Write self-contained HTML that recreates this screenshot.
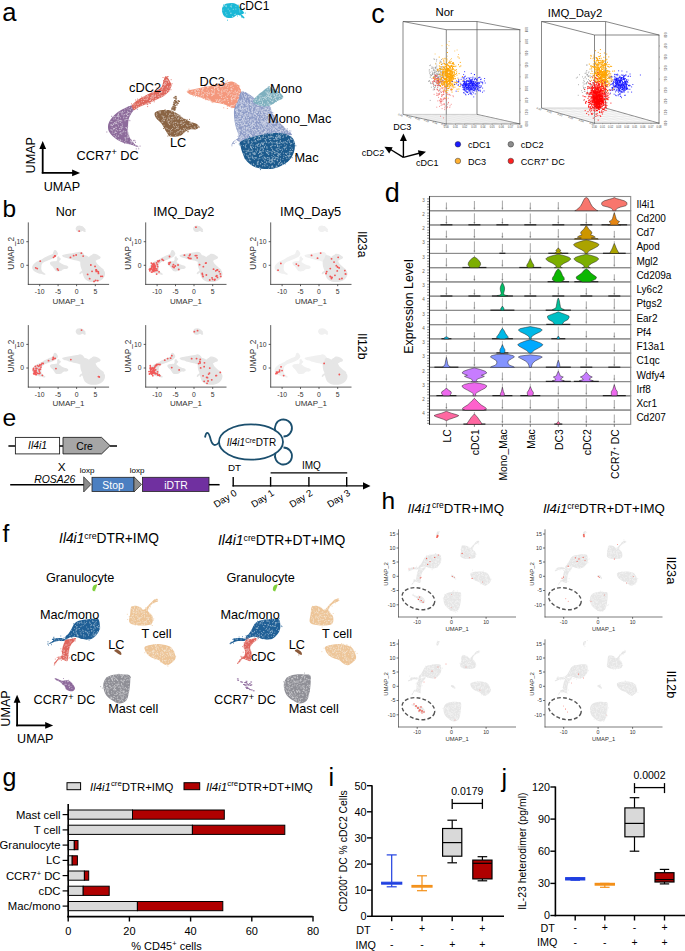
<!DOCTYPE html><html><head><meta charset="utf-8"><style>html,body{margin:0;padding:0;background:#fff;}svg{display:block;}</style></head><body>
<svg width="685" height="951" viewBox="0 0 685 951" font-family='"Liberation Sans", sans-serif'>
<rect width="685" height="951" fill="#fff"/>
<text x="2.3" y="21.2" font-size="25.6" fill="#000" >a</text>
<path d="M222.0,9.0 C222.2,7.8 222.7,6.4 223.5,5.5 C224.3,4.6 225.6,3.9 227.0,3.5 C228.4,3.1 230.5,2.9 232.0,3.0 C233.5,3.1 234.8,3.3 236.0,4.0 C237.2,4.7 238.4,5.9 239.5,7.0 C240.6,8.1 241.8,9.5 242.5,10.5 C243.2,11.5 244.2,12.3 244.0,13.0 C243.8,13.7 242.2,14.2 241.0,14.5 C239.8,14.8 238.3,14.5 237.0,15.0 C235.7,15.5 234.5,17.0 233.0,17.5 C231.5,18.0 229.4,18.2 228.0,18.0 C226.6,17.8 225.4,17.3 224.5,16.5 C223.6,15.7 222.9,14.2 222.5,13.0 C222.1,11.8 221.8,10.2 222.0,9.0Z" fill="#1ab8d6" />
<path d="M230.9,6.0h0.9M225.9,6.7h0.9M238.7,6.8h0.9M230.4,13.3h0.9M232.8,9.3h0.9M235.5,6.3h0.9M230.5,13.2h0.9M225.4,12.9h0.9M239.0,10.0h0.9M230.9,7.0h0.9M232.2,16.5h0.9M229.9,6.2h0.9M239.4,11.9h0.9M222.5,10.1h0.9M231.4,4.3h0.9M229.3,10.9h0.9M226.4,14.8h0.9M223.2,6.2h0.9M227.7,9.1h0.9M238.8,8.3h0.9M224.9,16.0h0.9M235.2,14.2h0.9M235.4,9.1h0.9M224.1,5.2h0.9M225.8,5.7h0.9M225.2,6.1h0.9M234.3,14.6h0.9" stroke="#bae9f2" stroke-width="0.9" opacity="0.9" />
<path d="M227.1,20.2h0.9M237.6,5.0h0.9M237.0,16.0h0.9M237.8,7.3h0.9M238.0,5.9h0.9M237.4,7.0h0.9M235.7,5.9h0.9M223.1,5.0h0.9M225.2,15.7h0.9M244.8,13.1h0.9M231.8,5.0h0.9" stroke="#1ab8d6" stroke-width="0.9" />
<path d="M239.0,13.0 C239.6,13.0 240.6,13.8 241.5,14.5 C242.4,15.2 244.2,16.9 244.5,17.5 C244.8,18.1 244.2,18.6 243.5,18.3 C242.8,18.1 241.4,16.6 240.5,16.0 C239.6,15.4 238.2,15.0 238.0,14.5 C237.8,14.0 238.4,13.0 239.0,13.0Z" fill="#1ab8d6" />
<path d="M240.1,15.5h0.9" stroke="#bae9f2" stroke-width="0.9" opacity="0.9" />
<path d="M241.2,17.1h0.9" stroke="#1ab8d6" stroke-width="0.9" />
<path d="M132.1,105.3 C134.2,104.9 136.6,105.4 137.0,106.1 C137.4,106.8 135.4,108.1 134.5,109.3 C133.6,110.5 132.2,111.9 131.3,113.4 C130.4,114.9 129.4,116.3 128.9,118.2 C128.4,120.1 128.2,122.2 128.1,124.6 C128.0,127.0 127.7,130.2 128.1,132.6 C128.5,135.0 129.4,137.2 130.5,139.1 C131.6,141.0 133.2,142.6 134.5,143.9 C135.8,145.2 138.0,146.3 138.5,146.8 C139.0,147.3 138.8,147.3 137.7,147.0 C136.6,146.7 134.4,145.7 132.1,145.0 C129.8,144.3 126.8,144.1 124.1,143.1 C121.4,142.1 118.5,140.8 116.1,139.1 C113.7,137.3 110.9,134.8 109.6,132.6 C108.2,130.4 107.9,128.3 108.0,126.2 C108.1,124.1 109.1,121.9 110.4,119.8 C111.8,117.7 113.8,115.3 116.1,113.4 C118.4,111.5 121.4,109.8 124.1,108.5 C126.8,107.2 129.9,105.7 132.1,105.3Z" fill="#8d6b9b" />
<path d="M120.5,132.7h0.9M126.6,117.1h0.9M121.4,121.1h0.9M128.3,134.3h0.9M128.3,112.5h0.9M127.5,132.7h0.9M130.7,141.4h0.9M118.5,122.0h0.9M111.4,127.5h0.9M128.5,136.5h0.9M121.5,113.9h0.9M122.3,127.4h0.9M126.9,131.6h0.9M120.7,120.7h0.9M125.9,117.6h0.9M113.3,124.5h0.9M121.6,140.8h0.9M115.6,116.7h0.9M125.5,142.4h0.9M119.7,139.8h0.9M122.5,112.4h0.9M118.1,125.9h0.9M118.2,135.9h0.9M125.4,127.5h0.9M127.3,129.6h0.9M120.6,112.2h0.9M115.0,136.8h0.9M112.8,123.6h0.9M132.6,110.2h0.9M113.2,116.8h0.9M119.1,128.6h0.9M114.0,128.6h0.9M132.9,108.7h0.9M128.7,135.5h0.9M127.7,112.2h0.9M126.8,137.0h0.9M126.6,119.5h0.9M127.1,113.1h0.9M119.5,133.7h0.9M115.2,123.8h0.9M132.2,141.8h0.9M120.1,117.8h0.9M118.8,130.6h0.9M117.7,119.3h0.9M118.0,139.9h0.9M126.6,128.2h0.9M120.2,126.7h0.9M114.5,132.3h0.9M113.0,129.0h0.9M121.3,128.9h0.9M115.8,129.5h0.9M127.6,126.3h0.9M136.6,146.0h0.9M110.3,129.8h0.9M123.3,115.0h0.9M125.5,114.0h0.9M115.8,132.5h0.9M115.2,127.2h0.9M115.6,137.3h0.9M118.2,113.2h0.9M132.2,106.5h0.9M116.9,116.5h0.9M125.6,117.6h0.9M130.1,110.1h0.9M117.3,116.2h0.9M126.6,140.1h0.9M119.6,120.3h0.9M117.7,120.9h0.9M124.4,137.8h0.9M114.8,131.2h0.9M131.2,108.2h0.9M121.3,134.2h0.9M131.4,143.0h0.9M116.0,135.0h0.9M114.7,118.9h0.9M127.0,115.4h0.9M121.5,123.8h0.9M110.4,121.3h0.9M131.3,142.9h0.9M124.3,141.6h0.9M131.6,108.1h0.9M125.2,131.7h0.9M129.5,109.7h0.9M116.2,127.3h0.9M126.2,114.4h0.9M117.4,124.0h0.9M123.3,131.8h0.9M122.0,111.5h0.9M123.3,130.9h0.9M126.4,108.2h0.9M125.0,137.9h0.9M125.5,119.4h0.9M132.2,105.7h0.9M110.7,124.4h0.9M113.3,128.4h0.9M127.6,109.0h0.9M127.8,115.7h0.9M124.5,119.9h0.9M127.2,130.5h0.9M126.4,128.5h0.9M130.2,140.5h0.9M126.5,119.6h0.9M125.0,140.1h0.9M113.3,119.0h0.9M128.4,119.6h0.9M124.6,120.8h0.9M127.6,143.8h0.9M117.6,115.2h0.9M111.8,133.0h0.9M128.2,137.3h0.9M124.3,111.2h0.9M120.5,128.3h0.9M116.1,123.4h0.9M119.7,140.2h0.9M115.0,132.5h0.9M123.2,117.9h0.9M130.1,144.2h0.9M121.8,132.1h0.9M129.9,114.3h0.9M135.1,145.8h0.9M116.8,130.7h0.9M120.0,120.8h0.9M116.7,119.8h0.9M114.1,122.6h0.9M128.6,112.7h0.9M119.9,122.5h0.9M129.4,115.0h0.9M124.1,114.6h0.9M115.8,121.7h0.9M119.4,112.2h0.9M112.8,124.6h0.9M127.2,135.8h0.9M113.4,128.9h0.9M129.1,107.3h0.9M120.2,133.2h0.9M118.0,114.3h0.9M127.2,115.6h0.9M115.5,122.3h0.9M113.6,135.5h0.9M110.6,124.9h0.9M121.4,126.4h0.9M127.0,111.3h0.9M125.3,134.1h0.9M112.1,125.5h0.9M121.5,112.9h0.9M126.2,127.6h0.9M126.7,137.8h0.9M111.7,125.7h0.9M121.1,127.9h0.9M131.0,141.5h0.9M111.4,129.9h0.9M126.4,113.9h0.9M122.1,125.2h0.9M133.1,144.3h0.9M113.7,133.5h0.9M118.2,117.9h0.9M127.7,132.3h0.9M124.3,109.1h0.9M119.4,120.5h0.9M118.3,116.5h0.9M117.8,136.3h0.9M119.9,130.4h0.9M115.0,118.2h0.9M110.7,125.4h0.9M111.4,121.5h0.9M117.8,114.5h0.9M124.9,138.8h0.9M120.1,140.4h0.9M113.8,116.5h0.9M130.4,112.8h0.9M134.7,106.3h0.9M118.8,116.1h0.9M117.6,115.3h0.9M115.6,123.3h0.9M111.4,130.2h0.9M127.4,133.9h0.9M117.7,121.3h0.9M112.3,131.0h0.9M114.5,123.2h0.9M123.5,117.0h0.9M121.6,114.8h0.9M129.8,141.8h0.9M114.3,128.4h0.9" stroke="#dcd2e1" stroke-width="0.9" opacity="0.9" />
<path d="M134.0,105.4h0.9M124.2,143.2h0.9M136.9,106.6h0.9M134.6,140.9h0.9M127.4,120.2h0.9M106.4,132.0h0.9M135.8,148.9h0.9M135.0,105.5h0.9M111.2,116.3h0.9M131.6,109.7h0.9M133.7,109.5h0.9M129.4,120.7h0.9M136.5,107.7h0.9M125.6,133.6h0.9M127.9,107.0h0.9M135.0,142.4h0.9M129.9,114.6h0.9M132.5,143.0h0.9M110.0,122.8h0.9M136.8,109.3h0.9M128.4,116.8h0.9M126.8,108.7h0.9M133.0,106.8h0.9M133.7,140.3h0.9M111.0,127.8h0.9M138.3,148.8h0.9M130.8,140.1h0.9M109.2,128.9h0.9M132.9,140.7h0.9M136.5,145.9h0.9M139.6,146.1h0.9" stroke="#8d6b9b" stroke-width="0.9" />
<path d="M132.1,105.3 C132.6,103.7 134.8,102.1 136.9,100.5 C139.1,98.9 142.3,97.2 145.0,95.7 C147.7,94.2 150.3,93.0 153.0,91.7 C155.7,90.4 159.3,89.5 161.0,87.7 C162.7,86.0 162.7,83.0 163.4,81.2 C164.1,79.4 164.3,77.4 165.0,76.7 C165.7,76.0 166.5,76.2 167.4,77.2 C168.3,78.2 170.0,81.3 170.7,82.8 C171.4,84.3 171.8,84.7 171.5,86.0 C171.2,87.3 170.2,89.3 169.0,90.9 C167.8,92.5 166.1,94.4 164.2,95.7 C162.3,97.0 159.9,97.8 157.8,98.9 C155.7,100.0 153.8,101.0 151.4,102.1 C149.0,103.2 145.7,104.4 143.4,105.3 C141.1,106.2 139.3,106.9 137.7,107.7 C136.1,108.5 134.6,110.5 133.7,110.1 C132.8,109.7 131.6,106.9 132.1,105.3Z" fill="#df675c" />
<path d="M152.3,95.8h0.9M152.3,92.8h0.9M156.0,91.2h0.9M147.8,96.2h0.9M152.6,92.9h0.9M154.9,96.3h0.9M163.5,95.6h0.9M163.2,87.0h0.9M147.2,99.0h0.9M136.3,106.4h0.9M137.8,104.3h0.9M160.9,96.3h0.9M161.0,91.7h0.9M155.1,95.8h0.9M151.0,101.9h0.9M150.2,97.5h0.9M147.5,103.0h0.9M133.2,104.2h0.9M144.6,104.1h0.9M161.2,92.5h0.9M151.0,96.1h0.9M160.3,92.6h0.9M149.9,100.5h0.9M164.2,85.2h0.9M168.2,81.3h0.9M145.8,103.7h0.9M147.2,95.6h0.9M165.8,79.9h0.9M151.8,98.0h0.9M146.7,98.3h0.9M164.0,94.9h0.9M153.1,97.2h0.9M157.4,94.8h0.9M151.2,97.7h0.9M133.7,106.0h0.9M161.5,89.5h0.9M168.6,88.0h0.9M165.4,82.8h0.9M141.9,104.8h0.9M142.9,99.0h0.9M167.1,80.3h0.9M147.2,102.5h0.9M152.6,101.1h0.9M159.6,95.1h0.9M146.8,96.0h0.9M168.5,90.7h0.9M134.1,108.6h0.9M154.3,96.2h0.9M159.1,97.0h0.9M144.2,99.6h0.9M164.6,80.7h0.9M152.1,100.5h0.9M151.8,95.3h0.9M144.7,97.1h0.9M168.2,82.4h0.9M155.6,98.7h0.9M166.5,80.7h0.9M145.3,99.1h0.9M146.2,96.9h0.9M155.2,95.0h0.9M147.6,103.6h0.9M134.4,103.2h0.9M144.5,96.6h0.9M143.1,101.5h0.9M165.1,84.7h0.9M147.6,97.1h0.9M163.3,84.6h0.9M138.0,107.0h0.9M159.3,93.1h0.9M166.4,79.9h0.9M164.3,92.0h0.9M161.5,91.6h0.9M141.2,99.6h0.9M165.9,91.4h0.9M137.7,100.1h0.9M167.2,90.4h0.9M166.1,83.1h0.9M164.0,83.8h0.9M160.8,95.9h0.9M165.7,89.2h0.9M164.9,94.7h0.9M134.7,104.7h0.9M142.7,97.6h0.9M152.5,96.4h0.9M166.8,87.2h0.9M146.3,99.7h0.9M164.2,84.1h0.9M167.1,86.6h0.9M150.7,98.8h0.9M136.8,104.1h0.9M161.9,88.2h0.9M149.1,100.5h0.9M164.6,82.7h0.9M152.7,98.8h0.9M154.9,98.9h0.9M157.8,96.5h0.9M166.1,92.6h0.9M140.5,105.9h0.9M159.0,93.7h0.9M153.2,95.0h0.9M148.1,103.2h0.9M153.9,91.3h0.9M161.9,87.6h0.9M148.3,103.2h0.9M170.0,86.1h0.9M161.8,95.7h0.9M141.3,101.8h0.9M152.9,92.3h0.9M136.2,107.2h0.9M150.2,99.7h0.9M169.4,86.8h0.9M139.2,103.1h0.9M141.9,104.4h0.9" stroke="#f5d1ce" stroke-width="0.9" opacity="0.9" />
<path d="M131.5,106.4h0.9M146.7,104.4h0.9M141.3,97.0h0.9M170.7,79.7h0.9M170.5,89.7h0.9M149.3,103.2h0.9M168.5,83.7h0.9M147.3,102.6h0.9M162.6,77.5h0.9M145.1,97.1h0.9M148.9,94.5h0.9M141.5,103.7h0.9M159.8,87.9h0.9M159.5,95.7h0.9M169.3,83.6h0.9M147.3,104.6h0.9M163.1,80.6h0.9M163.5,82.2h0.9M137.0,99.1h0.9M167.0,76.6h0.9M140.8,98.7h0.9M168.4,91.2h0.9M167.3,92.3h0.9M171.6,83.7h0.9M156.5,88.1h0.9M135.2,100.0h0.9M153.8,101.8h0.9M167.7,76.6h0.9M149.9,103.4h0.9M150.4,91.6h0.9M147.2,106.6h0.9M131.1,103.9h0.9" stroke="#df675c" stroke-width="0.9" />
<path d="M154.6,113.4 C154.9,112.2 156.2,111.5 157.8,111.0 C159.4,110.5 162.0,110.2 164.2,110.1 C166.3,110.0 168.5,110.0 170.7,110.5 C172.8,111.0 175.0,112.1 177.1,113.4 C179.2,114.7 181.4,116.9 183.5,118.2 C185.6,119.5 187.8,120.5 189.9,121.4 C192.1,122.3 194.9,122.9 196.4,123.8 C197.9,124.7 198.9,126.1 198.8,127.0 C198.7,127.9 197.1,129.0 195.6,129.4 C194.1,129.8 191.7,129.0 189.9,129.4 C188.2,129.8 186.7,130.7 185.1,131.8 C183.5,132.9 182.7,135.0 180.3,135.8 C177.9,136.6 172.8,137.0 170.7,136.6 C168.5,136.2 168.3,134.6 167.4,133.4 C166.5,132.2 166.1,131.1 165.0,129.4 C163.9,127.7 162.5,124.9 161.0,123.0 C159.5,121.1 157.3,119.8 156.2,118.2 C155.1,116.6 154.3,114.6 154.6,113.4Z" fill="#8a6444" />
<path d="M172.4,117.0h0.9M194.4,126.9h0.9M174.9,122.5h0.9M194.9,128.2h0.9M184.9,128.2h0.9M182.0,119.3h0.9M164.4,111.9h0.9M177.8,126.3h0.9M162.4,119.7h0.9M175.1,124.9h0.9M189.5,125.4h0.9M180.7,121.8h0.9M180.2,130.3h0.9M163.5,116.4h0.9M156.5,117.1h0.9M190.6,127.6h0.9M169.0,114.3h0.9M171.5,111.9h0.9M158.3,118.8h0.9M190.5,122.7h0.9M182.6,124.3h0.9M162.5,116.7h0.9M175.5,115.3h0.9M197.0,126.4h0.9M171.4,121.0h0.9M169.3,124.2h0.9M173.1,125.8h0.9M184.3,123.4h0.9M183.1,118.4h0.9M181.8,130.4h0.9M171.1,111.2h0.9M192.6,129.3h0.9M178.7,135.4h0.9M171.0,129.5h0.9M168.3,115.8h0.9M168.9,118.6h0.9M183.2,128.5h0.9M178.7,115.4h0.9M162.9,117.1h0.9M173.4,122.7h0.9M177.5,114.9h0.9M163.5,125.3h0.9M181.4,122.8h0.9M163.3,120.6h0.9M177.4,131.6h0.9M161.6,115.8h0.9M169.6,120.1h0.9M167.6,132.6h0.9M170.6,122.8h0.9M172.2,128.5h0.9M183.3,133.0h0.9M166.9,119.4h0.9M187.5,125.9h0.9M168.6,121.5h0.9M167.5,118.1h0.9M174.6,116.2h0.9M170.9,110.6h0.9M171.3,117.5h0.9M175.7,114.2h0.9M181.7,130.7h0.9M183.1,124.3h0.9M178.1,118.1h0.9M168.2,121.3h0.9M186.9,126.0h0.9M191.4,128.5h0.9M181.1,118.9h0.9M169.8,133.2h0.9M178.0,131.9h0.9M159.4,112.8h0.9M185.1,120.7h0.9M190.7,123.3h0.9M161.4,120.9h0.9M177.4,123.8h0.9M181.3,123.2h0.9M189.8,122.3h0.9M174.2,126.8h0.9M179.0,130.8h0.9M176.5,134.0h0.9M177.1,115.5h0.9M159.9,112.9h0.9M165.0,110.2h0.9M181.3,125.4h0.9M168.5,129.6h0.9M178.5,117.9h0.9M169.4,113.9h0.9M177.6,128.0h0.9M180.1,123.1h0.9M171.5,131.7h0.9M175.3,135.5h0.9M167.7,121.9h0.9M171.6,114.6h0.9M156.1,115.3h0.9M186.2,129.4h0.9M163.0,118.2h0.9M168.7,117.3h0.9M176.0,117.0h0.9M179.4,115.7h0.9M170.2,135.6h0.9M171.6,117.8h0.9M169.2,124.6h0.9M184.6,131.1h0.9M180.2,119.5h0.9M158.5,111.6h0.9M156.5,114.7h0.9M166.7,128.6h0.9M172.7,123.8h0.9M177.2,118.9h0.9M187.1,129.4h0.9M193.8,127.2h0.9M174.2,112.6h0.9M174.0,113.9h0.9M186.0,125.2h0.9M179.8,123.4h0.9M170.7,119.6h0.9M180.0,129.9h0.9M169.9,132.2h0.9M176.5,132.5h0.9M161.7,122.5h0.9M167.8,122.8h0.9M192.1,124.3h0.9M156.2,113.3h0.9M182.7,121.6h0.9M177.5,128.7h0.9M174.7,119.0h0.9M187.7,130.5h0.9M166.0,110.7h0.9M174.3,133.4h0.9M176.1,128.4h0.9M177.8,118.9h0.9M179.7,116.6h0.9M164.1,120.6h0.9M166.0,114.0h0.9M174.7,129.4h0.9M183.4,121.3h0.9M197.0,126.7h0.9M159.8,111.8h0.9M165.5,127.9h0.9M168.4,123.6h0.9M165.2,118.2h0.9M175.6,122.2h0.9M164.1,118.9h0.9M197.0,126.0h0.9M172.7,119.7h0.9M191.1,122.6h0.9M172.5,117.7h0.9M180.8,117.0h0.9M166.6,120.8h0.9M170.1,130.8h0.9M174.4,114.5h0.9M187.8,129.1h0.9M177.3,127.9h0.9M166.3,129.0h0.9M183.5,130.1h0.9M176.0,126.6h0.9M177.3,123.1h0.9M189.4,123.3h0.9M184.1,129.2h0.9M177.6,115.8h0.9M181.8,132.0h0.9M180.3,133.1h0.9M169.8,114.0h0.9M162.4,122.2h0.9" stroke="#dbd0c6" stroke-width="0.9" opacity="0.9" />
<path d="M163.1,128.5h0.9M186.6,119.5h0.9M155.9,116.9h0.9M159.2,120.2h0.9M199.1,127.1h0.9M184.6,119.4h0.9M183.4,131.9h0.9M196.8,127.2h0.9M187.7,131.7h0.9M178.1,135.1h0.9M196.2,125.9h0.9M187.4,131.7h0.9M179.4,115.3h0.9M166.4,129.6h0.9M156.9,111.9h0.9M164.6,109.7h0.9M170.1,133.1h0.9M165.5,130.0h0.9M187.1,129.1h0.9M167.4,136.1h0.9M189.1,119.4h0.9" stroke="#8a6444" stroke-width="0.9" />
<path d="M175.1,101.5h1.0M174.1,108.4h1.0M175.4,102.0h1.0M173.1,108.2h1.0M175.9,101.6h1.0M175.2,96.9h1.0M176.3,102.4h1.0M173.2,104.8h1.0M174.4,100.5h1.0M174.1,107.4h1.0M177.9,100.7h1.0M176.4,104.9h1.0M175.4,102.8h1.0M174.5,106.0h1.0M173.8,106.0h1.0M173.8,109.1h1.0M173.5,109.3h1.0M175.5,99.9h1.0M173.6,104.5h1.0M174.9,105.3h1.0M173.8,102.0h1.0M175.7,98.2h1.0M173.6,97.8h1.0M174.5,103.3h1.0M175.0,98.2h1.0M175.1,96.4h1.0M175.0,107.7h1.0M172.7,106.4h1.0M178.6,101.5h1.0M177.6,103.2h1.0M176.9,103.2h1.0M172.0,107.8h1.0M173.3,108.0h1.0M173.9,110.2h1.0M171.7,108.4h1.0M173.5,104.2h1.0M174.2,109.1h1.0M171.6,109.7h1.0M173.5,102.9h1.0M174.1,109.8h1.0" stroke="#8a6444" stroke-width="1.0" stroke-linecap="round" opacity="1.0"/>
<path d="M187.0,91.0 C188.2,90.0 193.4,89.3 197.5,88.4 C201.6,87.5 207.0,86.7 211.5,85.8 C216.0,84.9 221.5,83.8 224.7,83.1 C227.9,82.4 228.9,81.4 230.8,81.4 C232.7,81.4 234.5,82.1 236.0,83.1 C237.5,84.1 238.7,85.9 239.6,87.5 C240.5,89.1 241.1,90.7 241.3,92.8 C241.5,94.9 241.3,97.7 241.0,100.0 C240.7,102.3 241.0,105.5 239.6,106.8 C238.2,108.1 235.2,108.1 232.6,107.7 C230.0,107.3 226.7,105.1 223.8,104.2 C220.9,103.3 217.9,103.1 215.0,102.4 C212.1,101.7 209.2,100.8 206.3,99.8 C203.4,98.8 200.1,97.2 197.5,96.3 C194.9,95.4 192.2,95.4 190.5,94.5 C188.8,93.6 185.8,92.0 187.0,91.0Z" fill="#f4977c" />
<path d="M224.4,91.6h0.9M201.2,95.3h0.9M210.9,92.1h0.9M187.3,91.0h0.9M236.2,92.6h0.9M235.4,96.2h0.9M238.5,94.0h0.9M233.9,104.8h0.9M221.7,89.1h0.9M230.4,86.1h0.9M231.7,85.3h0.9M220.0,95.7h0.9M226.6,89.4h0.9M201.5,95.1h0.9M226.8,98.8h0.9M239.9,95.5h0.9M223.1,103.7h0.9M194.7,94.1h0.9M206.5,89.8h0.9M196.2,92.5h0.9M207.7,87.4h0.9M238.7,105.0h0.9M227.0,90.1h0.9M214.3,90.1h0.9M231.1,99.7h0.9M236.3,94.2h0.9M212.3,89.6h0.9M232.8,105.7h0.9M217.8,101.3h0.9M240.8,93.3h0.9M195.1,93.1h0.9M195.0,90.0h0.9M220.8,91.4h0.9M202.5,97.2h0.9M212.3,94.1h0.9M230.8,98.9h0.9M208.8,100.5h0.9M218.6,90.2h0.9M234.6,99.2h0.9M234.7,97.5h0.9M195.2,95.0h0.9M230.8,89.5h0.9M236.5,84.8h0.9M217.1,99.8h0.9M237.6,104.4h0.9M209.3,100.0h0.9M219.2,99.7h0.9M212.7,94.3h0.9M206.4,94.5h0.9M220.2,102.4h0.9M237.1,92.0h0.9M241.2,93.9h0.9M228.3,83.4h0.9M209.9,100.3h0.9M237.1,99.5h0.9M234.8,90.9h0.9M203.0,95.9h0.9M217.9,90.4h0.9M208.9,93.9h0.9M225.7,98.0h0.9M193.9,91.0h0.9M207.3,95.7h0.9M212.6,86.5h0.9M238.6,99.2h0.9M211.1,89.5h0.9M218.0,101.2h0.9M230.5,94.5h0.9M212.3,94.0h0.9M233.0,98.5h0.9M223.4,97.5h0.9M221.4,101.4h0.9M234.7,91.7h0.9M215.9,101.5h0.9M227.3,87.6h0.9M194.8,91.5h0.9M232.4,105.6h0.9M211.9,95.5h0.9M236.6,95.9h0.9M207.0,87.8h0.9M199.1,92.9h0.9M226.1,85.6h0.9M194.6,90.7h0.9M198.1,94.6h0.9M212.3,90.7h0.9M215.8,87.6h0.9M219.1,95.1h0.9M235.4,95.7h0.9M205.8,99.0h0.9M238.5,95.9h0.9M203.2,94.5h0.9M208.4,99.5h0.9M220.6,93.9h0.9M223.9,99.8h0.9M227.2,98.5h0.9M238.1,88.7h0.9M202.5,94.3h0.9M221.1,97.5h0.9M213.2,93.9h0.9M193.0,94.9h0.9M214.3,87.3h0.9M221.6,94.4h0.9M221.2,90.9h0.9M200.6,97.3h0.9M209.3,100.5h0.9M239.1,93.4h0.9M237.5,92.2h0.9M197.7,94.0h0.9M206.6,92.5h0.9M238.0,99.2h0.9M227.5,100.6h0.9M196.4,89.4h0.9M205.3,93.0h0.9M217.0,89.3h0.9M235.4,83.9h0.9M231.3,101.7h0.9M234.0,98.7h0.9M224.5,90.0h0.9M211.3,93.2h0.9M190.3,93.2h0.9M214.0,88.5h0.9M234.5,93.1h0.9M213.6,94.1h0.9M222.6,100.6h0.9M232.7,87.6h0.9M238.8,93.6h0.9M203.7,87.8h0.9M238.2,96.6h0.9M202.3,88.7h0.9M187.3,91.2h0.9M214.7,87.4h0.9M206.4,97.3h0.9M215.9,101.3h0.9M237.0,86.4h0.9M208.0,91.1h0.9M196.3,89.1h0.9M201.0,92.9h0.9M239.6,96.5h0.9M213.8,92.9h0.9M239.3,98.9h0.9M198.9,90.7h0.9M218.9,102.1h0.9M229.0,91.7h0.9M201.6,90.5h0.9M197.6,89.7h0.9M228.5,92.7h0.9M197.8,92.3h0.9M220.3,86.6h0.9M202.4,88.8h0.9M233.4,95.8h0.9M206.8,98.7h0.9M238.2,100.1h0.9M198.0,89.8h0.9M209.3,92.8h0.9M227.0,83.3h0.9M238.7,104.4h0.9M231.3,99.6h0.9M222.0,85.8h0.9M232.2,96.4h0.9M223.5,90.3h0.9M191.8,91.1h0.9M239.3,91.1h0.9M235.8,103.8h0.9M231.1,88.8h0.9M221.0,86.7h0.9M220.2,86.9h0.9M230.7,98.3h0.9M217.5,88.6h0.9M211.5,93.3h0.9M219.2,100.4h0.9M224.5,100.3h0.9M234.1,83.9h0.9M214.0,91.2h0.9M215.5,85.5h0.9M197.1,90.4h0.9M221.4,92.5h0.9M201.4,91.0h0.9M213.9,87.6h0.9M238.4,90.3h0.9M199.7,96.1h0.9M232.2,95.1h0.9M204.1,98.5h0.9M240.5,95.8h0.9M231.0,97.8h0.9M217.7,89.0h0.9M218.4,93.3h0.9M206.9,95.3h0.9M226.0,92.0h0.9M234.2,96.0h0.9M208.4,93.5h0.9M231.5,105.5h0.9M195.6,94.3h0.9M226.2,84.4h0.9M207.0,93.1h0.9M226.9,95.2h0.9M229.8,95.6h0.9M200.3,88.8h0.9M217.9,86.1h0.9M221.3,95.9h0.9M227.3,93.1h0.9M238.1,106.1h0.9M225.2,85.9h0.9M240.0,96.9h0.9M230.5,86.4h0.9M217.4,93.2h0.9M231.6,89.4h0.9M228.0,102.7h0.9M223.0,84.4h0.9M224.5,99.6h0.9M225.4,89.8h0.9M231.6,100.0h0.9M228.6,93.1h0.9M217.0,86.9h0.9M207.9,98.8h0.9M231.0,105.4h0.9M239.5,106.0h0.9M220.4,99.9h0.9M191.3,91.5h0.9M238.0,101.1h0.9M227.9,85.9h0.9M222.7,91.2h0.9M240.7,96.4h0.9M225.2,96.3h0.9M218.4,90.8h0.9M216.4,86.5h0.9M235.7,103.5h0.9M230.3,92.2h0.9M231.3,91.1h0.9M236.9,100.8h0.9M222.6,86.6h0.9M228.0,102.6h0.9M232.8,92.8h0.9M230.5,89.0h0.9M216.3,100.6h0.9M202.6,91.4h0.9M198.1,92.9h0.9M211.2,95.7h0.9M226.8,83.2h0.9M202.8,88.8h0.9M237.7,103.0h0.9M232.4,99.1h0.9M230.3,106.3h0.9M230.3,106.0h0.9M230.3,106.6h0.9M227.9,94.3h0.9M215.5,99.7h0.9M204.1,92.9h0.9M202.2,89.8h0.9M194.8,93.1h0.9M238.2,104.6h0.9M216.8,86.8h0.9" stroke="#fbdfd7" stroke-width="0.9" opacity="0.9" />
<path d="M199.0,96.7h0.9M193.2,90.9h0.9M188.5,89.2h0.9M192.1,93.4h0.9M226.9,80.7h0.9M239.3,107.9h0.9M237.5,85.3h0.9M195.0,96.3h0.9M238.1,85.5h0.9M213.1,84.4h0.9M205.4,99.7h0.9M223.3,107.8h0.9M191.0,90.7h0.9M225.5,81.8h0.9M216.5,83.9h0.9M239.9,89.6h0.9M211.6,102.1h0.9M217.6,84.8h0.9M240.2,106.5h0.9M239.2,86.1h0.9M189.9,93.8h0.9M242.5,100.3h0.9M190.0,91.9h0.9M242.5,99.8h0.9M237.2,85.9h0.9M189.5,90.8h0.9M226.9,108.5h0.9M235.1,106.1h0.9M205.4,86.5h0.9M238.0,88.5h0.9M236.6,85.9h0.9M241.0,97.9h0.9M192.8,95.8h0.9M205.6,97.0h0.9M240.3,99.4h0.9M240.2,102.5h0.9M241.0,104.9h0.9M197.3,96.8h0.9M237.0,106.4h0.9M212.5,102.6h0.9M189.4,91.0h0.9M189.9,91.5h0.9M231.5,107.7h0.9M204.1,86.8h0.9M226.9,106.2h0.9M213.5,86.6h0.9" stroke="#f4977c" stroke-width="0.9" />
<path d="M241.0,92.0 C242.3,90.8 244.5,91.9 246.6,92.8 C248.7,93.7 251.7,96.0 253.6,97.5 C255.5,99.0 256.3,100.8 258.0,102.0 C259.7,103.2 262.0,104.2 264.0,105.0 C266.0,105.8 268.8,105.7 270.0,106.5 C271.2,107.3 270.3,108.4 271.0,110.0 C271.7,111.6 272.5,113.8 274.0,116.0 C275.5,118.2 278.0,120.8 280.0,123.0 C282.0,125.2 284.0,127.0 286.0,129.0 C288.0,131.0 292.3,133.9 292.1,134.8 C291.9,135.7 287.9,134.8 285.0,134.5 C282.1,134.2 278.4,133.0 274.6,133.1 C270.8,133.2 266.4,134.1 262.3,134.8 C258.2,135.5 253.8,136.3 250.1,137.5 C246.4,138.7 242.8,141.4 240.4,141.8 C238.1,142.2 237.4,139.4 236.0,140.0 C234.6,140.6 232.2,145.0 231.7,145.3 C231.2,145.6 231.8,143.4 233.0,142.0 C234.2,140.6 238.2,139.0 238.7,136.6 C239.2,134.2 236.7,130.7 236.0,127.8 C235.3,124.9 234.6,122.3 234.3,119.1 C234.0,115.9 233.6,111.7 234.3,108.5 C235.0,105.3 237.4,102.8 238.5,100.0 C239.6,97.2 239.7,93.2 241.0,92.0Z" fill="#8e9cc7" />
<path d="M269.8,124.2h0.9M267.0,110.1h0.9M257.0,110.9h0.9M246.7,135.0h0.9M270.5,115.7h0.9M239.5,140.0h0.9M252.2,109.5h0.9M275.3,121.4h0.9M243.5,93.6h0.9M256.3,133.9h0.9M257.0,109.2h0.9M252.9,99.3h0.9M264.7,124.9h0.9M286.8,134.4h0.9M250.5,119.9h0.9M259.0,129.3h0.9M254.3,101.6h0.9M251.9,123.9h0.9M242.4,111.1h0.9M273.9,132.1h0.9M260.9,118.6h0.9M240.4,140.6h0.9M243.3,116.2h0.9M240.4,105.6h0.9M253.3,119.1h0.9M252.5,122.8h0.9M270.0,127.2h0.9M263.0,126.3h0.9M253.5,116.5h0.9M251.0,105.8h0.9M264.7,127.2h0.9M287.9,132.4h0.9M236.0,105.1h0.9M283.5,128.0h0.9M261.4,110.4h0.9M249.3,135.6h0.9M246.9,133.7h0.9M252.0,127.3h0.9M246.9,104.7h0.9M245.8,137.5h0.9M250.5,128.5h0.9M272.0,123.2h0.9M254.5,132.8h0.9M254.7,117.0h0.9M240.9,138.7h0.9M240.6,136.9h0.9M267.8,118.8h0.9M252.1,108.0h0.9M262.6,132.6h0.9M251.3,115.2h0.9M270.5,127.8h0.9M249.7,115.8h0.9M257.1,112.5h0.9M251.8,111.5h0.9M243.5,122.3h0.9M247.1,113.6h0.9M245.6,97.6h0.9M262.5,110.7h0.9M237.2,110.2h0.9M239.1,132.6h0.9M243.0,125.3h0.9M256.7,130.9h0.9M241.4,139.9h0.9M263.8,125.8h0.9M253.7,123.6h0.9M259.9,130.4h0.9M263.3,107.2h0.9M246.3,118.1h0.9M253.7,106.4h0.9M250.1,105.2h0.9M241.5,100.0h0.9M273.5,119.9h0.9M244.5,122.6h0.9M253.0,101.6h0.9M268.7,126.0h0.9M251.2,110.6h0.9M278.1,129.1h0.9M262.7,109.5h0.9M240.5,114.8h0.9M245.6,103.6h0.9M242.2,132.5h0.9M260.4,119.8h0.9M237.1,114.7h0.9M250.0,134.4h0.9M270.9,110.0h0.9M243.1,98.9h0.9M252.1,126.2h0.9M274.1,122.8h0.9M236.3,109.6h0.9M241.3,114.0h0.9M249.2,123.7h0.9M261.2,132.4h0.9M272.8,132.3h0.9M240.2,112.7h0.9M272.1,120.9h0.9M247.8,126.9h0.9M245.9,110.4h0.9M258.3,104.7h0.9M266.8,106.0h0.9M240.3,117.9h0.9M244.1,108.4h0.9M238.4,116.5h0.9M249.1,129.1h0.9M255.4,120.6h0.9M237.1,127.2h0.9M276.7,122.6h0.9M277.0,128.9h0.9M244.2,127.2h0.9M284.0,127.4h0.9M251.4,124.5h0.9M242.2,128.2h0.9M235.3,110.6h0.9M235.4,109.8h0.9M272.3,130.7h0.9M264.1,122.2h0.9M276.3,127.6h0.9M244.3,96.3h0.9M254.1,122.0h0.9M240.0,123.2h0.9M258.5,128.2h0.9M241.2,138.6h0.9M256.8,107.3h0.9M254.9,101.4h0.9M249.0,95.2h0.9M246.4,127.3h0.9M284.8,134.0h0.9M246.3,127.8h0.9M252.8,102.4h0.9M248.3,111.1h0.9M246.1,117.0h0.9M274.9,130.7h0.9M244.6,133.1h0.9M247.4,115.7h0.9M272.4,113.6h0.9M267.9,133.1h0.9M252.4,129.6h0.9M263.5,125.1h0.9M251.7,100.6h0.9M262.8,123.8h0.9M264.6,131.5h0.9M245.3,113.7h0.9M255.3,128.0h0.9M244.4,124.4h0.9M249.0,116.2h0.9M262.4,116.7h0.9M241.5,137.9h0.9M285.4,129.3h0.9M280.0,130.7h0.9M257.6,116.5h0.9M245.7,105.7h0.9M252.4,131.9h0.9M258.2,107.5h0.9M240.3,112.6h0.9M284.0,130.3h0.9M277.2,120.4h0.9M239.4,121.4h0.9M255.8,111.0h0.9M238.3,131.5h0.9M256.3,102.5h0.9M261.7,128.4h0.9M236.9,122.1h0.9M238.2,112.2h0.9M242.3,135.8h0.9M267.9,107.9h0.9M241.0,100.2h0.9M261.0,127.8h0.9M265.0,114.4h0.9M263.1,117.4h0.9M259.4,105.4h0.9M258.9,113.3h0.9M261.9,124.9h0.9M245.7,108.8h0.9M257.1,123.9h0.9M246.1,132.5h0.9M242.9,102.2h0.9M234.6,119.7h0.9M266.0,124.6h0.9M254.8,101.4h0.9M257.7,121.2h0.9M264.8,122.3h0.9M270.8,123.7h0.9M267.4,106.8h0.9M255.2,110.7h0.9M247.2,106.9h0.9M237.5,130.3h0.9M246.9,124.7h0.9M272.5,123.7h0.9M245.7,128.4h0.9M258.1,108.9h0.9M247.4,131.2h0.9M242.6,124.4h0.9M242.6,121.0h0.9M246.3,117.2h0.9M280.3,131.8h0.9M243.4,130.4h0.9M273.8,132.7h0.9M259.0,127.1h0.9M238.5,115.8h0.9M245.2,96.5h0.9M261.4,112.4h0.9M278.5,131.9h0.9M256.2,107.4h0.9M266.2,123.3h0.9M238.6,129.5h0.9M267.6,131.5h0.9M249.6,123.5h0.9M262.0,109.9h0.9M250.8,99.7h0.9M242.6,136.5h0.9M238.1,125.6h0.9M268.4,108.8h0.9M260.7,121.3h0.9M234.9,110.1h0.9M267.4,121.5h0.9M244.5,124.2h0.9M252.2,108.3h0.9M250.2,107.5h0.9M235.0,122.9h0.9M256.4,112.7h0.9M267.0,113.0h0.9M261.2,114.9h0.9M251.5,119.0h0.9M255.3,102.9h0.9M250.0,126.0h0.9M280.6,129.7h0.9M265.9,113.1h0.9M276.1,128.1h0.9M264.3,112.2h0.9M249.1,128.4h0.9M238.5,121.5h0.9M270.2,133.6h0.9M279.5,133.7h0.9M264.5,109.6h0.9M246.4,128.5h0.9M257.7,103.8h0.9M257.8,135.7h0.9M260.9,130.9h0.9M264.1,132.4h0.9M265.8,112.5h0.9M248.0,111.4h0.9M273.9,123.5h0.9M249.4,98.8h0.9M263.7,109.1h0.9M263.1,122.3h0.9M254.8,113.9h0.9M241.6,135.7h0.9M241.4,104.1h0.9M259.1,105.4h0.9M244.1,92.5h0.9M248.8,111.4h0.9M244.7,116.3h0.9M256.2,115.2h0.9M240.4,130.0h0.9M248.3,108.6h0.9M241.3,123.7h0.9M282.3,128.4h0.9M269.9,110.7h0.9M243.1,117.7h0.9M260.7,126.7h0.9M237.1,111.7h0.9M257.5,110.9h0.9M241.0,138.2h0.9M238.4,103.1h0.9M270.7,122.4h0.9M275.2,127.4h0.9M265.6,117.2h0.9M252.4,105.3h0.9M279.3,129.3h0.9M239.6,107.8h0.9M251.7,111.9h0.9M248.0,119.6h0.9M251.3,136.5h0.9M273.7,128.5h0.9M242.9,140.6h0.9M260.5,105.7h0.9M260.8,111.6h0.9M265.5,116.8h0.9M248.6,121.3h0.9M275.0,120.2h0.9M255.5,117.1h0.9M267.1,109.5h0.9M280.2,131.1h0.9M243.0,120.2h0.9M258.8,104.9h0.9M241.9,113.5h0.9M241.1,120.7h0.9M243.2,101.1h0.9M253.9,129.7h0.9M250.1,100.1h0.9M249.3,130.3h0.9M258.6,129.5h0.9M261.0,118.7h0.9M269.6,132.8h0.9M275.5,126.5h0.9M261.0,112.3h0.9M273.4,128.6h0.9M243.9,101.2h0.9M249.5,124.4h0.9M260.4,114.5h0.9M264.1,122.8h0.9M270.9,116.6h0.9M248.0,128.1h0.9M237.9,108.2h0.9M268.9,111.7h0.9M259.3,118.8h0.9M263.9,128.6h0.9M260.6,123.6h0.9M255.4,129.8h0.9M245.0,107.8h0.9M285.6,132.1h0.9M247.9,137.1h0.9M252.9,115.1h0.9M245.1,103.9h0.9M264.3,131.5h0.9M244.2,108.1h0.9M265.2,132.9h0.9M241.8,137.4h0.9M244.3,110.2h0.9M252.2,119.8h0.9M263.0,123.7h0.9M256.8,127.3h0.9M260.2,116.9h0.9M251.7,109.6h0.9M264.5,131.7h0.9M240.5,102.6h0.9M253.8,111.4h0.9M251.1,102.6h0.9M272.4,127.8h0.9M265.7,106.7h0.9M262.6,133.9h0.9M258.4,110.2h0.9M266.7,128.8h0.9M272.5,117.4h0.9M255.6,134.4h0.9M254.7,114.0h0.9M269.5,123.4h0.9M264.5,123.1h0.9M244.5,131.4h0.9M256.1,112.6h0.9M252.3,112.3h0.9M268.5,117.2h0.9M248.1,96.9h0.9M264.2,124.1h0.9M250.2,136.4h0.9M269.5,112.2h0.9M247.3,102.2h0.9M270.8,120.4h0.9M263.5,114.6h0.9M250.0,101.1h0.9M242.7,139.5h0.9M257.6,132.9h0.9M240.0,101.5h0.9M279.8,126.8h0.9M259.8,131.2h0.9M245.7,130.1h0.9M239.3,100.9h0.9M266.7,119.3h0.9M277.5,124.2h0.9M236.8,104.2h0.9M240.4,103.7h0.9M272.5,129.9h0.9M244.6,114.5h0.9M247.6,117.8h0.9M261.9,121.0h0.9M239.7,136.3h0.9M268.8,122.1h0.9M261.5,133.7h0.9M250.0,103.1h0.9M271.5,116.7h0.9M284.3,130.8h0.9M264.4,132.3h0.9M265.9,112.7h0.9M252.2,96.7h0.9M265.6,106.8h0.9M262.6,134.1h0.9M255.5,134.2h0.9M246.6,105.3h0.9M244.4,114.3h0.9M286.3,129.5h0.9M251.0,135.4h0.9M271.7,118.1h0.9M261.2,122.7h0.9M258.2,132.4h0.9M271.2,125.5h0.9M257.3,107.7h0.9M246.5,104.3h0.9M257.8,135.7h0.9M235.3,121.4h0.9M252.5,104.2h0.9M261.7,121.9h0.9M254.9,121.5h0.9M236.9,111.6h0.9M256.8,102.3h0.9M257.8,116.8h0.9M274.8,130.1h0.9M244.6,108.6h0.9M249.8,99.4h0.9M236.5,111.6h0.9M241.9,129.2h0.9M242.1,140.7h0.9M256.0,130.7h0.9M244.3,100.1h0.9M264.6,125.1h0.9M277.8,132.9h0.9M261.2,105.5h0.9M270.7,119.1h0.9M242.9,98.2h0.9M281.6,133.5h0.9M236.1,124.6h0.9M269.9,130.1h0.9M260.8,114.9h0.9M240.4,108.3h0.9M254.0,121.9h0.9M245.3,120.7h0.9M266.6,120.2h0.9M266.0,114.9h0.9M254.2,100.4h0.9M242.2,120.9h0.9M263.2,134.0h0.9M238.7,137.5h0.9M258.3,125.2h0.9M271.7,119.0h0.9M256.3,108.7h0.9M240.9,135.2h0.9M285.2,132.7h0.9M241.9,105.1h0.9M252.9,97.3h0.9M242.2,129.9h0.9M267.3,115.3h0.9M241.9,96.9h0.9M267.2,127.3h0.9M244.3,127.1h0.9M246.6,138.9h0.9M264.3,122.9h0.9M259.2,129.7h0.9M250.2,122.1h0.9M241.2,111.3h0.9M269.8,131.4h0.9M240.5,121.8h0.9M252.3,99.1h0.9M242.3,102.7h0.9M240.1,123.7h0.9M257.1,107.9h0.9M236.0,110.9h0.9M235.3,118.9h0.9M262.8,121.7h0.9M254.8,99.0h0.9M240.7,109.4h0.9M281.2,124.5h0.9M253.7,100.2h0.9M258.4,114.5h0.9M262.9,133.5h0.9M268.6,128.4h0.9M257.6,102.2h0.9M240.4,136.3h0.9M243.7,116.2h0.9M254.0,113.9h0.9M237.2,113.0h0.9M236.9,109.7h0.9M267.2,122.0h0.9M265.1,129.4h0.9M238.9,131.0h0.9M249.7,134.7h0.9M238.8,134.6h0.9M242.0,108.7h0.9M276.4,126.9h0.9M265.3,122.1h0.9M256.9,103.7h0.9M243.5,127.7h0.9M255.0,129.6h0.9M259.4,108.0h0.9M262.8,111.9h0.9M239.6,109.6h0.9M245.1,99.1h0.9M267.6,109.7h0.9M247.3,104.6h0.9M271.5,111.2h0.9M241.1,113.1h0.9M249.4,96.5h0.9M236.1,111.9h0.9M262.4,128.3h0.9M255.2,124.9h0.9M270.2,129.4h0.9M265.2,123.8h0.9M254.2,105.3h0.9M243.4,133.7h0.9M252.2,123.8h0.9M262.2,106.2h0.9M236.1,127.0h0.9M239.6,108.5h0.9M258.2,134.3h0.9M242.6,119.1h0.9M276.3,121.6h0.9M283.2,132.1h0.9M258.7,102.7h0.9M236.6,108.2h0.9M242.1,115.1h0.9M240.2,137.9h0.9M243.8,119.1h0.9M236.1,121.2h0.9M245.3,102.8h0.9M261.8,121.7h0.9M250.0,107.8h0.9M265.4,121.2h0.9M241.1,124.7h0.9M254.5,112.8h0.9M285.7,128.8h0.9M250.8,130.1h0.9M278.9,131.5h0.9M254.0,120.9h0.9M252.6,113.9h0.9M239.0,108.1h0.9M241.9,123.0h0.9M265.6,129.9h0.9M266.2,108.5h0.9M259.9,109.1h0.9M262.1,129.7h0.9M265.8,130.2h0.9M250.6,135.6h0.9M260.4,103.9h0.9M237.7,128.9h0.9M265.8,115.6h0.9M278.5,123.4h0.9M239.1,118.4h0.9M239.9,107.3h0.9M266.9,121.7h0.9M246.6,128.1h0.9M269.8,122.1h0.9M237.1,127.8h0.9M237.8,123.5h0.9M272.1,117.6h0.9M278.4,129.4h0.9M250.5,116.7h0.9M253.5,118.9h0.9M243.4,121.9h0.9M237.6,123.2h0.9M244.1,95.1h0.9M242.1,119.6h0.9M246.3,134.9h0.9M259.3,103.0h0.9M256.9,120.3h0.9M240.4,118.5h0.9M247.7,133.3h0.9M246.2,129.4h0.9M242.2,119.4h0.9M256.1,108.8h0.9M265.1,120.8h0.9M250.0,120.1h0.9M246.7,119.7h0.9M271.7,118.4h0.9M268.0,125.7h0.9M283.8,133.3h0.9M268.3,121.2h0.9M257.9,117.1h0.9M285.4,129.2h0.9M246.0,96.7h0.9M258.2,124.8h0.9M257.8,105.6h0.9M251.6,104.0h0.9M243.6,137.9h0.9M240.4,126.0h0.9M250.5,104.2h0.9M248.5,133.1h0.9M245.2,135.8h0.9M268.2,111.4h0.9M264.9,112.4h0.9M235.4,114.6h0.9M262.2,123.2h0.9M245.7,124.6h0.9M238.2,118.9h0.9M270.4,126.9h0.9M258.5,109.8h0.9M255.5,99.9h0.9M279.1,132.2h0.9M256.0,112.0h0.9M265.1,108.2h0.9M249.8,120.8h0.9M241.7,95.7h0.9M238.4,126.6h0.9M247.3,93.7h0.9M257.0,102.3h0.9M278.1,122.9h0.9M245.3,97.4h0.9M257.2,118.7h0.9M277.7,126.4h0.9M237.2,104.6h0.9M252.8,115.9h0.9M264.6,125.0h0.9M238.4,139.8h0.9M248.8,113.1h0.9M247.8,96.8h0.9M243.9,133.6h0.9M247.2,104.7h0.9M244.2,123.5h0.9M264.8,108.9h0.9M239.5,114.2h0.9M247.4,103.1h0.9M239.6,138.0h0.9M270.4,125.0h0.9M242.9,109.4h0.9M251.1,99.2h0.9M245.9,125.2h0.9M241.4,134.9h0.9M273.5,128.7h0.9M278.7,125.7h0.9M250.2,104.6h0.9M252.9,107.3h0.9M252.2,106.5h0.9M268.6,130.1h0.9M257.4,103.3h0.9M246.2,95.6h0.9M254.6,102.3h0.9M245.2,139.6h0.9M280.1,130.8h0.9M262.2,118.4h0.9M250.8,120.2h0.9M241.0,104.3h0.9M245.7,109.2h0.9M265.4,111.9h0.9M265.8,111.8h0.9M250.5,104.3h0.9M263.6,128.1h0.9M265.1,108.3h0.9M246.4,131.6h0.9M242.8,126.0h0.9M266.2,127.6h0.9M263.8,111.2h0.9M261.9,113.9h0.9M288.6,132.3h0.9M243.8,128.6h0.9M270.9,115.4h0.9M276.9,122.1h0.9M246.1,134.1h0.9M239.8,130.7h0.9M269.4,125.0h0.9M267.4,120.8h0.9M249.6,114.1h0.9M247.5,114.7h0.9M271.4,128.5h0.9M237.5,119.6h0.9M245.4,115.3h0.9M243.3,137.2h0.9M264.6,131.5h0.9M256.3,115.5h0.9M269.2,118.2h0.9M235.6,116.3h0.9M242.2,108.6h0.9M245.7,136.2h0.9M242.6,106.0h0.9M266.5,113.1h0.9M274.7,123.4h0.9M255.0,114.4h0.9M247.9,94.6h0.9M267.2,120.8h0.9M288.0,131.9h0.9M254.0,126.4h0.9M249.2,104.4h0.9M273.5,127.7h0.9M238.6,124.0h0.9M250.9,128.0h0.9M257.5,103.7h0.9M256.7,134.8h0.9M235.9,109.2h0.9M270.5,113.7h0.9M264.9,126.6h0.9M260.9,118.4h0.9M265.3,114.2h0.9M240.0,116.6h0.9M240.2,113.4h0.9M237.6,127.7h0.9M277.3,125.8h0.9M257.1,118.3h0.9M248.6,126.6h0.9M267.7,124.4h0.9M268.4,117.6h0.9M238.7,112.1h0.9M264.7,118.3h0.9M270.9,120.0h0.9M246.9,100.8h0.9M266.6,132.1h0.9M269.1,121.4h0.9M261.8,129.8h0.9M264.7,133.3h0.9M256.6,104.4h0.9M248.4,129.8h0.9M255.7,130.7h0.9M262.3,124.3h0.9M259.2,112.3h0.9M266.6,109.8h0.9M250.0,125.9h0.9M238.7,103.2h0.9M277.4,125.2h0.9M247.9,106.0h0.9M247.5,110.2h0.9M249.9,98.8h0.9M236.0,105.3h0.9M249.9,99.4h0.9M256.3,102.7h0.9M248.2,109.7h0.9M277.8,126.0h0.9M252.2,124.6h0.9M249.7,96.8h0.9M243.9,118.0h0.9M243.6,129.1h0.9M244.6,102.8h0.9M247.6,131.9h0.9M243.6,117.4h0.9M265.5,130.1h0.9M236.2,113.1h0.9M241.7,131.5h0.9M268.0,114.6h0.9M255.9,115.2h0.9M258.2,107.8h0.9M262.7,115.3h0.9M281.4,128.3h0.9M280.7,133.3h0.9M264.2,107.8h0.9M236.1,106.1h0.9M240.9,105.5h0.9M246.4,120.9h0.9M272.4,113.1h0.9M285.5,132.4h0.9M257.3,132.8h0.9M243.3,120.9h0.9M241.5,104.7h0.9M279.9,132.2h0.9M264.9,120.8h0.9M253.0,125.5h0.9M285.3,130.7h0.9M251.9,132.1h0.9M242.9,100.3h0.9M248.1,117.5h0.9M240.9,125.7h0.9M236.3,119.1h0.9M270.1,119.7h0.9M273.4,129.5h0.9M238.6,130.5h0.9M236.7,125.7h0.9M254.3,131.6h0.9M259.8,121.1h0.9M274.8,129.5h0.9M258.0,105.1h0.9M251.2,97.2h0.9M238.5,123.2h0.9M242.9,137.7h0.9M242.1,125.6h0.9M269.3,107.7h0.9M277.5,131.8h0.9M238.3,132.7h0.9M250.3,121.4h0.9M240.7,100.8h0.9M278.4,121.2h0.9M249.6,132.3h0.9M254.4,136.1h0.9M264.4,116.3h0.9M281.8,130.3h0.9M281.9,130.7h0.9M247.8,103.6h0.9M266.4,121.5h0.9M247.1,138.7h0.9M245.9,127.9h0.9M282.7,131.8h0.9M251.3,109.1h0.9M262.2,114.1h0.9M264.0,112.0h0.9M259.8,110.3h0.9M251.1,136.1h0.9M246.2,109.5h0.9M285.4,129.0h0.9M245.6,124.5h0.9M251.8,133.3h0.9M252.8,101.1h0.9M244.1,101.6h0.9M255.5,107.0h0.9M257.6,133.8h0.9M240.9,101.5h0.9M246.0,107.7h0.9M247.1,127.9h0.9M247.6,120.1h0.9M246.9,112.8h0.9M268.1,131.0h0.9M236.6,103.9h0.9M272.0,133.1h0.9M271.5,122.6h0.9M249.7,115.7h0.9M253.9,125.8h0.9M255.2,134.4h0.9M268.2,113.4h0.9M266.7,115.4h0.9M273.0,122.3h0.9M276.2,131.0h0.9M250.5,102.5h0.9M261.5,110.2h0.9M251.4,127.6h0.9M278.5,123.9h0.9M253.3,123.5h0.9M265.5,130.8h0.9M244.6,94.5h0.9M272.3,116.2h0.9M258.0,121.4h0.9M237.8,133.4h0.9M261.0,106.2h0.9M250.7,112.5h0.9M276.2,130.7h0.9M248.9,114.8h0.9M259.5,103.9h0.9M236.7,121.9h0.9M249.5,135.4h0.9M276.9,132.6h0.9M264.3,121.1h0.9M240.0,107.9h0.9M265.5,109.1h0.9M280.3,125.8h0.9M267.3,111.6h0.9M263.3,123.0h0.9M253.5,120.2h0.9M258.8,105.7h0.9M256.6,132.3h0.9M244.4,111.7h0.9M266.3,115.4h0.9M242.4,107.1h0.9M268.4,109.4h0.9M261.9,112.2h0.9M263.3,132.9h0.9M262.0,105.2h0.9M254.0,113.3h0.9M262.9,116.5h0.9M239.1,134.0h0.9M252.7,130.3h0.9M257.4,117.6h0.9M242.5,108.5h0.9M239.4,106.3h0.9M258.4,125.8h0.9M268.7,126.8h0.9M254.8,124.1h0.9M243.9,124.2h0.9M240.0,109.2h0.9M261.1,121.1h0.9M243.4,117.5h0.9M256.9,119.2h0.9M240.8,141.5h0.9M239.0,100.4h0.9M247.4,123.0h0.9M242.5,105.6h0.9M272.3,126.4h0.9M259.6,123.7h0.9M249.4,134.6h0.9M270.4,107.9h0.9M239.6,106.4h0.9M273.8,123.7h0.9M270.7,110.1h0.9M251.6,121.9h0.9M271.2,120.4h0.9M265.6,132.2h0.9M281.4,130.6h0.9M252.3,124.8h0.9M239.7,121.3h0.9M240.4,116.2h0.9M269.3,120.8h0.9M255.0,109.0h0.9M244.8,120.9h0.9M241.1,94.1h0.9M236.0,121.9h0.9M252.5,123.0h0.9M245.8,113.7h0.9M260.6,129.4h0.9M237.5,120.7h0.9M263.9,119.8h0.9M242.6,110.9h0.9M247.7,110.9h0.9M261.7,113.5h0.9M247.9,122.4h0.9M247.2,132.7h0.9M270.5,116.8h0.9M239.9,139.2h0.9M237.1,111.5h0.9M251.8,110.7h0.9M248.4,133.4h0.9M258.9,131.2h0.9M271.2,121.1h0.9M252.5,129.6h0.9M259.8,125.8h0.9M277.0,127.3h0.9M236.6,104.6h0.9M251.4,125.4h0.9M274.6,126.4h0.9M269.8,110.6h0.9M255.6,104.6h0.9M258.1,129.5h0.9M257.1,105.4h0.9M252.1,112.6h0.9M238.0,102.0h0.9M241.5,109.4h0.9M253.3,130.4h0.9M242.1,118.6h0.9M268.3,127.3h0.9M239.5,116.9h0.9M236.8,119.3h0.9M241.7,92.3h0.9M244.1,130.6h0.9M245.3,115.6h0.9M250.4,114.7h0.9M251.5,126.1h0.9M237.3,117.9h0.9M240.8,102.7h0.9M238.8,116.7h0.9M240.5,114.7h0.9M250.2,135.1h0.9M243.4,103.5h0.9M243.3,130.9h0.9M244.4,119.8h0.9M242.3,108.2h0.9M247.6,107.5h0.9M256.8,136.0h0.9M239.4,130.0h0.9M259.7,134.6h0.9M257.4,124.7h0.9M243.7,115.1h0.9M244.1,94.8h0.9M272.7,129.7h0.9M265.9,119.2h0.9M255.3,127.6h0.9M239.4,140.1h0.9M252.5,133.9h0.9M254.7,111.3h0.9M276.5,119.9h0.9M241.7,110.1h0.9M234.6,119.1h0.9M249.0,133.8h0.9" stroke="#dde1ee" stroke-width="0.9" opacity="0.9" />
<path d="M275.1,118.7h0.9M238.6,140.4h0.9M276.7,135.6h0.9M239.8,143.4h0.9M268.6,133.3h0.9M243.7,93.4h0.9M289.5,133.8h0.9M289.9,132.9h0.9M290.4,131.0h0.9M255.0,100.2h0.9M239.3,99.4h0.9M234.0,143.6h0.9M236.7,104.6h0.9M275.5,132.9h0.9M259.8,101.3h0.9M279.1,132.5h0.9M249.6,95.8h0.9M238.9,95.6h0.9M261.1,103.4h0.9M237.6,136.4h0.9M239.0,100.1h0.9M235.2,107.9h0.9M272.3,112.5h0.9M235.5,142.2h0.9M273.6,115.6h0.9M279.5,120.9h0.9M289.1,130.9h0.9M239.6,97.6h0.9M267.5,135.1h0.9M244.9,92.8h0.9M237.5,140.1h0.9M288.6,133.3h0.9M287.0,128.9h0.9M282.5,126.4h0.9M237.8,100.0h0.9M233.0,143.4h0.9M269.6,108.1h0.9M231.5,145.8h0.9" stroke="#8e9cc7" stroke-width="0.9" />
<path d="M258.0,95.0 C259.7,93.3 261.5,92.2 263.0,91.0 C264.5,89.8 265.5,88.4 267.0,88.0 C268.5,87.6 270.2,87.9 272.0,88.5 C273.8,89.1 276.2,90.2 278.0,91.5 C279.8,92.8 282.3,94.8 283.0,96.0 C283.7,97.2 283.0,98.2 282.0,99.0 C281.0,99.8 278.5,100.2 277.0,101.0 C275.5,101.8 274.5,103.2 273.0,104.0 C271.5,104.8 269.8,105.7 268.0,106.0 C266.2,106.3 264.0,106.3 262.0,106.0 C260.0,105.7 257.5,104.8 256.0,104.0 C254.5,103.2 252.7,102.5 253.0,101.0 C253.3,99.5 256.3,96.7 258.0,95.0Z" fill="#7eb0bf" />
<path d="M268.8,104.4h0.9M269.6,97.8h0.9M278.6,99.7h0.9M271.7,101.6h0.9M264.6,98.4h0.9M260.7,100.4h0.9M259.1,99.2h0.9M256.2,97.7h0.9M254.8,101.3h0.9M266.7,92.7h0.9M267.5,89.8h0.9M268.5,96.8h0.9M268.1,95.0h0.9M268.6,104.1h0.9M277.7,92.9h0.9M271.0,98.1h0.9M268.1,93.9h0.9M278.9,95.5h0.9M268.8,93.2h0.9M264.3,104.0h0.9M270.6,94.9h0.9M274.1,89.6h0.9M259.0,100.3h0.9M272.7,94.0h0.9M254.5,100.0h0.9M258.6,95.6h0.9M275.4,99.5h0.9M278.7,96.3h0.9M266.8,89.2h0.9M274.7,96.6h0.9M278.0,93.6h0.9M269.1,94.2h0.9M259.4,96.9h0.9M272.4,101.8h0.9M281.7,97.6h0.9M277.5,96.7h0.9M259.9,98.0h0.9M274.0,95.0h0.9M274.6,98.3h0.9M262.1,102.7h0.9M279.2,98.5h0.9M265.4,91.8h0.9M266.4,105.2h0.9M262.0,102.9h0.9M259.7,102.5h0.9M264.7,96.7h0.9M275.9,96.2h0.9M277.7,92.9h0.9M276.1,90.7h0.9M271.7,101.6h0.9M254.8,101.4h0.9M270.7,95.1h0.9M270.0,96.1h0.9M262.4,105.3h0.9M267.3,101.7h0.9M269.9,97.2h0.9M266.7,93.9h0.9M257.3,101.3h0.9M269.9,92.5h0.9M255.5,99.4h0.9M279.0,94.9h0.9M260.5,95.4h0.9M275.3,97.4h0.9M274.6,97.5h0.9M279.4,93.1h0.9M258.1,104.0h0.9M266.8,103.0h0.9M271.2,97.8h0.9M271.1,90.1h0.9M260.9,105.0h0.9M276.0,100.6h0.9M269.6,92.4h0.9M272.9,98.6h0.9M275.4,99.6h0.9M256.3,99.2h0.9M257.9,100.1h0.9M265.4,98.3h0.9M277.2,94.1h0.9M270.9,98.2h0.9M263.0,99.6h0.9M274.2,95.4h0.9M274.5,97.5h0.9M266.3,95.7h0.9M272.5,100.1h0.9M269.2,97.0h0.9M261.7,97.3h0.9M260.8,104.5h0.9M263.7,97.5h0.9M262.6,97.5h0.9M266.0,97.4h0.9M273.4,95.2h0.9M264.1,104.7h0.9M269.0,88.8h0.9M264.4,97.7h0.9M259.2,99.2h0.9M282.2,98.2h0.9M266.5,92.2h0.9M275.5,92.9h0.9M268.1,102.7h0.9M268.2,96.6h0.9M279.8,96.2h0.9M270.2,91.5h0.9M274.7,90.5h0.9M276.4,95.0h0.9M271.3,89.9h0.9M261.9,101.2h0.9M260.8,99.0h0.9M276.1,94.6h0.9M269.4,99.9h0.9M267.0,93.6h0.9M267.1,96.3h0.9M265.7,99.6h0.9M259.5,104.5h0.9M262.3,103.4h0.9M269.8,104.3h0.9M267.8,91.9h0.9M267.8,98.9h0.9M269.6,96.4h0.9M267.8,95.1h0.9M270.2,100.4h0.9" stroke="#d8e7eb" stroke-width="0.9" opacity="0.9" />
<path d="M253.7,104.9h0.9M263.4,105.8h0.9M272.7,103.1h0.9M280.2,93.9h0.9M275.4,89.3h0.9M269.2,86.9h0.9M272.2,85.5h0.9M268.6,86.7h0.9M267.7,87.4h0.9M267.9,87.1h0.9M258.9,105.2h0.9M263.8,106.8h0.9M270.1,87.6h0.9M276.1,101.6h0.9" stroke="#7eb0bf" stroke-width="0.9" />
<path d="M240.4,141.8 C242.0,140.5 246.4,138.7 250.1,137.5 C253.8,136.3 258.2,135.5 262.3,134.8 C266.4,134.1 270.8,133.2 274.6,133.1 C278.4,133.0 282.2,133.3 285.1,134.0 C288.0,134.7 290.5,135.9 292.1,137.5 C293.7,139.1 294.5,141.1 294.8,143.6 C295.1,146.1 294.9,149.4 293.9,152.3 C292.9,155.2 291.2,158.6 288.6,161.1 C286.0,163.6 281.6,165.9 278.1,167.2 C274.6,168.5 271.4,169.0 267.6,169.0 C263.8,169.0 258.8,168.5 255.3,167.2 C251.8,165.9 248.8,163.6 246.6,161.1 C244.4,158.6 243.2,154.9 242.2,152.3 C241.2,149.7 240.7,147.1 240.4,145.3 C240.1,143.6 238.8,143.1 240.4,141.8Z" fill="#1b5a8d" />
<path d="M276.6,137.0h0.9M273.1,151.0h0.9M262.4,143.5h0.9M247.3,138.9h0.9M268.5,157.5h0.9M252.6,152.8h0.9M264.9,145.2h0.9M272.2,161.2h0.9M287.2,155.7h0.9M251.4,137.4h0.9M286.2,156.8h0.9M276.3,139.6h0.9M264.1,147.3h0.9M258.0,161.3h0.9M256.0,151.9h0.9M288.8,141.1h0.9M268.8,167.0h0.9M246.3,152.6h0.9M249.8,145.0h0.9M255.4,150.8h0.9M245.5,152.7h0.9M259.8,149.6h0.9M274.5,159.3h0.9M245.7,144.3h0.9M263.9,163.7h0.9M261.1,142.9h0.9M277.6,146.1h0.9M274.5,151.8h0.9M277.1,160.2h0.9M264.5,157.9h0.9M251.1,147.7h0.9M278.3,155.3h0.9M248.5,149.2h0.9M267.0,153.6h0.9M266.6,152.5h0.9M276.6,144.0h0.9M267.8,161.8h0.9M276.0,138.7h0.9M252.7,153.5h0.9M288.5,140.1h0.9M252.6,144.8h0.9M279.5,149.6h0.9M279.6,136.9h0.9M262.6,149.0h0.9M260.9,147.9h0.9M270.3,134.9h0.9M271.2,152.0h0.9M256.9,149.0h0.9M271.4,156.6h0.9M278.1,133.9h0.9M275.9,142.3h0.9M254.1,154.0h0.9M252.9,154.0h0.9M254.7,154.0h0.9M251.2,164.2h0.9M267.4,150.6h0.9M288.0,156.8h0.9M274.7,145.6h0.9M285.8,136.2h0.9M277.7,158.2h0.9M265.9,161.7h0.9M283.2,135.9h0.9M257.8,159.0h0.9M275.4,139.0h0.9M266.2,142.2h0.9M265.3,163.9h0.9M258.1,153.4h0.9M290.1,138.8h0.9M264.0,157.7h0.9M290.6,137.3h0.9M274.6,145.7h0.9M262.2,147.9h0.9M253.8,159.4h0.9M254.6,137.3h0.9M257.2,150.2h0.9M259.9,144.6h0.9M294.6,144.3h0.9M274.0,159.6h0.9M260.6,143.7h0.9M285.1,153.4h0.9M244.4,142.3h0.9M245.6,150.7h0.9M271.6,161.2h0.9M278.3,154.3h0.9M269.3,142.7h0.9M269.6,137.3h0.9M246.3,155.2h0.9M291.4,148.0h0.9M271.5,134.3h0.9M245.4,147.6h0.9M289.6,146.7h0.9M279.9,158.4h0.9M256.4,144.7h0.9M261.9,144.1h0.9M270.0,163.0h0.9M268.3,152.0h0.9M251.8,149.0h0.9M278.7,148.0h0.9M265.0,139.9h0.9M267.1,157.6h0.9M270.7,162.9h0.9M274.0,151.4h0.9M288.1,155.8h0.9M244.9,145.3h0.9M274.0,153.3h0.9M260.6,151.5h0.9M263.0,144.8h0.9M272.6,159.3h0.9M271.5,142.1h0.9M267.5,159.5h0.9M275.9,142.4h0.9M293.2,142.7h0.9M249.5,154.3h0.9M250.2,160.7h0.9M260.2,163.7h0.9M255.6,157.5h0.9M268.2,168.8h0.9M277.7,143.3h0.9M251.0,141.3h0.9M276.1,166.2h0.9M251.3,143.2h0.9M270.7,136.7h0.9M257.2,139.7h0.9M266.6,148.2h0.9M280.9,142.5h0.9M260.0,137.9h0.9M277.6,135.2h0.9M253.6,138.9h0.9M288.8,156.6h0.9M275.7,152.8h0.9M267.8,142.9h0.9M262.3,147.3h0.9M284.8,141.7h0.9M255.1,140.8h0.9M255.7,158.0h0.9M259.9,148.1h0.9M248.4,142.0h0.9M280.6,145.3h0.9M249.3,157.9h0.9M289.3,153.6h0.9M266.2,147.0h0.9M274.3,159.7h0.9M257.6,162.8h0.9M252.3,150.3h0.9M262.1,162.5h0.9M279.9,160.1h0.9M270.7,134.0h0.9M268.8,158.4h0.9M274.8,153.2h0.9M265.1,134.8h0.9M290.3,143.2h0.9M248.1,140.1h0.9M286.0,145.9h0.9M257.7,144.3h0.9M273.6,142.7h0.9M271.8,133.5h0.9M259.6,155.9h0.9M254.2,138.4h0.9M284.2,147.4h0.9M259.8,151.6h0.9M276.0,135.4h0.9M290.7,151.3h0.9M277.9,136.0h0.9M289.9,149.5h0.9M259.1,151.0h0.9M270.9,159.8h0.9M257.0,145.4h0.9M279.9,149.6h0.9M248.2,150.8h0.9M255.5,145.4h0.9M257.3,162.0h0.9M272.0,160.1h0.9M252.0,142.1h0.9M279.4,142.9h0.9M279.8,141.6h0.9M257.5,146.5h0.9M275.2,137.5h0.9M270.3,139.5h0.9M250.6,151.0h0.9M281.3,134.8h0.9M286.7,143.1h0.9M282.1,150.2h0.9M249.6,151.7h0.9M282.5,159.4h0.9M285.8,153.6h0.9M262.1,165.8h0.9M258.4,143.5h0.9M255.4,137.3h0.9M282.9,136.8h0.9M263.1,151.1h0.9M264.5,160.2h0.9M250.1,146.4h0.9M247.6,142.9h0.9M261.2,155.4h0.9M264.3,142.3h0.9M261.1,161.9h0.9M259.4,146.2h0.9M271.1,148.3h0.9M275.5,167.6h0.9M269.1,161.0h0.9M266.3,138.6h0.9M257.8,137.0h0.9M289.8,151.9h0.9M254.9,140.9h0.9M252.6,158.5h0.9M243.5,142.0h0.9M251.1,148.5h0.9M261.8,157.9h0.9M284.8,147.0h0.9M243.5,153.6h0.9M285.8,135.8h0.9M271.3,136.3h0.9M247.4,156.0h0.9M250.4,157.2h0.9M274.8,159.0h0.9M282.1,164.3h0.9M263.3,137.4h0.9M253.1,163.9h0.9M259.0,136.4h0.9M256.9,162.1h0.9M260.4,139.0h0.9M253.7,141.3h0.9M255.0,166.8h0.9M269.2,159.9h0.9M277.3,157.6h0.9M264.2,160.9h0.9M261.1,153.8h0.9M277.0,145.5h0.9M269.5,151.5h0.9M256.9,163.2h0.9M281.9,143.0h0.9M271.5,166.8h0.9M291.5,151.6h0.9M271.0,167.2h0.9M285.0,156.6h0.9M259.3,167.5h0.9M275.6,137.2h0.9M266.0,142.0h0.9M252.2,157.0h0.9M276.6,166.3h0.9M283.4,147.6h0.9M276.8,150.1h0.9M279.6,138.2h0.9M265.3,158.6h0.9M268.4,154.0h0.9M259.3,139.4h0.9M290.4,138.7h0.9M271.7,143.8h0.9M255.0,157.9h0.9M279.7,153.5h0.9M286.4,158.6h0.9M266.6,147.1h0.9M250.3,146.9h0.9M277.1,137.8h0.9M279.9,140.6h0.9M281.6,149.1h0.9M265.3,140.9h0.9M276.8,143.8h0.9M264.5,139.6h0.9M278.4,163.1h0.9M275.7,166.2h0.9M291.3,151.6h0.9M254.3,152.6h0.9M269.1,139.6h0.9M278.6,136.7h0.9M251.7,156.1h0.9M276.7,152.4h0.9M280.2,155.2h0.9M290.6,143.4h0.9M266.4,152.6h0.9M251.6,146.3h0.9M243.4,150.7h0.9M262.4,154.3h0.9M252.2,157.7h0.9M268.8,137.0h0.9M280.0,164.1h0.9M291.3,143.5h0.9M265.4,158.0h0.9M291.5,139.5h0.9M271.9,159.0h0.9M264.5,166.1h0.9M270.3,136.7h0.9M269.6,160.0h0.9M283.2,157.4h0.9M286.0,154.2h0.9M287.2,140.7h0.9M277.5,139.3h0.9M289.0,155.0h0.9M270.6,160.4h0.9M272.0,149.2h0.9M258.3,140.0h0.9M271.5,166.1h0.9M262.9,159.1h0.9M270.0,141.4h0.9M256.8,164.4h0.9M266.3,162.5h0.9M277.2,160.8h0.9M283.4,143.0h0.9M278.4,164.1h0.9M273.0,137.2h0.9M266.9,150.8h0.9M253.3,164.5h0.9M272.1,150.7h0.9M274.0,163.1h0.9M272.9,157.7h0.9M243.0,145.6h0.9M273.4,162.0h0.9M281.6,163.1h0.9M248.8,160.7h0.9M247.4,150.7h0.9M290.8,139.3h0.9M253.1,147.4h0.9M249.0,160.0h0.9M282.9,153.1h0.9M285.4,147.2h0.9M271.4,167.9h0.9M277.1,155.6h0.9M254.4,154.4h0.9M266.6,134.3h0.9M254.9,165.9h0.9M270.9,145.9h0.9M262.1,144.4h0.9M257.9,138.9h0.9M289.8,155.5h0.9M289.5,151.3h0.9M250.2,147.6h0.9M255.4,147.9h0.9M244.5,140.0h0.9M284.6,142.0h0.9M267.0,134.8h0.9M271.3,162.3h0.9M266.7,165.3h0.9M288.7,158.1h0.9M280.1,161.6h0.9M247.9,157.8h0.9M284.0,162.1h0.9M281.1,163.3h0.9M284.3,144.8h0.9M274.0,139.7h0.9M279.9,136.3h0.9M256.9,139.7h0.9M246.5,160.1h0.9M246.5,140.0h0.9M254.4,136.9h0.9M277.0,146.5h0.9M293.2,141.1h0.9M271.8,161.9h0.9M273.4,139.6h0.9M270.1,146.7h0.9M272.5,167.4h0.9M271.4,142.4h0.9M278.3,136.8h0.9M246.7,151.2h0.9M267.9,137.9h0.9M281.0,151.8h0.9M277.8,150.9h0.9M263.6,156.9h0.9M275.6,149.2h0.9M279.1,154.3h0.9M247.7,141.7h0.9M247.9,156.0h0.9M265.2,137.4h0.9M263.7,165.4h0.9M282.0,134.4h0.9M255.2,147.2h0.9M262.0,151.0h0.9M259.2,156.6h0.9M257.6,164.3h0.9M250.7,144.3h0.9M289.0,142.3h0.9M240.5,145.6h0.9M268.9,162.3h0.9M249.7,154.9h0.9M260.2,155.1h0.9M282.5,137.5h0.9M260.5,152.5h0.9M277.0,142.0h0.9M260.0,163.8h0.9M257.5,144.6h0.9M286.3,142.6h0.9M271.9,158.0h0.9M275.7,143.0h0.9M271.3,160.1h0.9M253.7,157.7h0.9M271.7,136.9h0.9M282.9,142.1h0.9M244.8,146.5h0.9M258.9,136.4h0.9M290.3,144.6h0.9M265.4,151.0h0.9M276.2,157.6h0.9M284.2,148.8h0.9M289.2,155.6h0.9M272.2,166.1h0.9M268.0,136.7h0.9M277.8,153.5h0.9M243.8,154.8h0.9M279.3,143.5h0.9M255.6,141.8h0.9M288.0,139.3h0.9M279.2,135.6h0.9M259.9,139.2h0.9M249.6,153.7h0.9M280.5,134.6h0.9M258.7,136.6h0.9M259.3,155.7h0.9M264.0,146.5h0.9M262.6,142.4h0.9M279.8,138.0h0.9M271.7,152.5h0.9M248.9,139.4h0.9M276.6,160.2h0.9M253.3,164.6h0.9M286.0,149.3h0.9M261.7,137.8h0.9M275.4,138.1h0.9M260.0,145.6h0.9M263.1,149.3h0.9M248.4,151.2h0.9M263.0,143.7h0.9M259.0,152.3h0.9M286.6,135.2h0.9M266.0,152.7h0.9M278.6,137.4h0.9M268.0,154.6h0.9M277.9,164.2h0.9M275.0,157.8h0.9M254.5,153.6h0.9M283.4,134.0h0.9M270.6,146.7h0.9M259.4,158.6h0.9M248.3,157.7h0.9M283.5,155.7h0.9M273.2,155.4h0.9M287.4,153.0h0.9M278.9,146.1h0.9M288.9,151.8h0.9M274.4,156.8h0.9M272.3,145.4h0.9M262.4,136.9h0.9M279.1,162.5h0.9M276.3,149.0h0.9M277.5,154.1h0.9M278.2,156.2h0.9M271.4,167.2h0.9M259.4,152.7h0.9M271.5,154.1h0.9M248.3,142.9h0.9M277.6,148.4h0.9M272.1,166.3h0.9M251.5,151.5h0.9M263.1,135.7h0.9M292.0,149.4h0.9" stroke="#bacddc" stroke-width="0.9" opacity="0.9" />
<path d="M271.7,168.0h0.9M271.3,167.8h0.9M267.2,134.3h0.9M264.6,134.0h0.9M260.0,169.6h0.9M266.6,135.2h0.9M291.6,157.7h0.9M282.9,134.6h0.9M284.8,163.9h0.9M281.2,134.6h0.9M244.0,156.8h0.9M253.7,165.0h0.9M238.8,144.1h0.9M286.9,161.6h0.9M289.4,157.3h0.9M244.7,158.4h0.9M295.2,155.9h0.9M294.1,143.5h0.9M290.4,136.9h0.9M270.9,134.5h0.9M265.5,134.2h0.9M267.2,133.6h0.9M239.7,145.3h0.9M283.3,135.8h0.9M295.4,145.8h0.9M244.8,153.4h0.9M284.5,133.1h0.9M242.2,151.4h0.9M249.1,137.0h0.9" stroke="#1b5a8d" stroke-width="0.9" />
<text x="239.3" y="9.5" font-size="12" fill="#000" >cDC1</text>
<text x="129.0" y="92.4" font-size="12.8" fill="#000" >cDC2</text>
<text x="199.4" y="85.5" font-size="12.8" fill="#000" >DC3</text>
<text x="270.0" y="92.7" font-size="12.8" fill="#000" >Mono</text>
<text x="268.0" y="122.8" font-size="12.8" fill="#000" >Mono_Mac</text>
<text x="294.4" y="162.0" font-size="12.8" fill="#000" >Mac</text>
<text x="170.0" y="146.6" font-size="12.8" fill="#000" >LC</text>
<text x="76.6" y="160.0" font-size="12.8" fill="#000" >CCR7<tspan dy="-4.6" font-size="9.2">+</tspan><tspan dy="4.6"> DC</tspan></text>
<line x1="42.7" y1="173.4" x2="42.7" y2="147.0" stroke="#000" stroke-width="1.8" />
<polygon points="42.7,141.0 46.1,149.0 39.3,149.0" fill="#000"/>
<line x1="41.8" y1="172.9" x2="74.0" y2="172.9" stroke="#000" stroke-width="1.8" />
<polygon points="80.1,172.9 72.1,176.3 72.1,169.5" fill="#000"/>
<text x="43.7" y="190.8" font-size="12.6" fill="#000" >UMAP</text>
<text transform="translate(34.8,173.4) rotate(-90)" font-size="12.6" fill="#000">UMAP</text>
<text x="2.5" y="217.1" font-size="24.5" fill="#000" >b</text>
<text x="55.7" y="216.0" font-size="12.6" fill="#000" >Nor</text>
<text x="153.3" y="216.1" font-size="12.8" fill="#000" >IMQ_Day2</text>
<text x="280.0" y="216.1" font-size="12.8" fill="#000" >IMQ_Day5</text>
<text transform="translate(357.5,231.0) rotate(90)" font-size="12.2" fill="#000">Il23a</text>
<text transform="translate(357.5,333.0) rotate(90)" font-size="12.2" fill="#000">Il12b</text>
<line x1="28.3" y1="222.4" x2="28.3" y2="284.8" stroke="#333" stroke-width="0.8" />
<line x1="27.9" y1="284.4" x2="109.1" y2="284.4" stroke="#333" stroke-width="0.8" />
<line x1="26.3" y1="241.7" x2="28.3" y2="241.7" stroke="#333" stroke-width="0.8" />
<text x="24.1" y="244.1" font-size="6.8" text-anchor="end" fill="#333" >10</text>
<line x1="26.3" y1="265.3" x2="28.3" y2="265.3" stroke="#333" stroke-width="0.8" />
<text x="24.1" y="267.7" font-size="6.8" text-anchor="end" fill="#333" >0</text>
<line x1="39.7" y1="284.4" x2="39.7" y2="286.2" stroke="#333" stroke-width="0.8" />
<text x="39.7" y="293.8" font-size="6.8" text-anchor="middle" fill="#333" >-10</text>
<line x1="58.1" y1="284.4" x2="58.1" y2="286.2" stroke="#333" stroke-width="0.8" />
<text x="58.1" y="293.8" font-size="6.8" text-anchor="middle" fill="#333" >-5</text>
<line x1="76.6" y1="284.4" x2="76.6" y2="286.2" stroke="#333" stroke-width="0.8" />
<text x="76.6" y="293.8" font-size="6.8" text-anchor="middle" fill="#333" >0</text>
<line x1="95.3" y1="284.4" x2="95.3" y2="286.2" stroke="#333" stroke-width="0.8" />
<text x="95.3" y="293.8" font-size="6.8" text-anchor="middle" fill="#333" >5</text>
<text x="68.5" y="303.6" font-size="8" text-anchor="middle" fill="#333" >UMAP_1</text>
<text transform="translate(13.5,253.4) rotate(-90)" font-size="8.2" text-anchor="middle" fill="#333">UMAP_2</text>
<g transform="translate(-8.35,225.30) scale(0.382,0.332)">
<path d="M222.0,9.0 C222.2,7.8 222.7,6.4 223.5,5.5 C224.3,4.6 225.6,3.9 227.0,3.5 C228.4,3.1 230.5,2.9 232.0,3.0 C233.5,3.1 234.8,3.3 236.0,4.0 C237.2,4.7 238.4,5.9 239.5,7.0 C240.6,8.1 241.8,9.5 242.5,10.5 C243.2,11.5 244.2,12.3 244.0,13.0 C243.8,13.7 242.2,14.2 241.0,14.5 C239.8,14.8 238.3,14.5 237.0,15.0 C235.7,15.5 234.5,17.0 233.0,17.5 C231.5,18.0 229.4,18.2 228.0,18.0 C226.6,17.8 225.4,17.3 224.5,16.5 C223.6,15.7 222.9,14.2 222.5,13.0 C222.1,11.8 221.8,10.2 222.0,9.0Z" fill="#e4e4e4" stroke="#e4e4e4" stroke-width="4" stroke-linejoin="round"/>
<path d="M239.0,13.0 C239.6,13.0 240.6,13.8 241.5,14.5 C242.4,15.2 244.2,16.9 244.5,17.5 C244.8,18.1 244.2,18.6 243.5,18.3 C242.8,18.1 241.4,16.6 240.5,16.0 C239.6,15.4 238.2,15.0 238.0,14.5 C237.8,14.0 238.4,13.0 239.0,13.0Z" fill="#e4e4e4" stroke="#e4e4e4" stroke-width="4" stroke-linejoin="round"/>
<path d="M132.1,105.3 C134.2,104.9 136.6,105.4 137.0,106.1 C137.4,106.8 135.4,108.1 134.5,109.3 C133.6,110.5 132.2,111.9 131.3,113.4 C130.4,114.9 129.4,116.3 128.9,118.2 C128.4,120.1 128.2,122.2 128.1,124.6 C128.0,127.0 127.7,130.2 128.1,132.6 C128.5,135.0 129.4,137.2 130.5,139.1 C131.6,141.0 133.2,142.6 134.5,143.9 C135.8,145.2 138.0,146.3 138.5,146.8 C139.0,147.3 138.8,147.3 137.7,147.0 C136.6,146.7 134.4,145.7 132.1,145.0 C129.8,144.3 126.8,144.1 124.1,143.1 C121.4,142.1 118.5,140.8 116.1,139.1 C113.7,137.3 110.9,134.8 109.6,132.6 C108.2,130.4 107.9,128.3 108.0,126.2 C108.1,124.1 109.1,121.9 110.4,119.8 C111.8,117.7 113.8,115.3 116.1,113.4 C118.4,111.5 121.4,109.8 124.1,108.5 C126.8,107.2 129.9,105.7 132.1,105.3Z" fill="#e4e4e4" stroke="#e4e4e4" stroke-width="4" stroke-linejoin="round"/>
<path d="M132.1,105.3 C132.6,103.7 134.8,102.1 136.9,100.5 C139.1,98.9 142.3,97.2 145.0,95.7 C147.7,94.2 150.3,93.0 153.0,91.7 C155.7,90.4 159.3,89.5 161.0,87.7 C162.7,86.0 162.7,83.0 163.4,81.2 C164.1,79.4 164.3,77.4 165.0,76.7 C165.7,76.0 166.5,76.2 167.4,77.2 C168.3,78.2 170.0,81.3 170.7,82.8 C171.4,84.3 171.8,84.7 171.5,86.0 C171.2,87.3 170.2,89.3 169.0,90.9 C167.8,92.5 166.1,94.4 164.2,95.7 C162.3,97.0 159.9,97.8 157.8,98.9 C155.7,100.0 153.8,101.0 151.4,102.1 C149.0,103.2 145.7,104.4 143.4,105.3 C141.1,106.2 139.3,106.9 137.7,107.7 C136.1,108.5 134.6,110.5 133.7,110.1 C132.8,109.7 131.6,106.9 132.1,105.3Z" fill="#e4e4e4" stroke="#e4e4e4" stroke-width="4" stroke-linejoin="round"/>
<path d="M154.6,113.4 C154.9,112.2 156.2,111.5 157.8,111.0 C159.4,110.5 162.0,110.2 164.2,110.1 C166.3,110.0 168.5,110.0 170.7,110.5 C172.8,111.0 175.0,112.1 177.1,113.4 C179.2,114.7 181.4,116.9 183.5,118.2 C185.6,119.5 187.8,120.5 189.9,121.4 C192.1,122.3 194.9,122.9 196.4,123.8 C197.9,124.7 198.9,126.1 198.8,127.0 C198.7,127.9 197.1,129.0 195.6,129.4 C194.1,129.8 191.7,129.0 189.9,129.4 C188.2,129.8 186.7,130.7 185.1,131.8 C183.5,132.9 182.7,135.0 180.3,135.8 C177.9,136.6 172.8,137.0 170.7,136.6 C168.5,136.2 168.3,134.6 167.4,133.4 C166.5,132.2 166.1,131.1 165.0,129.4 C163.9,127.7 162.5,124.9 161.0,123.0 C159.5,121.1 157.3,119.8 156.2,118.2 C155.1,116.6 154.3,114.6 154.6,113.4Z" fill="#e4e4e4" stroke="#e4e4e4" stroke-width="4" stroke-linejoin="round"/>
<path d="M170.5,111.0 C170.3,109.8 173.0,106.3 173.5,104.0 C174.0,101.7 173.2,98.3 173.5,97.0 C173.8,95.7 175.1,95.3 175.5,96.0 C175.9,96.7 175.4,100.2 176.0,101.0 C176.6,101.8 178.6,100.2 179.0,100.5 C179.4,100.8 179.1,102.1 178.5,103.0 C177.9,103.9 176.2,104.7 175.5,106.0 C174.8,107.3 175.3,110.2 174.5,111.0 C173.7,111.8 170.7,112.2 170.5,111.0Z" fill="#e4e4e4" stroke="#e4e4e4" stroke-width="4" stroke-linejoin="round"/>
<path d="M187.0,91.0 C188.2,90.0 193.4,89.3 197.5,88.4 C201.6,87.5 207.0,86.7 211.5,85.8 C216.0,84.9 221.5,83.8 224.7,83.1 C227.9,82.4 228.9,81.4 230.8,81.4 C232.7,81.4 234.5,82.1 236.0,83.1 C237.5,84.1 238.7,85.9 239.6,87.5 C240.5,89.1 241.1,90.7 241.3,92.8 C241.5,94.9 241.3,97.7 241.0,100.0 C240.7,102.3 241.0,105.5 239.6,106.8 C238.2,108.1 235.2,108.1 232.6,107.7 C230.0,107.3 226.7,105.1 223.8,104.2 C220.9,103.3 217.9,103.1 215.0,102.4 C212.1,101.7 209.2,100.8 206.3,99.8 C203.4,98.8 200.1,97.2 197.5,96.3 C194.9,95.4 192.2,95.4 190.5,94.5 C188.8,93.6 185.8,92.0 187.0,91.0Z" fill="#e4e4e4" stroke="#e4e4e4" stroke-width="4" stroke-linejoin="round"/>
<path d="M241.0,92.0 C242.3,90.8 244.5,91.9 246.6,92.8 C248.7,93.7 251.7,96.0 253.6,97.5 C255.5,99.0 256.3,100.8 258.0,102.0 C259.7,103.2 262.0,104.2 264.0,105.0 C266.0,105.8 268.8,105.7 270.0,106.5 C271.2,107.3 270.3,108.4 271.0,110.0 C271.7,111.6 272.5,113.8 274.0,116.0 C275.5,118.2 278.0,120.8 280.0,123.0 C282.0,125.2 284.0,127.0 286.0,129.0 C288.0,131.0 292.3,133.9 292.1,134.8 C291.9,135.7 287.9,134.8 285.0,134.5 C282.1,134.2 278.4,133.0 274.6,133.1 C270.8,133.2 266.4,134.1 262.3,134.8 C258.2,135.5 253.8,136.3 250.1,137.5 C246.4,138.7 242.8,141.4 240.4,141.8 C238.1,142.2 237.4,139.4 236.0,140.0 C234.6,140.6 232.2,145.0 231.7,145.3 C231.2,145.6 231.8,143.4 233.0,142.0 C234.2,140.6 238.2,139.0 238.7,136.6 C239.2,134.2 236.7,130.7 236.0,127.8 C235.3,124.9 234.6,122.3 234.3,119.1 C234.0,115.9 233.6,111.7 234.3,108.5 C235.0,105.3 237.4,102.8 238.5,100.0 C239.6,97.2 239.7,93.2 241.0,92.0Z" fill="#e4e4e4" stroke="#e4e4e4" stroke-width="4" stroke-linejoin="round"/>
<path d="M258.0,95.0 C259.7,93.3 261.5,92.2 263.0,91.0 C264.5,89.8 265.5,88.4 267.0,88.0 C268.5,87.6 270.2,87.9 272.0,88.5 C273.8,89.1 276.2,90.2 278.0,91.5 C279.8,92.8 282.3,94.8 283.0,96.0 C283.7,97.2 283.0,98.2 282.0,99.0 C281.0,99.8 278.5,100.2 277.0,101.0 C275.5,101.8 274.5,103.2 273.0,104.0 C271.5,104.8 269.8,105.7 268.0,106.0 C266.2,106.3 264.0,106.3 262.0,106.0 C260.0,105.7 257.5,104.8 256.0,104.0 C254.5,103.2 252.7,102.5 253.0,101.0 C253.3,99.5 256.3,96.7 258.0,95.0Z" fill="#e4e4e4" stroke="#e4e4e4" stroke-width="4" stroke-linejoin="round"/>
<path d="M240.4,141.8 C242.0,140.5 246.4,138.7 250.1,137.5 C253.8,136.3 258.2,135.5 262.3,134.8 C266.4,134.1 270.8,133.2 274.6,133.1 C278.4,133.0 282.2,133.3 285.1,134.0 C288.0,134.7 290.5,135.9 292.1,137.5 C293.7,139.1 294.5,141.1 294.8,143.6 C295.1,146.1 294.9,149.4 293.9,152.3 C292.9,155.2 291.2,158.6 288.6,161.1 C286.0,163.6 281.6,165.9 278.1,167.2 C274.6,168.5 271.4,169.0 267.6,169.0 C263.8,169.0 258.8,168.5 255.3,167.2 C251.8,165.9 248.8,163.6 246.6,161.1 C244.4,158.6 243.2,154.9 242.2,152.3 C241.2,149.7 240.7,147.1 240.4,145.3 C240.1,143.6 238.8,143.1 240.4,141.8Z" fill="#e4e4e4" stroke="#e4e4e4" stroke-width="4" stroke-linejoin="round"/>
</g>
<path d="M35.7,267.8h0.1M37.2,268.6h0.1M40.2,261.2h0.1M54.7,256.0h0.1M53.5,257.3h0.1M55.1,256.0h0.1M57.4,268.9h0.1M58.2,270.1h0.1M81.3,253.2h0.1M83.1,256.1h0.1M76.1,255.0h0.1M73.6,255.7h0.1M70.4,257.4h0.1M95.6,280.3h0.1M97.7,280.6h0.1M97.4,271.4h0.1M102.3,276.3h0.1M98.3,272.0h0.1M100.8,276.3h0.1M92.0,271.3h0.1M89.6,278.7h0.1M96.3,270.0h0.1M98.4,273.4h0.1M94.0,281.4h0.1M95.9,269.9h0.1M87.6,274.4h0.1M96.2,271.4h0.1M79.1,231.1h0.1M90.8,265.0h0.1M95.0,266.4h0.1" stroke="#f42a2a" stroke-width="1.8" stroke-linecap="round" opacity="0.75"/>
<line x1="145.7" y1="222.4" x2="145.7" y2="284.8" stroke="#333" stroke-width="0.8" />
<line x1="145.3" y1="284.4" x2="226.5" y2="284.4" stroke="#333" stroke-width="0.8" />
<line x1="143.7" y1="241.7" x2="145.7" y2="241.7" stroke="#333" stroke-width="0.8" />
<text x="141.5" y="244.1" font-size="6.8" text-anchor="end" fill="#333" >10</text>
<line x1="143.7" y1="265.3" x2="145.7" y2="265.3" stroke="#333" stroke-width="0.8" />
<text x="141.5" y="267.7" font-size="6.8" text-anchor="end" fill="#333" >0</text>
<line x1="157.1" y1="284.4" x2="157.1" y2="286.2" stroke="#333" stroke-width="0.8" />
<text x="157.1" y="293.8" font-size="6.8" text-anchor="middle" fill="#333" >-10</text>
<line x1="175.5" y1="284.4" x2="175.5" y2="286.2" stroke="#333" stroke-width="0.8" />
<text x="175.5" y="293.8" font-size="6.8" text-anchor="middle" fill="#333" >-5</text>
<line x1="194.0" y1="284.4" x2="194.0" y2="286.2" stroke="#333" stroke-width="0.8" />
<text x="194.0" y="293.8" font-size="6.8" text-anchor="middle" fill="#333" >0</text>
<line x1="212.7" y1="284.4" x2="212.7" y2="286.2" stroke="#333" stroke-width="0.8" />
<text x="212.7" y="293.8" font-size="6.8" text-anchor="middle" fill="#333" >5</text>
<text x="185.9" y="303.6" font-size="8" text-anchor="middle" fill="#333" >UMAP_1</text>
<text transform="translate(130.9,253.4) rotate(-90)" font-size="8.2" text-anchor="middle" fill="#333">UMAP_2</text>
<g transform="translate(109.05,225.30) scale(0.382,0.332)">
<path d="M222.0,9.0 C222.2,7.8 222.7,6.4 223.5,5.5 C224.3,4.6 225.6,3.9 227.0,3.5 C228.4,3.1 230.5,2.9 232.0,3.0 C233.5,3.1 234.8,3.3 236.0,4.0 C237.2,4.7 238.4,5.9 239.5,7.0 C240.6,8.1 241.8,9.5 242.5,10.5 C243.2,11.5 244.2,12.3 244.0,13.0 C243.8,13.7 242.2,14.2 241.0,14.5 C239.8,14.8 238.3,14.5 237.0,15.0 C235.7,15.5 234.5,17.0 233.0,17.5 C231.5,18.0 229.4,18.2 228.0,18.0 C226.6,17.8 225.4,17.3 224.5,16.5 C223.6,15.7 222.9,14.2 222.5,13.0 C222.1,11.8 221.8,10.2 222.0,9.0Z" fill="#e4e4e4" stroke="#e4e4e4" stroke-width="4" stroke-linejoin="round"/>
<path d="M239.0,13.0 C239.6,13.0 240.6,13.8 241.5,14.5 C242.4,15.2 244.2,16.9 244.5,17.5 C244.8,18.1 244.2,18.6 243.5,18.3 C242.8,18.1 241.4,16.6 240.5,16.0 C239.6,15.4 238.2,15.0 238.0,14.5 C237.8,14.0 238.4,13.0 239.0,13.0Z" fill="#e4e4e4" stroke="#e4e4e4" stroke-width="4" stroke-linejoin="round"/>
<path d="M132.1,105.3 C134.2,104.9 136.6,105.4 137.0,106.1 C137.4,106.8 135.4,108.1 134.5,109.3 C133.6,110.5 132.2,111.9 131.3,113.4 C130.4,114.9 129.4,116.3 128.9,118.2 C128.4,120.1 128.2,122.2 128.1,124.6 C128.0,127.0 127.7,130.2 128.1,132.6 C128.5,135.0 129.4,137.2 130.5,139.1 C131.6,141.0 133.2,142.6 134.5,143.9 C135.8,145.2 138.0,146.3 138.5,146.8 C139.0,147.3 138.8,147.3 137.7,147.0 C136.6,146.7 134.4,145.7 132.1,145.0 C129.8,144.3 126.8,144.1 124.1,143.1 C121.4,142.1 118.5,140.8 116.1,139.1 C113.7,137.3 110.9,134.8 109.6,132.6 C108.2,130.4 107.9,128.3 108.0,126.2 C108.1,124.1 109.1,121.9 110.4,119.8 C111.8,117.7 113.8,115.3 116.1,113.4 C118.4,111.5 121.4,109.8 124.1,108.5 C126.8,107.2 129.9,105.7 132.1,105.3Z" fill="#e4e4e4" stroke="#e4e4e4" stroke-width="4" stroke-linejoin="round"/>
<path d="M132.1,105.3 C132.6,103.7 134.8,102.1 136.9,100.5 C139.1,98.9 142.3,97.2 145.0,95.7 C147.7,94.2 150.3,93.0 153.0,91.7 C155.7,90.4 159.3,89.5 161.0,87.7 C162.7,86.0 162.7,83.0 163.4,81.2 C164.1,79.4 164.3,77.4 165.0,76.7 C165.7,76.0 166.5,76.2 167.4,77.2 C168.3,78.2 170.0,81.3 170.7,82.8 C171.4,84.3 171.8,84.7 171.5,86.0 C171.2,87.3 170.2,89.3 169.0,90.9 C167.8,92.5 166.1,94.4 164.2,95.7 C162.3,97.0 159.9,97.8 157.8,98.9 C155.7,100.0 153.8,101.0 151.4,102.1 C149.0,103.2 145.7,104.4 143.4,105.3 C141.1,106.2 139.3,106.9 137.7,107.7 C136.1,108.5 134.6,110.5 133.7,110.1 C132.8,109.7 131.6,106.9 132.1,105.3Z" fill="#e4e4e4" stroke="#e4e4e4" stroke-width="4" stroke-linejoin="round"/>
<path d="M154.6,113.4 C154.9,112.2 156.2,111.5 157.8,111.0 C159.4,110.5 162.0,110.2 164.2,110.1 C166.3,110.0 168.5,110.0 170.7,110.5 C172.8,111.0 175.0,112.1 177.1,113.4 C179.2,114.7 181.4,116.9 183.5,118.2 C185.6,119.5 187.8,120.5 189.9,121.4 C192.1,122.3 194.9,122.9 196.4,123.8 C197.9,124.7 198.9,126.1 198.8,127.0 C198.7,127.9 197.1,129.0 195.6,129.4 C194.1,129.8 191.7,129.0 189.9,129.4 C188.2,129.8 186.7,130.7 185.1,131.8 C183.5,132.9 182.7,135.0 180.3,135.8 C177.9,136.6 172.8,137.0 170.7,136.6 C168.5,136.2 168.3,134.6 167.4,133.4 C166.5,132.2 166.1,131.1 165.0,129.4 C163.9,127.7 162.5,124.9 161.0,123.0 C159.5,121.1 157.3,119.8 156.2,118.2 C155.1,116.6 154.3,114.6 154.6,113.4Z" fill="#e4e4e4" stroke="#e4e4e4" stroke-width="4" stroke-linejoin="round"/>
<path d="M170.5,111.0 C170.3,109.8 173.0,106.3 173.5,104.0 C174.0,101.7 173.2,98.3 173.5,97.0 C173.8,95.7 175.1,95.3 175.5,96.0 C175.9,96.7 175.4,100.2 176.0,101.0 C176.6,101.8 178.6,100.2 179.0,100.5 C179.4,100.8 179.1,102.1 178.5,103.0 C177.9,103.9 176.2,104.7 175.5,106.0 C174.8,107.3 175.3,110.2 174.5,111.0 C173.7,111.8 170.7,112.2 170.5,111.0Z" fill="#e4e4e4" stroke="#e4e4e4" stroke-width="4" stroke-linejoin="round"/>
<path d="M187.0,91.0 C188.2,90.0 193.4,89.3 197.5,88.4 C201.6,87.5 207.0,86.7 211.5,85.8 C216.0,84.9 221.5,83.8 224.7,83.1 C227.9,82.4 228.9,81.4 230.8,81.4 C232.7,81.4 234.5,82.1 236.0,83.1 C237.5,84.1 238.7,85.9 239.6,87.5 C240.5,89.1 241.1,90.7 241.3,92.8 C241.5,94.9 241.3,97.7 241.0,100.0 C240.7,102.3 241.0,105.5 239.6,106.8 C238.2,108.1 235.2,108.1 232.6,107.7 C230.0,107.3 226.7,105.1 223.8,104.2 C220.9,103.3 217.9,103.1 215.0,102.4 C212.1,101.7 209.2,100.8 206.3,99.8 C203.4,98.8 200.1,97.2 197.5,96.3 C194.9,95.4 192.2,95.4 190.5,94.5 C188.8,93.6 185.8,92.0 187.0,91.0Z" fill="#e4e4e4" stroke="#e4e4e4" stroke-width="4" stroke-linejoin="round"/>
<path d="M241.0,92.0 C242.3,90.8 244.5,91.9 246.6,92.8 C248.7,93.7 251.7,96.0 253.6,97.5 C255.5,99.0 256.3,100.8 258.0,102.0 C259.7,103.2 262.0,104.2 264.0,105.0 C266.0,105.8 268.8,105.7 270.0,106.5 C271.2,107.3 270.3,108.4 271.0,110.0 C271.7,111.6 272.5,113.8 274.0,116.0 C275.5,118.2 278.0,120.8 280.0,123.0 C282.0,125.2 284.0,127.0 286.0,129.0 C288.0,131.0 292.3,133.9 292.1,134.8 C291.9,135.7 287.9,134.8 285.0,134.5 C282.1,134.2 278.4,133.0 274.6,133.1 C270.8,133.2 266.4,134.1 262.3,134.8 C258.2,135.5 253.8,136.3 250.1,137.5 C246.4,138.7 242.8,141.4 240.4,141.8 C238.1,142.2 237.4,139.4 236.0,140.0 C234.6,140.6 232.2,145.0 231.7,145.3 C231.2,145.6 231.8,143.4 233.0,142.0 C234.2,140.6 238.2,139.0 238.7,136.6 C239.2,134.2 236.7,130.7 236.0,127.8 C235.3,124.9 234.6,122.3 234.3,119.1 C234.0,115.9 233.6,111.7 234.3,108.5 C235.0,105.3 237.4,102.8 238.5,100.0 C239.6,97.2 239.7,93.2 241.0,92.0Z" fill="#e4e4e4" stroke="#e4e4e4" stroke-width="4" stroke-linejoin="round"/>
<path d="M258.0,95.0 C259.7,93.3 261.5,92.2 263.0,91.0 C264.5,89.8 265.5,88.4 267.0,88.0 C268.5,87.6 270.2,87.9 272.0,88.5 C273.8,89.1 276.2,90.2 278.0,91.5 C279.8,92.8 282.3,94.8 283.0,96.0 C283.7,97.2 283.0,98.2 282.0,99.0 C281.0,99.8 278.5,100.2 277.0,101.0 C275.5,101.8 274.5,103.2 273.0,104.0 C271.5,104.8 269.8,105.7 268.0,106.0 C266.2,106.3 264.0,106.3 262.0,106.0 C260.0,105.7 257.5,104.8 256.0,104.0 C254.5,103.2 252.7,102.5 253.0,101.0 C253.3,99.5 256.3,96.7 258.0,95.0Z" fill="#e4e4e4" stroke="#e4e4e4" stroke-width="4" stroke-linejoin="round"/>
<path d="M240.4,141.8 C242.0,140.5 246.4,138.7 250.1,137.5 C253.8,136.3 258.2,135.5 262.3,134.8 C266.4,134.1 270.8,133.2 274.6,133.1 C278.4,133.0 282.2,133.3 285.1,134.0 C288.0,134.7 290.5,135.9 292.1,137.5 C293.7,139.1 294.5,141.1 294.8,143.6 C295.1,146.1 294.9,149.4 293.9,152.3 C292.9,155.2 291.2,158.6 288.6,161.1 C286.0,163.6 281.6,165.9 278.1,167.2 C274.6,168.5 271.4,169.0 267.6,169.0 C263.8,169.0 258.8,168.5 255.3,167.2 C251.8,165.9 248.8,163.6 246.6,161.1 C244.4,158.6 243.2,154.9 242.2,152.3 C241.2,149.7 240.7,147.1 240.4,145.3 C240.1,143.6 238.8,143.1 240.4,141.8Z" fill="#e4e4e4" stroke="#e4e4e4" stroke-width="4" stroke-linejoin="round"/>
</g>
<path d="M156.8,268.8h0.1M155.3,270.2h0.1M153.1,264.4h0.1M155.1,268.3h0.1M157.7,261.1h0.1M157.6,266.7h0.1M153.2,266.6h0.1M157.2,264.7h0.1M154.5,264.6h0.1M154.6,268.5h0.1M153.8,265.5h0.1M159.3,260.6h0.1M156.9,270.4h0.1M153.9,263.3h0.1M152.5,266.3h0.1M158.4,261.7h0.1M154.1,264.9h0.1M154.2,269.3h0.1M156.5,262.9h0.1M152.4,264.1h0.1M154.3,266.0h0.1M155.2,265.9h0.1M159.0,271.8h0.1M169.5,256.5h0.1M169.5,256.6h0.1M163.3,260.3h0.1M162.1,259.5h0.1M178.7,269.4h0.1M169.0,264.2h0.1M172.6,266.5h0.1M175.2,266.0h0.1M169.0,263.0h0.1M170.2,262.5h0.1M173.4,264.6h0.1M174.0,267.5h0.1M178.0,265.0h0.1M184.4,255.2h0.1M195.3,255.6h0.1M188.2,257.6h0.1M196.7,255.6h0.1M197.1,257.8h0.1M189.4,255.6h0.1M190.8,258.5h0.1M189.2,258.4h0.1M190.0,254.5h0.1M212.0,277.8h0.1M202.4,274.6h0.1M209.7,280.0h0.1M220.3,273.9h0.1M206.3,275.0h0.1M214.6,280.1h0.1M217.4,277.4h0.1M216.1,276.2h0.1M203.0,276.5h0.1M217.0,270.0h0.1M219.2,271.6h0.1M214.9,279.5h0.1M220.7,276.4h0.1M217.5,269.9h0.1M216.8,275.6h0.1M215.7,270.8h0.1M202.2,273.4h0.1M212.6,279.4h0.1M195.9,227.2h0.1M203.3,266.7h0.1M206.0,262.9h0.1M205.6,263.2h0.1M199.5,264.7h0.1M213.5,269.2h0.1M151.9,266.0h0.1M150.3,268.8h0.1M153.8,267.7h0.1M155.6,270.6h0.1M155.0,267.1h0.1M150.1,269.8h0.1M153.6,270.1h0.1M153.8,271.4h0.1M152.4,270.0h0.1M151.3,263.1h0.1M152.1,271.9h0.1M149.8,270.8h0.1M151.7,267.5h0.1M153.1,269.0h0.1M151.1,268.8h0.1M153.8,270.4h0.1M151.5,272.1h0.1M156.6,274.1h0.1M150.4,268.9h0.1M149.4,269.3h0.1M154.0,265.8h0.1M150.0,268.9h0.1" stroke="#f42a2a" stroke-width="1.8" stroke-linecap="round" opacity="0.75"/>
<line x1="270.7" y1="222.4" x2="270.7" y2="284.8" stroke="#333" stroke-width="0.8" />
<line x1="270.3" y1="284.4" x2="351.5" y2="284.4" stroke="#333" stroke-width="0.8" />
<line x1="268.7" y1="241.7" x2="270.7" y2="241.7" stroke="#333" stroke-width="0.8" />
<text x="266.5" y="244.1" font-size="6.8" text-anchor="end" fill="#333" >10</text>
<line x1="268.7" y1="265.3" x2="270.7" y2="265.3" stroke="#333" stroke-width="0.8" />
<text x="266.5" y="267.7" font-size="6.8" text-anchor="end" fill="#333" >0</text>
<line x1="282.1" y1="284.4" x2="282.1" y2="286.2" stroke="#333" stroke-width="0.8" />
<text x="282.1" y="293.8" font-size="6.8" text-anchor="middle" fill="#333" >-10</text>
<line x1="300.5" y1="284.4" x2="300.5" y2="286.2" stroke="#333" stroke-width="0.8" />
<text x="300.5" y="293.8" font-size="6.8" text-anchor="middle" fill="#333" >-5</text>
<line x1="319.0" y1="284.4" x2="319.0" y2="286.2" stroke="#333" stroke-width="0.8" />
<text x="319.0" y="293.8" font-size="6.8" text-anchor="middle" fill="#333" >0</text>
<line x1="337.7" y1="284.4" x2="337.7" y2="286.2" stroke="#333" stroke-width="0.8" />
<text x="337.7" y="293.8" font-size="6.8" text-anchor="middle" fill="#333" >5</text>
<text x="310.9" y="303.6" font-size="8" text-anchor="middle" fill="#333" >UMAP_1</text>
<text transform="translate(255.9,253.4) rotate(-90)" font-size="8.2" text-anchor="middle" fill="#333">UMAP_2</text>
<g transform="translate(234.05,225.30) scale(0.382,0.332)">
<path d="M222.0,9.0 C222.2,7.8 222.7,6.4 223.5,5.5 C224.3,4.6 225.6,3.9 227.0,3.5 C228.4,3.1 230.5,2.9 232.0,3.0 C233.5,3.1 234.8,3.3 236.0,4.0 C237.2,4.7 238.4,5.9 239.5,7.0 C240.6,8.1 241.8,9.5 242.5,10.5 C243.2,11.5 244.2,12.3 244.0,13.0 C243.8,13.7 242.2,14.2 241.0,14.5 C239.8,14.8 238.3,14.5 237.0,15.0 C235.7,15.5 234.5,17.0 233.0,17.5 C231.5,18.0 229.4,18.2 228.0,18.0 C226.6,17.8 225.4,17.3 224.5,16.5 C223.6,15.7 222.9,14.2 222.5,13.0 C222.1,11.8 221.8,10.2 222.0,9.0Z" fill="#f0f0f0" stroke="#f0f0f0" stroke-width="4" stroke-linejoin="round"/>
<path d="M239.0,13.0 C239.6,13.0 240.6,13.8 241.5,14.5 C242.4,15.2 244.2,16.9 244.5,17.5 C244.8,18.1 244.2,18.6 243.5,18.3 C242.8,18.1 241.4,16.6 240.5,16.0 C239.6,15.4 238.2,15.0 238.0,14.5 C237.8,14.0 238.4,13.0 239.0,13.0Z" fill="#f0f0f0" stroke="#f0f0f0" stroke-width="4" stroke-linejoin="round"/>
<path d="M132.1,105.3 C134.2,104.9 136.6,105.4 137.0,106.1 C137.4,106.8 135.4,108.1 134.5,109.3 C133.6,110.5 132.2,111.9 131.3,113.4 C130.4,114.9 129.4,116.3 128.9,118.2 C128.4,120.1 128.2,122.2 128.1,124.6 C128.0,127.0 127.7,130.2 128.1,132.6 C128.5,135.0 129.4,137.2 130.5,139.1 C131.6,141.0 133.2,142.6 134.5,143.9 C135.8,145.2 138.0,146.3 138.5,146.8 C139.0,147.3 138.8,147.3 137.7,147.0 C136.6,146.7 134.4,145.7 132.1,145.0 C129.8,144.3 126.8,144.1 124.1,143.1 C121.4,142.1 118.5,140.8 116.1,139.1 C113.7,137.3 110.9,134.8 109.6,132.6 C108.2,130.4 107.9,128.3 108.0,126.2 C108.1,124.1 109.1,121.9 110.4,119.8 C111.8,117.7 113.8,115.3 116.1,113.4 C118.4,111.5 121.4,109.8 124.1,108.5 C126.8,107.2 129.9,105.7 132.1,105.3Z" fill="#f0f0f0" stroke="#f0f0f0" stroke-width="4" stroke-linejoin="round"/>
<path d="M132.1,105.3 C132.6,103.7 134.8,102.1 136.9,100.5 C139.1,98.9 142.3,97.2 145.0,95.7 C147.7,94.2 150.3,93.0 153.0,91.7 C155.7,90.4 159.3,89.5 161.0,87.7 C162.7,86.0 162.7,83.0 163.4,81.2 C164.1,79.4 164.3,77.4 165.0,76.7 C165.7,76.0 166.5,76.2 167.4,77.2 C168.3,78.2 170.0,81.3 170.7,82.8 C171.4,84.3 171.8,84.7 171.5,86.0 C171.2,87.3 170.2,89.3 169.0,90.9 C167.8,92.5 166.1,94.4 164.2,95.7 C162.3,97.0 159.9,97.8 157.8,98.9 C155.7,100.0 153.8,101.0 151.4,102.1 C149.0,103.2 145.7,104.4 143.4,105.3 C141.1,106.2 139.3,106.9 137.7,107.7 C136.1,108.5 134.6,110.5 133.7,110.1 C132.8,109.7 131.6,106.9 132.1,105.3Z" fill="#f0f0f0" stroke="#f0f0f0" stroke-width="4" stroke-linejoin="round"/>
<path d="M154.6,113.4 C154.9,112.2 156.2,111.5 157.8,111.0 C159.4,110.5 162.0,110.2 164.2,110.1 C166.3,110.0 168.5,110.0 170.7,110.5 C172.8,111.0 175.0,112.1 177.1,113.4 C179.2,114.7 181.4,116.9 183.5,118.2 C185.6,119.5 187.8,120.5 189.9,121.4 C192.1,122.3 194.9,122.9 196.4,123.8 C197.9,124.7 198.9,126.1 198.8,127.0 C198.7,127.9 197.1,129.0 195.6,129.4 C194.1,129.8 191.7,129.0 189.9,129.4 C188.2,129.8 186.7,130.7 185.1,131.8 C183.5,132.9 182.7,135.0 180.3,135.8 C177.9,136.6 172.8,137.0 170.7,136.6 C168.5,136.2 168.3,134.6 167.4,133.4 C166.5,132.2 166.1,131.1 165.0,129.4 C163.9,127.7 162.5,124.9 161.0,123.0 C159.5,121.1 157.3,119.8 156.2,118.2 C155.1,116.6 154.3,114.6 154.6,113.4Z" fill="#f0f0f0" stroke="#f0f0f0" stroke-width="4" stroke-linejoin="round"/>
<path d="M170.5,111.0 C170.3,109.8 173.0,106.3 173.5,104.0 C174.0,101.7 173.2,98.3 173.5,97.0 C173.8,95.7 175.1,95.3 175.5,96.0 C175.9,96.7 175.4,100.2 176.0,101.0 C176.6,101.8 178.6,100.2 179.0,100.5 C179.4,100.8 179.1,102.1 178.5,103.0 C177.9,103.9 176.2,104.7 175.5,106.0 C174.8,107.3 175.3,110.2 174.5,111.0 C173.7,111.8 170.7,112.2 170.5,111.0Z" fill="#f0f0f0" stroke="#f0f0f0" stroke-width="4" stroke-linejoin="round"/>
<path d="M187.0,91.0 C188.2,90.0 193.4,89.3 197.5,88.4 C201.6,87.5 207.0,86.7 211.5,85.8 C216.0,84.9 221.5,83.8 224.7,83.1 C227.9,82.4 228.9,81.4 230.8,81.4 C232.7,81.4 234.5,82.1 236.0,83.1 C237.5,84.1 238.7,85.9 239.6,87.5 C240.5,89.1 241.1,90.7 241.3,92.8 C241.5,94.9 241.3,97.7 241.0,100.0 C240.7,102.3 241.0,105.5 239.6,106.8 C238.2,108.1 235.2,108.1 232.6,107.7 C230.0,107.3 226.7,105.1 223.8,104.2 C220.9,103.3 217.9,103.1 215.0,102.4 C212.1,101.7 209.2,100.8 206.3,99.8 C203.4,98.8 200.1,97.2 197.5,96.3 C194.9,95.4 192.2,95.4 190.5,94.5 C188.8,93.6 185.8,92.0 187.0,91.0Z" fill="#f0f0f0" stroke="#f0f0f0" stroke-width="4" stroke-linejoin="round"/>
<path d="M241.0,92.0 C242.3,90.8 244.5,91.9 246.6,92.8 C248.7,93.7 251.7,96.0 253.6,97.5 C255.5,99.0 256.3,100.8 258.0,102.0 C259.7,103.2 262.0,104.2 264.0,105.0 C266.0,105.8 268.8,105.7 270.0,106.5 C271.2,107.3 270.3,108.4 271.0,110.0 C271.7,111.6 272.5,113.8 274.0,116.0 C275.5,118.2 278.0,120.8 280.0,123.0 C282.0,125.2 284.0,127.0 286.0,129.0 C288.0,131.0 292.3,133.9 292.1,134.8 C291.9,135.7 287.9,134.8 285.0,134.5 C282.1,134.2 278.4,133.0 274.6,133.1 C270.8,133.2 266.4,134.1 262.3,134.8 C258.2,135.5 253.8,136.3 250.1,137.5 C246.4,138.7 242.8,141.4 240.4,141.8 C238.1,142.2 237.4,139.4 236.0,140.0 C234.6,140.6 232.2,145.0 231.7,145.3 C231.2,145.6 231.8,143.4 233.0,142.0 C234.2,140.6 238.2,139.0 238.7,136.6 C239.2,134.2 236.7,130.7 236.0,127.8 C235.3,124.9 234.6,122.3 234.3,119.1 C234.0,115.9 233.6,111.7 234.3,108.5 C235.0,105.3 237.4,102.8 238.5,100.0 C239.6,97.2 239.7,93.2 241.0,92.0Z" fill="#e6e6e6" stroke="#e6e6e6" stroke-width="4" stroke-linejoin="round"/>
<path d="M258.0,95.0 C259.7,93.3 261.5,92.2 263.0,91.0 C264.5,89.8 265.5,88.4 267.0,88.0 C268.5,87.6 270.2,87.9 272.0,88.5 C273.8,89.1 276.2,90.2 278.0,91.5 C279.8,92.8 282.3,94.8 283.0,96.0 C283.7,97.2 283.0,98.2 282.0,99.0 C281.0,99.8 278.5,100.2 277.0,101.0 C275.5,101.8 274.5,103.2 273.0,104.0 C271.5,104.8 269.8,105.7 268.0,106.0 C266.2,106.3 264.0,106.3 262.0,106.0 C260.0,105.7 257.5,104.8 256.0,104.0 C254.5,103.2 252.7,102.5 253.0,101.0 C253.3,99.5 256.3,96.7 258.0,95.0Z" fill="#e6e6e6" stroke="#e6e6e6" stroke-width="4" stroke-linejoin="round"/>
<path d="M240.4,141.8 C242.0,140.5 246.4,138.7 250.1,137.5 C253.8,136.3 258.2,135.5 262.3,134.8 C266.4,134.1 270.8,133.2 274.6,133.1 C278.4,133.0 282.2,133.3 285.1,134.0 C288.0,134.7 290.5,135.9 292.1,137.5 C293.7,139.1 294.5,141.1 294.8,143.6 C295.1,146.1 294.9,149.4 293.9,152.3 C292.9,155.2 291.2,158.6 288.6,161.1 C286.0,163.6 281.6,165.9 278.1,167.2 C274.6,168.5 271.4,169.0 267.6,169.0 C263.8,169.0 258.8,168.5 255.3,167.2 C251.8,165.9 248.8,163.6 246.6,161.1 C244.4,158.6 243.2,154.9 242.2,152.3 C241.2,149.7 240.7,147.1 240.4,145.3 C240.1,143.6 238.8,143.1 240.4,141.8Z" fill="#e6e6e6" stroke="#e6e6e6" stroke-width="4" stroke-linejoin="round"/>
</g>
<path d="M280.8,263.4h0.1M278.0,270.2h0.1M296.3,264.1h0.1M298.4,265.6h0.1M320.6,253.1h0.1M311.5,255.4h0.1M317.5,258.2h0.1M326.0,273.5h0.1M334.9,275.3h0.1M330.2,276.5h0.1M345.7,274.1h0.1M337.2,270.9h0.1M331.6,277.4h0.1M344.8,270.6h0.1M345.4,273.9h0.1M341.9,278.5h0.1M332.0,277.5h0.1M339.5,279.1h0.1M331.4,278.5h0.1M334.0,262.1h0.1M339.1,267.9h0.1M337.5,267.0h0.1M326.7,271.6h0.1M330.2,268.6h0.1M336.3,265.7h0.1M338.1,257.3h0.1M331.5,258.8h0.1" stroke="#f42a2a" stroke-width="1.8" stroke-linecap="round" opacity="0.75"/>
<line x1="28.3" y1="325.1" x2="28.3" y2="387.5" stroke="#333" stroke-width="0.8" />
<line x1="27.9" y1="387.1" x2="109.1" y2="387.1" stroke="#333" stroke-width="0.8" />
<line x1="26.3" y1="344.4" x2="28.3" y2="344.4" stroke="#333" stroke-width="0.8" />
<text x="24.1" y="346.8" font-size="6.8" text-anchor="end" fill="#333" >10</text>
<line x1="26.3" y1="368.0" x2="28.3" y2="368.0" stroke="#333" stroke-width="0.8" />
<text x="24.1" y="370.4" font-size="6.8" text-anchor="end" fill="#333" >0</text>
<line x1="39.7" y1="387.1" x2="39.7" y2="388.9" stroke="#333" stroke-width="0.8" />
<text x="39.7" y="396.5" font-size="6.8" text-anchor="middle" fill="#333" >-10</text>
<line x1="58.1" y1="387.1" x2="58.1" y2="388.9" stroke="#333" stroke-width="0.8" />
<text x="58.1" y="396.5" font-size="6.8" text-anchor="middle" fill="#333" >-5</text>
<line x1="76.6" y1="387.1" x2="76.6" y2="388.9" stroke="#333" stroke-width="0.8" />
<text x="76.6" y="396.5" font-size="6.8" text-anchor="middle" fill="#333" >0</text>
<line x1="95.3" y1="387.1" x2="95.3" y2="388.9" stroke="#333" stroke-width="0.8" />
<text x="95.3" y="396.5" font-size="6.8" text-anchor="middle" fill="#333" >5</text>
<text x="68.5" y="406.3" font-size="8" text-anchor="middle" fill="#333" >UMAP_1</text>
<text transform="translate(13.5,356.1) rotate(-90)" font-size="8.2" text-anchor="middle" fill="#333">UMAP_2</text>
<g transform="translate(-8.35,328.00) scale(0.382,0.332)">
<path d="M222.0,9.0 C222.2,7.8 222.7,6.4 223.5,5.5 C224.3,4.6 225.6,3.9 227.0,3.5 C228.4,3.1 230.5,2.9 232.0,3.0 C233.5,3.1 234.8,3.3 236.0,4.0 C237.2,4.7 238.4,5.9 239.5,7.0 C240.6,8.1 241.8,9.5 242.5,10.5 C243.2,11.5 244.2,12.3 244.0,13.0 C243.8,13.7 242.2,14.2 241.0,14.5 C239.8,14.8 238.3,14.5 237.0,15.0 C235.7,15.5 234.5,17.0 233.0,17.5 C231.5,18.0 229.4,18.2 228.0,18.0 C226.6,17.8 225.4,17.3 224.5,16.5 C223.6,15.7 222.9,14.2 222.5,13.0 C222.1,11.8 221.8,10.2 222.0,9.0Z" fill="#e4e4e4" stroke="#e4e4e4" stroke-width="4" stroke-linejoin="round"/>
<path d="M239.0,13.0 C239.6,13.0 240.6,13.8 241.5,14.5 C242.4,15.2 244.2,16.9 244.5,17.5 C244.8,18.1 244.2,18.6 243.5,18.3 C242.8,18.1 241.4,16.6 240.5,16.0 C239.6,15.4 238.2,15.0 238.0,14.5 C237.8,14.0 238.4,13.0 239.0,13.0Z" fill="#e4e4e4" stroke="#e4e4e4" stroke-width="4" stroke-linejoin="round"/>
<path d="M132.1,105.3 C134.2,104.9 136.6,105.4 137.0,106.1 C137.4,106.8 135.4,108.1 134.5,109.3 C133.6,110.5 132.2,111.9 131.3,113.4 C130.4,114.9 129.4,116.3 128.9,118.2 C128.4,120.1 128.2,122.2 128.1,124.6 C128.0,127.0 127.7,130.2 128.1,132.6 C128.5,135.0 129.4,137.2 130.5,139.1 C131.6,141.0 133.2,142.6 134.5,143.9 C135.8,145.2 138.0,146.3 138.5,146.8 C139.0,147.3 138.8,147.3 137.7,147.0 C136.6,146.7 134.4,145.7 132.1,145.0 C129.8,144.3 126.8,144.1 124.1,143.1 C121.4,142.1 118.5,140.8 116.1,139.1 C113.7,137.3 110.9,134.8 109.6,132.6 C108.2,130.4 107.9,128.3 108.0,126.2 C108.1,124.1 109.1,121.9 110.4,119.8 C111.8,117.7 113.8,115.3 116.1,113.4 C118.4,111.5 121.4,109.8 124.1,108.5 C126.8,107.2 129.9,105.7 132.1,105.3Z" fill="#e4e4e4" stroke="#e4e4e4" stroke-width="4" stroke-linejoin="round"/>
<path d="M132.1,105.3 C132.6,103.7 134.8,102.1 136.9,100.5 C139.1,98.9 142.3,97.2 145.0,95.7 C147.7,94.2 150.3,93.0 153.0,91.7 C155.7,90.4 159.3,89.5 161.0,87.7 C162.7,86.0 162.7,83.0 163.4,81.2 C164.1,79.4 164.3,77.4 165.0,76.7 C165.7,76.0 166.5,76.2 167.4,77.2 C168.3,78.2 170.0,81.3 170.7,82.8 C171.4,84.3 171.8,84.7 171.5,86.0 C171.2,87.3 170.2,89.3 169.0,90.9 C167.8,92.5 166.1,94.4 164.2,95.7 C162.3,97.0 159.9,97.8 157.8,98.9 C155.7,100.0 153.8,101.0 151.4,102.1 C149.0,103.2 145.7,104.4 143.4,105.3 C141.1,106.2 139.3,106.9 137.7,107.7 C136.1,108.5 134.6,110.5 133.7,110.1 C132.8,109.7 131.6,106.9 132.1,105.3Z" fill="#e4e4e4" stroke="#e4e4e4" stroke-width="4" stroke-linejoin="round"/>
<path d="M154.6,113.4 C154.9,112.2 156.2,111.5 157.8,111.0 C159.4,110.5 162.0,110.2 164.2,110.1 C166.3,110.0 168.5,110.0 170.7,110.5 C172.8,111.0 175.0,112.1 177.1,113.4 C179.2,114.7 181.4,116.9 183.5,118.2 C185.6,119.5 187.8,120.5 189.9,121.4 C192.1,122.3 194.9,122.9 196.4,123.8 C197.9,124.7 198.9,126.1 198.8,127.0 C198.7,127.9 197.1,129.0 195.6,129.4 C194.1,129.8 191.7,129.0 189.9,129.4 C188.2,129.8 186.7,130.7 185.1,131.8 C183.5,132.9 182.7,135.0 180.3,135.8 C177.9,136.6 172.8,137.0 170.7,136.6 C168.5,136.2 168.3,134.6 167.4,133.4 C166.5,132.2 166.1,131.1 165.0,129.4 C163.9,127.7 162.5,124.9 161.0,123.0 C159.5,121.1 157.3,119.8 156.2,118.2 C155.1,116.6 154.3,114.6 154.6,113.4Z" fill="#e4e4e4" stroke="#e4e4e4" stroke-width="4" stroke-linejoin="round"/>
<path d="M170.5,111.0 C170.3,109.8 173.0,106.3 173.5,104.0 C174.0,101.7 173.2,98.3 173.5,97.0 C173.8,95.7 175.1,95.3 175.5,96.0 C175.9,96.7 175.4,100.2 176.0,101.0 C176.6,101.8 178.6,100.2 179.0,100.5 C179.4,100.8 179.1,102.1 178.5,103.0 C177.9,103.9 176.2,104.7 175.5,106.0 C174.8,107.3 175.3,110.2 174.5,111.0 C173.7,111.8 170.7,112.2 170.5,111.0Z" fill="#e4e4e4" stroke="#e4e4e4" stroke-width="4" stroke-linejoin="round"/>
<path d="M187.0,91.0 C188.2,90.0 193.4,89.3 197.5,88.4 C201.6,87.5 207.0,86.7 211.5,85.8 C216.0,84.9 221.5,83.8 224.7,83.1 C227.9,82.4 228.9,81.4 230.8,81.4 C232.7,81.4 234.5,82.1 236.0,83.1 C237.5,84.1 238.7,85.9 239.6,87.5 C240.5,89.1 241.1,90.7 241.3,92.8 C241.5,94.9 241.3,97.7 241.0,100.0 C240.7,102.3 241.0,105.5 239.6,106.8 C238.2,108.1 235.2,108.1 232.6,107.7 C230.0,107.3 226.7,105.1 223.8,104.2 C220.9,103.3 217.9,103.1 215.0,102.4 C212.1,101.7 209.2,100.8 206.3,99.8 C203.4,98.8 200.1,97.2 197.5,96.3 C194.9,95.4 192.2,95.4 190.5,94.5 C188.8,93.6 185.8,92.0 187.0,91.0Z" fill="#e4e4e4" stroke="#e4e4e4" stroke-width="4" stroke-linejoin="round"/>
<path d="M241.0,92.0 C242.3,90.8 244.5,91.9 246.6,92.8 C248.7,93.7 251.7,96.0 253.6,97.5 C255.5,99.0 256.3,100.8 258.0,102.0 C259.7,103.2 262.0,104.2 264.0,105.0 C266.0,105.8 268.8,105.7 270.0,106.5 C271.2,107.3 270.3,108.4 271.0,110.0 C271.7,111.6 272.5,113.8 274.0,116.0 C275.5,118.2 278.0,120.8 280.0,123.0 C282.0,125.2 284.0,127.0 286.0,129.0 C288.0,131.0 292.3,133.9 292.1,134.8 C291.9,135.7 287.9,134.8 285.0,134.5 C282.1,134.2 278.4,133.0 274.6,133.1 C270.8,133.2 266.4,134.1 262.3,134.8 C258.2,135.5 253.8,136.3 250.1,137.5 C246.4,138.7 242.8,141.4 240.4,141.8 C238.1,142.2 237.4,139.4 236.0,140.0 C234.6,140.6 232.2,145.0 231.7,145.3 C231.2,145.6 231.8,143.4 233.0,142.0 C234.2,140.6 238.2,139.0 238.7,136.6 C239.2,134.2 236.7,130.7 236.0,127.8 C235.3,124.9 234.6,122.3 234.3,119.1 C234.0,115.9 233.6,111.7 234.3,108.5 C235.0,105.3 237.4,102.8 238.5,100.0 C239.6,97.2 239.7,93.2 241.0,92.0Z" fill="#e4e4e4" stroke="#e4e4e4" stroke-width="4" stroke-linejoin="round"/>
<path d="M258.0,95.0 C259.7,93.3 261.5,92.2 263.0,91.0 C264.5,89.8 265.5,88.4 267.0,88.0 C268.5,87.6 270.2,87.9 272.0,88.5 C273.8,89.1 276.2,90.2 278.0,91.5 C279.8,92.8 282.3,94.8 283.0,96.0 C283.7,97.2 283.0,98.2 282.0,99.0 C281.0,99.8 278.5,100.2 277.0,101.0 C275.5,101.8 274.5,103.2 273.0,104.0 C271.5,104.8 269.8,105.7 268.0,106.0 C266.2,106.3 264.0,106.3 262.0,106.0 C260.0,105.7 257.5,104.8 256.0,104.0 C254.5,103.2 252.7,102.5 253.0,101.0 C253.3,99.5 256.3,96.7 258.0,95.0Z" fill="#e4e4e4" stroke="#e4e4e4" stroke-width="4" stroke-linejoin="round"/>
<path d="M240.4,141.8 C242.0,140.5 246.4,138.7 250.1,137.5 C253.8,136.3 258.2,135.5 262.3,134.8 C266.4,134.1 270.8,133.2 274.6,133.1 C278.4,133.0 282.2,133.3 285.1,134.0 C288.0,134.7 290.5,135.9 292.1,137.5 C293.7,139.1 294.5,141.1 294.8,143.6 C295.1,146.1 294.9,149.4 293.9,152.3 C292.9,155.2 291.2,158.6 288.6,161.1 C286.0,163.6 281.6,165.9 278.1,167.2 C274.6,168.5 271.4,169.0 267.6,169.0 C263.8,169.0 258.8,168.5 255.3,167.2 C251.8,165.9 248.8,163.6 246.6,161.1 C244.4,158.6 243.2,154.9 242.2,152.3 C241.2,149.7 240.7,147.1 240.4,145.3 C240.1,143.6 238.8,143.1 240.4,141.8Z" fill="#e4e4e4" stroke="#e4e4e4" stroke-width="4" stroke-linejoin="round"/>
</g>
<path d="M36.0,368.3h0.1M43.1,363.5h0.1M38.8,366.4h0.1M36.8,368.5h0.1M39.2,373.6h0.1M37.8,373.3h0.1M39.8,365.0h0.1M37.5,365.6h0.1M39.1,370.8h0.1M35.3,366.4h0.1M42.0,363.4h0.1M42.3,375.3h0.1M39.3,371.0h0.1M40.9,367.1h0.1M39.9,373.0h0.1M39.0,369.3h0.1M35.2,370.3h0.1M33.3,369.9h0.1M40.4,369.1h0.1M41.0,364.8h0.1M53.2,357.3h0.1M55.1,358.3h0.1M53.5,358.8h0.1M52.6,359.4h0.1M48.5,360.7h0.1M55.9,368.6h0.1M99.2,377.0h0.1M98.4,376.6h0.1M70.8,359.6h0.1M81.5,330.1h0.1M36.2,372.8h0.1M35.4,371.8h0.1M34.2,373.1h0.1M35.4,373.9h0.1M34.4,373.5h0.1M35.9,373.0h0.1M36.1,374.7h0.1M35.5,373.0h0.1M33.7,373.4h0.1M35.1,372.3h0.1M33.9,373.9h0.1M39.1,373.6h0.1M35.3,373.6h0.1M34.3,373.0h0.1M34.2,371.6h0.1M35.6,373.2h0.1M35.0,371.4h0.1M35.6,370.8h0.1M36.4,372.2h0.1M35.2,374.3h0.1M36.0,370.5h0.1M34.8,373.5h0.1M33.5,368.4h0.1M35.1,372.7h0.1M35.9,373.0h0.1M35.4,373.3h0.1" stroke="#f42a2a" stroke-width="1.8" stroke-linecap="round" opacity="0.75"/>
<line x1="145.7" y1="325.1" x2="145.7" y2="387.5" stroke="#333" stroke-width="0.8" />
<line x1="145.3" y1="387.1" x2="226.5" y2="387.1" stroke="#333" stroke-width="0.8" />
<line x1="143.7" y1="344.4" x2="145.7" y2="344.4" stroke="#333" stroke-width="0.8" />
<text x="141.5" y="346.8" font-size="6.8" text-anchor="end" fill="#333" >10</text>
<line x1="143.7" y1="368.0" x2="145.7" y2="368.0" stroke="#333" stroke-width="0.8" />
<text x="141.5" y="370.4" font-size="6.8" text-anchor="end" fill="#333" >0</text>
<line x1="157.1" y1="387.1" x2="157.1" y2="388.9" stroke="#333" stroke-width="0.8" />
<text x="157.1" y="396.5" font-size="6.8" text-anchor="middle" fill="#333" >-10</text>
<line x1="175.5" y1="387.1" x2="175.5" y2="388.9" stroke="#333" stroke-width="0.8" />
<text x="175.5" y="396.5" font-size="6.8" text-anchor="middle" fill="#333" >-5</text>
<line x1="194.0" y1="387.1" x2="194.0" y2="388.9" stroke="#333" stroke-width="0.8" />
<text x="194.0" y="396.5" font-size="6.8" text-anchor="middle" fill="#333" >0</text>
<line x1="212.7" y1="387.1" x2="212.7" y2="388.9" stroke="#333" stroke-width="0.8" />
<text x="212.7" y="396.5" font-size="6.8" text-anchor="middle" fill="#333" >5</text>
<text x="185.9" y="406.3" font-size="8" text-anchor="middle" fill="#333" >UMAP_1</text>
<text transform="translate(130.9,356.1) rotate(-90)" font-size="8.2" text-anchor="middle" fill="#333">UMAP_2</text>
<g transform="translate(109.05,328.00) scale(0.382,0.332)">
<path d="M222.0,9.0 C222.2,7.8 222.7,6.4 223.5,5.5 C224.3,4.6 225.6,3.9 227.0,3.5 C228.4,3.1 230.5,2.9 232.0,3.0 C233.5,3.1 234.8,3.3 236.0,4.0 C237.2,4.7 238.4,5.9 239.5,7.0 C240.6,8.1 241.8,9.5 242.5,10.5 C243.2,11.5 244.2,12.3 244.0,13.0 C243.8,13.7 242.2,14.2 241.0,14.5 C239.8,14.8 238.3,14.5 237.0,15.0 C235.7,15.5 234.5,17.0 233.0,17.5 C231.5,18.0 229.4,18.2 228.0,18.0 C226.6,17.8 225.4,17.3 224.5,16.5 C223.6,15.7 222.9,14.2 222.5,13.0 C222.1,11.8 221.8,10.2 222.0,9.0Z" fill="#e4e4e4" stroke="#e4e4e4" stroke-width="4" stroke-linejoin="round"/>
<path d="M239.0,13.0 C239.6,13.0 240.6,13.8 241.5,14.5 C242.4,15.2 244.2,16.9 244.5,17.5 C244.8,18.1 244.2,18.6 243.5,18.3 C242.8,18.1 241.4,16.6 240.5,16.0 C239.6,15.4 238.2,15.0 238.0,14.5 C237.8,14.0 238.4,13.0 239.0,13.0Z" fill="#e4e4e4" stroke="#e4e4e4" stroke-width="4" stroke-linejoin="round"/>
<path d="M132.1,105.3 C134.2,104.9 136.6,105.4 137.0,106.1 C137.4,106.8 135.4,108.1 134.5,109.3 C133.6,110.5 132.2,111.9 131.3,113.4 C130.4,114.9 129.4,116.3 128.9,118.2 C128.4,120.1 128.2,122.2 128.1,124.6 C128.0,127.0 127.7,130.2 128.1,132.6 C128.5,135.0 129.4,137.2 130.5,139.1 C131.6,141.0 133.2,142.6 134.5,143.9 C135.8,145.2 138.0,146.3 138.5,146.8 C139.0,147.3 138.8,147.3 137.7,147.0 C136.6,146.7 134.4,145.7 132.1,145.0 C129.8,144.3 126.8,144.1 124.1,143.1 C121.4,142.1 118.5,140.8 116.1,139.1 C113.7,137.3 110.9,134.8 109.6,132.6 C108.2,130.4 107.9,128.3 108.0,126.2 C108.1,124.1 109.1,121.9 110.4,119.8 C111.8,117.7 113.8,115.3 116.1,113.4 C118.4,111.5 121.4,109.8 124.1,108.5 C126.8,107.2 129.9,105.7 132.1,105.3Z" fill="#e4e4e4" stroke="#e4e4e4" stroke-width="4" stroke-linejoin="round"/>
<path d="M132.1,105.3 C132.6,103.7 134.8,102.1 136.9,100.5 C139.1,98.9 142.3,97.2 145.0,95.7 C147.7,94.2 150.3,93.0 153.0,91.7 C155.7,90.4 159.3,89.5 161.0,87.7 C162.7,86.0 162.7,83.0 163.4,81.2 C164.1,79.4 164.3,77.4 165.0,76.7 C165.7,76.0 166.5,76.2 167.4,77.2 C168.3,78.2 170.0,81.3 170.7,82.8 C171.4,84.3 171.8,84.7 171.5,86.0 C171.2,87.3 170.2,89.3 169.0,90.9 C167.8,92.5 166.1,94.4 164.2,95.7 C162.3,97.0 159.9,97.8 157.8,98.9 C155.7,100.0 153.8,101.0 151.4,102.1 C149.0,103.2 145.7,104.4 143.4,105.3 C141.1,106.2 139.3,106.9 137.7,107.7 C136.1,108.5 134.6,110.5 133.7,110.1 C132.8,109.7 131.6,106.9 132.1,105.3Z" fill="#e4e4e4" stroke="#e4e4e4" stroke-width="4" stroke-linejoin="round"/>
<path d="M154.6,113.4 C154.9,112.2 156.2,111.5 157.8,111.0 C159.4,110.5 162.0,110.2 164.2,110.1 C166.3,110.0 168.5,110.0 170.7,110.5 C172.8,111.0 175.0,112.1 177.1,113.4 C179.2,114.7 181.4,116.9 183.5,118.2 C185.6,119.5 187.8,120.5 189.9,121.4 C192.1,122.3 194.9,122.9 196.4,123.8 C197.9,124.7 198.9,126.1 198.8,127.0 C198.7,127.9 197.1,129.0 195.6,129.4 C194.1,129.8 191.7,129.0 189.9,129.4 C188.2,129.8 186.7,130.7 185.1,131.8 C183.5,132.9 182.7,135.0 180.3,135.8 C177.9,136.6 172.8,137.0 170.7,136.6 C168.5,136.2 168.3,134.6 167.4,133.4 C166.5,132.2 166.1,131.1 165.0,129.4 C163.9,127.7 162.5,124.9 161.0,123.0 C159.5,121.1 157.3,119.8 156.2,118.2 C155.1,116.6 154.3,114.6 154.6,113.4Z" fill="#e4e4e4" stroke="#e4e4e4" stroke-width="4" stroke-linejoin="round"/>
<path d="M170.5,111.0 C170.3,109.8 173.0,106.3 173.5,104.0 C174.0,101.7 173.2,98.3 173.5,97.0 C173.8,95.7 175.1,95.3 175.5,96.0 C175.9,96.7 175.4,100.2 176.0,101.0 C176.6,101.8 178.6,100.2 179.0,100.5 C179.4,100.8 179.1,102.1 178.5,103.0 C177.9,103.9 176.2,104.7 175.5,106.0 C174.8,107.3 175.3,110.2 174.5,111.0 C173.7,111.8 170.7,112.2 170.5,111.0Z" fill="#e4e4e4" stroke="#e4e4e4" stroke-width="4" stroke-linejoin="round"/>
<path d="M187.0,91.0 C188.2,90.0 193.4,89.3 197.5,88.4 C201.6,87.5 207.0,86.7 211.5,85.8 C216.0,84.9 221.5,83.8 224.7,83.1 C227.9,82.4 228.9,81.4 230.8,81.4 C232.7,81.4 234.5,82.1 236.0,83.1 C237.5,84.1 238.7,85.9 239.6,87.5 C240.5,89.1 241.1,90.7 241.3,92.8 C241.5,94.9 241.3,97.7 241.0,100.0 C240.7,102.3 241.0,105.5 239.6,106.8 C238.2,108.1 235.2,108.1 232.6,107.7 C230.0,107.3 226.7,105.1 223.8,104.2 C220.9,103.3 217.9,103.1 215.0,102.4 C212.1,101.7 209.2,100.8 206.3,99.8 C203.4,98.8 200.1,97.2 197.5,96.3 C194.9,95.4 192.2,95.4 190.5,94.5 C188.8,93.6 185.8,92.0 187.0,91.0Z" fill="#e4e4e4" stroke="#e4e4e4" stroke-width="4" stroke-linejoin="round"/>
<path d="M241.0,92.0 C242.3,90.8 244.5,91.9 246.6,92.8 C248.7,93.7 251.7,96.0 253.6,97.5 C255.5,99.0 256.3,100.8 258.0,102.0 C259.7,103.2 262.0,104.2 264.0,105.0 C266.0,105.8 268.8,105.7 270.0,106.5 C271.2,107.3 270.3,108.4 271.0,110.0 C271.7,111.6 272.5,113.8 274.0,116.0 C275.5,118.2 278.0,120.8 280.0,123.0 C282.0,125.2 284.0,127.0 286.0,129.0 C288.0,131.0 292.3,133.9 292.1,134.8 C291.9,135.7 287.9,134.8 285.0,134.5 C282.1,134.2 278.4,133.0 274.6,133.1 C270.8,133.2 266.4,134.1 262.3,134.8 C258.2,135.5 253.8,136.3 250.1,137.5 C246.4,138.7 242.8,141.4 240.4,141.8 C238.1,142.2 237.4,139.4 236.0,140.0 C234.6,140.6 232.2,145.0 231.7,145.3 C231.2,145.6 231.8,143.4 233.0,142.0 C234.2,140.6 238.2,139.0 238.7,136.6 C239.2,134.2 236.7,130.7 236.0,127.8 C235.3,124.9 234.6,122.3 234.3,119.1 C234.0,115.9 233.6,111.7 234.3,108.5 C235.0,105.3 237.4,102.8 238.5,100.0 C239.6,97.2 239.7,93.2 241.0,92.0Z" fill="#e4e4e4" stroke="#e4e4e4" stroke-width="4" stroke-linejoin="round"/>
<path d="M258.0,95.0 C259.7,93.3 261.5,92.2 263.0,91.0 C264.5,89.8 265.5,88.4 267.0,88.0 C268.5,87.6 270.2,87.9 272.0,88.5 C273.8,89.1 276.2,90.2 278.0,91.5 C279.8,92.8 282.3,94.8 283.0,96.0 C283.7,97.2 283.0,98.2 282.0,99.0 C281.0,99.8 278.5,100.2 277.0,101.0 C275.5,101.8 274.5,103.2 273.0,104.0 C271.5,104.8 269.8,105.7 268.0,106.0 C266.2,106.3 264.0,106.3 262.0,106.0 C260.0,105.7 257.5,104.8 256.0,104.0 C254.5,103.2 252.7,102.5 253.0,101.0 C253.3,99.5 256.3,96.7 258.0,95.0Z" fill="#e4e4e4" stroke="#e4e4e4" stroke-width="4" stroke-linejoin="round"/>
<path d="M240.4,141.8 C242.0,140.5 246.4,138.7 250.1,137.5 C253.8,136.3 258.2,135.5 262.3,134.8 C266.4,134.1 270.8,133.2 274.6,133.1 C278.4,133.0 282.2,133.3 285.1,134.0 C288.0,134.7 290.5,135.9 292.1,137.5 C293.7,139.1 294.5,141.1 294.8,143.6 C295.1,146.1 294.9,149.4 293.9,152.3 C292.9,155.2 291.2,158.6 288.6,161.1 C286.0,163.6 281.6,165.9 278.1,167.2 C274.6,168.5 271.4,169.0 267.6,169.0 C263.8,169.0 258.8,168.5 255.3,167.2 C251.8,165.9 248.8,163.6 246.6,161.1 C244.4,158.6 243.2,154.9 242.2,152.3 C241.2,149.7 240.7,147.1 240.4,145.3 C240.1,143.6 238.8,143.1 240.4,141.8Z" fill="#e4e4e4" stroke="#e4e4e4" stroke-width="4" stroke-linejoin="round"/>
</g>
<path d="M150.9,372.0h0.1M159.7,375.7h0.1M153.9,371.4h0.1M151.6,368.4h0.1M154.2,372.4h0.1M155.1,366.1h0.1M156.0,365.1h0.1M155.7,373.5h0.1M158.2,364.3h0.1M157.8,375.1h0.1M154.2,368.1h0.1M151.1,368.5h0.1M156.9,364.5h0.1M151.2,371.9h0.1M152.1,371.9h0.1M152.9,370.7h0.1M155.2,373.8h0.1M157.3,373.9h0.1M156.5,365.6h0.1M159.9,364.5h0.1M151.3,369.4h0.1M157.5,371.8h0.1M159.2,375.0h0.1M164.7,360.2h0.1M171.8,355.7h0.1M167.6,358.6h0.1M170.6,358.2h0.1M179.1,369.9h0.1M171.7,367.6h0.1M199.8,361.4h0.1M198.6,363.6h0.1M191.6,358.7h0.1M200.1,362.9h0.1M200.2,359.3h0.1M196.5,358.6h0.1M207.0,383.3h0.1M215.9,375.7h0.1M211.7,379.8h0.1M206.6,377.3h0.1M208.0,381.0h0.1M216.4,375.6h0.1M203.0,375.8h0.1M209.4,373.1h0.1M204.1,381.3h0.1M208.6,374.1h0.1M207.4,377.7h0.1M209.7,368.1h0.1M204.1,366.7h0.1M204.4,362.8h0.1M200.6,367.9h0.1M220.2,372.4h0.1M197.5,330.7h0.1M194.3,331.7h0.1M154.0,372.9h0.1M152.7,375.7h0.1M151.3,372.6h0.1M154.5,372.4h0.1M150.6,369.5h0.1M155.6,369.8h0.1M152.6,373.0h0.1M152.8,368.0h0.1M149.0,371.6h0.1M151.1,371.3h0.1M152.8,372.2h0.1M150.1,368.2h0.1M154.4,370.5h0.1M150.4,367.5h0.1M153.6,369.1h0.1M150.6,373.2h0.1M153.2,373.0h0.1M150.2,365.7h0.1M150.7,371.2h0.1M151.3,373.7h0.1M153.3,369.6h0.1M153.7,371.5h0.1M151.7,374.2h0.1M149.4,374.0h0.1M154.7,367.4h0.1M152.2,371.5h0.1" stroke="#f42a2a" stroke-width="1.8" stroke-linecap="round" opacity="0.75"/>
<line x1="270.7" y1="325.1" x2="270.7" y2="387.5" stroke="#333" stroke-width="0.8" />
<line x1="270.3" y1="387.1" x2="351.5" y2="387.1" stroke="#333" stroke-width="0.8" />
<line x1="268.7" y1="344.4" x2="270.7" y2="344.4" stroke="#333" stroke-width="0.8" />
<text x="266.5" y="346.8" font-size="6.8" text-anchor="end" fill="#333" >10</text>
<line x1="268.7" y1="368.0" x2="270.7" y2="368.0" stroke="#333" stroke-width="0.8" />
<text x="266.5" y="370.4" font-size="6.8" text-anchor="end" fill="#333" >0</text>
<line x1="282.1" y1="387.1" x2="282.1" y2="388.9" stroke="#333" stroke-width="0.8" />
<text x="282.1" y="396.5" font-size="6.8" text-anchor="middle" fill="#333" >-10</text>
<line x1="300.5" y1="387.1" x2="300.5" y2="388.9" stroke="#333" stroke-width="0.8" />
<text x="300.5" y="396.5" font-size="6.8" text-anchor="middle" fill="#333" >-5</text>
<line x1="319.0" y1="387.1" x2="319.0" y2="388.9" stroke="#333" stroke-width="0.8" />
<text x="319.0" y="396.5" font-size="6.8" text-anchor="middle" fill="#333" >0</text>
<line x1="337.7" y1="387.1" x2="337.7" y2="388.9" stroke="#333" stroke-width="0.8" />
<text x="337.7" y="396.5" font-size="6.8" text-anchor="middle" fill="#333" >5</text>
<text x="310.9" y="406.3" font-size="8" text-anchor="middle" fill="#333" >UMAP_1</text>
<text transform="translate(255.9,356.1) rotate(-90)" font-size="8.2" text-anchor="middle" fill="#333">UMAP_2</text>
<g transform="translate(234.05,328.00) scale(0.382,0.332)">
<path d="M222.0,9.0 C222.2,7.8 222.7,6.4 223.5,5.5 C224.3,4.6 225.6,3.9 227.0,3.5 C228.4,3.1 230.5,2.9 232.0,3.0 C233.5,3.1 234.8,3.3 236.0,4.0 C237.2,4.7 238.4,5.9 239.5,7.0 C240.6,8.1 241.8,9.5 242.5,10.5 C243.2,11.5 244.2,12.3 244.0,13.0 C243.8,13.7 242.2,14.2 241.0,14.5 C239.8,14.8 238.3,14.5 237.0,15.0 C235.7,15.5 234.5,17.0 233.0,17.5 C231.5,18.0 229.4,18.2 228.0,18.0 C226.6,17.8 225.4,17.3 224.5,16.5 C223.6,15.7 222.9,14.2 222.5,13.0 C222.1,11.8 221.8,10.2 222.0,9.0Z" fill="#f0f0f0" stroke="#f0f0f0" stroke-width="4" stroke-linejoin="round"/>
<path d="M239.0,13.0 C239.6,13.0 240.6,13.8 241.5,14.5 C242.4,15.2 244.2,16.9 244.5,17.5 C244.8,18.1 244.2,18.6 243.5,18.3 C242.8,18.1 241.4,16.6 240.5,16.0 C239.6,15.4 238.2,15.0 238.0,14.5 C237.8,14.0 238.4,13.0 239.0,13.0Z" fill="#f0f0f0" stroke="#f0f0f0" stroke-width="4" stroke-linejoin="round"/>
<path d="M132.1,105.3 C134.2,104.9 136.6,105.4 137.0,106.1 C137.4,106.8 135.4,108.1 134.5,109.3 C133.6,110.5 132.2,111.9 131.3,113.4 C130.4,114.9 129.4,116.3 128.9,118.2 C128.4,120.1 128.2,122.2 128.1,124.6 C128.0,127.0 127.7,130.2 128.1,132.6 C128.5,135.0 129.4,137.2 130.5,139.1 C131.6,141.0 133.2,142.6 134.5,143.9 C135.8,145.2 138.0,146.3 138.5,146.8 C139.0,147.3 138.8,147.3 137.7,147.0 C136.6,146.7 134.4,145.7 132.1,145.0 C129.8,144.3 126.8,144.1 124.1,143.1 C121.4,142.1 118.5,140.8 116.1,139.1 C113.7,137.3 110.9,134.8 109.6,132.6 C108.2,130.4 107.9,128.3 108.0,126.2 C108.1,124.1 109.1,121.9 110.4,119.8 C111.8,117.7 113.8,115.3 116.1,113.4 C118.4,111.5 121.4,109.8 124.1,108.5 C126.8,107.2 129.9,105.7 132.1,105.3Z" fill="#f0f0f0" stroke="#f0f0f0" stroke-width="4" stroke-linejoin="round"/>
<path d="M132.1,105.3 C132.6,103.7 134.8,102.1 136.9,100.5 C139.1,98.9 142.3,97.2 145.0,95.7 C147.7,94.2 150.3,93.0 153.0,91.7 C155.7,90.4 159.3,89.5 161.0,87.7 C162.7,86.0 162.7,83.0 163.4,81.2 C164.1,79.4 164.3,77.4 165.0,76.7 C165.7,76.0 166.5,76.2 167.4,77.2 C168.3,78.2 170.0,81.3 170.7,82.8 C171.4,84.3 171.8,84.7 171.5,86.0 C171.2,87.3 170.2,89.3 169.0,90.9 C167.8,92.5 166.1,94.4 164.2,95.7 C162.3,97.0 159.9,97.8 157.8,98.9 C155.7,100.0 153.8,101.0 151.4,102.1 C149.0,103.2 145.7,104.4 143.4,105.3 C141.1,106.2 139.3,106.9 137.7,107.7 C136.1,108.5 134.6,110.5 133.7,110.1 C132.8,109.7 131.6,106.9 132.1,105.3Z" fill="#f0f0f0" stroke="#f0f0f0" stroke-width="4" stroke-linejoin="round"/>
<path d="M154.6,113.4 C154.9,112.2 156.2,111.5 157.8,111.0 C159.4,110.5 162.0,110.2 164.2,110.1 C166.3,110.0 168.5,110.0 170.7,110.5 C172.8,111.0 175.0,112.1 177.1,113.4 C179.2,114.7 181.4,116.9 183.5,118.2 C185.6,119.5 187.8,120.5 189.9,121.4 C192.1,122.3 194.9,122.9 196.4,123.8 C197.9,124.7 198.9,126.1 198.8,127.0 C198.7,127.9 197.1,129.0 195.6,129.4 C194.1,129.8 191.7,129.0 189.9,129.4 C188.2,129.8 186.7,130.7 185.1,131.8 C183.5,132.9 182.7,135.0 180.3,135.8 C177.9,136.6 172.8,137.0 170.7,136.6 C168.5,136.2 168.3,134.6 167.4,133.4 C166.5,132.2 166.1,131.1 165.0,129.4 C163.9,127.7 162.5,124.9 161.0,123.0 C159.5,121.1 157.3,119.8 156.2,118.2 C155.1,116.6 154.3,114.6 154.6,113.4Z" fill="#f0f0f0" stroke="#f0f0f0" stroke-width="4" stroke-linejoin="round"/>
<path d="M170.5,111.0 C170.3,109.8 173.0,106.3 173.5,104.0 C174.0,101.7 173.2,98.3 173.5,97.0 C173.8,95.7 175.1,95.3 175.5,96.0 C175.9,96.7 175.4,100.2 176.0,101.0 C176.6,101.8 178.6,100.2 179.0,100.5 C179.4,100.8 179.1,102.1 178.5,103.0 C177.9,103.9 176.2,104.7 175.5,106.0 C174.8,107.3 175.3,110.2 174.5,111.0 C173.7,111.8 170.7,112.2 170.5,111.0Z" fill="#f0f0f0" stroke="#f0f0f0" stroke-width="4" stroke-linejoin="round"/>
<path d="M187.0,91.0 C188.2,90.0 193.4,89.3 197.5,88.4 C201.6,87.5 207.0,86.7 211.5,85.8 C216.0,84.9 221.5,83.8 224.7,83.1 C227.9,82.4 228.9,81.4 230.8,81.4 C232.7,81.4 234.5,82.1 236.0,83.1 C237.5,84.1 238.7,85.9 239.6,87.5 C240.5,89.1 241.1,90.7 241.3,92.8 C241.5,94.9 241.3,97.7 241.0,100.0 C240.7,102.3 241.0,105.5 239.6,106.8 C238.2,108.1 235.2,108.1 232.6,107.7 C230.0,107.3 226.7,105.1 223.8,104.2 C220.9,103.3 217.9,103.1 215.0,102.4 C212.1,101.7 209.2,100.8 206.3,99.8 C203.4,98.8 200.1,97.2 197.5,96.3 C194.9,95.4 192.2,95.4 190.5,94.5 C188.8,93.6 185.8,92.0 187.0,91.0Z" fill="#f0f0f0" stroke="#f0f0f0" stroke-width="4" stroke-linejoin="round"/>
<path d="M241.0,92.0 C242.3,90.8 244.5,91.9 246.6,92.8 C248.7,93.7 251.7,96.0 253.6,97.5 C255.5,99.0 256.3,100.8 258.0,102.0 C259.7,103.2 262.0,104.2 264.0,105.0 C266.0,105.8 268.8,105.7 270.0,106.5 C271.2,107.3 270.3,108.4 271.0,110.0 C271.7,111.6 272.5,113.8 274.0,116.0 C275.5,118.2 278.0,120.8 280.0,123.0 C282.0,125.2 284.0,127.0 286.0,129.0 C288.0,131.0 292.3,133.9 292.1,134.8 C291.9,135.7 287.9,134.8 285.0,134.5 C282.1,134.2 278.4,133.0 274.6,133.1 C270.8,133.2 266.4,134.1 262.3,134.8 C258.2,135.5 253.8,136.3 250.1,137.5 C246.4,138.7 242.8,141.4 240.4,141.8 C238.1,142.2 237.4,139.4 236.0,140.0 C234.6,140.6 232.2,145.0 231.7,145.3 C231.2,145.6 231.8,143.4 233.0,142.0 C234.2,140.6 238.2,139.0 238.7,136.6 C239.2,134.2 236.7,130.7 236.0,127.8 C235.3,124.9 234.6,122.3 234.3,119.1 C234.0,115.9 233.6,111.7 234.3,108.5 C235.0,105.3 237.4,102.8 238.5,100.0 C239.6,97.2 239.7,93.2 241.0,92.0Z" fill="#e6e6e6" stroke="#e6e6e6" stroke-width="4" stroke-linejoin="round"/>
<path d="M258.0,95.0 C259.7,93.3 261.5,92.2 263.0,91.0 C264.5,89.8 265.5,88.4 267.0,88.0 C268.5,87.6 270.2,87.9 272.0,88.5 C273.8,89.1 276.2,90.2 278.0,91.5 C279.8,92.8 282.3,94.8 283.0,96.0 C283.7,97.2 283.0,98.2 282.0,99.0 C281.0,99.8 278.5,100.2 277.0,101.0 C275.5,101.8 274.5,103.2 273.0,104.0 C271.5,104.8 269.8,105.7 268.0,106.0 C266.2,106.3 264.0,106.3 262.0,106.0 C260.0,105.7 257.5,104.8 256.0,104.0 C254.5,103.2 252.7,102.5 253.0,101.0 C253.3,99.5 256.3,96.7 258.0,95.0Z" fill="#e6e6e6" stroke="#e6e6e6" stroke-width="4" stroke-linejoin="round"/>
<path d="M240.4,141.8 C242.0,140.5 246.4,138.7 250.1,137.5 C253.8,136.3 258.2,135.5 262.3,134.8 C266.4,134.1 270.8,133.2 274.6,133.1 C278.4,133.0 282.2,133.3 285.1,134.0 C288.0,134.7 290.5,135.9 292.1,137.5 C293.7,139.1 294.5,141.1 294.8,143.6 C295.1,146.1 294.9,149.4 293.9,152.3 C292.9,155.2 291.2,158.6 288.6,161.1 C286.0,163.6 281.6,165.9 278.1,167.2 C274.6,168.5 271.4,169.0 267.6,169.0 C263.8,169.0 258.8,168.5 255.3,167.2 C251.8,165.9 248.8,163.6 246.6,161.1 C244.4,158.6 243.2,154.9 242.2,152.3 C241.2,149.7 240.7,147.1 240.4,145.3 C240.1,143.6 238.8,143.1 240.4,141.8Z" fill="#e6e6e6" stroke="#e6e6e6" stroke-width="4" stroke-linejoin="round"/>
</g>
<path d="M282.0,370.6h0.1M281.0,366.8h0.1M283.6,375.6h0.1M276.5,372.2h0.1M279.6,370.1h0.1M324.1,363.4h0.1M339.3,374.5h0.1M277.7,372.2h0.1M275.9,373.7h0.1M276.9,373.2h0.1M279.4,371.7h0.1M276.8,373.4h0.1" stroke="#f42a2a" stroke-width="1.8" stroke-linecap="round" opacity="0.75"/>
<text x="371.3" y="23.2" font-size="27" fill="#000" >c</text>
<text x="435.5" y="16.0" font-size="11.4" fill="#000" >Nor</text>
<text x="547.8" y="16.6" font-size="11.4" fill="#000" >IMQ_Day2</text>
<line x1="403.0" y1="21.5" x2="477.0" y2="21.5" stroke="#555" stroke-width="0.7" />
<line x1="403.0" y1="21.5" x2="403.0" y2="114.4" stroke="#555" stroke-width="0.7" />
<line x1="477.0" y1="21.5" x2="477.0" y2="114.4" stroke="#555" stroke-width="0.7" />
<line x1="446.3" y1="29.7" x2="519.8" y2="29.7" stroke="#555" stroke-width="0.7" />
<line x1="446.3" y1="29.7" x2="446.3" y2="123.9" stroke="#555" stroke-width="0.7" />
<line x1="519.8" y1="29.7" x2="519.8" y2="123.9" stroke="#555" stroke-width="0.7" />
<line x1="446.3" y1="123.9" x2="519.8" y2="123.9" stroke="#555" stroke-width="0.7" />
<line x1="403.0" y1="21.5" x2="446.3" y2="29.7" stroke="#555" stroke-width="0.7" />
<line x1="477.0" y1="21.5" x2="519.8" y2="29.7" stroke="#555" stroke-width="0.7" />
<line x1="403.0" y1="114.4" x2="446.3" y2="123.9" stroke="#555" stroke-width="0.7" />
<line x1="477.0" y1="114.4" x2="519.8" y2="123.9" stroke="#555" stroke-width="0.7" />
<line x1="403.0" y1="114.4" x2="477.0" y2="114.4" stroke="#999" stroke-width="0.5" />
<line x1="407.8" y1="115.5" x2="481.8" y2="115.5" stroke="#d0d0d0" stroke-width="0.35" />
<line x1="412.6" y1="116.5" x2="486.5" y2="116.5" stroke="#d0d0d0" stroke-width="0.35" />
<line x1="417.4" y1="117.6" x2="491.3" y2="117.6" stroke="#d0d0d0" stroke-width="0.35" />
<line x1="422.2" y1="118.6" x2="496.0" y2="118.6" stroke="#d0d0d0" stroke-width="0.35" />
<line x1="427.1" y1="119.7" x2="500.8" y2="119.7" stroke="#d0d0d0" stroke-width="0.35" />
<line x1="431.9" y1="120.7" x2="505.5" y2="120.7" stroke="#d0d0d0" stroke-width="0.35" />
<line x1="436.7" y1="121.8" x2="510.3" y2="121.8" stroke="#d0d0d0" stroke-width="0.35" />
<line x1="441.5" y1="122.8" x2="515.0" y2="122.8" stroke="#d0d0d0" stroke-width="0.35" />
<line x1="412.2" y1="114.4" x2="455.5" y2="123.9" stroke="#dadada" stroke-width="0.35" />
<line x1="421.5" y1="114.4" x2="464.7" y2="123.9" stroke="#dadada" stroke-width="0.35" />
<line x1="430.8" y1="114.4" x2="473.9" y2="123.9" stroke="#dadada" stroke-width="0.35" />
<line x1="440.0" y1="114.4" x2="483.0" y2="123.9" stroke="#dadada" stroke-width="0.35" />
<line x1="449.2" y1="114.4" x2="492.2" y2="123.9" stroke="#dadada" stroke-width="0.35" />
<line x1="458.5" y1="114.4" x2="501.4" y2="123.9" stroke="#dadada" stroke-width="0.35" />
<line x1="467.8" y1="114.4" x2="510.6" y2="123.9" stroke="#dadada" stroke-width="0.35" />
<text x="446.3" y="128.4" font-size="2.6" text-anchor="middle" fill="#444" >0.00</text>
<line x1="446.3" y1="123.9" x2="446.3" y2="124.9" stroke="#555" stroke-width="0.4" />
<text x="455.5" y="128.4" font-size="2.6" text-anchor="middle" fill="#444" >0.01</text>
<line x1="455.5" y1="123.9" x2="455.5" y2="124.9" stroke="#555" stroke-width="0.4" />
<text x="464.7" y="128.4" font-size="2.6" text-anchor="middle" fill="#444" >0.02</text>
<line x1="464.7" y1="123.9" x2="464.7" y2="124.9" stroke="#555" stroke-width="0.4" />
<text x="473.9" y="128.4" font-size="2.6" text-anchor="middle" fill="#444" >0.03</text>
<line x1="473.9" y1="123.9" x2="473.9" y2="124.9" stroke="#555" stroke-width="0.4" />
<text x="483.0" y="128.4" font-size="2.6" text-anchor="middle" fill="#444" >0.04</text>
<line x1="483.0" y1="123.9" x2="483.0" y2="124.9" stroke="#555" stroke-width="0.4" />
<text x="492.2" y="128.4" font-size="2.6" text-anchor="middle" fill="#444" >0.05</text>
<line x1="492.2" y1="123.9" x2="492.2" y2="124.9" stroke="#555" stroke-width="0.4" />
<text x="501.4" y="128.4" font-size="2.6" text-anchor="middle" fill="#444" >0.06</text>
<line x1="501.4" y1="123.9" x2="501.4" y2="124.9" stroke="#555" stroke-width="0.4" />
<text x="510.6" y="128.4" font-size="2.6" text-anchor="middle" fill="#444" >0.07</text>
<line x1="510.6" y1="123.9" x2="510.6" y2="124.9" stroke="#555" stroke-width="0.4" />
<text x="519.8" y="128.4" font-size="2.6" text-anchor="middle" fill="#444" >0.08</text>
<line x1="519.8" y1="123.9" x2="519.8" y2="124.9" stroke="#555" stroke-width="0.4" />
<text transform="translate(400.0,115.9) rotate(22)" font-size="2.6" text-anchor="middle" fill="#444">0.00</text>
<text transform="translate(408.7,117.8) rotate(22)" font-size="2.6" text-anchor="middle" fill="#444">0.01</text>
<text transform="translate(417.3,119.7) rotate(22)" font-size="2.6" text-anchor="middle" fill="#444">0.02</text>
<text transform="translate(426.0,121.6) rotate(22)" font-size="2.6" text-anchor="middle" fill="#444">0.03</text>
<text transform="translate(434.6,123.5) rotate(22)" font-size="2.6" text-anchor="middle" fill="#444">0.04</text>
<text transform="translate(443.3,125.4) rotate(22)" font-size="2.6" text-anchor="middle" fill="#444">0.05</text>
<line x1="519.8" y1="29.7" x2="520.8" y2="29.7" stroke="#555" stroke-width="0.4" />
<text transform="translate(524.8,29.7) rotate(90)" font-size="2.6" text-anchor="middle" fill="#444">0.08</text>
<line x1="519.8" y1="41.5" x2="520.8" y2="41.5" stroke="#555" stroke-width="0.4" />
<text transform="translate(524.8,41.5) rotate(90)" font-size="2.6" text-anchor="middle" fill="#444">0.07</text>
<line x1="519.8" y1="53.2" x2="520.8" y2="53.2" stroke="#555" stroke-width="0.4" />
<text transform="translate(524.8,53.2) rotate(90)" font-size="2.6" text-anchor="middle" fill="#444">0.06</text>
<line x1="519.8" y1="65.0" x2="520.8" y2="65.0" stroke="#555" stroke-width="0.4" />
<text transform="translate(524.8,65.0) rotate(90)" font-size="2.6" text-anchor="middle" fill="#444">0.05</text>
<line x1="519.8" y1="76.8" x2="520.8" y2="76.8" stroke="#555" stroke-width="0.4" />
<text transform="translate(524.8,76.8) rotate(90)" font-size="2.6" text-anchor="middle" fill="#444">0.04</text>
<line x1="519.8" y1="88.6" x2="520.8" y2="88.6" stroke="#555" stroke-width="0.4" />
<text transform="translate(524.8,88.6) rotate(90)" font-size="2.6" text-anchor="middle" fill="#444">0.03</text>
<line x1="519.8" y1="100.4" x2="520.8" y2="100.4" stroke="#555" stroke-width="0.4" />
<text transform="translate(524.8,100.4) rotate(90)" font-size="2.6" text-anchor="middle" fill="#444">0.02</text>
<line x1="519.8" y1="112.1" x2="520.8" y2="112.1" stroke="#555" stroke-width="0.4" />
<text transform="translate(524.8,112.1) rotate(90)" font-size="2.6" text-anchor="middle" fill="#444">0.01</text>
<line x1="519.8" y1="123.9" x2="520.8" y2="123.9" stroke="#555" stroke-width="0.4" />
<text transform="translate(524.8,123.9) rotate(90)" font-size="2.6" text-anchor="middle" fill="#444">0.00</text>
<line x1="541.5" y1="21.5" x2="605.6" y2="21.5" stroke="#555" stroke-width="0.7" />
<line x1="541.5" y1="21.5" x2="541.5" y2="108.1" stroke="#555" stroke-width="0.7" />
<line x1="605.6" y1="21.5" x2="605.6" y2="108.1" stroke="#555" stroke-width="0.7" />
<line x1="594.5" y1="35.0" x2="659.0" y2="35.0" stroke="#555" stroke-width="0.7" />
<line x1="594.5" y1="35.0" x2="594.5" y2="123.2" stroke="#555" stroke-width="0.7" />
<line x1="659.0" y1="35.0" x2="659.0" y2="123.2" stroke="#555" stroke-width="0.7" />
<line x1="594.5" y1="123.2" x2="659.0" y2="123.2" stroke="#555" stroke-width="0.7" />
<line x1="541.5" y1="21.5" x2="594.5" y2="35.0" stroke="#555" stroke-width="0.7" />
<line x1="605.6" y1="21.5" x2="659.0" y2="35.0" stroke="#555" stroke-width="0.7" />
<line x1="541.5" y1="108.1" x2="594.5" y2="123.2" stroke="#555" stroke-width="0.7" />
<line x1="605.6" y1="108.1" x2="659.0" y2="123.2" stroke="#555" stroke-width="0.7" />
<line x1="541.5" y1="108.1" x2="605.6" y2="108.1" stroke="#999" stroke-width="0.5" />
<line x1="547.4" y1="109.8" x2="611.5" y2="109.8" stroke="#d0d0d0" stroke-width="0.35" />
<line x1="553.3" y1="111.5" x2="617.5" y2="111.5" stroke="#d0d0d0" stroke-width="0.35" />
<line x1="559.2" y1="113.1" x2="623.4" y2="113.1" stroke="#d0d0d0" stroke-width="0.35" />
<line x1="565.1" y1="114.8" x2="629.3" y2="114.8" stroke="#d0d0d0" stroke-width="0.35" />
<line x1="570.9" y1="116.5" x2="635.3" y2="116.5" stroke="#d0d0d0" stroke-width="0.35" />
<line x1="576.8" y1="118.2" x2="641.2" y2="118.2" stroke="#d0d0d0" stroke-width="0.35" />
<line x1="582.7" y1="119.8" x2="647.1" y2="119.8" stroke="#d0d0d0" stroke-width="0.35" />
<line x1="588.6" y1="121.5" x2="653.1" y2="121.5" stroke="#d0d0d0" stroke-width="0.35" />
<line x1="549.5" y1="108.1" x2="602.6" y2="123.2" stroke="#dadada" stroke-width="0.35" />
<line x1="557.5" y1="108.1" x2="610.6" y2="123.2" stroke="#dadada" stroke-width="0.35" />
<line x1="565.5" y1="108.1" x2="618.7" y2="123.2" stroke="#dadada" stroke-width="0.35" />
<line x1="573.5" y1="108.1" x2="626.8" y2="123.2" stroke="#dadada" stroke-width="0.35" />
<line x1="581.6" y1="108.1" x2="634.8" y2="123.2" stroke="#dadada" stroke-width="0.35" />
<line x1="589.6" y1="108.1" x2="642.9" y2="123.2" stroke="#dadada" stroke-width="0.35" />
<line x1="597.6" y1="108.1" x2="650.9" y2="123.2" stroke="#dadada" stroke-width="0.35" />
<text x="594.5" y="127.7" font-size="2.6" text-anchor="middle" fill="#444" >0.00</text>
<line x1="594.5" y1="123.2" x2="594.5" y2="124.2" stroke="#555" stroke-width="0.4" />
<text x="602.6" y="127.7" font-size="2.6" text-anchor="middle" fill="#444" >0.01</text>
<line x1="602.6" y1="123.2" x2="602.6" y2="124.2" stroke="#555" stroke-width="0.4" />
<text x="610.6" y="127.7" font-size="2.6" text-anchor="middle" fill="#444" >0.02</text>
<line x1="610.6" y1="123.2" x2="610.6" y2="124.2" stroke="#555" stroke-width="0.4" />
<text x="618.7" y="127.7" font-size="2.6" text-anchor="middle" fill="#444" >0.03</text>
<line x1="618.7" y1="123.2" x2="618.7" y2="124.2" stroke="#555" stroke-width="0.4" />
<text x="626.8" y="127.7" font-size="2.6" text-anchor="middle" fill="#444" >0.04</text>
<line x1="626.8" y1="123.2" x2="626.8" y2="124.2" stroke="#555" stroke-width="0.4" />
<text x="634.8" y="127.7" font-size="2.6" text-anchor="middle" fill="#444" >0.05</text>
<line x1="634.8" y1="123.2" x2="634.8" y2="124.2" stroke="#555" stroke-width="0.4" />
<text x="642.9" y="127.7" font-size="2.6" text-anchor="middle" fill="#444" >0.06</text>
<line x1="642.9" y1="123.2" x2="642.9" y2="124.2" stroke="#555" stroke-width="0.4" />
<text x="650.9" y="127.7" font-size="2.6" text-anchor="middle" fill="#444" >0.07</text>
<line x1="650.9" y1="123.2" x2="650.9" y2="124.2" stroke="#555" stroke-width="0.4" />
<text x="659.0" y="127.7" font-size="2.6" text-anchor="middle" fill="#444" >0.08</text>
<line x1="659.0" y1="123.2" x2="659.0" y2="124.2" stroke="#555" stroke-width="0.4" />
<text transform="translate(538.5,109.6) rotate(22)" font-size="2.6" text-anchor="middle" fill="#444">0.00</text>
<text transform="translate(549.1,112.6) rotate(22)" font-size="2.6" text-anchor="middle" fill="#444">0.01</text>
<text transform="translate(559.7,115.6) rotate(22)" font-size="2.6" text-anchor="middle" fill="#444">0.02</text>
<text transform="translate(570.3,118.7) rotate(22)" font-size="2.6" text-anchor="middle" fill="#444">0.03</text>
<text transform="translate(580.9,121.7) rotate(22)" font-size="2.6" text-anchor="middle" fill="#444">0.04</text>
<text transform="translate(591.5,124.7) rotate(22)" font-size="2.6" text-anchor="middle" fill="#444">0.05</text>
<line x1="659.0" y1="35.0" x2="660.0" y2="35.0" stroke="#555" stroke-width="0.4" />
<text transform="translate(664.0,35.0) rotate(90)" font-size="2.6" text-anchor="middle" fill="#444">0.08</text>
<line x1="659.0" y1="46.0" x2="660.0" y2="46.0" stroke="#555" stroke-width="0.4" />
<text transform="translate(664.0,46.0) rotate(90)" font-size="2.6" text-anchor="middle" fill="#444">0.07</text>
<line x1="659.0" y1="57.0" x2="660.0" y2="57.0" stroke="#555" stroke-width="0.4" />
<text transform="translate(664.0,57.0) rotate(90)" font-size="2.6" text-anchor="middle" fill="#444">0.06</text>
<line x1="659.0" y1="68.1" x2="660.0" y2="68.1" stroke="#555" stroke-width="0.4" />
<text transform="translate(664.0,68.1) rotate(90)" font-size="2.6" text-anchor="middle" fill="#444">0.05</text>
<line x1="659.0" y1="79.1" x2="660.0" y2="79.1" stroke="#555" stroke-width="0.4" />
<text transform="translate(664.0,79.1) rotate(90)" font-size="2.6" text-anchor="middle" fill="#444">0.04</text>
<line x1="659.0" y1="90.1" x2="660.0" y2="90.1" stroke="#555" stroke-width="0.4" />
<text transform="translate(664.0,90.1) rotate(90)" font-size="2.6" text-anchor="middle" fill="#444">0.03</text>
<line x1="659.0" y1="101.2" x2="660.0" y2="101.2" stroke="#555" stroke-width="0.4" />
<text transform="translate(664.0,101.2) rotate(90)" font-size="2.6" text-anchor="middle" fill="#444">0.02</text>
<line x1="659.0" y1="112.2" x2="660.0" y2="112.2" stroke="#555" stroke-width="0.4" />
<text transform="translate(664.0,112.2) rotate(90)" font-size="2.6" text-anchor="middle" fill="#444">0.01</text>
<line x1="659.0" y1="123.2" x2="660.0" y2="123.2" stroke="#555" stroke-width="0.4" />
<text transform="translate(664.0,123.2) rotate(90)" font-size="2.6" text-anchor="middle" fill="#444">0.00</text>
<path d="M431.5,78.6h0.8M441.5,72.4h0.8M431.0,75.5h0.8M439.2,83.7h0.8M431.5,66.9h0.8M440.2,79.3h0.8M443.9,82.9h0.8M436.5,74.1h0.8M448.6,74.0h0.8M433.5,68.0h0.8M437.4,77.0h0.8M435.4,75.6h0.8M438.2,80.8h0.8M441.9,77.5h0.8M428.9,80.9h0.8M430.6,74.8h0.8M430.4,76.0h0.8M433.5,77.5h0.8M451.9,75.7h0.8M440.8,66.7h0.8M435.7,80.6h0.8M436.6,78.6h0.8M437.5,69.0h0.8M439.5,70.3h0.8M445.4,72.5h0.8M440.1,76.0h0.8M441.3,71.8h0.8M441.5,75.1h0.8M442.7,80.4h0.8M437.6,70.5h0.8M440.5,79.3h0.8M444.4,73.4h0.8M439.5,79.6h0.8M438.3,77.5h0.8M437.8,71.8h0.8M432.4,73.2h0.8M439.7,86.6h0.8M441.4,83.4h0.8M440.5,80.9h0.8M437.8,81.4h0.8M445.0,73.7h0.8M433.9,89.7h0.8M438.1,82.8h0.8M440.9,68.0h0.8M448.0,88.4h0.8M437.8,81.3h0.8M437.6,69.8h0.8M436.5,78.6h0.8M442.0,81.0h0.8M437.3,85.5h0.8M433.6,81.6h0.8M442.0,74.0h0.8M428.9,69.7h0.8M438.1,79.7h0.8M444.0,69.0h0.8M437.0,80.5h0.8M436.3,59.4h0.8M440.6,92.2h0.8M441.5,69.6h0.8M435.1,77.6h0.8M448.2,80.3h0.8M437.5,86.9h0.8M436.6,89.0h0.8M433.9,72.7h0.8M440.2,86.0h0.8M439.9,78.1h0.8M428.8,71.0h0.8M434.3,72.3h0.8M439.6,73.7h0.8M440.5,76.6h0.8M435.5,76.8h0.8M438.9,82.0h0.8M434.9,74.4h0.8M430.9,87.2h0.8M443.5,74.7h0.8M434.8,67.3h0.8M437.8,77.4h0.8M446.8,77.7h0.8M433.5,58.9h0.8M443.3,77.3h0.8M429.8,77.3h0.8M429.8,100.4h0.8M442.0,80.0h0.8M436.2,61.0h0.8M436.4,65.1h0.8M439.7,61.0h0.8M432.9,84.5h0.8M444.4,67.7h0.8M430.1,82.2h0.8M440.8,69.1h0.8M433.9,71.1h0.8M431.6,71.2h0.8M442.6,80.8h0.8M446.3,75.4h0.8M436.4,69.1h0.8M436.4,66.8h0.8M429.0,80.9h0.8M443.5,81.9h0.8M443.0,77.8h0.8M433.8,76.6h0.8M435.3,68.2h0.8M429.4,65.6h0.8M437.0,77.1h0.8M434.9,86.0h0.8M437.8,80.1h0.8M442.5,70.3h0.8M428.1,81.3h0.8M433.9,85.2h0.8M438.5,83.0h0.8M440.4,61.4h0.8M440.2,71.3h0.8M433.6,73.0h0.8M440.5,82.2h0.8M441.6,64.4h0.8M434.3,59.4h0.8M436.5,80.2h0.8M433.6,77.7h0.8M438.0,83.1h0.8M433.3,70.2h0.8M433.6,88.3h0.8M441.9,75.1h0.8M438.0,76.8h0.8M437.9,74.5h0.8M435.5,67.2h0.8M434.1,87.6h0.8M439.4,76.5h0.8M436.0,76.4h0.8M438.6,71.5h0.8M437.9,77.7h0.8M433.6,70.5h0.8M432.5,68.6h0.8M441.0,59.5h0.8M435.8,71.7h0.8M434.2,76.7h0.8M442.1,76.5h0.8M436.4,71.7h0.8M436.4,82.4h0.8M435.2,68.0h0.8M431.3,68.3h0.8M430.7,83.7h0.8M438.6,74.3h0.8M443.6,71.4h0.8M440.4,81.6h0.8M430.0,65.1h0.8M432.8,82.3h0.8M442.8,67.4h0.8M441.7,73.3h0.8M435.2,72.1h0.8M435.5,63.3h0.8M432.5,67.4h0.8M439.2,90.6h0.8M449.3,73.6h0.8M429.3,73.2h0.8M432.8,89.9h0.8M439.6,70.9h0.8M441.2,79.8h0.8M429.7,72.3h0.8M435.9,76.1h0.8M437.6,73.6h0.8M437.9,71.9h0.8M433.0,86.6h0.8M438.6,79.1h0.8M429.8,74.8h0.8M440.7,67.0h0.8M441.9,73.3h0.8M438.8,75.1h0.8M438.0,84.4h0.8M435.2,87.0h0.8M433.5,69.5h0.8M440.2,68.5h0.8M435.3,82.3h0.8M442.4,63.6h0.8M439.3,89.2h0.8M442.4,74.3h0.8M434.3,73.9h0.8M431.8,74.1h0.8M436.2,75.0h0.8M442.3,74.4h0.8M430.4,83.4h0.8M432.2,72.9h0.8M436.4,73.6h0.8M432.5,74.3h0.8M446.8,71.8h0.8M436.4,83.9h0.8M440.4,81.3h0.8M440.9,62.2h0.8M433.1,76.9h0.8M439.2,85.1h0.8M439.1,74.3h0.8M437.2,74.5h0.8M438.1,80.7h0.8M435.5,70.3h0.8M433.2,83.7h0.8M442.8,82.9h0.8M440.9,81.8h0.8M437.0,80.6h0.8M432.3,74.6h0.8M433.7,81.1h0.8M434.4,75.2h0.8M438.8,85.5h0.8" stroke="#858585" stroke-width="0.8" fill="none"/>
<path d="M434.6,78.7h0.8M439.5,78.1h0.8M438.4,80.0h0.8M436.7,75.6h0.8M439.1,80.2h0.8M434.3,89.3h0.8M439.1,94.3h0.8M438.2,80.8h0.8M437.3,87.6h0.8M436.9,83.6h0.8M438.5,78.8h0.8M437.4,80.2h0.8M433.3,85.1h0.8M439.0,82.3h0.8M434.3,75.0h0.8M438.5,81.7h0.8M431.9,81.8h0.8M432.4,81.9h0.8M437.4,83.2h0.8M437.7,82.6h0.8M433.6,80.7h0.8M435.5,81.2h0.8M437.8,84.2h0.8M441.9,73.0h0.8M438.2,81.3h0.8M443.8,85.3h0.8M432.0,83.4h0.8M435.4,85.5h0.8M433.8,81.6h0.8M436.6,81.7h0.8M435.2,75.6h0.8M438.4,85.5h0.8M436.8,78.4h0.8M437.6,84.0h0.8M436.5,82.0h0.8M441.2,78.1h0.8M435.3,75.3h0.8M434.9,79.4h0.8M434.1,79.6h0.8M442.4,81.3h0.8M436.7,89.7h0.8M436.8,75.9h0.8M438.2,78.7h0.8M441.9,77.6h0.8M435.3,76.4h0.8M437.3,78.4h0.8M436.8,80.7h0.8M435.2,85.3h0.8M439.8,82.2h0.8M434.3,78.3h0.8M437.8,90.4h0.8M435.6,79.3h0.8M434.9,78.2h0.8M434.1,81.3h0.8M441.3,82.0h0.8M435.5,76.3h0.8M437.6,81.9h0.8M433.3,78.2h0.8M436.9,85.5h0.8M438.9,82.7h0.8M436.0,83.1h0.8M437.0,89.6h0.8M433.6,80.7h0.8M440.8,81.1h0.8M441.3,81.8h0.8M437.4,80.7h0.8M432.9,78.6h0.8M443.6,84.3h0.8M438.8,85.3h0.8M438.7,85.6h0.8" stroke="#f04545" stroke-width="0.8" fill="none"/>
<path d="M441.9,95.3h0.8M446.9,94.4h0.8M437.7,95.3h0.8M440.8,101.6h0.8M440.1,89.0h0.8M441.7,108.6h0.8M442.8,98.2h0.8M443.0,99.2h0.8M446.7,107.5h0.8M436.4,107.2h0.8M443.0,94.6h0.8M452.6,95.7h0.8M450.8,104.3h0.8M438.9,100.7h0.8M445.9,96.1h0.8M433.7,94.4h0.8M442.2,88.7h0.8M450.3,95.2h0.8M441.4,94.8h0.8M439.9,91.2h0.8M443.4,99.3h0.8M441.0,96.3h0.8M437.4,100.9h0.8M440.0,98.6h0.8M439.4,93.1h0.8M443.9,87.9h0.8M452.9,96.7h0.8M442.7,91.5h0.8M449.4,107.4h0.8M444.2,86.7h0.8M441.0,101.6h0.8M441.0,88.1h0.8M438.2,91.2h0.8M443.1,92.1h0.8M443.1,117.9h0.8M450.1,89.2h0.8M444.4,97.7h0.8M442.4,104.8h0.8M441.7,94.6h0.8M441.5,96.2h0.8M448.1,102.8h0.8M437.6,93.7h0.8M439.8,103.1h0.8M443.9,103.7h0.8M442.8,82.7h0.8M444.8,98.7h0.8M445.0,87.2h0.8M443.3,91.8h0.8M440.3,99.7h0.8M444.4,90.3h0.8M436.2,78.4h0.8M440.7,105.4h0.8M442.8,80.1h0.8M439.5,100.2h0.8M449.7,105.8h0.8M444.5,98.5h0.8M438.8,93.6h0.8M441.7,91.2h0.8M443.3,94.1h0.8M444.3,107.8h0.8M446.0,100.1h0.8M442.0,85.6h0.8M442.5,101.1h0.8M439.0,106.4h0.8M441.7,99.8h0.8M441.7,87.6h0.8M451.3,88.3h0.8M446.7,92.8h0.8M444.1,91.0h0.8M441.3,103.9h0.8M450.8,90.6h0.8M443.0,104.1h0.8M440.5,102.3h0.8M439.9,101.5h0.8M444.7,106.1h0.8M444.5,88.1h0.8M445.7,88.7h0.8M446.0,108.3h0.8M445.4,92.9h0.8M447.8,98.3h0.8M438.0,94.3h0.8M448.7,94.7h0.8M443.5,94.4h0.8M436.3,93.2h0.8M444.4,98.6h0.8M442.3,81.0h0.8M447.9,102.4h0.8M447.1,106.8h0.8M441.2,92.5h0.8M444.3,109.6h0.8M436.3,95.3h0.8M440.1,101.2h0.8M448.9,94.8h0.8M438.0,97.4h0.8M441.9,85.4h0.8M446.5,93.1h0.8M445.7,87.1h0.8M447.4,86.2h0.8M447.2,83.4h0.8M448.5,94.2h0.8M436.8,95.2h0.8M444.3,89.6h0.8M441.0,99.0h0.8M442.3,74.0h0.8M441.3,100.2h0.8M444.2,104.6h0.8M440.2,116.2h0.8M446.2,99.3h0.8M447.3,104.2h0.8M443.4,92.3h0.8" stroke="#f05a5a" stroke-width="0.8" fill="none"/>
<path d="M452.6,78.2h1.0M439.5,66.7h1.0M450.1,75.8h1.0M449.3,79.8h1.0M448.7,86.9h1.0M445.3,72.0h1.0M449.5,80.6h1.0M451.5,86.2h1.0M445.9,83.8h1.0M450.1,67.2h1.0M447.4,90.6h1.0M451.5,71.5h1.0M437.2,69.5h1.0M444.8,75.6h1.0M458.4,80.6h1.0M449.4,68.0h1.0M442.7,73.4h1.0M445.9,97.6h1.0M446.2,70.4h1.0M453.1,75.6h1.0M442.4,84.7h1.0M446.6,65.0h1.0M449.4,78.7h1.0M446.5,80.2h1.0M451.7,68.4h1.0M438.7,57.1h1.0M447.4,84.2h1.0M452.5,85.4h1.0M456.4,75.1h1.0M452.8,63.5h1.0M451.1,77.9h1.0M447.6,71.7h1.0M443.0,76.1h1.0M453.7,72.2h1.0M450.4,70.0h1.0M449.1,67.4h1.0M449.7,73.4h1.0M449.4,70.5h1.0M442.7,72.5h1.0M452.7,86.8h1.0M446.5,81.0h1.0M451.4,77.9h1.0M441.0,77.4h1.0M443.6,83.8h1.0M451.5,79.6h1.0M436.6,79.7h1.0M451.1,65.4h1.0M452.4,75.6h1.0M447.2,69.7h1.0M443.4,71.7h1.0M461.9,76.5h1.0M448.9,70.1h1.0M445.2,70.9h1.0M444.0,81.6h1.0M446.8,81.5h1.0M442.8,82.0h1.0M447.9,80.0h1.0M447.5,68.3h1.0M453.4,71.7h1.0M447.3,68.4h1.0M448.9,72.1h1.0M449.3,77.6h1.0M444.9,64.4h1.0M449.9,81.9h1.0M451.1,66.4h1.0M450.7,77.9h1.0M449.3,78.2h1.0M446.5,76.6h1.0M452.2,71.2h1.0M441.5,74.2h1.0M448.9,61.2h1.0M445.0,79.4h1.0M447.3,75.7h1.0M442.3,81.8h1.0M455.9,73.5h1.0M444.7,66.3h1.0M452.0,75.8h1.0M444.4,84.1h1.0M451.4,79.5h1.0M440.1,74.2h1.0M450.8,65.8h1.0M452.2,85.7h1.0M452.7,69.6h1.0M444.8,82.1h1.0M452.5,84.2h1.0M453.4,74.3h1.0M446.2,61.1h1.0M451.5,92.1h1.0M445.9,71.4h1.0M450.9,77.8h1.0M441.8,69.6h1.0M443.1,90.2h1.0M444.8,81.4h1.0M456.6,89.2h1.0M454.4,87.2h1.0M442.4,72.4h1.0M444.7,72.8h1.0M459.8,62.4h1.0M450.5,65.7h1.0M454.0,84.7h1.0M445.7,90.5h1.0M448.3,84.8h1.0M449.4,70.8h1.0M446.3,74.1h1.0M450.8,75.9h1.0M458.6,73.6h1.0M445.9,69.6h1.0M444.5,64.2h1.0M443.6,81.8h1.0M448.3,73.7h1.0M449.6,83.0h1.0M450.8,80.8h1.0M445.5,73.0h1.0M444.5,74.3h1.0M444.3,72.2h1.0M447.2,73.4h1.0M446.8,71.3h1.0M453.9,72.4h1.0M443.4,76.5h1.0M443.1,67.0h1.0M448.4,62.5h1.0M433.5,77.2h1.0M452.7,62.5h1.0M444.0,79.3h1.0M439.1,68.4h1.0M442.6,73.5h1.0M439.1,81.7h1.0M447.4,77.3h1.0M446.5,59.1h1.0M447.3,64.9h1.0M448.0,68.6h1.0M446.6,73.4h1.0M451.5,80.8h1.0M443.5,74.9h1.0M454.6,78.7h1.0M444.7,74.1h1.0M446.4,82.1h1.0M448.2,77.8h1.0M458.0,64.7h1.0M443.4,62.0h1.0M440.8,81.4h1.0M449.3,87.2h1.0M439.1,68.4h1.0M454.5,82.7h1.0M452.0,81.5h1.0M448.1,74.9h1.0M448.1,81.3h1.0M447.3,77.4h1.0M454.5,66.6h1.0M444.6,79.2h1.0M446.8,73.8h1.0M457.4,78.1h1.0M446.1,83.2h1.0M459.3,66.7h1.0M445.0,75.9h1.0M445.1,91.3h1.0M450.4,72.0h1.0M450.2,69.0h1.0M445.3,75.8h1.0M458.7,58.1h1.0M449.9,85.1h1.0M451.3,89.4h1.0M450.0,76.1h1.0M447.4,68.6h1.0M455.4,66.1h1.0M447.4,71.1h1.0M444.5,58.3h1.0M446.3,76.0h1.0M448.6,81.3h1.0M447.3,70.2h1.0M449.4,80.0h1.0M443.9,63.6h1.0M443.4,82.9h1.0M452.5,68.4h1.0M448.5,81.3h1.0M454.0,70.1h1.0M446.9,85.6h1.0M458.8,86.5h1.0M442.9,78.4h1.0M446.7,74.6h1.0M445.0,71.4h1.0M448.0,88.5h1.0M451.1,78.2h1.0M448.1,69.4h1.0M447.0,84.3h1.0M451.7,89.7h1.0M449.2,74.8h1.0M440.7,78.0h1.0M440.2,86.4h1.0M445.2,75.0h1.0M441.9,71.3h1.0M443.8,83.5h1.0M449.1,66.1h1.0M439.3,74.5h1.0M445.8,66.7h1.0M450.7,73.6h1.0M448.5,70.6h1.0M445.4,71.5h1.0M440.8,79.7h1.0M449.8,62.1h1.0M448.5,83.7h1.0M449.1,84.7h1.0M446.8,75.0h1.0M442.2,68.2h1.0M439.8,68.3h1.0M449.1,78.9h1.0M453.2,76.0h1.0M443.5,78.2h1.0M447.3,88.4h1.0M456.8,82.2h1.0M442.9,71.1h1.0M448.9,69.7h1.0M450.4,80.1h1.0M451.8,76.7h1.0M444.0,68.7h1.0M447.4,85.0h1.0M455.1,82.3h1.0M449.6,80.1h1.0M451.7,84.7h1.0M451.9,63.5h1.0M452.3,77.9h1.0M445.9,78.9h1.0M449.3,74.6h1.0M440.4,75.8h1.0M450.5,74.6h1.0M440.9,78.4h1.0M451.2,76.4h1.0M449.9,72.4h1.0M445.0,78.9h1.0M446.4,76.4h1.0M462.6,80.3h1.0M448.6,62.8h1.0M448.4,80.7h1.0M444.8,73.2h1.0M437.9,79.2h1.0M445.3,80.1h1.0M454.1,73.8h1.0M452.4,76.9h1.0M447.1,72.9h1.0M444.2,84.6h1.0M452.0,67.5h1.0M451.8,69.5h1.0M441.2,84.0h1.0M442.2,83.9h1.0M448.9,81.8h1.0M450.3,83.7h1.0M449.6,79.3h1.0M449.1,83.2h1.0M446.2,82.6h1.0M454.8,74.5h1.0M450.0,71.1h1.0M446.7,77.0h1.0M446.5,68.4h1.0M447.9,76.4h1.0M449.5,80.3h1.0M440.0,85.6h1.0M447.2,69.2h1.0M446.3,78.3h1.0M451.9,72.3h1.0M448.7,63.0h1.0M448.8,74.2h1.0M446.1,81.6h1.0M456.1,82.7h1.0M444.5,86.5h1.0M446.5,74.7h1.0M445.4,78.4h1.0M450.5,76.1h1.0M447.1,73.9h1.0M446.2,82.3h1.0M445.7,73.9h1.0M447.1,69.4h1.0M447.0,64.0h1.0M449.8,79.1h1.0M446.7,86.6h1.0M444.3,79.2h1.0M450.1,71.0h1.0M446.9,81.7h1.0M448.3,77.1h1.0M454.3,76.6h1.0M440.5,69.5h1.0M451.7,74.0h1.0M443.2,60.2h1.0M449.4,86.2h1.0M442.4,58.8h1.0M450.2,71.0h1.0M446.7,72.6h1.0M444.0,78.3h1.0M452.1,77.7h1.0M445.5,82.8h1.0M447.5,79.3h1.0M443.8,79.9h1.0M451.3,84.6h1.0M448.1,78.3h1.0M445.4,81.6h1.0M451.5,83.1h1.0M446.3,65.9h1.0M447.7,73.5h1.0M444.7,79.5h1.0M452.2,77.9h1.0M453.0,78.0h1.0M443.7,70.7h1.0M446.4,80.1h1.0M452.1,76.0h1.0M452.5,68.9h1.0M447.5,86.1h1.0M450.0,82.8h1.0M439.6,62.6h1.0M444.2,82.5h1.0M455.2,70.4h1.0M443.6,67.5h1.0M444.0,79.1h1.0M446.6,88.9h1.0M451.2,70.0h1.0M449.1,73.9h1.0M451.5,81.7h1.0M446.5,81.6h1.0M450.5,74.4h1.0M449.1,80.1h1.0M446.6,70.0h1.0M453.6,75.1h1.0M445.4,78.4h1.0M441.5,75.4h1.0M442.0,71.9h1.0M440.1,69.7h1.0M452.0,73.7h1.0M442.6,87.8h1.0M445.2,86.0h1.0M445.7,64.2h1.0M456.2,71.9h1.0M451.4,83.8h1.0M442.2,75.6h1.0M445.5,79.5h1.0M448.0,65.7h1.0M448.3,80.7h1.0M446.7,79.2h1.0M445.7,74.7h1.0M449.6,76.1h1.0M453.6,82.0h1.0M451.7,80.3h1.0M448.7,66.5h1.0M452.7,87.8h1.0M449.0,73.2h1.0M447.9,83.9h1.0M449.3,67.8h1.0M447.3,69.4h1.0M447.1,68.5h1.0M444.2,85.9h1.0M452.6,63.2h1.0M443.7,71.8h1.0M446.3,64.9h1.0M451.9,63.2h1.0M451.1,80.2h1.0M446.4,70.2h1.0M448.3,76.1h1.0M438.8,65.9h1.0M450.4,74.3h1.0M446.2,67.8h1.0M444.9,69.5h1.0M460.3,65.9h1.0M454.8,78.6h1.0M449.0,76.5h1.0M446.4,86.8h1.0M450.3,74.8h1.0M447.5,76.5h1.0M443.0,72.7h1.0M445.3,79.6h1.0M450.7,61.4h1.0M447.1,82.3h1.0M442.3,66.4h1.0M452.4,74.1h1.0M446.1,66.2h1.0M448.8,71.0h1.0M449.0,78.2h1.0M451.1,72.7h1.0M445.7,75.3h1.0M447.6,76.3h1.0M445.7,73.3h1.0M445.5,70.7h1.0M448.7,83.5h1.0M445.7,79.3h1.0M449.6,75.9h1.0M451.0,71.0h1.0M450.5,77.3h1.0M432.7,77.7h1.0M450.7,89.4h1.0M443.4,75.8h1.0M449.6,67.9h1.0M453.3,78.4h1.0M444.5,66.3h1.0M446.2,92.5h1.0M457.5,56.9h1.0M440.0,80.0h1.0M447.6,70.4h1.0M450.7,75.8h1.0M449.3,77.0h1.0M443.2,84.7h1.0M446.0,83.4h1.0M451.1,75.3h1.0M448.6,74.7h1.0M439.9,72.7h1.0M449.9,63.2h1.0M441.5,83.0h1.0M451.6,63.7h1.0M450.1,74.7h1.0M452.3,72.7h1.0M447.1,69.5h1.0M448.8,74.1h1.0M445.1,72.5h1.0M444.7,79.6h1.0M443.5,63.6h1.0M443.8,83.0h1.0M445.8,79.8h1.0M451.3,71.3h1.0M451.4,78.8h1.0M447.8,69.8h1.0M447.8,65.6h1.0M446.8,70.8h1.0M450.0,77.6h1.0M445.2,81.4h1.0M453.3,75.5h1.0M444.7,78.8h1.0M437.2,70.7h1.0M450.6,89.8h1.0M444.8,86.3h1.0M458.4,89.0h1.0M437.6,83.2h1.0M448.9,82.5h1.0M447.2,70.5h1.0M447.0,86.2h1.0M451.8,72.9h1.0M449.7,81.4h1.0M450.5,74.7h1.0M445.1,69.5h1.0M446.1,70.9h1.0M441.0,64.5h1.0M451.9,66.7h1.0M442.2,74.7h1.0M454.5,84.4h1.0M446.2,67.3h1.0M445.6,68.3h1.0M445.6,78.6h1.0M443.3,69.2h1.0M446.9,74.8h1.0M444.6,69.1h1.0M443.0,69.4h1.0M450.3,73.2h1.0M434.1,79.6h1.0M447.7,68.5h1.0M446.9,52.5h1.0M440.6,83.7h1.0M457.6,91.3h1.0M444.7,75.3h1.0M451.5,65.8h1.0M455.8,69.6h1.0M449.6,66.4h1.0M449.6,74.9h1.0M452.9,66.4h1.0M448.0,88.6h1.0M442.7,77.6h1.0M450.0,71.3h1.0M446.8,85.6h1.0M453.1,79.3h1.0M449.2,66.5h1.0M448.4,88.4h1.0M452.7,64.8h1.0M438.7,70.0h1.0M448.7,70.9h1.0M446.6,77.6h1.0M452.0,76.6h1.0M453.6,64.3h1.0M450.1,78.2h1.0M441.3,84.4h1.0M440.8,64.2h1.0M460.0,84.7h1.0M449.7,85.2h1.0M453.2,66.5h1.0M450.2,85.5h1.0M447.3,75.6h1.0M445.9,80.5h1.0M445.5,70.6h1.0" stroke="#ffa500" stroke-width="1.0" fill="none"/>
<path d="M441.6,45.7h0.8M450.3,59.7h0.8M446.7,44.5h0.8M451.1,58.6h0.8M456.7,50.0h0.8M446.5,60.2h0.8M458.2,54.5h0.8M448.5,45.6h0.8M446.7,64.5h0.8M454.1,66.2h0.8M439.1,63.4h0.8M443.4,61.0h0.8M434.7,54.0h0.8M443.7,67.8h0.8M449.7,68.1h0.8M446.4,74.8h0.8M446.3,74.1h0.8M446.1,45.1h0.8M454.4,51.0h0.8M448.7,41.5h0.8M446.9,56.2h0.8M444.7,59.0h0.8M435.1,64.0h0.8M446.5,69.9h0.8M446.9,48.4h0.8" stroke="#ffb020" stroke-width="0.8" fill="none"/>
<path d="M467.5,86.1h0.9M473.3,83.1h0.9M465.6,86.7h0.9M474.6,78.0h0.9M464.2,82.3h0.9M479.5,90.0h0.9M474.4,87.0h0.9M463.8,89.5h0.9M467.5,81.8h0.9M480.8,79.1h0.9M477.7,85.8h0.9M464.9,85.7h0.9M465.3,85.8h0.9M466.4,80.2h0.9M484.8,83.0h0.9M475.5,84.8h0.9M473.8,79.9h0.9M464.2,71.7h0.9M475.6,86.8h0.9M463.5,88.4h0.9M473.3,96.9h0.9M471.3,88.7h0.9M473.4,88.1h0.9M469.9,83.3h0.9M474.0,90.0h0.9M463.5,80.4h0.9M469.8,92.3h0.9M468.9,78.1h0.9M474.5,88.1h0.9M480.8,85.8h0.9M481.0,82.1h0.9M475.1,85.6h0.9M463.4,83.9h0.9M477.4,89.5h0.9M467.9,89.5h0.9M475.1,88.7h0.9M471.6,86.3h0.9M465.4,84.7h0.9M470.7,82.0h0.9M468.4,85.7h0.9M471.2,89.3h0.9M464.3,83.4h0.9M471.5,83.5h0.9M471.9,83.1h0.9M476.6,84.1h0.9M463.7,88.1h0.9M479.3,77.2h0.9M469.3,85.3h0.9M475.8,91.1h0.9M469.2,78.7h0.9M473.7,89.1h0.9M472.6,85.3h0.9M465.5,94.9h0.9M463.4,78.9h0.9M475.5,86.2h0.9M473.8,86.5h0.9M479.4,90.8h0.9M467.0,89.1h0.9M463.5,78.1h0.9M476.7,83.3h0.9M458.1,84.9h0.9M466.3,87.1h0.9M469.7,81.9h0.9M466.1,88.1h0.9M464.9,85.5h0.9M464.5,86.9h0.9M479.9,87.3h0.9M476.2,86.9h0.9M464.7,83.8h0.9M470.4,86.8h0.9M466.7,87.5h0.9M466.0,85.3h0.9M470.0,80.4h0.9M475.6,85.2h0.9M470.6,84.9h0.9M458.3,79.4h0.9M465.1,89.0h0.9M466.8,87.5h0.9M464.3,81.6h0.9M467.4,89.3h0.9M460.8,84.3h0.9M472.3,85.6h0.9M469.9,88.2h0.9M471.6,81.0h0.9M473.6,81.9h0.9M468.1,90.9h0.9M483.6,90.9h0.9M472.4,81.9h0.9M465.8,91.7h0.9M471.9,79.4h0.9M478.8,87.4h0.9M477.4,86.7h0.9M458.1,82.1h0.9M469.2,84.3h0.9M478.4,82.3h0.9M469.5,84.8h0.9M469.5,80.8h0.9M463.2,74.6h0.9M471.9,84.2h0.9M471.2,80.8h0.9M470.1,81.1h0.9M464.4,86.4h0.9M473.6,87.4h0.9M469.8,83.5h0.9M477.8,90.0h0.9M466.5,80.6h0.9M472.1,86.3h0.9M465.0,94.2h0.9M458.4,81.7h0.9M471.4,89.0h0.9M459.8,83.3h0.9M478.0,90.7h0.9M468.6,85.2h0.9M465.1,86.6h0.9M464.2,76.8h0.9M461.6,85.2h0.9M462.7,89.5h0.9M477.1,89.0h0.9M473.7,89.6h0.9M471.5,88.5h0.9M472.6,88.2h0.9M464.4,82.4h0.9M464.5,88.4h0.9M472.8,81.8h0.9M464.6,82.7h0.9M474.9,84.6h0.9M468.7,82.2h0.9M469.4,91.5h0.9M466.2,83.6h0.9M479.4,87.9h0.9M463.7,89.4h0.9M463.0,87.3h0.9M456.0,81.0h0.9M475.1,82.6h0.9M466.0,85.2h0.9M470.1,83.1h0.9M466.3,92.3h0.9M478.3,86.4h0.9M463.7,82.9h0.9M468.4,87.0h0.9M478.9,82.9h0.9M470.9,83.3h0.9M470.8,82.3h0.9M472.1,89.7h0.9M467.8,83.7h0.9M470.7,79.7h0.9M480.1,79.6h0.9M468.1,81.5h0.9M478.3,83.1h0.9M467.2,92.6h0.9M469.4,81.9h0.9M470.0,85.8h0.9M465.9,84.3h0.9M468.9,87.9h0.9M474.3,88.4h0.9M469.4,88.2h0.9M468.9,89.7h0.9M472.3,83.3h0.9M476.9,78.9h0.9M464.7,81.8h0.9M469.3,80.1h0.9M463.4,77.4h0.9M470.7,81.9h0.9M482.2,88.1h0.9M463.7,90.3h0.9M470.6,89.4h0.9M463.9,89.7h0.9M476.1,83.4h0.9M465.3,83.5h0.9M471.5,94.7h0.9M480.1,91.1h0.9M468.8,83.7h0.9M472.1,83.9h0.9M467.5,84.2h0.9M474.7,84.8h0.9M471.4,84.0h0.9M469.0,83.7h0.9M477.0,86.0h0.9M478.3,84.3h0.9M475.9,79.5h0.9M467.8,84.8h0.9M466.5,84.6h0.9M464.9,84.4h0.9M466.4,85.0h0.9M468.4,81.0h0.9M467.8,85.1h0.9M463.0,85.4h0.9M477.0,84.1h0.9M473.1,87.5h0.9M465.6,90.3h0.9M483.9,80.9h0.9M481.9,82.2h0.9M478.1,77.7h0.9M476.3,85.6h0.9M463.0,81.7h0.9M464.2,81.4h0.9M472.1,84.3h0.9M456.2,83.8h0.9M472.6,85.4h0.9M479.4,77.6h0.9M471.4,85.2h0.9M474.0,79.6h0.9M462.8,84.3h0.9M470.5,77.7h0.9M472.1,85.0h0.9M474.1,74.5h0.9M472.8,81.5h0.9M467.4,88.2h0.9M479.4,85.6h0.9M469.4,90.3h0.9M465.1,84.4h0.9M467.2,81.1h0.9M471.1,93.2h0.9M471.4,87.0h0.9M469.9,89.6h0.9M471.0,81.5h0.9M470.6,90.8h0.9M469.6,89.9h0.9M469.7,93.2h0.9M471.6,87.7h0.9M468.4,88.4h0.9M468.8,79.1h0.9M471.7,80.2h0.9M478.2,88.2h0.9M470.1,87.8h0.9M455.7,91.2h0.9M466.4,87.7h0.9M484.2,78.5h0.9M467.7,86.4h0.9M472.4,78.2h0.9M464.9,91.0h0.9M466.7,87.3h0.9M462.5,81.4h0.9M460.0,86.1h0.9M476.4,85.4h0.9M468.5,86.0h0.9M472.6,83.9h0.9M473.1,92.9h0.9M482.3,82.7h0.9M463.1,92.7h0.9M475.5,89.9h0.9M473.4,84.1h0.9M475.4,89.5h0.9M476.6,80.7h0.9M475.7,83.6h0.9M468.1,86.5h0.9M468.1,94.4h0.9M473.2,86.1h0.9M469.0,86.0h0.9M468.8,87.4h0.9M474.8,88.4h0.9M463.1,83.7h0.9M470.5,80.1h0.9M472.1,84.5h0.9M470.4,86.6h0.9M466.6,91.3h0.9M475.8,82.8h0.9M472.6,88.0h0.9M465.8,83.6h0.9M473.9,74.7h0.9M462.8,86.4h0.9M473.5,81.3h0.9M474.8,93.9h0.9M471.2,84.9h0.9M470.4,81.0h0.9M473.1,85.8h0.9M474.2,90.8h0.9M470.3,85.8h0.9M471.9,92.0h0.9M462.0,85.0h0.9M466.6,85.6h0.9M474.7,85.3h0.9M474.1,85.8h0.9M466.1,82.4h0.9M462.4,85.9h0.9M467.9,88.4h0.9M475.4,81.5h0.9M464.1,87.5h0.9M465.2,85.9h0.9M473.4,83.5h0.9M479.9,81.9h0.9M472.4,83.4h0.9M454.1,84.4h0.9M469.2,87.4h0.9M469.3,82.1h0.9M467.2,83.8h0.9M474.3,83.9h0.9M476.9,88.5h0.9M466.0,89.2h0.9M457.6,85.2h0.9M464.7,84.7h0.9M476.4,85.0h0.9M469.1,90.2h0.9M465.9,81.7h0.9M475.4,87.5h0.9M462.2,85.7h0.9M474.4,84.4h0.9M467.8,85.6h0.9M471.2,82.2h0.9M474.7,78.7h0.9M469.7,93.6h0.9M464.2,84.9h0.9M457.5,81.7h0.9M463.7,85.3h0.9M467.3,92.4h0.9M465.0,84.9h0.9M471.3,87.6h0.9M475.0,78.8h0.9M482.2,83.8h0.9M466.1,78.4h0.9M467.6,77.9h0.9M471.1,82.6h0.9M471.8,81.9h0.9M470.5,94.0h0.9M476.5,85.7h0.9M464.6,90.9h0.9M460.7,79.4h0.9M477.2,82.6h0.9M477.5,87.3h0.9M482.1,92.2h0.9M473.3,82.5h0.9M473.3,90.7h0.9M470.8,73.4h0.9M468.0,83.6h0.9M469.7,83.6h0.9M476.3,79.9h0.9M472.5,77.1h0.9M458.0,81.0h0.9M465.9,81.4h0.9M466.2,87.5h0.9M473.2,85.3h0.9M471.1,82.2h0.9M464.6,79.3h0.9M467.7,80.5h0.9M468.2,87.9h0.9M473.0,90.3h0.9M464.9,76.2h0.9M463.9,93.0h0.9M473.9,83.3h0.9M477.3,83.3h0.9M479.2,83.4h0.9M467.8,87.8h0.9M463.7,84.3h0.9M480.7,86.8h0.9M463.9,84.0h0.9M469.9,82.0h0.9M472.3,90.0h0.9M470.3,88.6h0.9M471.6,85.6h0.9M465.9,88.9h0.9M477.5,83.2h0.9M465.2,87.1h0.9M470.6,89.5h0.9M472.7,84.5h0.9M462.4,87.5h0.9M470.5,79.9h0.9M461.8,77.7h0.9M473.4,83.3h0.9M451.7,81.5h0.9M466.5,84.6h0.9" stroke="#1414ff" stroke-width="0.9" fill="none"/>
<path d="M588.1,79.6h0.8M591.0,89.2h0.8M587.1,93.1h0.8M587.5,75.9h0.8M588.6,71.9h0.8M586.8,74.6h0.8M586.3,83.4h0.8M578.2,84.7h0.8M589.0,80.5h0.8M590.9,84.4h0.8M586.5,74.9h0.8M590.9,87.3h0.8M582.1,76.9h0.8M583.2,87.8h0.8M585.7,73.2h0.8M594.0,85.2h0.8M588.9,83.7h0.8M587.3,82.2h0.8M591.6,85.1h0.8M586.1,82.6h0.8M595.5,78.1h0.8M582.7,82.8h0.8M583.4,100.4h0.8M590.5,86.1h0.8M589.5,95.8h0.8M583.9,81.6h0.8M581.3,90.7h0.8M587.7,94.4h0.8M586.9,74.6h0.8M585.1,87.6h0.8M584.7,83.8h0.8M585.1,76.9h0.8M585.7,93.4h0.8M583.6,84.2h0.8M591.2,76.7h0.8M581.9,92.5h0.8M594.9,80.2h0.8M583.1,88.1h0.8M587.8,76.1h0.8M586.4,65.1h0.8M584.7,73.4h0.8M582.7,86.0h0.8M589.0,93.9h0.8M577.2,77.2h0.8M584.6,91.3h0.8M592.1,82.8h0.8M588.3,76.6h0.8M585.9,78.8h0.8M577.8,95.3h0.8M590.9,96.6h0.8M592.9,85.4h0.8M591.3,70.0h0.8M583.9,87.9h0.8M586.4,70.5h0.8M587.9,72.8h0.8M587.9,92.9h0.8M583.4,78.7h0.8M590.2,81.7h0.8M588.7,75.9h0.8M586.6,65.0h0.8M587.2,91.0h0.8M583.4,80.6h0.8M590.8,90.5h0.8M592.6,75.6h0.8M586.2,94.3h0.8M586.0,83.9h0.8M584.5,77.2h0.8M575.9,78.0h0.8M579.0,74.7h0.8M583.9,91.4h0.8M591.0,84.7h0.8M585.8,72.0h0.8M589.9,76.0h0.8M587.4,88.5h0.8M587.1,81.6h0.8M583.9,89.3h0.8M590.1,86.9h0.8M594.5,70.3h0.8M588.0,86.4h0.8M589.3,84.0h0.8" stroke="#8a8a8a" stroke-width="0.8" fill="none"/>
<path d="M599.5,60.5h1.0M603.1,83.6h1.0M600.2,72.2h1.0M600.7,58.3h1.0M606.0,86.0h1.0M597.9,67.3h1.0M602.1,69.4h1.0M597.6,76.2h1.0M595.0,81.4h1.0M594.3,70.7h1.0M604.0,72.7h1.0M605.0,85.0h1.0M612.2,89.4h1.0M600.5,82.1h1.0M595.3,82.4h1.0M605.0,66.2h1.0M604.7,80.3h1.0M598.7,68.7h1.0M604.5,61.1h1.0M603.7,81.6h1.0M605.4,86.7h1.0M608.4,76.0h1.0M610.3,78.0h1.0M594.7,72.6h1.0M602.5,75.1h1.0M598.5,95.0h1.0M591.4,66.3h1.0M603.3,75.0h1.0M608.1,73.9h1.0M604.1,79.4h1.0M594.7,63.9h1.0M601.1,82.9h1.0M602.4,84.6h1.0M600.1,80.8h1.0M602.9,80.8h1.0M601.3,75.5h1.0M601.6,84.8h1.0M601.8,78.1h1.0M601.7,65.6h1.0M597.1,74.5h1.0M604.1,63.6h1.0M594.2,66.8h1.0M596.8,65.4h1.0M598.4,79.2h1.0M596.0,75.1h1.0M595.2,73.6h1.0M598.7,56.6h1.0M601.6,75.7h1.0M601.2,76.1h1.0M599.8,62.6h1.0M601.8,79.4h1.0M603.5,61.0h1.0M595.2,63.2h1.0M598.4,65.0h1.0M598.3,81.4h1.0M606.2,54.1h1.0M606.1,64.3h1.0M604.7,76.0h1.0M605.9,70.7h1.0M597.1,74.3h1.0M602.4,65.5h1.0M602.7,73.3h1.0M601.7,73.8h1.0M605.3,79.9h1.0M598.8,71.3h1.0M589.5,69.1h1.0M595.7,81.3h1.0M594.6,69.4h1.0M605.4,81.5h1.0M604.3,65.4h1.0M604.3,82.5h1.0M596.7,73.0h1.0M594.1,70.0h1.0M604.2,73.8h1.0M598.1,69.7h1.0M609.3,78.4h1.0M600.3,93.3h1.0M598.8,73.1h1.0M597.5,69.7h1.0M600.5,61.2h1.0M600.3,71.2h1.0M609.4,75.1h1.0M604.0,77.8h1.0M603.8,74.2h1.0M591.1,80.3h1.0M601.1,80.1h1.0M601.1,69.0h1.0M594.7,66.5h1.0M601.9,72.7h1.0M596.2,71.9h1.0M601.0,68.0h1.0M599.0,69.0h1.0M589.8,77.7h1.0M603.0,80.6h1.0M605.0,66.4h1.0M604.1,75.4h1.0M603.1,80.7h1.0M601.9,62.4h1.0M607.0,70.7h1.0M596.5,69.0h1.0M597.5,64.9h1.0M606.6,76.2h1.0M598.8,81.8h1.0M602.1,74.3h1.0M604.9,72.0h1.0M600.9,78.4h1.0M590.3,66.2h1.0M605.5,82.2h1.0M593.6,76.0h1.0M597.4,72.4h1.0M606.9,85.6h1.0M610.7,79.7h1.0M604.1,74.4h1.0M593.6,79.4h1.0M593.3,66.1h1.0M598.0,60.8h1.0M610.0,76.8h1.0M603.6,77.5h1.0M602.1,74.2h1.0M602.5,67.6h1.0M602.5,75.0h1.0M601.9,63.9h1.0M601.7,72.6h1.0M604.9,77.7h1.0M602.8,77.5h1.0M605.9,84.7h1.0M603.5,78.0h1.0M596.4,73.3h1.0M606.6,81.7h1.0M596.6,74.7h1.0M599.9,74.7h1.0M597.9,71.0h1.0M601.0,75.0h1.0M603.5,65.7h1.0M598.5,81.6h1.0M602.7,71.8h1.0M598.2,84.0h1.0M598.8,84.5h1.0M601.7,72.4h1.0M602.0,80.9h1.0M597.2,59.6h1.0M593.2,57.1h1.0M604.7,81.1h1.0M602.5,61.6h1.0M614.2,86.4h1.0M596.1,57.7h1.0M599.4,83.6h1.0M608.8,67.1h1.0M590.8,68.1h1.0M609.3,71.7h1.0M590.2,58.3h1.0M605.5,79.8h1.0M598.4,72.9h1.0M600.5,71.0h1.0M597.3,69.8h1.0M601.1,84.8h1.0M604.9,81.9h1.0M603.9,53.0h1.0M602.8,81.9h1.0M598.7,69.3h1.0M601.5,69.1h1.0M596.6,72.4h1.0M601.2,74.0h1.0M604.9,73.1h1.0M605.6,99.6h1.0M599.3,72.0h1.0M598.8,68.3h1.0M594.5,77.4h1.0M603.3,57.3h1.0M598.6,78.3h1.0M599.1,79.1h1.0M598.3,64.9h1.0M598.9,69.9h1.0M597.7,52.4h1.0M605.7,84.4h1.0M602.1,75.7h1.0M599.3,77.3h1.0M597.5,63.6h1.0M590.7,56.2h1.0M603.2,74.8h1.0M606.2,74.8h1.0M601.0,62.1h1.0M591.5,71.4h1.0M600.3,77.3h1.0M600.0,72.7h1.0M601.7,76.0h1.0M602.5,76.3h1.0M598.5,73.8h1.0M592.1,66.5h1.0M600.7,77.8h1.0M594.5,63.2h1.0M603.3,65.9h1.0M591.3,67.9h1.0M590.4,55.4h1.0M603.0,88.2h1.0M595.9,68.0h1.0M606.1,73.3h1.0M603.5,85.2h1.0M595.7,74.8h1.0M603.6,75.0h1.0M593.8,67.6h1.0M608.5,71.1h1.0M602.2,83.1h1.0M593.0,75.6h1.0M596.3,87.4h1.0M596.9,76.0h1.0M597.2,76.1h1.0M602.3,73.6h1.0M600.1,76.4h1.0M598.8,70.1h1.0M605.6,80.2h1.0M592.8,67.2h1.0M598.2,77.3h1.0M598.3,88.3h1.0M601.5,75.2h1.0M603.1,66.8h1.0M603.5,76.9h1.0M604.3,63.8h1.0M608.3,77.2h1.0M604.4,82.4h1.0M599.5,72.7h1.0M603.8,70.1h1.0M608.7,84.0h1.0M602.3,75.2h1.0M596.1,67.2h1.0M605.0,63.8h1.0M602.0,76.3h1.0M595.6,69.4h1.0M602.6,92.2h1.0M605.7,85.0h1.0M612.0,79.9h1.0M605.8,68.9h1.0M601.2,86.7h1.0M605.1,64.0h1.0M606.6,75.1h1.0M606.6,81.0h1.0M607.9,66.7h1.0M603.8,84.4h1.0M601.1,78.8h1.0M597.0,60.2h1.0M600.6,82.0h1.0M595.3,62.1h1.0M599.1,75.5h1.0M603.9,76.2h1.0M601.1,64.8h1.0M596.8,68.5h1.0M600.2,78.2h1.0M606.4,70.7h1.0M608.2,82.0h1.0M594.4,68.8h1.0M598.8,62.6h1.0M605.1,56.6h1.0M597.5,82.0h1.0M599.5,80.8h1.0M599.2,84.0h1.0M600.2,80.8h1.0M602.2,60.7h1.0M593.5,60.9h1.0M598.4,83.0h1.0M602.9,81.2h1.0M609.6,81.0h1.0M603.4,69.8h1.0M600.2,77.3h1.0M607.3,82.1h1.0M601.8,71.5h1.0M604.5,87.9h1.0M606.8,90.3h1.0M600.0,82.2h1.0M603.8,80.2h1.0M598.7,77.9h1.0M600.3,72.0h1.0M592.9,64.0h1.0M601.0,79.1h1.0M602.9,75.9h1.0M599.7,62.8h1.0M606.0,73.6h1.0M596.8,70.6h1.0M605.9,74.7h1.0M598.6,93.4h1.0M598.6,90.0h1.0M602.7,65.1h1.0M609.4,83.1h1.0M607.2,78.4h1.0M603.1,75.7h1.0M599.5,77.1h1.0M606.6,71.9h1.0M606.4,59.3h1.0M598.1,62.1h1.0M594.2,78.4h1.0M598.6,70.1h1.0M596.2,73.6h1.0M593.8,74.6h1.0M596.2,64.7h1.0M599.0,58.6h1.0M603.7,76.0h1.0M603.8,74.8h1.0M604.1,71.2h1.0M597.4,78.6h1.0M597.1,72.2h1.0M599.8,66.6h1.0M602.2,60.6h1.0M606.5,72.6h1.0M611.0,81.4h1.0M604.8,75.9h1.0M598.8,62.9h1.0M596.8,67.3h1.0M597.9,74.1h1.0M598.1,76.4h1.0M599.1,70.8h1.0M604.0,77.6h1.0M594.8,73.3h1.0M613.9,71.0h1.0M601.3,66.5h1.0M608.9,85.7h1.0M603.5,72.5h1.0M597.2,58.8h1.0M603.2,71.1h1.0M603.8,76.9h1.0M606.8,91.2h1.0M603.8,67.9h1.0M605.3,78.7h1.0M604.5,85.8h1.0M595.9,60.4h1.0M597.5,78.7h1.0M597.3,76.7h1.0M595.6,79.2h1.0M598.2,67.2h1.0M598.3,72.7h1.0M605.7,75.2h1.0M600.7,75.8h1.0M606.1,77.1h1.0M607.3,66.4h1.0M605.1,74.4h1.0M599.8,79.9h1.0M607.0,81.3h1.0M601.4,66.6h1.0M602.8,77.2h1.0M608.7,73.4h1.0M605.3,86.9h1.0M600.6,70.6h1.0M604.2,80.2h1.0M598.3,60.5h1.0M601.7,82.9h1.0M600.0,82.1h1.0M600.3,67.6h1.0M600.0,55.9h1.0M588.8,64.1h1.0M603.0,71.4h1.0M603.8,72.9h1.0M600.7,69.9h1.0M601.7,82.8h1.0M601.7,62.6h1.0M608.2,90.1h1.0M602.5,65.7h1.0M605.0,75.2h1.0M602.0,82.6h1.0M605.4,68.6h1.0M600.9,70.9h1.0M604.8,87.3h1.0M600.7,79.4h1.0M602.6,74.7h1.0M597.8,80.6h1.0M598.1,81.4h1.0M601.2,75.5h1.0M597.4,67.9h1.0M596.9,75.6h1.0M601.5,76.7h1.0M601.7,80.9h1.0M602.2,75.1h1.0M600.2,74.4h1.0M602.5,67.9h1.0M596.9,78.8h1.0M603.1,74.0h1.0M599.5,63.5h1.0M597.1,75.4h1.0M598.4,64.3h1.0M599.1,58.4h1.0M604.3,64.4h1.0M596.6,66.5h1.0M594.8,73.2h1.0M592.4,73.7h1.0M601.3,71.7h1.0M598.0,62.6h1.0M590.5,65.7h1.0M606.5,75.6h1.0M597.3,90.1h1.0M606.3,82.3h1.0M608.4,83.6h1.0M594.2,76.8h1.0M602.1,90.8h1.0M604.2,73.4h1.0M595.6,57.5h1.0M599.9,67.4h1.0M608.7,78.7h1.0M600.0,71.2h1.0M604.8,68.7h1.0M606.4,74.7h1.0M600.8,77.6h1.0M605.2,59.3h1.0M606.0,79.4h1.0M603.3,86.4h1.0M605.3,77.9h1.0M598.2,80.1h1.0M596.8,79.8h1.0M608.5,64.5h1.0M605.6,63.7h1.0M603.1,80.0h1.0M595.7,78.6h1.0M596.6,70.1h1.0M604.7,72.6h1.0M603.0,73.9h1.0M606.2,86.4h1.0M601.1,71.8h1.0M602.9,80.0h1.0M598.5,56.4h1.0M601.8,77.8h1.0M611.1,66.4h1.0M597.5,65.2h1.0M597.1,60.0h1.0M597.4,74.5h1.0M594.2,73.8h1.0M601.0,85.2h1.0M612.6,89.5h1.0M603.3,79.5h1.0M610.0,66.3h1.0M606.5,64.9h1.0M602.4,60.3h1.0M599.1,73.1h1.0M595.9,58.7h1.0M601.1,71.7h1.0M608.9,77.2h1.0M592.2,77.8h1.0M605.6,72.2h1.0M595.2,63.9h1.0M597.6,67.0h1.0M599.3,71.9h1.0M604.6,64.8h1.0M600.3,64.9h1.0M604.6,82.3h1.0M596.2,65.2h1.0M601.4,74.4h1.0M599.4,78.4h1.0M603.0,79.6h1.0M596.9,81.9h1.0M604.9,66.1h1.0M610.2,73.8h1.0M593.3,67.0h1.0M596.6,69.8h1.0M600.8,76.9h1.0M599.6,71.9h1.0M592.6,58.7h1.0M595.5,65.0h1.0M599.7,53.5h1.0M599.9,49.6h1.0M600.4,74.5h1.0M594.3,67.5h1.0M602.6,64.4h1.0M600.9,74.7h1.0M601.3,63.2h1.0M606.5,71.4h1.0M602.5,61.5h1.0M605.7,72.2h1.0M603.2,68.1h1.0M605.0,73.5h1.0M598.5,96.8h1.0M599.3,78.8h1.0M599.4,70.7h1.0M601.6,82.1h1.0M607.3,80.7h1.0M595.9,82.7h1.0M599.7,94.8h1.0M605.3,83.0h1.0M601.5,75.3h1.0M602.5,91.3h1.0M602.2,83.5h1.0M597.4,73.9h1.0M599.3,73.8h1.0M600.4,80.0h1.0M600.5,60.3h1.0M596.4,64.0h1.0M603.1,62.7h1.0M603.6,74.9h1.0M596.7,58.3h1.0M608.2,71.0h1.0M606.5,82.1h1.0M594.7,67.3h1.0M612.9,88.1h1.0M597.5,74.5h1.0M605.0,71.9h1.0M608.2,77.6h1.0M602.4,79.8h1.0M601.9,85.1h1.0M601.2,85.7h1.0M608.3,56.9h1.0M605.3,60.1h1.0M604.9,89.3h1.0M607.4,78.5h1.0M603.2,75.2h1.0M602.8,72.1h1.0M597.3,64.5h1.0M608.7,72.0h1.0M611.1,78.1h1.0M600.8,64.7h1.0M600.2,74.9h1.0M600.0,71.9h1.0M590.4,73.6h1.0M599.1,70.6h1.0M596.4,61.8h1.0M600.8,87.4h1.0M596.0,71.0h1.0M597.3,73.9h1.0M603.4,91.3h1.0M599.7,86.6h1.0M600.2,78.5h1.0M612.2,71.2h1.0M594.9,50.7h1.0M599.3,72.8h1.0M602.3,76.0h1.0M594.4,67.8h1.0M604.0,71.2h1.0M602.9,79.7h1.0M602.1,75.4h1.0M596.6,75.6h1.0M597.8,90.8h1.0M601.6,89.0h1.0M598.8,73.8h1.0M607.4,74.5h1.0M601.5,71.9h1.0M598.5,68.5h1.0M594.0,60.5h1.0M598.9,68.0h1.0M612.1,90.1h1.0M607.0,62.3h1.0M599.5,73.7h1.0M598.1,89.0h1.0M605.1,75.9h1.0M610.8,76.1h1.0M600.6,77.0h1.0M600.4,78.8h1.0M596.7,80.1h1.0M599.1,71.2h1.0M599.4,73.8h1.0M595.1,81.3h1.0M604.4,89.4h1.0M603.4,82.2h1.0M600.9,73.3h1.0M595.0,72.0h1.0M593.5,55.1h1.0M598.5,68.8h1.0M605.0,82.5h1.0" stroke="#ffa500" stroke-width="1.0" fill="none"/>
<path d="M618.9,90.2h0.9M625.9,88.1h0.9M618.8,84.8h0.9M627.6,92.0h0.9M625.4,75.6h0.9M610.0,93.2h0.9M623.5,91.1h0.9M622.9,82.8h0.9M622.3,84.1h0.9M627.0,88.5h0.9M616.0,80.5h0.9M624.9,88.7h0.9M621.6,86.0h0.9M614.6,80.0h0.9M622.6,75.1h0.9M622.5,87.2h0.9M623.2,88.6h0.9M628.9,85.8h0.9M616.6,75.7h0.9M610.1,84.8h0.9M624.3,75.9h0.9M621.1,80.7h0.9M619.1,85.4h0.9M620.5,78.4h0.9M623.7,83.6h0.9M611.8,88.2h0.9M627.4,82.4h0.9M627.6,76.4h0.9M619.2,90.9h0.9M626.2,86.9h0.9M625.1,82.3h0.9M623.6,89.1h0.9M624.6,86.2h0.9M624.1,86.5h0.9M623.1,76.5h0.9M623.0,79.6h0.9M618.6,84.6h0.9M621.4,77.7h0.9M617.9,85.5h0.9M618.4,84.5h0.9M621.3,85.4h0.9M617.8,85.2h0.9M622.9,77.9h0.9M623.8,79.3h0.9M621.9,87.4h0.9M623.2,78.4h0.9M616.1,78.4h0.9M622.9,85.0h0.9M612.1,88.0h0.9M625.6,81.7h0.9M619.9,85.5h0.9M615.7,82.1h0.9M622.8,82.6h0.9M620.2,84.9h0.9M628.0,85.6h0.9M621.8,81.9h0.9M625.9,84.6h0.9M620.1,90.9h0.9M626.3,79.6h0.9M618.8,90.7h0.9M618.1,92.2h0.9M619.5,94.1h0.9M615.9,74.5h0.9M613.7,94.2h0.9M617.0,82.1h0.9M617.7,80.6h0.9M621.0,84.9h0.9M617.4,81.6h0.9M626.3,89.1h0.9M624.7,90.5h0.9M619.4,88.7h0.9M627.7,80.1h0.9M626.4,71.9h0.9M611.6,76.9h0.9M615.7,79.4h0.9M618.0,88.4h0.9M616.9,82.4h0.9M614.4,76.2h0.9M619.4,80.5h0.9M624.2,84.8h0.9M612.0,87.9h0.9M614.8,82.2h0.9M615.5,80.1h0.9M617.5,78.3h0.9M616.9,82.8h0.9M623.5,87.8h0.9M628.2,76.1h0.9M618.4,90.3h0.9M615.1,83.4h0.9M623.5,91.9h0.9M622.8,85.8h0.9M619.5,87.3h0.9M620.6,85.9h0.9M617.3,83.5h0.9M616.2,78.7h0.9M616.4,80.0h0.9M617.1,81.3h0.9M613.3,85.7h0.9M621.6,91.9h0.9M609.5,77.1h0.9M615.8,79.8h0.9M620.4,79.9h0.9M616.7,87.8h0.9M619.3,76.1h0.9M624.4,95.4h0.9M625.2,83.3h0.9M626.3,83.8h0.9M618.6,85.4h0.9M626.0,84.7h0.9M618.8,77.2h0.9M621.0,78.8h0.9M619.7,77.2h0.9M616.2,79.3h0.9M617.1,78.4h0.9M625.7,88.0h0.9M618.6,78.9h0.9M625.1,82.9h0.9M622.7,89.2h0.9M618.3,86.3h0.9M622.1,82.0h0.9M619.4,81.0h0.9M604.8,82.2h0.9M627.6,89.2h0.9M632.4,84.5h0.9M624.1,81.0h0.9M616.8,79.8h0.9M622.2,88.0h0.9M611.5,87.7h0.9M624.2,88.1h0.9M614.4,85.1h0.9M621.6,77.5h0.9M615.0,95.1h0.9M617.1,81.7h0.9M611.4,81.0h0.9M626.2,86.1h0.9M616.3,84.3h0.9M621.8,87.1h0.9M615.6,86.0h0.9M617.1,81.6h0.9M616.3,80.1h0.9M622.3,75.3h0.9M621.0,97.7h0.9M616.1,82.7h0.9M619.8,91.9h0.9M613.7,86.9h0.9M619.7,93.9h0.9M619.2,94.1h0.9M615.8,85.9h0.9M615.2,81.2h0.9M614.5,82.1h0.9M627.1,81.5h0.9M631.2,92.1h0.9M621.5,84.2h0.9M621.5,80.4h0.9M622.8,84.6h0.9M611.3,84.3h0.9M622.7,84.4h0.9M621.5,84.1h0.9M617.9,89.3h0.9M626.4,82.6h0.9M623.7,78.7h0.9M625.7,80.0h0.9M620.3,88.8h0.9M617.8,84.3h0.9M624.6,81.4h0.9M621.6,89.5h0.9M621.2,80.2h0.9M618.3,82.9h0.9M620.2,87.2h0.9M613.1,83.7h0.9M621.0,91.6h0.9M613.6,79.7h0.9M624.1,83.9h0.9M625.0,83.9h0.9M617.2,83.8h0.9M625.6,87.7h0.9M621.0,84.8h0.9M624.9,87.2h0.9M621.2,87.7h0.9M620.5,78.6h0.9M624.1,90.0h0.9M626.3,83.8h0.9M614.7,86.1h0.9M617.5,74.9h0.9M620.8,80.3h0.9M620.4,81.7h0.9M623.7,88.3h0.9M622.3,89.9h0.9M617.7,95.7h0.9M612.4,87.7h0.9M624.6,82.1h0.9M620.6,78.2h0.9M618.1,85.5h0.9M614.5,74.5h0.9M618.5,80.0h0.9M615.8,83.3h0.9M614.0,89.4h0.9M625.2,84.2h0.9M617.5,83.8h0.9M619.6,80.2h0.9M617.2,86.2h0.9M616.1,81.0h0.9M618.1,79.2h0.9M621.2,77.8h0.9M624.1,87.6h0.9M619.9,88.2h0.9M624.9,82.2h0.9M619.8,81.1h0.9M618.5,82.2h0.9M620.4,86.6h0.9M629.7,85.7h0.9M624.2,82.9h0.9M627.3,84.6h0.9M619.3,82.7h0.9M620.2,82.1h0.9M620.8,92.6h0.9M620.4,80.4h0.9M611.9,83.5h0.9M615.6,80.3h0.9M620.7,85.7h0.9M622.1,89.6h0.9M615.9,80.8h0.9M616.2,79.1h0.9M617.2,79.9h0.9M623.0,78.8h0.9M629.6,74.0h0.9M623.6,76.4h0.9M617.9,78.1h0.9M620.0,86.3h0.9M618.2,80.8h0.9M615.7,79.9h0.9M616.3,80.7h0.9M620.3,88.2h0.9M616.9,74.2h0.9M618.4,87.9h0.9M615.5,85.7h0.9M614.9,77.8h0.9M620.9,75.0h0.9M618.2,70.8h0.9M615.4,85.7h0.9M617.7,80.5h0.9M622.2,79.4h0.9M614.9,81.9h0.9M619.6,84.5h0.9M619.1,89.6h0.9M622.3,83.2h0.9M629.9,76.3h0.9M620.9,80.1h0.9M629.2,85.2h0.9M623.4,85.8h0.9M626.2,81.2h0.9M623.8,75.5h0.9M622.3,89.3h0.9M623.6,86.7h0.9M611.7,84.2h0.9M618.4,91.2h0.9M622.2,87.0h0.9M625.5,86.4h0.9M613.9,79.9h0.9M610.7,89.7h0.9M619.0,77.6h0.9M622.0,81.8h0.9M618.5,90.1h0.9M610.9,76.7h0.9M619.4,82.6h0.9M624.7,82.1h0.9M622.1,92.1h0.9M613.9,76.9h0.9M616.7,82.8h0.9M615.0,85.0h0.9M616.5,89.3h0.9M622.0,87.1h0.9M620.8,84.8h0.9M612.7,82.7h0.9M612.1,90.2h0.9M614.9,79.4h0.9M617.8,94.4h0.9M615.0,91.9h0.9M620.4,96.3h0.9M618.8,81.1h0.9M619.7,81.1h0.9M616.7,87.2h0.9M617.8,88.1h0.9M622.4,88.3h0.9M626.7,88.9h0.9M615.7,90.3h0.9M609.0,89.9h0.9M625.1,78.6h0.9M625.4,74.7h0.9M624.2,81.8h0.9M618.6,83.0h0.9M617.4,87.4h0.9M619.6,83.6h0.9M620.0,82.0h0.9M615.4,86.7h0.9M623.5,78.1h0.9M624.0,89.9h0.9M620.6,90.9h0.9M610.4,90.5h0.9M616.6,85.3h0.9M615.8,95.7h0.9M618.1,87.0h0.9M613.5,82.4h0.9M621.7,83.3h0.9M616.6,91.0h0.9M613.1,84.2h0.9M619.1,82.0h0.9M622.7,85.0h0.9M619.1,87.0h0.9M619.5,86.4h0.9M625.4,85.0h0.9M620.1,81.1h0.9M626.0,88.5h0.9M622.2,85.3h0.9M616.2,84.2h0.9M621.2,78.2h0.9M615.7,83.3h0.9M628.2,85.6h0.9M613.5,90.0h0.9M623.8,87.3h0.9M617.5,83.3h0.9M629.4,89.3h0.9M639.9,75.0h0.9M613.0,81.8h0.9M615.9,80.6h0.9M623.0,90.3h0.9M613.6,86.6h0.9M623.6,85.1h0.9M625.8,89.5h0.9M616.3,84.5h0.9M621.1,78.1h0.9M618.9,88.8h0.9M621.6,84.0h0.9M631.2,86.9h0.9M624.1,79.7h0.9M625.2,81.7h0.9M619.1,81.9h0.9M614.3,86.7h0.9M614.5,87.9h0.9M616.4,90.1h0.9M621.4,89.6h0.9M615.1,86.7h0.9M623.2,85.3h0.9M619.4,81.1h0.9M605.7,86.4h0.9M614.3,78.8h0.9M621.5,71.0h0.9M616.6,87.3h0.9M620.0,82.9h0.9M616.5,84.8h0.9M613.2,81.2h0.9M623.4,79.4h0.9M619.3,82.1h0.9M614.4,74.3h0.9M616.1,80.2h0.9M615.4,83.6h0.9M621.3,87.0h0.9M621.5,78.2h0.9M626.0,85.7h0.9M623.2,77.7h0.9M624.7,95.2h0.9M622.2,89.4h0.9M617.4,84.7h0.9M619.7,87.2h0.9M620.6,85.3h0.9M615.9,78.1h0.9M619.9,96.3h0.9M615.6,86.6h0.9M625.8,80.8h0.9M612.7,85.8h0.9M619.8,79.7h0.9M626.6,87.4h0.9M619.9,77.2h0.9M625.5,89.5h0.9M623.6,92.0h0.9M615.4,79.1h0.9M623.8,86.2h0.9M619.8,81.6h0.9M624.5,85.2h0.9M623.8,78.4h0.9" stroke="#1414ff" stroke-width="0.9" fill="none"/>
<path d="M597.2,100.3h1.0M601.8,83.9h1.0M596.0,91.8h1.0M597.0,95.9h1.0M599.0,103.2h1.0M598.2,96.4h1.0M601.2,108.0h1.0M597.3,90.7h1.0M605.4,104.2h1.0M607.3,93.8h1.0M595.1,95.6h1.0M596.6,85.4h1.0M601.0,85.2h1.0M583.8,96.6h1.0M591.9,99.1h1.0M591.5,86.3h1.0M587.3,87.0h1.0M595.6,113.9h1.0M600.2,91.9h1.0M603.4,98.9h1.0M588.1,83.1h1.0M589.8,92.4h1.0M597.2,92.1h1.0M594.4,89.6h1.0M597.8,103.3h1.0M591.9,106.9h1.0M593.0,94.7h1.0M604.9,101.8h1.0M597.2,81.8h1.0M597.4,94.2h1.0M596.0,105.7h1.0M594.4,111.3h1.0M597.2,98.3h1.0M595.5,97.8h1.0M603.4,99.0h1.0M592.2,90.9h1.0M602.6,101.4h1.0M593.0,96.0h1.0M597.5,101.6h1.0M592.4,97.8h1.0M590.8,90.9h1.0M595.9,107.8h1.0M596.6,110.2h1.0M598.8,107.3h1.0M596.3,82.7h1.0M586.6,93.6h1.0M605.5,95.8h1.0M594.6,101.9h1.0M595.2,94.0h1.0M597.9,100.2h1.0M594.2,90.6h1.0M604.7,90.1h1.0M592.7,95.6h1.0M596.3,99.4h1.0M604.5,107.4h1.0M596.8,98.0h1.0M601.7,96.0h1.0M597.8,88.3h1.0M598.9,96.4h1.0M590.2,98.9h1.0M607.6,99.7h1.0M593.2,107.2h1.0M598.7,98.5h1.0M604.2,104.3h1.0M607.0,90.7h1.0M594.9,96.3h1.0M598.0,87.6h1.0M598.4,85.9h1.0M594.3,95.0h1.0M598.2,99.6h1.0M593.4,99.7h1.0M598.5,96.3h1.0M597.1,93.0h1.0M605.7,107.9h1.0M598.2,107.6h1.0M592.8,92.9h1.0M595.4,100.6h1.0M595.5,89.7h1.0M589.9,88.2h1.0M601.5,100.9h1.0M590.3,111.8h1.0M594.7,93.3h1.0M596.2,97.4h1.0M595.2,96.7h1.0M600.7,104.3h1.0M593.8,95.7h1.0M593.4,93.5h1.0M596.5,94.5h1.0M599.8,89.7h1.0M598.9,102.9h1.0M595.5,94.4h1.0M599.9,94.0h1.0M595.4,98.7h1.0M585.2,102.5h1.0M598.2,101.6h1.0M590.4,93.7h1.0M599.1,101.4h1.0M594.2,93.4h1.0M604.3,99.1h1.0M602.9,86.3h1.0M599.0,92.6h1.0M594.6,107.1h1.0M592.0,89.5h1.0M593.7,95.1h1.0M597.1,100.4h1.0M602.9,100.7h1.0M605.4,105.4h1.0M599.6,95.9h1.0M603.6,94.6h1.0M601.7,97.3h1.0M594.3,102.3h1.0M600.3,99.4h1.0M602.2,97.9h1.0M593.5,97.7h1.0M605.9,89.4h1.0M588.4,97.0h1.0M592.1,107.7h1.0M597.8,89.7h1.0M596.7,89.6h1.0M599.3,104.4h1.0M602.8,105.3h1.0M596.9,106.4h1.0M599.3,86.9h1.0M603.5,90.0h1.0M594.2,84.7h1.0M593.1,80.3h1.0M591.2,90.4h1.0M591.4,93.9h1.0M600.8,94.6h1.0M599.1,105.8h1.0M594.1,108.7h1.0M596.8,96.6h1.0M598.7,107.7h1.0M591.2,104.3h1.0M594.7,97.7h1.0M592.2,77.0h1.0M602.6,103.0h1.0M592.0,89.8h1.0M591.3,96.7h1.0M606.7,95.9h1.0M588.9,102.8h1.0M592.7,84.4h1.0M598.8,97.0h1.0M597.8,102.7h1.0M601.6,80.5h1.0M597.8,106.1h1.0M602.9,88.8h1.0M588.3,88.2h1.0M598.9,95.4h1.0M600.9,95.6h1.0M591.0,88.2h1.0M595.9,103.6h1.0M604.0,89.1h1.0M599.1,96.5h1.0M591.5,87.6h1.0M604.4,93.5h1.0M596.6,100.6h1.0M598.7,102.5h1.0M593.2,94.0h1.0M598.2,99.7h1.0M593.5,83.5h1.0M601.1,103.7h1.0M601.5,96.1h1.0M588.4,93.8h1.0M606.6,99.4h1.0M598.2,84.1h1.0M593.9,104.8h1.0M598.6,96.0h1.0M603.0,102.6h1.0M599.6,95.7h1.0M599.0,105.2h1.0M598.5,87.0h1.0M596.2,94.8h1.0M599.0,107.1h1.0M596.7,93.5h1.0M600.5,100.7h1.0M593.3,100.7h1.0M597.9,99.8h1.0M589.7,81.3h1.0M589.8,83.6h1.0M601.6,104.9h1.0M590.9,108.6h1.0M591.6,90.6h1.0M607.3,86.8h1.0M600.4,103.5h1.0M602.3,102.2h1.0M598.2,109.2h1.0M596.6,97.8h1.0M598.9,94.3h1.0M596.3,106.6h1.0M604.7,101.8h1.0M596.5,93.1h1.0M595.2,94.1h1.0M594.9,96.3h1.0M596.0,105.6h1.0M590.3,93.8h1.0M600.9,93.8h1.0M595.1,101.4h1.0M596.6,89.4h1.0M597.7,102.1h1.0M589.0,104.3h1.0M588.9,102.6h1.0M590.8,98.9h1.0M596.8,105.2h1.0M596.7,93.7h1.0M593.5,98.7h1.0M595.9,104.0h1.0M599.0,106.9h1.0M600.4,98.5h1.0M596.7,102.0h1.0M600.7,86.5h1.0M599.0,94.2h1.0M598.6,103.4h1.0M587.9,96.2h1.0M601.8,83.3h1.0M598.1,97.2h1.0M594.4,104.2h1.0M601.5,97.3h1.0M603.8,108.7h1.0M598.0,103.8h1.0M601.2,110.8h1.0M600.9,102.6h1.0M597.7,102.9h1.0M604.6,96.6h1.0M596.6,89.5h1.0M609.3,94.1h1.0M594.7,92.7h1.0M602.7,100.0h1.0M587.5,98.4h1.0M605.8,96.8h1.0M597.7,120.1h1.0M596.0,95.6h1.0M600.2,116.5h1.0M599.2,84.4h1.0M596.5,95.5h1.0M600.7,94.4h1.0M597.8,87.1h1.0M591.1,97.7h1.0M604.9,89.6h1.0M589.6,106.6h1.0M599.0,103.6h1.0M596.4,99.2h1.0M596.7,97.3h1.0M605.7,94.1h1.0M595.3,97.4h1.0M596.3,110.7h1.0M596.4,100.4h1.0M591.3,101.6h1.0M600.3,102.6h1.0M589.6,92.4h1.0M584.7,110.6h1.0M596.7,110.3h1.0M606.4,105.5h1.0M594.2,95.6h1.0M600.9,81.8h1.0M603.8,109.1h1.0M601.4,95.1h1.0M598.9,84.6h1.0M592.7,93.8h1.0M593.6,110.6h1.0M599.4,78.1h1.0M602.7,101.3h1.0M596.1,91.6h1.0M607.1,99.2h1.0M598.5,84.6h1.0M594.4,104.5h1.0M597.8,93.7h1.0M595.7,84.6h1.0M585.5,101.6h1.0M590.3,84.8h1.0M598.7,104.7h1.0M595.5,106.1h1.0M597.4,72.3h1.0M604.9,88.6h1.0M604.7,95.0h1.0M596.8,93.5h1.0M592.3,102.1h1.0M605.2,107.6h1.0M594.5,101.3h1.0M602.2,101.9h1.0M590.9,113.7h1.0M593.6,90.7h1.0M597.8,99.1h1.0M594.5,86.8h1.0M591.3,97.3h1.0M588.2,106.3h1.0M600.3,99.0h1.0M598.1,90.3h1.0M594.5,104.4h1.0M594.7,109.9h1.0M602.0,102.8h1.0M596.0,89.8h1.0M596.4,89.6h1.0M595.4,94.4h1.0M594.5,106.4h1.0M592.9,91.2h1.0M602.8,99.3h1.0M599.5,92.2h1.0M598.7,107.8h1.0M597.3,100.7h1.0M603.0,102.0h1.0M603.1,87.7h1.0M588.7,88.3h1.0M599.2,91.8h1.0M587.5,111.7h1.0M603.4,93.0h1.0M594.0,91.7h1.0M600.6,100.9h1.0M597.8,108.2h1.0M593.2,87.7h1.0M597.1,96.8h1.0M597.6,100.5h1.0M589.7,109.9h1.0M588.6,99.9h1.0M598.8,103.8h1.0M598.2,90.6h1.0M596.2,86.3h1.0M596.3,95.4h1.0M588.2,114.8h1.0M594.3,101.6h1.0M603.4,97.0h1.0M595.2,88.3h1.0M593.6,91.4h1.0M596.4,103.6h1.0M598.0,109.2h1.0M599.0,99.1h1.0M582.5,95.9h1.0M598.4,85.3h1.0M596.8,91.6h1.0M596.1,96.9h1.0M595.8,96.7h1.0M598.8,99.7h1.0M593.9,104.5h1.0M597.4,100.1h1.0M605.5,110.5h1.0M607.6,95.3h1.0M599.1,101.1h1.0M597.6,96.0h1.0M601.1,106.3h1.0M607.7,92.9h1.0M599.3,91.2h1.0M595.8,78.3h1.0M607.3,84.5h1.0M597.6,83.0h1.0M595.5,89.0h1.0M587.1,88.8h1.0M596.0,96.2h1.0M587.8,102.3h1.0M595.6,88.1h1.0M604.4,91.6h1.0M598.2,109.3h1.0M597.4,96.3h1.0M601.7,93.7h1.0M597.4,96.0h1.0M595.3,103.2h1.0M598.4,108.5h1.0M599.0,85.9h1.0M599.0,94.9h1.0M595.9,104.9h1.0M599.1,84.4h1.0M606.7,96.1h1.0M589.3,94.5h1.0M599.4,88.2h1.0M593.0,82.8h1.0M598.4,92.9h1.0M604.4,99.3h1.0M598.3,92.3h1.0M601.8,86.2h1.0M598.4,101.0h1.0M593.3,87.6h1.0M602.6,111.7h1.0M599.0,111.8h1.0M599.3,95.6h1.0M595.2,87.4h1.0M601.5,92.6h1.0M594.0,100.1h1.0M599.4,91.2h1.0M598.1,95.9h1.0M597.7,96.0h1.0M595.1,77.7h1.0M594.2,106.6h1.0M595.5,98.5h1.0M600.0,89.1h1.0M597.4,95.0h1.0M598.8,101.9h1.0M597.4,95.4h1.0M601.6,98.1h1.0M590.0,107.1h1.0M599.2,92.4h1.0M596.8,89.5h1.0M597.7,85.3h1.0M601.9,100.8h1.0M592.3,101.1h1.0M590.1,92.8h1.0M592.3,102.6h1.0M600.4,86.3h1.0M597.9,101.1h1.0M595.4,116.5h1.0M589.5,107.7h1.0M604.3,94.3h1.0M591.6,106.7h1.0M585.2,96.8h1.0M590.2,96.9h1.0M594.3,86.7h1.0M599.7,106.3h1.0M590.5,102.3h1.0M597.5,91.6h1.0M594.5,101.5h1.0M602.4,94.8h1.0M585.2,103.4h1.0M598.9,81.5h1.0M594.5,96.9h1.0M595.6,99.4h1.0M592.7,102.1h1.0M583.8,99.8h1.0M594.2,96.0h1.0M600.1,107.9h1.0M592.1,96.2h1.0M592.1,97.3h1.0M594.2,87.4h1.0M602.4,99.8h1.0M597.0,107.6h1.0M589.1,100.1h1.0M604.7,94.1h1.0M592.8,90.6h1.0M602.9,105.5h1.0M598.5,104.4h1.0M593.7,93.8h1.0M600.9,89.4h1.0M598.0,96.7h1.0M592.9,98.6h1.0M590.8,91.8h1.0M587.4,86.7h1.0M592.7,99.8h1.0M597.0,86.8h1.0M595.7,114.9h1.0M597.3,100.1h1.0M586.8,92.8h1.0M602.4,85.3h1.0M592.6,90.9h1.0M596.3,101.6h1.0M588.5,102.3h1.0M584.2,89.5h1.0M598.9,87.5h1.0M592.8,92.5h1.0M604.6,88.7h1.0M601.5,112.5h1.0M595.0,90.2h1.0M596.8,88.6h1.0M595.0,88.1h1.0M589.6,83.8h1.0M601.2,91.2h1.0M591.2,105.2h1.0M595.9,93.9h1.0M593.1,96.6h1.0M595.3,93.1h1.0M595.9,102.8h1.0M595.8,107.1h1.0M601.5,88.3h1.0M592.1,86.2h1.0M593.1,102.4h1.0M595.1,92.6h1.0M597.2,79.0h1.0M598.3,95.0h1.0M599.9,94.1h1.0M601.5,105.1h1.0M595.3,101.1h1.0M592.4,90.8h1.0M591.4,94.8h1.0M590.8,87.7h1.0M595.6,84.7h1.0M599.5,89.0h1.0M595.5,94.0h1.0M601.6,101.3h1.0M595.5,91.7h1.0M600.8,95.3h1.0M591.6,97.5h1.0M599.7,96.2h1.0M596.9,108.3h1.0M594.1,102.6h1.0M604.2,110.1h1.0M591.1,100.7h1.0M597.3,115.7h1.0M602.8,104.6h1.0M602.4,101.0h1.0M591.6,114.5h1.0M588.5,102.7h1.0M600.5,98.1h1.0M601.6,96.3h1.0M600.6,98.5h1.0M593.2,104.4h1.0M594.0,101.6h1.0M591.7,98.4h1.0M599.4,105.8h1.0M591.4,92.2h1.0M596.7,88.2h1.0M599.6,115.6h1.0M600.0,101.6h1.0M592.7,101.1h1.0M599.3,112.4h1.0M595.0,106.5h1.0M595.0,94.3h1.0M594.7,98.8h1.0M589.5,93.6h1.0M603.9,82.0h1.0M601.0,102.8h1.0M594.7,90.3h1.0M602.3,93.8h1.0M598.2,94.8h1.0M591.3,105.0h1.0M599.9,89.0h1.0M602.1,86.5h1.0M590.6,103.5h1.0M594.7,96.6h1.0M604.5,87.9h1.0M599.7,93.3h1.0M597.2,94.8h1.0M592.9,97.0h1.0M592.3,96.7h1.0M592.1,94.4h1.0M597.4,85.3h1.0M596.4,102.2h1.0M597.3,104.1h1.0M591.9,101.3h1.0M598.3,74.4h1.0M596.7,103.7h1.0M596.4,96.9h1.0M596.1,95.3h1.0M591.7,91.1h1.0M586.1,113.4h1.0M596.7,98.4h1.0M599.8,100.7h1.0M596.4,83.9h1.0M591.0,110.2h1.0M598.8,101.9h1.0M591.7,92.7h1.0M598.0,90.3h1.0M602.5,90.5h1.0M594.7,87.3h1.0M598.5,107.0h1.0M597.8,96.5h1.0M595.0,103.0h1.0M596.7,110.7h1.0M595.5,93.5h1.0M594.2,81.2h1.0M597.9,97.6h1.0M589.0,87.2h1.0M591.6,94.0h1.0M591.8,102.7h1.0M602.5,91.4h1.0M596.9,88.0h1.0M603.1,87.8h1.0M592.9,96.6h1.0M592.8,118.1h1.0M595.8,94.6h1.0M592.0,95.9h1.0M593.8,93.2h1.0M601.5,91.8h1.0M598.8,91.5h1.0M601.6,90.5h1.0M592.1,94.6h1.0M602.8,93.3h1.0M592.5,95.4h1.0M593.3,98.7h1.0M593.5,99.1h1.0M601.1,100.5h1.0M604.0,99.0h1.0M605.6,106.8h1.0M595.4,102.8h1.0M593.2,95.0h1.0M596.3,90.3h1.0M598.2,95.9h1.0M606.3,102.8h1.0M595.6,91.2h1.0M594.2,91.1h1.0M593.2,96.7h1.0M590.3,94.1h1.0M599.1,91.9h1.0M591.4,92.6h1.0M600.9,90.5h1.0M604.2,83.3h1.0M592.9,101.4h1.0M603.2,95.0h1.0M588.8,94.3h1.0M592.4,91.1h1.0M595.0,91.8h1.0M596.5,97.7h1.0M595.4,82.3h1.0M595.9,75.7h1.0M597.1,93.2h1.0M592.3,113.3h1.0M604.7,107.3h1.0M597.8,92.7h1.0M599.0,109.6h1.0M596.3,95.4h1.0M594.0,96.0h1.0M600.7,89.3h1.0M601.8,97.7h1.0M607.4,98.1h1.0M602.8,88.7h1.0M608.3,97.3h1.0M596.4,108.6h1.0M597.5,86.8h1.0M599.7,101.0h1.0M596.7,92.9h1.0M589.1,110.0h1.0M594.7,99.5h1.0M594.4,91.0h1.0M598.1,89.6h1.0M601.3,83.9h1.0M599.6,106.1h1.0M594.7,98.4h1.0M600.7,93.2h1.0M595.7,95.2h1.0M609.8,90.2h1.0M596.0,93.1h1.0M594.2,89.3h1.0M593.7,97.9h1.0M602.4,109.6h1.0M590.7,88.9h1.0M596.7,88.9h1.0M593.1,94.9h1.0M594.1,90.0h1.0M597.8,90.5h1.0M595.5,99.2h1.0M600.2,98.3h1.0M602.0,97.9h1.0M589.8,108.4h1.0M610.4,103.1h1.0M604.5,105.5h1.0M594.7,101.7h1.0M593.5,92.2h1.0M599.5,97.4h1.0M593.7,85.5h1.0M600.7,96.7h1.0M597.5,89.7h1.0M593.1,96.4h1.0M588.0,106.3h1.0M596.9,105.4h1.0M601.4,92.2h1.0M599.3,87.9h1.0M592.5,107.3h1.0M594.3,90.6h1.0M599.1,97.0h1.0M601.5,86.6h1.0M595.6,88.2h1.0M597.0,94.6h1.0M592.4,82.9h1.0M590.4,104.2h1.0M595.1,88.1h1.0M597.7,87.9h1.0M601.2,103.7h1.0M597.1,92.2h1.0M588.2,100.6h1.0M606.5,98.3h1.0M594.3,103.1h1.0M595.0,87.1h1.0M596.3,101.5h1.0M588.1,105.0h1.0M604.6,96.6h1.0M594.6,85.5h1.0M599.4,94.6h1.0M602.7,109.2h1.0M602.8,98.2h1.0M588.2,107.3h1.0M594.6,93.0h1.0M602.0,100.6h1.0M591.9,94.1h1.0M595.5,95.6h1.0M591.3,108.6h1.0M596.2,102.0h1.0M601.9,114.0h1.0M600.3,91.0h1.0M594.8,103.7h1.0M604.8,85.2h1.0M606.0,92.3h1.0M596.0,93.4h1.0M599.7,95.3h1.0M596.7,89.5h1.0M603.8,99.7h1.0M596.7,113.7h1.0M600.0,107.8h1.0M595.6,98.0h1.0M596.2,103.7h1.0M598.3,83.4h1.0M599.7,95.1h1.0M598.1,104.5h1.0M595.6,101.9h1.0M597.0,96.2h1.0M594.5,96.0h1.0M595.5,103.1h1.0M586.0,101.4h1.0M596.6,88.6h1.0M600.7,96.6h1.0M599.6,107.5h1.0M598.0,84.3h1.0M589.3,96.4h1.0M591.2,113.9h1.0M596.5,82.7h1.0M586.6,92.6h1.0" stroke="#ff1a1a" stroke-width="1.0" fill="none"/>
<path d="M589.8,101.3h1.0M590.1,103.3h1.0M595.5,104.5h1.0M593.5,96.7h1.0M600.2,90.9h1.0M599.0,106.1h1.0M594.0,98.2h1.0M601.9,106.3h1.0M601.8,98.4h1.0M595.9,98.1h1.0M595.8,103.0h1.0M599.5,101.5h1.0M594.9,102.8h1.0M598.4,100.1h1.0M600.6,97.1h1.0M597.4,104.4h1.0M594.7,103.4h1.0M599.2,106.4h1.0M600.9,96.1h1.0M602.3,96.7h1.0M593.5,97.6h1.0M596.0,94.5h1.0M599.9,101.5h1.0M598.8,92.2h1.0M602.4,101.3h1.0M600.5,100.8h1.0M598.1,102.8h1.0M597.5,105.9h1.0M595.5,88.9h1.0M595.9,98.9h1.0M598.2,99.5h1.0M598.3,101.2h1.0M596.5,101.7h1.0M598.7,95.2h1.0M591.8,100.1h1.0M598.5,104.3h1.0M600.3,100.5h1.0M600.5,96.2h1.0M595.6,105.7h1.0M593.5,98.9h1.0M593.9,93.0h1.0M603.4,90.3h1.0M602.3,96.8h1.0M594.8,90.8h1.0M597.7,102.1h1.0M598.8,94.5h1.0M601.9,100.1h1.0M598.6,102.0h1.0M598.7,97.5h1.0M598.1,95.5h1.0M597.8,94.3h1.0M592.8,96.1h1.0M596.6,95.7h1.0M596.1,96.3h1.0M597.2,107.7h1.0M598.8,103.2h1.0M600.0,103.3h1.0M598.3,103.2h1.0M600.2,98.3h1.0M596.2,99.0h1.0M596.9,101.4h1.0M595.7,97.0h1.0M597.7,101.5h1.0M596.7,91.7h1.0M596.3,103.2h1.0M596.4,105.2h1.0M595.6,97.9h1.0M599.4,104.8h1.0M596.2,106.3h1.0M597.6,101.0h1.0M602.4,103.2h1.0M596.4,98.8h1.0M594.4,104.6h1.0M598.1,108.3h1.0M600.7,99.2h1.0M595.3,97.5h1.0M600.8,98.5h1.0M600.4,105.1h1.0M601.5,100.3h1.0M599.2,92.9h1.0M598.1,99.3h1.0M599.8,90.5h1.0M596.2,110.4h1.0M597.6,96.8h1.0M597.4,98.5h1.0M596.1,102.1h1.0M597.9,104.7h1.0M604.5,102.7h1.0M598.1,106.3h1.0M593.0,108.0h1.0M593.7,96.8h1.0M597.3,92.6h1.0M595.2,99.9h1.0M598.3,92.3h1.0M588.3,102.4h1.0M592.2,100.8h1.0M598.5,103.0h1.0M595.4,96.2h1.0M606.2,98.6h1.0M594.1,92.7h1.0M596.3,107.5h1.0M599.1,94.7h1.0M593.0,96.1h1.0M597.0,100.5h1.0M598.5,104.6h1.0M593.1,91.5h1.0M596.8,102.0h1.0M595.4,100.4h1.0M596.8,104.8h1.0M596.4,96.8h1.0M598.6,104.0h1.0M595.2,98.6h1.0M594.9,93.6h1.0M604.2,96.1h1.0M596.1,97.5h1.0M594.6,98.4h1.0M596.8,101.0h1.0M595.4,92.2h1.0M596.7,102.6h1.0M600.8,98.7h1.0M596.3,95.4h1.0M601.5,96.2h1.0M595.5,98.9h1.0M596.4,99.4h1.0M598.3,107.5h1.0M598.6,101.2h1.0M592.7,110.0h1.0M598.6,103.5h1.0M596.1,98.7h1.0M595.9,98.3h1.0M595.9,103.0h1.0M600.2,98.9h1.0M596.2,103.3h1.0M596.4,101.8h1.0M595.1,106.0h1.0M595.7,101.9h1.0M602.1,101.1h1.0M596.3,102.8h1.0M601.6,88.2h1.0M595.9,98.4h1.0M599.6,91.7h1.0M599.5,99.4h1.0M598.7,94.1h1.0M600.9,112.0h1.0M597.4,102.1h1.0M594.0,85.2h1.0M596.8,98.0h1.0M599.1,99.4h1.0M593.1,88.1h1.0M600.3,103.9h1.0M596.7,97.9h1.0M599.1,96.5h1.0M593.3,105.3h1.0M592.9,97.1h1.0M600.9,101.5h1.0M600.3,106.5h1.0M597.7,91.8h1.0M592.0,88.2h1.0M599.3,92.0h1.0M596.7,99.6h1.0M598.1,99.0h1.0M600.9,100.8h1.0M600.3,98.7h1.0M597.1,100.0h1.0M598.5,103.0h1.0M595.6,102.2h1.0M605.3,85.8h1.0M599.0,98.6h1.0M596.4,96.2h1.0M593.6,100.4h1.0M594.9,107.0h1.0M598.0,107.8h1.0M597.4,92.0h1.0M598.4,100.2h1.0M599.6,87.2h1.0M597.3,106.4h1.0M597.3,88.9h1.0M598.3,101.6h1.0M601.3,102.0h1.0M594.1,105.0h1.0M599.2,105.1h1.0M596.5,104.3h1.0M590.8,92.4h1.0M598.9,107.2h1.0M598.8,100.0h1.0M596.6,97.0h1.0M600.4,90.2h1.0M597.9,106.7h1.0M592.1,87.9h1.0M594.1,99.1h1.0M598.7,96.3h1.0M599.4,96.5h1.0M592.2,104.2h1.0M597.1,95.8h1.0M592.1,86.4h1.0M593.9,102.7h1.0M594.3,92.4h1.0M594.7,102.1h1.0M598.9,105.3h1.0M594.5,106.7h1.0M601.9,101.3h1.0M600.2,107.5h1.0M598.2,94.8h1.0M598.7,101.0h1.0M599.2,112.4h1.0M597.2,98.0h1.0M600.8,99.3h1.0M593.4,100.8h1.0M600.1,91.0h1.0M602.2,108.9h1.0M593.7,100.4h1.0M598.3,102.0h1.0M598.0,102.7h1.0M594.8,97.9h1.0M596.8,101.4h1.0M603.0,103.6h1.0M594.0,101.1h1.0M602.9,109.5h1.0M602.2,99.7h1.0M599.4,100.1h1.0M593.7,99.5h1.0M595.9,92.8h1.0M596.7,97.2h1.0M596.4,102.9h1.0M593.9,99.6h1.0M598.2,100.6h1.0M597.9,99.6h1.0M592.3,88.7h1.0M595.3,97.2h1.0M594.3,95.3h1.0M595.9,107.8h1.0M596.8,103.3h1.0M599.1,100.0h1.0M600.0,96.3h1.0M596.5,93.2h1.0M596.7,103.7h1.0M594.4,98.8h1.0M596.3,98.9h1.0M595.9,100.6h1.0M593.3,99.8h1.0M602.2,93.6h1.0M599.6,95.6h1.0M595.4,108.3h1.0M599.1,102.3h1.0M602.1,102.5h1.0M596.8,87.6h1.0M599.2,107.8h1.0M595.8,93.1h1.0M591.9,102.1h1.0M589.9,101.1h1.0M599.6,96.8h1.0M593.9,97.7h1.0M601.8,93.3h1.0M594.7,101.8h1.0M595.2,105.7h1.0M594.9,93.0h1.0M592.6,98.0h1.0M600.4,99.2h1.0M595.3,91.4h1.0M597.9,95.7h1.0M604.1,93.1h1.0M593.0,92.6h1.0M597.6,102.0h1.0M597.8,105.0h1.0M599.2,96.1h1.0M602.2,95.2h1.0M597.7,99.3h1.0M600.5,98.9h1.0M598.1,89.2h1.0M596.8,99.8h1.0M601.6,90.4h1.0M593.4,103.3h1.0M604.1,99.9h1.0M590.7,90.1h1.0M595.9,94.6h1.0M598.5,104.4h1.0M599.4,94.4h1.0M594.9,98.1h1.0M598.3,101.9h1.0M595.9,104.3h1.0M599.2,97.6h1.0M597.7,107.1h1.0M599.0,97.6h1.0M596.1,103.9h1.0M598.2,99.8h1.0M594.9,97.8h1.0M597.6,108.0h1.0M593.2,99.7h1.0M594.2,92.2h1.0M604.0,92.7h1.0M600.8,104.3h1.0M598.5,99.4h1.0M596.9,101.6h1.0M598.3,102.0h1.0M599.0,90.9h1.0M593.2,98.9h1.0M596.9,92.3h1.0M599.9,101.6h1.0M598.0,104.4h1.0M599.0,98.5h1.0" stroke="#ff0000" stroke-width="1.0" fill="none"/>
<line x1="403.4" y1="157.4" x2="403.4" y2="140.0" stroke="#000" stroke-width="1.4" />
<polygon points="403.4,133.6 406.9,141.1 399.9,141.1" fill="#000"/>
<line x1="403.4" y1="157.4" x2="389.0" y2="148.5" stroke="#000" stroke-width="1.4" />
<polygon points="384.4,146.7 392.7,147.3 389.2,153.4" fill="#000"/>
<line x1="403.4" y1="157.4" x2="420.0" y2="153.0" stroke="#000" stroke-width="1.4" />
<polygon points="426.0,151.8 419.6,157.0 417.9,150.2" fill="#000"/>
<text x="393.2" y="130.4" font-size="9" fill="#000" >DC3</text>
<text x="361.8" y="156.2" font-size="9" fill="#000" >cDC2</text>
<text x="416.0" y="165.7" font-size="9" fill="#000" >cDC1</text>
<circle cx="457.9" cy="144.3" r="2.8" fill="#1a1aff" stroke="#333" stroke-width="0.5"/>
<text x="467.9" y="147.9" font-size="9.1" fill="#000" >cDC1</text>
<circle cx="510.8" cy="144.3" r="2.8" fill="#8c8c8c" stroke="#333" stroke-width="0.5"/>
<text x="520.8" y="147.9" font-size="9.1" fill="#000" >cDC2</text>
<circle cx="457.9" cy="161" r="2.8" fill="#ffb030" stroke="#333" stroke-width="0.5"/>
<text x="467.9" y="164.8" font-size="9.1" fill="#000" >DC3</text>
<circle cx="510.8" cy="161" r="2.8" fill="#ff2020" stroke="#333" stroke-width="0.5"/>
<text x="520.8" y="164.8" font-size="9.1" fill="#000" >CCR7<tspan dy="-3.5" font-size="6">+</tspan><tspan dy="3.5"> DC</tspan></text>
<text x="384.8" y="202.0" font-size="27" fill="#000" >d</text>
<rect x="429.5" y="196.50" width="201.2" height="14.24" fill="none" stroke="#8c8c8c" stroke-width="1.1"/>
<line x1="427.1" y1="209.7" x2="429.5" y2="209.7" stroke="#333" stroke-width="0.6" />
<line x1="427.1" y1="207.0" x2="429.5" y2="207.0" stroke="#333" stroke-width="0.6" />
<line x1="427.1" y1="204.3" x2="429.5" y2="204.3" stroke="#333" stroke-width="0.6" />
<line x1="427.1" y1="201.6" x2="429.5" y2="201.6" stroke="#333" stroke-width="0.6" />
<line x1="427.1" y1="198.9" x2="429.5" y2="198.9" stroke="#333" stroke-width="0.6" />
<text x="424.7" y="201.7" font-size="4.6" text-anchor="end" fill="#6b6050" >3</text>
<text x="636.4" y="207.7" font-size="10" fill="#000" >Il4i1</text>
<rect x="429.5" y="210.74" width="201.2" height="14.24" fill="none" stroke="#8c8c8c" stroke-width="1.1"/>
<line x1="427.1" y1="224.0" x2="429.5" y2="224.0" stroke="#333" stroke-width="0.6" />
<line x1="427.1" y1="221.3" x2="429.5" y2="221.3" stroke="#333" stroke-width="0.6" />
<line x1="427.1" y1="218.5" x2="429.5" y2="218.5" stroke="#333" stroke-width="0.6" />
<line x1="427.1" y1="215.8" x2="429.5" y2="215.8" stroke="#333" stroke-width="0.6" />
<line x1="427.1" y1="213.1" x2="429.5" y2="213.1" stroke="#333" stroke-width="0.6" />
<text x="424.7" y="215.9" font-size="4.6" text-anchor="end" fill="#6b6050" >2</text>
<text x="636.4" y="221.9" font-size="10" fill="#000" >Cd200</text>
<rect x="429.5" y="224.97" width="201.2" height="14.24" fill="none" stroke="#8c8c8c" stroke-width="1.1"/>
<line x1="427.1" y1="238.2" x2="429.5" y2="238.2" stroke="#333" stroke-width="0.6" />
<line x1="427.1" y1="235.5" x2="429.5" y2="235.5" stroke="#333" stroke-width="0.6" />
<line x1="427.1" y1="232.8" x2="429.5" y2="232.8" stroke="#333" stroke-width="0.6" />
<line x1="427.1" y1="230.1" x2="429.5" y2="230.1" stroke="#333" stroke-width="0.6" />
<line x1="427.1" y1="227.3" x2="429.5" y2="227.3" stroke="#333" stroke-width="0.6" />
<text x="424.7" y="230.2" font-size="4.6" text-anchor="end" fill="#6b6050" >2</text>
<text x="636.4" y="236.2" font-size="10" fill="#000" >Cd7</text>
<rect x="429.5" y="239.21" width="201.2" height="14.24" fill="none" stroke="#8c8c8c" stroke-width="1.1"/>
<line x1="427.1" y1="252.5" x2="429.5" y2="252.5" stroke="#333" stroke-width="0.6" />
<line x1="427.1" y1="249.7" x2="429.5" y2="249.7" stroke="#333" stroke-width="0.6" />
<line x1="427.1" y1="247.0" x2="429.5" y2="247.0" stroke="#333" stroke-width="0.6" />
<line x1="427.1" y1="244.3" x2="429.5" y2="244.3" stroke="#333" stroke-width="0.6" />
<line x1="427.1" y1="241.6" x2="429.5" y2="241.6" stroke="#333" stroke-width="0.6" />
<text x="424.7" y="244.4" font-size="4.6" text-anchor="end" fill="#6b6050" >3</text>
<text x="636.4" y="250.4" font-size="10" fill="#000" >Apod</text>
<rect x="429.5" y="253.45" width="201.2" height="14.24" fill="none" stroke="#8c8c8c" stroke-width="1.1"/>
<line x1="427.1" y1="266.7" x2="429.5" y2="266.7" stroke="#333" stroke-width="0.6" />
<line x1="427.1" y1="264.0" x2="429.5" y2="264.0" stroke="#333" stroke-width="0.6" />
<line x1="427.1" y1="261.2" x2="429.5" y2="261.2" stroke="#333" stroke-width="0.6" />
<line x1="427.1" y1="258.5" x2="429.5" y2="258.5" stroke="#333" stroke-width="0.6" />
<line x1="427.1" y1="255.8" x2="429.5" y2="255.8" stroke="#333" stroke-width="0.6" />
<text x="424.7" y="258.6" font-size="4.6" text-anchor="end" fill="#6b6050" >3</text>
<text x="636.4" y="264.6" font-size="10" fill="#000" >Mgl2</text>
<rect x="429.5" y="267.69" width="201.2" height="14.24" fill="none" stroke="#8c8c8c" stroke-width="1.1"/>
<line x1="427.1" y1="280.9" x2="429.5" y2="280.9" stroke="#333" stroke-width="0.6" />
<line x1="427.1" y1="278.2" x2="429.5" y2="278.2" stroke="#333" stroke-width="0.6" />
<line x1="427.1" y1="275.5" x2="429.5" y2="275.5" stroke="#333" stroke-width="0.6" />
<line x1="427.1" y1="272.8" x2="429.5" y2="272.8" stroke="#333" stroke-width="0.6" />
<line x1="427.1" y1="270.0" x2="429.5" y2="270.0" stroke="#333" stroke-width="0.6" />
<text x="424.7" y="272.9" font-size="4.6" text-anchor="end" fill="#6b6050" >2</text>
<text x="636.4" y="278.9" font-size="10" fill="#000" >Cd209a</text>
<rect x="429.5" y="281.93" width="201.2" height="14.24" fill="none" stroke="#8c8c8c" stroke-width="1.1"/>
<line x1="427.1" y1="295.2" x2="429.5" y2="295.2" stroke="#333" stroke-width="0.6" />
<line x1="427.1" y1="292.4" x2="429.5" y2="292.4" stroke="#333" stroke-width="0.6" />
<line x1="427.1" y1="289.7" x2="429.5" y2="289.7" stroke="#333" stroke-width="0.6" />
<line x1="427.1" y1="287.0" x2="429.5" y2="287.0" stroke="#333" stroke-width="0.6" />
<line x1="427.1" y1="284.3" x2="429.5" y2="284.3" stroke="#333" stroke-width="0.6" />
<text x="424.7" y="287.1" font-size="4.6" text-anchor="end" fill="#6b6050" >3</text>
<text x="636.4" y="293.1" font-size="10" fill="#000" >Ly6c2</text>
<rect x="429.5" y="296.16" width="201.2" height="14.24" fill="none" stroke="#8c8c8c" stroke-width="1.1"/>
<line x1="427.1" y1="309.4" x2="429.5" y2="309.4" stroke="#333" stroke-width="0.6" />
<line x1="427.1" y1="306.7" x2="429.5" y2="306.7" stroke="#333" stroke-width="0.6" />
<line x1="427.1" y1="304.0" x2="429.5" y2="304.0" stroke="#333" stroke-width="0.6" />
<line x1="427.1" y1="301.2" x2="429.5" y2="301.2" stroke="#333" stroke-width="0.6" />
<line x1="427.1" y1="298.5" x2="429.5" y2="298.5" stroke="#333" stroke-width="0.6" />
<text x="424.7" y="301.4" font-size="4.6" text-anchor="end" fill="#6b6050" >4</text>
<text x="636.4" y="307.4" font-size="10" fill="#000" >Ptgs2</text>
<rect x="429.5" y="310.40" width="201.2" height="14.24" fill="none" stroke="#8c8c8c" stroke-width="1.1"/>
<line x1="427.1" y1="323.6" x2="429.5" y2="323.6" stroke="#333" stroke-width="0.6" />
<line x1="427.1" y1="320.9" x2="429.5" y2="320.9" stroke="#333" stroke-width="0.6" />
<line x1="427.1" y1="318.2" x2="429.5" y2="318.2" stroke="#333" stroke-width="0.6" />
<line x1="427.1" y1="315.5" x2="429.5" y2="315.5" stroke="#333" stroke-width="0.6" />
<line x1="427.1" y1="312.8" x2="429.5" y2="312.8" stroke="#333" stroke-width="0.6" />
<text x="424.7" y="315.6" font-size="4.6" text-anchor="end" fill="#6b6050" >3</text>
<text x="636.4" y="321.6" font-size="10" fill="#000" >Ear2</text>
<rect x="429.5" y="324.64" width="201.2" height="14.24" fill="none" stroke="#8c8c8c" stroke-width="1.1"/>
<line x1="427.1" y1="337.9" x2="429.5" y2="337.9" stroke="#333" stroke-width="0.6" />
<line x1="427.1" y1="335.2" x2="429.5" y2="335.2" stroke="#333" stroke-width="0.6" />
<line x1="427.1" y1="332.4" x2="429.5" y2="332.4" stroke="#333" stroke-width="0.6" />
<line x1="427.1" y1="329.7" x2="429.5" y2="329.7" stroke="#333" stroke-width="0.6" />
<line x1="427.1" y1="327.0" x2="429.5" y2="327.0" stroke="#333" stroke-width="0.6" />
<text x="424.7" y="329.8" font-size="4.6" text-anchor="end" fill="#6b6050" >4</text>
<text x="636.4" y="335.8" font-size="10" fill="#000" >Pf4</text>
<rect x="429.5" y="338.88" width="201.2" height="14.24" fill="none" stroke="#8c8c8c" stroke-width="1.1"/>
<line x1="427.1" y1="352.1" x2="429.5" y2="352.1" stroke="#333" stroke-width="0.6" />
<line x1="427.1" y1="349.4" x2="429.5" y2="349.4" stroke="#333" stroke-width="0.6" />
<line x1="427.1" y1="346.7" x2="429.5" y2="346.7" stroke="#333" stroke-width="0.6" />
<line x1="427.1" y1="344.0" x2="429.5" y2="344.0" stroke="#333" stroke-width="0.6" />
<line x1="427.1" y1="341.2" x2="429.5" y2="341.2" stroke="#333" stroke-width="0.6" />
<text x="424.7" y="344.1" font-size="4.6" text-anchor="end" fill="#6b6050" >3</text>
<text x="636.4" y="350.1" font-size="10" fill="#000" >F13a1</text>
<rect x="429.5" y="353.11" width="201.2" height="14.24" fill="none" stroke="#8c8c8c" stroke-width="1.1"/>
<line x1="427.1" y1="366.4" x2="429.5" y2="366.4" stroke="#333" stroke-width="0.6" />
<line x1="427.1" y1="363.6" x2="429.5" y2="363.6" stroke="#333" stroke-width="0.6" />
<line x1="427.1" y1="360.9" x2="429.5" y2="360.9" stroke="#333" stroke-width="0.6" />
<line x1="427.1" y1="358.2" x2="429.5" y2="358.2" stroke="#333" stroke-width="0.6" />
<line x1="427.1" y1="355.5" x2="429.5" y2="355.5" stroke="#333" stroke-width="0.6" />
<text x="424.7" y="358.3" font-size="4.6" text-anchor="end" fill="#6b6050" >3</text>
<text x="636.4" y="364.3" font-size="10" fill="#000" >C1qc</text>
<rect x="429.5" y="367.35" width="201.2" height="14.24" fill="none" stroke="#8c8c8c" stroke-width="1.1"/>
<line x1="427.1" y1="380.6" x2="429.5" y2="380.6" stroke="#333" stroke-width="0.6" />
<line x1="427.1" y1="377.9" x2="429.5" y2="377.9" stroke="#333" stroke-width="0.6" />
<line x1="427.1" y1="375.1" x2="429.5" y2="375.1" stroke="#333" stroke-width="0.6" />
<line x1="427.1" y1="372.4" x2="429.5" y2="372.4" stroke="#333" stroke-width="0.6" />
<line x1="427.1" y1="369.7" x2="429.5" y2="369.7" stroke="#333" stroke-width="0.6" />
<text x="424.7" y="372.6" font-size="4.6" text-anchor="end" fill="#6b6050" >2</text>
<text x="636.4" y="378.6" font-size="10" fill="#000" >Wdfy4</text>
<rect x="429.5" y="381.59" width="201.2" height="14.24" fill="none" stroke="#8c8c8c" stroke-width="1.1"/>
<line x1="427.1" y1="394.8" x2="429.5" y2="394.8" stroke="#333" stroke-width="0.6" />
<line x1="427.1" y1="392.1" x2="429.5" y2="392.1" stroke="#333" stroke-width="0.6" />
<line x1="427.1" y1="389.4" x2="429.5" y2="389.4" stroke="#333" stroke-width="0.6" />
<line x1="427.1" y1="386.7" x2="429.5" y2="386.7" stroke="#333" stroke-width="0.6" />
<line x1="427.1" y1="383.9" x2="429.5" y2="383.9" stroke="#333" stroke-width="0.6" />
<text x="424.7" y="386.8" font-size="4.6" text-anchor="end" fill="#6b6050" >3</text>
<text x="636.4" y="392.8" font-size="10" fill="#000" >Irf8</text>
<rect x="429.5" y="395.83" width="201.2" height="14.24" fill="none" stroke="#8c8c8c" stroke-width="1.1"/>
<line x1="427.1" y1="409.1" x2="429.5" y2="409.1" stroke="#333" stroke-width="0.6" />
<line x1="427.1" y1="406.3" x2="429.5" y2="406.3" stroke="#333" stroke-width="0.6" />
<line x1="427.1" y1="403.6" x2="429.5" y2="403.6" stroke="#333" stroke-width="0.6" />
<line x1="427.1" y1="400.9" x2="429.5" y2="400.9" stroke="#333" stroke-width="0.6" />
<line x1="427.1" y1="398.2" x2="429.5" y2="398.2" stroke="#333" stroke-width="0.6" />
<text x="424.7" y="401.0" font-size="4.6" text-anchor="end" fill="#6b6050" >2</text>
<text x="636.4" y="407.0" font-size="10" fill="#000" >Xcr1</text>
<rect x="429.5" y="410.06" width="201.2" height="14.24" fill="none" stroke="#8c8c8c" stroke-width="1.1"/>
<line x1="427.1" y1="423.3" x2="429.5" y2="423.3" stroke="#333" stroke-width="0.6" />
<line x1="427.1" y1="420.6" x2="429.5" y2="420.6" stroke="#333" stroke-width="0.6" />
<line x1="427.1" y1="417.9" x2="429.5" y2="417.9" stroke="#333" stroke-width="0.6" />
<line x1="427.1" y1="415.1" x2="429.5" y2="415.1" stroke="#333" stroke-width="0.6" />
<line x1="427.1" y1="412.4" x2="429.5" y2="412.4" stroke="#333" stroke-width="0.6" />
<text x="424.7" y="415.3" font-size="4.6" text-anchor="end" fill="#6b6050" >4</text>
<text x="636.4" y="421.3" font-size="10" fill="#000" >Cd207</text>
<line x1="429.5" y1="196.0" x2="429.5" y2="424.8" stroke="#222" stroke-width="1" />
<line x1="446.4" y1="209.7" x2="446.4" y2="202.5" stroke="#6a6a6a" stroke-width="0.6"/>
<line x1="445.6" y1="208.2" x2="447.2" y2="208.2" stroke="#555" stroke-width="0.5" />
<line x1="474.4" y1="209.7" x2="474.4" y2="201.0" stroke="#6a6a6a" stroke-width="0.6"/>
<line x1="473.6" y1="208.2" x2="475.2" y2="208.2" stroke="#555" stroke-width="0.5" />
<line x1="502.4" y1="209.7" x2="502.4" y2="200.6" stroke="#6a6a6a" stroke-width="0.6"/>
<line x1="501.6" y1="208.2" x2="503.2" y2="208.2" stroke="#555" stroke-width="0.5" />
<line x1="530.3" y1="209.7" x2="530.3" y2="202.6" stroke="#6a6a6a" stroke-width="0.6"/>
<line x1="529.5" y1="208.2" x2="531.1" y2="208.2" stroke="#555" stroke-width="0.5" />
<line x1="558.3" y1="209.7" x2="558.3" y2="202.1" stroke="#6a6a6a" stroke-width="0.6"/>
<line x1="557.5" y1="208.2" x2="559.1" y2="208.2" stroke="#555" stroke-width="0.5" />
<line x1="446.4" y1="224.0" x2="446.4" y2="215.7" stroke="#6a6a6a" stroke-width="0.6"/>
<line x1="445.6" y1="222.5" x2="447.2" y2="222.5" stroke="#555" stroke-width="0.5" />
<line x1="474.4" y1="224.0" x2="474.4" y2="213.3" stroke="#6a6a6a" stroke-width="0.6"/>
<line x1="473.6" y1="222.5" x2="475.2" y2="222.5" stroke="#555" stroke-width="0.5" />
<line x1="502.4" y1="224.0" x2="502.4" y2="218.3" stroke="#6a6a6a" stroke-width="0.6"/>
<line x1="501.6" y1="222.5" x2="503.2" y2="222.5" stroke="#555" stroke-width="0.5" />
<line x1="530.3" y1="224.0" x2="530.3" y2="213.5" stroke="#6a6a6a" stroke-width="0.6"/>
<line x1="529.5" y1="222.5" x2="531.1" y2="222.5" stroke="#555" stroke-width="0.5" />
<line x1="558.3" y1="224.0" x2="558.3" y2="215.4" stroke="#6a6a6a" stroke-width="0.6"/>
<line x1="557.5" y1="222.5" x2="559.1" y2="222.5" stroke="#555" stroke-width="0.5" />
<line x1="586.3" y1="224.0" x2="586.3" y2="213.4" stroke="#6a6a6a" stroke-width="0.6"/>
<line x1="585.5" y1="222.5" x2="587.1" y2="222.5" stroke="#555" stroke-width="0.5" />
<line x1="446.4" y1="238.2" x2="446.4" y2="230.6" stroke="#6a6a6a" stroke-width="0.6"/>
<line x1="445.6" y1="236.7" x2="447.2" y2="236.7" stroke="#555" stroke-width="0.5" />
<line x1="474.4" y1="238.2" x2="474.4" y2="229.1" stroke="#6a6a6a" stroke-width="0.6"/>
<line x1="473.6" y1="236.7" x2="475.2" y2="236.7" stroke="#555" stroke-width="0.5" />
<line x1="502.4" y1="238.2" x2="502.4" y2="232.7" stroke="#6a6a6a" stroke-width="0.6"/>
<line x1="501.6" y1="236.7" x2="503.2" y2="236.7" stroke="#555" stroke-width="0.5" />
<line x1="530.3" y1="238.2" x2="530.3" y2="231.5" stroke="#6a6a6a" stroke-width="0.6"/>
<line x1="529.5" y1="236.7" x2="531.1" y2="236.7" stroke="#555" stroke-width="0.5" />
<line x1="558.3" y1="238.2" x2="558.3" y2="229.1" stroke="#6a6a6a" stroke-width="0.6"/>
<line x1="557.5" y1="236.7" x2="559.1" y2="236.7" stroke="#555" stroke-width="0.5" />
<line x1="614.3" y1="238.2" x2="614.3" y2="230.9" stroke="#6a6a6a" stroke-width="0.6"/>
<line x1="613.5" y1="236.7" x2="615.1" y2="236.7" stroke="#555" stroke-width="0.5" />
<line x1="446.4" y1="252.5" x2="446.4" y2="244.1" stroke="#6a6a6a" stroke-width="0.6"/>
<line x1="445.6" y1="251.0" x2="447.2" y2="251.0" stroke="#555" stroke-width="0.5" />
<line x1="474.4" y1="252.5" x2="474.4" y2="241.4" stroke="#6a6a6a" stroke-width="0.6"/>
<line x1="473.6" y1="251.0" x2="475.2" y2="251.0" stroke="#555" stroke-width="0.5" />
<line x1="502.4" y1="252.5" x2="502.4" y2="243.9" stroke="#6a6a6a" stroke-width="0.6"/>
<line x1="501.6" y1="251.0" x2="503.2" y2="251.0" stroke="#555" stroke-width="0.5" />
<line x1="530.3" y1="252.5" x2="530.3" y2="243.2" stroke="#6a6a6a" stroke-width="0.6"/>
<line x1="529.5" y1="251.0" x2="531.1" y2="251.0" stroke="#555" stroke-width="0.5" />
<line x1="446.4" y1="266.7" x2="446.4" y2="258.1" stroke="#6a6a6a" stroke-width="0.6"/>
<line x1="445.6" y1="265.2" x2="447.2" y2="265.2" stroke="#555" stroke-width="0.5" />
<line x1="502.4" y1="266.7" x2="502.4" y2="259.8" stroke="#6a6a6a" stroke-width="0.6"/>
<line x1="501.6" y1="265.2" x2="503.2" y2="265.2" stroke="#555" stroke-width="0.5" />
<line x1="614.3" y1="266.7" x2="614.3" y2="255.7" stroke="#6a6a6a" stroke-width="0.6"/>
<line x1="613.5" y1="265.2" x2="615.1" y2="265.2" stroke="#555" stroke-width="0.5" />
<line x1="446.4" y1="280.9" x2="446.4" y2="273.4" stroke="#6a6a6a" stroke-width="0.6"/>
<line x1="445.6" y1="279.4" x2="447.2" y2="279.4" stroke="#555" stroke-width="0.5" />
<line x1="474.4" y1="280.9" x2="474.4" y2="275.4" stroke="#6a6a6a" stroke-width="0.6"/>
<line x1="473.6" y1="279.4" x2="475.2" y2="279.4" stroke="#555" stroke-width="0.5" />
<line x1="502.4" y1="280.9" x2="502.4" y2="273.1" stroke="#6a6a6a" stroke-width="0.6"/>
<line x1="501.6" y1="279.4" x2="503.2" y2="279.4" stroke="#555" stroke-width="0.5" />
<line x1="530.3" y1="280.9" x2="530.3" y2="273.2" stroke="#6a6a6a" stroke-width="0.6"/>
<line x1="529.5" y1="279.4" x2="531.1" y2="279.4" stroke="#555" stroke-width="0.5" />
<line x1="614.3" y1="280.9" x2="614.3" y2="274.3" stroke="#6a6a6a" stroke-width="0.6"/>
<line x1="613.5" y1="279.4" x2="615.1" y2="279.4" stroke="#555" stroke-width="0.5" />
<line x1="446.4" y1="295.2" x2="446.4" y2="287.3" stroke="#6a6a6a" stroke-width="0.6"/>
<line x1="445.6" y1="293.7" x2="447.2" y2="293.7" stroke="#555" stroke-width="0.5" />
<line x1="474.4" y1="295.2" x2="474.4" y2="289.3" stroke="#6a6a6a" stroke-width="0.6"/>
<line x1="473.6" y1="293.7" x2="475.2" y2="293.7" stroke="#555" stroke-width="0.5" />
<line x1="530.3" y1="295.2" x2="530.3" y2="284.4" stroke="#6a6a6a" stroke-width="0.6"/>
<line x1="529.5" y1="293.7" x2="531.1" y2="293.7" stroke="#555" stroke-width="0.5" />
<line x1="558.3" y1="295.2" x2="558.3" y2="286.8" stroke="#6a6a6a" stroke-width="0.6"/>
<line x1="557.5" y1="293.7" x2="559.1" y2="293.7" stroke="#555" stroke-width="0.5" />
<line x1="586.3" y1="295.2" x2="586.3" y2="288.1" stroke="#6a6a6a" stroke-width="0.6"/>
<line x1="585.5" y1="293.7" x2="587.1" y2="293.7" stroke="#555" stroke-width="0.5" />
<line x1="614.3" y1="295.2" x2="614.3" y2="286.6" stroke="#6a6a6a" stroke-width="0.6"/>
<line x1="613.5" y1="293.7" x2="615.1" y2="293.7" stroke="#555" stroke-width="0.5" />
<line x1="446.4" y1="309.4" x2="446.4" y2="300.6" stroke="#6a6a6a" stroke-width="0.6"/>
<line x1="445.6" y1="307.9" x2="447.2" y2="307.9" stroke="#555" stroke-width="0.5" />
<line x1="474.4" y1="309.4" x2="474.4" y2="301.8" stroke="#6a6a6a" stroke-width="0.6"/>
<line x1="473.6" y1="307.9" x2="475.2" y2="307.9" stroke="#555" stroke-width="0.5" />
<line x1="530.3" y1="309.4" x2="530.3" y2="299.4" stroke="#6a6a6a" stroke-width="0.6"/>
<line x1="529.5" y1="307.9" x2="531.1" y2="307.9" stroke="#555" stroke-width="0.5" />
<line x1="586.3" y1="309.4" x2="586.3" y2="301.4" stroke="#6a6a6a" stroke-width="0.6"/>
<line x1="585.5" y1="307.9" x2="587.1" y2="307.9" stroke="#555" stroke-width="0.5" />
<line x1="614.3" y1="309.4" x2="614.3" y2="298.7" stroke="#6a6a6a" stroke-width="0.6"/>
<line x1="613.5" y1="307.9" x2="615.1" y2="307.9" stroke="#555" stroke-width="0.5" />
<line x1="446.4" y1="323.6" x2="446.4" y2="313.9" stroke="#6a6a6a" stroke-width="0.6"/>
<line x1="445.6" y1="322.1" x2="447.2" y2="322.1" stroke="#555" stroke-width="0.5" />
<line x1="474.4" y1="323.6" x2="474.4" y2="314.3" stroke="#6a6a6a" stroke-width="0.6"/>
<line x1="473.6" y1="322.1" x2="475.2" y2="322.1" stroke="#555" stroke-width="0.5" />
<line x1="502.4" y1="323.6" x2="502.4" y2="317.3" stroke="#6a6a6a" stroke-width="0.6"/>
<line x1="501.6" y1="322.1" x2="503.2" y2="322.1" stroke="#555" stroke-width="0.5" />
<line x1="530.3" y1="323.6" x2="530.3" y2="314.2" stroke="#6a6a6a" stroke-width="0.6"/>
<line x1="529.5" y1="322.1" x2="531.1" y2="322.1" stroke="#555" stroke-width="0.5" />
<line x1="586.3" y1="323.6" x2="586.3" y2="312.7" stroke="#6a6a6a" stroke-width="0.6"/>
<line x1="585.5" y1="322.1" x2="587.1" y2="322.1" stroke="#555" stroke-width="0.5" />
<line x1="614.3" y1="323.6" x2="614.3" y2="313.6" stroke="#6a6a6a" stroke-width="0.6"/>
<line x1="613.5" y1="322.1" x2="615.1" y2="322.1" stroke="#555" stroke-width="0.5" />
<line x1="474.4" y1="337.9" x2="474.4" y2="332.2" stroke="#6a6a6a" stroke-width="0.6"/>
<line x1="473.6" y1="336.4" x2="475.2" y2="336.4" stroke="#555" stroke-width="0.5" />
<line x1="586.3" y1="337.9" x2="586.3" y2="330.9" stroke="#6a6a6a" stroke-width="0.6"/>
<line x1="585.5" y1="336.4" x2="587.1" y2="336.4" stroke="#555" stroke-width="0.5" />
<line x1="614.3" y1="337.9" x2="614.3" y2="332.5" stroke="#6a6a6a" stroke-width="0.6"/>
<line x1="613.5" y1="336.4" x2="615.1" y2="336.4" stroke="#555" stroke-width="0.5" />
<line x1="446.4" y1="352.1" x2="446.4" y2="342.9" stroke="#6a6a6a" stroke-width="0.6"/>
<line x1="445.6" y1="350.6" x2="447.2" y2="350.6" stroke="#555" stroke-width="0.5" />
<line x1="474.4" y1="352.1" x2="474.4" y2="341.7" stroke="#6a6a6a" stroke-width="0.6"/>
<line x1="473.6" y1="350.6" x2="475.2" y2="350.6" stroke="#555" stroke-width="0.5" />
<line x1="558.3" y1="352.1" x2="558.3" y2="342.8" stroke="#6a6a6a" stroke-width="0.6"/>
<line x1="557.5" y1="350.6" x2="559.1" y2="350.6" stroke="#555" stroke-width="0.5" />
<line x1="586.3" y1="352.1" x2="586.3" y2="342.9" stroke="#6a6a6a" stroke-width="0.6"/>
<line x1="585.5" y1="350.6" x2="587.1" y2="350.6" stroke="#555" stroke-width="0.5" />
<line x1="614.3" y1="352.1" x2="614.3" y2="343.6" stroke="#6a6a6a" stroke-width="0.6"/>
<line x1="613.5" y1="350.6" x2="615.1" y2="350.6" stroke="#555" stroke-width="0.5" />
<line x1="474.4" y1="366.4" x2="474.4" y2="356.8" stroke="#6a6a6a" stroke-width="0.6"/>
<line x1="473.6" y1="364.9" x2="475.2" y2="364.9" stroke="#555" stroke-width="0.5" />
<line x1="586.3" y1="366.4" x2="586.3" y2="357.8" stroke="#6a6a6a" stroke-width="0.6"/>
<line x1="585.5" y1="364.9" x2="587.1" y2="364.9" stroke="#555" stroke-width="0.5" />
<line x1="614.3" y1="366.4" x2="614.3" y2="356.4" stroke="#6a6a6a" stroke-width="0.6"/>
<line x1="613.5" y1="364.9" x2="615.1" y2="364.9" stroke="#555" stroke-width="0.5" />
<line x1="446.4" y1="380.6" x2="446.4" y2="374.3" stroke="#6a6a6a" stroke-width="0.6"/>
<line x1="445.6" y1="379.1" x2="447.2" y2="379.1" stroke="#555" stroke-width="0.5" />
<line x1="502.4" y1="380.6" x2="502.4" y2="372.5" stroke="#6a6a6a" stroke-width="0.6"/>
<line x1="501.6" y1="379.1" x2="503.2" y2="379.1" stroke="#555" stroke-width="0.5" />
<line x1="530.3" y1="380.6" x2="530.3" y2="371.6" stroke="#6a6a6a" stroke-width="0.6"/>
<line x1="529.5" y1="379.1" x2="531.1" y2="379.1" stroke="#555" stroke-width="0.5" />
<line x1="614.3" y1="380.6" x2="614.3" y2="374.8" stroke="#6a6a6a" stroke-width="0.6"/>
<line x1="613.5" y1="379.1" x2="615.1" y2="379.1" stroke="#555" stroke-width="0.5" />
<line x1="558.3" y1="394.8" x2="558.3" y2="386.2" stroke="#6a6a6a" stroke-width="0.6"/>
<line x1="557.5" y1="393.3" x2="559.1" y2="393.3" stroke="#555" stroke-width="0.5" />
<line x1="586.3" y1="394.8" x2="586.3" y2="384.2" stroke="#6a6a6a" stroke-width="0.6"/>
<line x1="585.5" y1="393.3" x2="587.1" y2="393.3" stroke="#555" stroke-width="0.5" />
<line x1="446.4" y1="409.1" x2="446.4" y2="403.2" stroke="#6a6a6a" stroke-width="0.6"/>
<line x1="445.6" y1="407.6" x2="447.2" y2="407.6" stroke="#555" stroke-width="0.5" />
<line x1="502.4" y1="409.1" x2="502.4" y2="399.5" stroke="#6a6a6a" stroke-width="0.6"/>
<line x1="501.6" y1="407.6" x2="503.2" y2="407.6" stroke="#555" stroke-width="0.5" />
<line x1="530.3" y1="409.1" x2="530.3" y2="399.6" stroke="#6a6a6a" stroke-width="0.6"/>
<line x1="529.5" y1="407.6" x2="531.1" y2="407.6" stroke="#555" stroke-width="0.5" />
<line x1="558.3" y1="409.1" x2="558.3" y2="398.6" stroke="#6a6a6a" stroke-width="0.6"/>
<line x1="557.5" y1="407.6" x2="559.1" y2="407.6" stroke="#555" stroke-width="0.5" />
<line x1="586.3" y1="409.1" x2="586.3" y2="398.2" stroke="#6a6a6a" stroke-width="0.6"/>
<line x1="585.5" y1="407.6" x2="587.1" y2="407.6" stroke="#555" stroke-width="0.5" />
<line x1="614.3" y1="409.1" x2="614.3" y2="400.0" stroke="#6a6a6a" stroke-width="0.6"/>
<line x1="613.5" y1="407.6" x2="615.1" y2="407.6" stroke="#555" stroke-width="0.5" />
<line x1="502.4" y1="423.3" x2="502.4" y2="414.5" stroke="#6a6a6a" stroke-width="0.6"/>
<line x1="501.6" y1="421.8" x2="503.2" y2="421.8" stroke="#555" stroke-width="0.5" />
<line x1="530.3" y1="423.3" x2="530.3" y2="415.2" stroke="#6a6a6a" stroke-width="0.6"/>
<line x1="529.5" y1="421.8" x2="531.1" y2="421.8" stroke="#555" stroke-width="0.5" />
<line x1="586.3" y1="423.3" x2="586.3" y2="415.4" stroke="#6a6a6a" stroke-width="0.6"/>
<line x1="585.5" y1="421.8" x2="587.1" y2="421.8" stroke="#555" stroke-width="0.5" />
<line x1="614.3" y1="423.3" x2="614.3" y2="414.5" stroke="#6a6a6a" stroke-width="0.6"/>
<line x1="613.5" y1="421.8" x2="615.1" y2="421.8" stroke="#555" stroke-width="0.5" />
<line x1="586.3" y1="210.7" x2="586.3" y2="198.5" stroke="#6a6a6a" stroke-width="0.5"/>
<path d="M597.8,210.7 L596.3,210.0 L594.6,208.6 L592.3,206.5 L590.6,203.6 L589.3,200.8 L588.1,198.6 L586.3,197.4 L586.3,197.4 L584.5,198.6 L583.3,200.8 L582.0,203.6 L580.3,206.5 L578.0,208.6 L576.3,210.0 L574.8,210.7Z" fill="#f8766d" stroke="#222" stroke-width="0.5" stroke-linejoin="round"/>
<line x1="614.3" y1="210.7" x2="614.3" y2="198.5" stroke="#6a6a6a" stroke-width="0.5"/>
<path d="M615.8,210.7 L616.3,209.3 L617.3,208.3 L620.8,207.0 L625.8,205.8 L627.0,204.3 L626.8,202.5 L624.3,200.8 L619.3,199.3 L616.3,198.5 L614.3,197.6 L614.3,197.6 L612.3,198.5 L609.3,199.3 L604.3,200.8 L601.8,202.5 L601.6,204.3 L602.8,205.8 L607.8,207.0 L611.3,208.3 L612.3,209.3 L612.8,210.7Z" fill="#f8766d" stroke="#222" stroke-width="0.5" stroke-linejoin="round"/>
<line x1="440.4" y1="224.8" x2="452.4" y2="224.8" stroke="#222" stroke-width="1.2" />
<line x1="468.4" y1="224.8" x2="480.4" y2="224.8" stroke="#222" stroke-width="1.2" />
<line x1="496.4" y1="224.8" x2="508.4" y2="224.8" stroke="#222" stroke-width="1.2" />
<line x1="524.3" y1="224.8" x2="536.3" y2="224.8" stroke="#222" stroke-width="1.2" />
<line x1="552.3" y1="224.8" x2="564.3" y2="224.8" stroke="#222" stroke-width="1.2" />
<line x1="580.3" y1="224.8" x2="592.3" y2="224.8" stroke="#222" stroke-width="1.2" />
<line x1="614.3" y1="225.0" x2="614.3" y2="212.7" stroke="#6a6a6a" stroke-width="0.5"/>
<line x1="601.5" y1="224.8" x2="627.1" y2="224.8" stroke="#222" stroke-width="1.2" />
<path d="M620.8,225.0 L618.3,224.3 L617.8,223.3 L619.6,221.6 L617.3,220.4 L616.1,218.6 L615.5,216.4 L614.3,212.6 L614.3,212.6 L613.1,216.4 L612.5,218.6 L611.3,220.4 L609.0,221.6 L610.8,223.3 L610.3,224.3 L607.8,225.0Z" fill="#e68613" stroke="#222" stroke-width="0.5" stroke-linejoin="round"/>
<line x1="586.3" y1="239.2" x2="586.3" y2="227.0" stroke="#6a6a6a" stroke-width="0.5"/>
<path d="M598.3,239.2 L597.8,238.6 L591.3,238.1 L595.3,237.2 L593.8,236.1 L590.5,234.7 L592.1,233.2 L591.3,231.4 L588.8,229.2 L587.5,227.1 L586.3,225.4 L586.3,225.4 L585.1,227.1 L583.8,229.2 L581.3,231.4 L580.5,233.2 L582.1,234.7 L578.8,236.1 L577.3,237.2 L581.3,238.1 L574.8,238.6 L574.3,239.2Z" fill="#cd9600" stroke="#222" stroke-width="0.5" stroke-linejoin="round"/>
<line x1="499.4" y1="253.3" x2="505.4" y2="253.3" stroke="#222" stroke-width="1.2" />
<line x1="558.3" y1="253.5" x2="558.3" y2="241.2" stroke="#6a6a6a" stroke-width="0.5"/>
<line x1="548.3" y1="253.3" x2="568.3" y2="253.3" stroke="#222" stroke-width="1.2" />
<path d="M562.3,253.5 L561.3,252.6 L559.8,251.7 L560.8,250.3 L559.3,249.2 L558.3,247.8 L558.3,247.8 L557.3,249.2 L555.8,250.3 L556.8,251.7 L555.3,252.6 L554.3,253.5Z" fill="#aba300" stroke="#222" stroke-width="0.5" stroke-linejoin="round"/>
<line x1="586.3" y1="253.5" x2="586.3" y2="241.2" stroke="#6a6a6a" stroke-width="0.5"/>
<path d="M587.3,253.5 L588.3,251.6 L590.8,249.9 L593.8,248.5 L597.8,246.3 L599.1,244.6 L597.3,243.2 L593.3,241.8 L589.3,240.6 L586.3,239.9 L586.3,239.9 L583.3,240.6 L579.3,241.8 L575.3,243.2 L573.5,244.6 L574.8,246.3 L578.8,248.5 L581.8,249.9 L584.3,251.6 L585.3,253.5Z" fill="#aba300" stroke="#222" stroke-width="0.5" stroke-linejoin="round"/>
<line x1="614.3" y1="253.5" x2="614.3" y2="241.2" stroke="#6a6a6a" stroke-width="0.5"/>
<line x1="602.9" y1="253.3" x2="625.7" y2="253.3" stroke="#222" stroke-width="1.2" />
<path d="M618.8,253.5 L618.3,252.0 L617.1,249.9 L616.1,247.8 L615.3,245.6 L614.3,243.5 L614.3,243.5 L613.3,245.6 L612.5,247.8 L611.5,249.9 L610.3,252.0 L609.8,253.5Z" fill="#aba300" stroke="#222" stroke-width="0.5" stroke-linejoin="round"/>
<line x1="474.4" y1="267.7" x2="474.4" y2="255.4" stroke="#6a6a6a" stroke-width="0.5"/>
<line x1="462.4" y1="267.5" x2="486.4" y2="267.5" stroke="#222" stroke-width="1.2" />
<path d="M478.4,267.7 L479.4,266.5 L480.6,264.8 L480.4,262.7 L478.9,260.6 L476.9,258.4 L474.4,257.0 L474.4,257.0 L471.9,258.4 L469.9,260.6 L468.4,262.7 L468.2,264.8 L469.4,266.5 L470.4,267.7Z" fill="#7cae00" stroke="#222" stroke-width="0.5" stroke-linejoin="round"/>
<line x1="530.3" y1="267.7" x2="530.3" y2="255.4" stroke="#6a6a6a" stroke-width="0.5"/>
<line x1="519.3" y1="267.5" x2="541.3" y2="267.5" stroke="#222" stroke-width="1.2" />
<path d="M532.3,267.7 L533.8,266.5 L533.8,265.1 L532.3,262.7 L531.3,260.6 L530.3,258.4 L530.3,258.4 L529.3,260.6 L528.3,262.7 L526.8,265.1 L526.8,266.5 L528.3,267.7Z" fill="#7cae00" stroke="#222" stroke-width="0.5" stroke-linejoin="round"/>
<line x1="558.3" y1="267.7" x2="558.3" y2="255.4" stroke="#6a6a6a" stroke-width="0.5"/>
<path d="M562.3,267.7 L560.3,267.0 L560.8,265.6 L563.8,263.4 L568.3,261.3 L570.9,259.1 L569.3,257.4 L565.3,256.0 L561.3,254.9 L558.3,254.2 L558.3,254.2 L555.3,254.9 L551.3,256.0 L547.3,257.4 L545.7,259.1 L548.3,261.3 L552.8,263.4 L555.8,265.6 L556.3,267.0 L554.3,267.7Z" fill="#7cae00" stroke="#222" stroke-width="0.5" stroke-linejoin="round"/>
<line x1="586.3" y1="267.7" x2="586.3" y2="255.4" stroke="#6a6a6a" stroke-width="0.5"/>
<path d="M590.3,267.7 L588.3,267.0 L588.8,265.6 L591.8,263.4 L596.3,261.3 L598.8,259.1 L597.3,257.4 L593.3,256.0 L589.3,254.9 L586.3,254.2 L586.3,254.2 L583.3,254.9 L579.3,256.0 L575.3,257.4 L573.8,259.1 L576.3,261.3 L580.8,263.4 L583.8,265.6 L584.3,267.0 L582.3,267.7Z" fill="#7cae00" stroke="#222" stroke-width="0.5" stroke-linejoin="round"/>
<line x1="558.3" y1="281.9" x2="558.3" y2="269.7" stroke="#6a6a6a" stroke-width="0.5"/>
<line x1="547.6" y1="281.7" x2="569.0" y2="281.7" stroke="#222" stroke-width="1.2" />
<path d="M561.3,281.9 L562.3,280.9 L564.3,279.8 L564.1,277.7 L562.5,275.5 L561.5,273.0 L560.3,270.8 L558.3,268.8 L558.3,268.8 L556.3,270.8 L555.1,273.0 L554.1,275.5 L552.5,277.7 L552.3,279.8 L554.3,280.9 L555.3,281.9Z" fill="#0cb702" stroke="#222" stroke-width="0.5" stroke-linejoin="round"/>
<line x1="586.3" y1="281.9" x2="586.3" y2="269.7" stroke="#6a6a6a" stroke-width="0.5"/>
<line x1="574.3" y1="281.7" x2="598.3" y2="281.7" stroke="#222" stroke-width="1.2" />
<path d="M590.3,281.9 L592.3,280.8 L595.8,279.1 L596.5,277.1 L593.3,274.8 L590.8,273.0 L588.8,270.5 L586.3,268.8 L586.3,268.8 L583.8,270.5 L581.8,273.0 L579.3,274.8 L576.1,277.1 L576.8,279.1 L580.3,280.8 L582.3,281.9Z" fill="#0cb702" stroke="#222" stroke-width="0.5" stroke-linejoin="round"/>
<line x1="440.4" y1="296.0" x2="452.4" y2="296.0" stroke="#222" stroke-width="1.2" />
<line x1="468.4" y1="296.0" x2="480.4" y2="296.0" stroke="#222" stroke-width="1.2" />
<line x1="502.4" y1="296.2" x2="502.4" y2="283.9" stroke="#6a6a6a" stroke-width="0.5"/>
<line x1="491.9" y1="296.0" x2="512.9" y2="296.0" stroke="#222" stroke-width="1.2" />
<path d="M504.4,296.2 L507.9,295.7 L504.4,295.0 L503.6,293.3 L504.2,291.2 L504.6,289.0 L504.4,286.9 L503.6,284.8 L502.4,282.5 L502.4,282.5 L501.2,284.8 L500.4,286.9 L500.2,289.0 L500.6,291.2 L501.2,293.3 L500.4,295.0 L496.9,295.7 L500.4,296.2Z" fill="#00be67" stroke="#222" stroke-width="0.5" stroke-linejoin="round"/>
<line x1="524.3" y1="296.0" x2="536.3" y2="296.0" stroke="#222" stroke-width="1.2" />
<line x1="552.3" y1="296.0" x2="564.3" y2="296.0" stroke="#222" stroke-width="1.2" />
<line x1="580.3" y1="296.0" x2="592.3" y2="296.0" stroke="#222" stroke-width="1.2" />
<line x1="608.3" y1="296.0" x2="620.3" y2="296.0" stroke="#222" stroke-width="1.2" />
<line x1="502.4" y1="310.4" x2="502.4" y2="298.2" stroke="#6a6a6a" stroke-width="0.5"/>
<line x1="490.4" y1="310.2" x2="514.4" y2="310.2" stroke="#222" stroke-width="1.2" />
<path d="M503.9,310.4 L503.9,308.3 L502.4,306.1 L502.4,306.1 L500.9,308.3 L500.9,310.4Z" fill="#00c19a" stroke="#222" stroke-width="0.5" stroke-linejoin="round"/>
<line x1="558.3" y1="310.4" x2="558.3" y2="298.2" stroke="#6a6a6a" stroke-width="0.5"/>
<line x1="545.7" y1="310.2" x2="570.9" y2="310.2" stroke="#222" stroke-width="1.2" />
<path d="M560.3,310.4 L564.3,309.7 L562.3,308.7 L560.5,307.6 L560.3,306.1 L559.8,303.3 L559.3,300.4 L558.3,297.9 L558.3,297.9 L557.3,300.4 L556.8,303.3 L556.3,306.1 L556.1,307.6 L554.3,308.7 L552.3,309.7 L556.3,310.4Z" fill="#00c19a" stroke="#222" stroke-width="0.5" stroke-linejoin="round"/>
<line x1="558.3" y1="324.6" x2="558.3" y2="312.4" stroke="#6a6a6a" stroke-width="0.5"/>
<line x1="546.3" y1="324.4" x2="570.3" y2="324.4" stroke="#222" stroke-width="1.2" />
<path d="M562.3,324.6 L562.8,323.2 L564.3,321.5 L567.8,319.7 L569.1,317.5 L569.0,316.0 L565.3,314.4 L561.3,313.0 L558.3,311.8 L558.3,311.8 L555.3,313.0 L551.3,314.4 L547.6,316.0 L547.5,317.5 L548.8,319.7 L552.3,321.5 L553.8,323.2 L554.3,324.6Z" fill="#00bfc4" stroke="#222" stroke-width="0.5" stroke-linejoin="round"/>
<line x1="446.4" y1="338.9" x2="446.4" y2="326.6" stroke="#6a6a6a" stroke-width="0.5"/>
<line x1="441.4" y1="338.7" x2="451.4" y2="338.7" stroke="#222" stroke-width="1.2" />
<path d="M448.9,338.9 L448.4,337.7 L446.4,336.7 L446.4,336.7 L444.4,337.7 L443.9,338.9Z" fill="#00b8e7" stroke="#222" stroke-width="0.5" stroke-linejoin="round"/>
<line x1="502.4" y1="338.9" x2="502.4" y2="326.6" stroke="#6a6a6a" stroke-width="0.5"/>
<line x1="491.9" y1="338.7" x2="512.9" y2="338.7" stroke="#222" stroke-width="1.2" />
<path d="M504.4,338.9 L507.4,338.2 L508.4,337.2 L506.9,335.3 L505.4,333.2 L504.4,331.0 L502.4,328.3 L502.4,328.3 L500.4,331.0 L499.4,333.2 L497.9,335.3 L496.4,337.2 L497.4,338.2 L500.4,338.9Z" fill="#00b8e7" stroke="#222" stroke-width="0.5" stroke-linejoin="round"/>
<line x1="530.3" y1="338.9" x2="530.3" y2="326.6" stroke="#6a6a6a" stroke-width="0.5"/>
<path d="M531.3,338.9 L531.3,337.5 L532.3,336.0 L535.8,333.9 L540.3,331.8 L542.3,330.0 L540.3,328.6 L535.3,327.5 L530.3,326.6 L530.3,326.6 L525.3,327.5 L520.3,328.6 L518.3,330.0 L520.3,331.8 L524.8,333.9 L528.3,336.0 L529.3,337.5 L529.3,338.9Z" fill="#00b8e7" stroke="#222" stroke-width="0.5" stroke-linejoin="round"/>
<line x1="558.3" y1="338.9" x2="558.3" y2="326.6" stroke="#6a6a6a" stroke-width="0.5"/>
<line x1="551.3" y1="338.7" x2="565.3" y2="338.7" stroke="#222" stroke-width="1.2" />
<path d="M559.8,338.9 L559.3,337.5 L558.3,336.0 L558.3,336.0 L557.3,337.5 L556.8,338.9Z" fill="#00b8e7" stroke="#222" stroke-width="0.5" stroke-linejoin="round"/>
<line x1="502.4" y1="353.1" x2="502.4" y2="340.9" stroke="#6a6a6a" stroke-width="0.5"/>
<line x1="496.4" y1="352.9" x2="508.4" y2="352.9" stroke="#222" stroke-width="1.2" />
<path d="M504.4,353.1 L504.9,351.7 L504.9,349.7 L503.6,347.4 L502.4,344.6 L502.4,344.6 L501.2,347.4 L499.9,349.7 L499.9,351.7 L500.4,353.1Z" fill="#00a9ff" stroke="#222" stroke-width="0.5" stroke-linejoin="round"/>
<line x1="530.3" y1="353.1" x2="530.3" y2="340.9" stroke="#6a6a6a" stroke-width="0.5"/>
<path d="M531.3,353.1 L532.3,352.0 L534.3,350.3 L538.3,348.1 L541.8,346.0 L542.9,344.6 L540.3,342.9 L535.3,341.0 L530.3,339.6 L530.3,339.6 L525.3,341.0 L520.3,342.9 L517.7,344.6 L518.8,346.0 L522.3,348.1 L526.3,350.3 L528.3,352.0 L529.3,353.1Z" fill="#00a9ff" stroke="#222" stroke-width="0.5" stroke-linejoin="round"/>
<line x1="446.4" y1="367.4" x2="446.4" y2="355.1" stroke="#6a6a6a" stroke-width="0.5"/>
<line x1="434.4" y1="367.2" x2="458.4" y2="367.2" stroke="#222" stroke-width="1.2" />
<path d="M449.4,367.4 L449.9,366.5 L448.4,365.6 L447.7,363.8 L447.2,360.9 L446.4,357.4 L446.4,357.4 L445.6,360.9 L445.1,363.8 L444.4,365.6 L442.9,366.5 L443.4,367.4Z" fill="#8494ff" stroke="#222" stroke-width="0.5" stroke-linejoin="round"/>
<line x1="502.4" y1="367.4" x2="502.4" y2="355.1" stroke="#6a6a6a" stroke-width="0.5"/>
<path d="M514.4,367.4 L513.4,366.6 L509.4,365.2 L507.9,363.1 L508.2,360.9 L511.4,358.8 L514.4,357.1 L513.4,355.7 L508.4,354.5 L502.4,354.1 L502.4,354.1 L496.4,354.5 L491.4,355.7 L490.4,357.1 L493.4,358.8 L496.6,360.9 L496.9,363.1 L495.4,365.2 L491.4,366.6 L490.4,367.4Z" fill="#8494ff" stroke="#222" stroke-width="0.5" stroke-linejoin="round"/>
<line x1="530.3" y1="367.4" x2="530.3" y2="355.1" stroke="#6a6a6a" stroke-width="0.5"/>
<path d="M531.3,367.4 L531.8,365.2 L532.8,363.1 L535.3,360.9 L539.3,358.8 L542.3,357.1 L540.3,356.0 L530.3,354.8 L530.3,354.8 L520.3,356.0 L518.3,357.1 L521.3,358.8 L525.3,360.9 L527.8,363.1 L528.8,365.2 L529.3,367.4Z" fill="#8494ff" stroke="#222" stroke-width="0.5" stroke-linejoin="round"/>
<line x1="558.3" y1="367.4" x2="558.3" y2="355.1" stroke="#6a6a6a" stroke-width="0.5"/>
<line x1="545.8" y1="367.2" x2="570.8" y2="367.2" stroke="#222" stroke-width="1.2" />
<path d="M559.8,367.4 L559.8,365.2 L559.3,363.1 L558.3,360.2 L558.3,360.2 L557.3,363.1 L556.8,365.2 L556.8,367.4Z" fill="#8494ff" stroke="#222" stroke-width="0.5" stroke-linejoin="round"/>
<line x1="580.3" y1="367.2" x2="592.3" y2="367.2" stroke="#222" stroke-width="1.2" />
<line x1="608.3" y1="367.2" x2="620.3" y2="367.2" stroke="#222" stroke-width="1.2" />
<line x1="474.4" y1="381.6" x2="474.4" y2="369.4" stroke="#6a6a6a" stroke-width="0.5"/>
<path d="M477.4,381.6 L476.4,380.4 L477.4,379.0 L482.4,377.3 L484.4,376.3 L481.4,375.3 L484.4,374.2 L486.8,373.0 L485.4,371.3 L480.4,369.5 L474.4,367.9 L474.4,367.9 L468.4,369.5 L463.4,371.3 L462.0,373.0 L464.4,374.2 L467.4,375.3 L464.4,376.3 L466.4,377.3 L471.4,379.0 L472.4,380.4 L471.4,381.6Z" fill="#c77cff" stroke="#222" stroke-width="0.5" stroke-linejoin="round"/>
<line x1="558.3" y1="381.6" x2="558.3" y2="369.4" stroke="#6a6a6a" stroke-width="0.5"/>
<line x1="545.8" y1="381.4" x2="570.8" y2="381.4" stroke="#222" stroke-width="1.2" />
<path d="M561.3,381.6 L564.3,380.7 L560.8,379.9 L561.3,378.5 L563.3,377.0 L560.3,375.9 L559.5,373.8 L558.3,371.3 L558.3,371.3 L557.1,373.8 L556.3,375.9 L553.3,377.0 L555.3,378.5 L555.8,379.9 L552.3,380.7 L555.3,381.6Z" fill="#c77cff" stroke="#222" stroke-width="0.5" stroke-linejoin="round"/>
<line x1="586.3" y1="381.6" x2="586.3" y2="369.4" stroke="#6a6a6a" stroke-width="0.5"/>
<line x1="573.8" y1="381.4" x2="598.8" y2="381.4" stroke="#222" stroke-width="1.2" />
<path d="M589.3,381.6 L593.3,380.7 L589.3,379.6 L590.3,378.0 L592.3,377.0 L589.3,375.6 L587.8,373.8 L586.3,372.0 L586.3,372.0 L584.8,373.8 L583.3,375.6 L580.3,377.0 L582.3,378.0 L583.3,379.6 L579.3,380.7 L583.3,381.6Z" fill="#c77cff" stroke="#222" stroke-width="0.5" stroke-linejoin="round"/>
<line x1="446.4" y1="395.8" x2="446.4" y2="383.6" stroke="#6a6a6a" stroke-width="0.5"/>
<line x1="436.4" y1="395.6" x2="456.4" y2="395.6" stroke="#222" stroke-width="1.2" />
<path d="M449.4,395.8 L450.4,394.7 L451.4,393.0 L450.9,391.6 L448.4,390.1 L446.4,388.0 L446.4,388.0 L444.4,390.1 L441.9,391.6 L441.4,393.0 L442.4,394.7 L443.4,395.8Z" fill="#ed68ed" stroke="#222" stroke-width="0.5" stroke-linejoin="round"/>
<line x1="474.4" y1="395.8" x2="474.4" y2="383.6" stroke="#6a6a6a" stroke-width="0.5"/>
<path d="M475.9,395.8 L475.4,393.8 L477.4,392.3 L481.4,390.1 L485.4,388.0 L486.9,385.9 L484.4,384.4 L479.4,383.3 L474.4,382.6 L474.4,382.6 L469.4,383.3 L464.4,384.4 L461.9,385.9 L463.4,388.0 L467.4,390.1 L471.4,392.3 L473.4,393.8 L472.9,395.8Z" fill="#ed68ed" stroke="#222" stroke-width="0.5" stroke-linejoin="round"/>
<line x1="502.4" y1="395.8" x2="502.4" y2="383.6" stroke="#6a6a6a" stroke-width="0.5"/>
<line x1="492.4" y1="395.6" x2="512.4" y2="395.6" stroke="#222" stroke-width="1.2" />
<path d="M504.4,395.8 L504.4,393.7 L503.4,391.6 L502.4,387.3 L502.4,387.3 L501.4,391.6 L500.4,393.7 L500.4,395.8Z" fill="#ed68ed" stroke="#222" stroke-width="0.5" stroke-linejoin="round"/>
<line x1="530.3" y1="395.8" x2="530.3" y2="383.6" stroke="#6a6a6a" stroke-width="0.5"/>
<line x1="520.3" y1="395.6" x2="540.3" y2="395.6" stroke="#222" stroke-width="1.2" />
<path d="M532.3,395.8 L533.3,394.1 L533.3,392.3 L531.8,390.1 L530.3,386.6 L530.3,386.6 L528.8,390.1 L527.3,392.3 L527.3,394.1 L528.3,395.8Z" fill="#ed68ed" stroke="#222" stroke-width="0.5" stroke-linejoin="round"/>
<line x1="614.3" y1="395.8" x2="614.3" y2="383.6" stroke="#6a6a6a" stroke-width="0.5"/>
<line x1="602.8" y1="395.6" x2="625.8" y2="395.6" stroke="#222" stroke-width="1.2" />
<path d="M616.8,395.8 L617.3,394.4 L617.3,391.6 L615.8,389.4 L614.3,384.7 L614.3,384.7 L612.8,389.4 L611.3,391.6 L611.3,394.4 L611.8,395.8Z" fill="#ed68ed" stroke="#222" stroke-width="0.5" stroke-linejoin="round"/>
<line x1="474.4" y1="410.1" x2="474.4" y2="397.8" stroke="#6a6a6a" stroke-width="0.5"/>
<line x1="462.4" y1="409.9" x2="486.4" y2="409.9" stroke="#222" stroke-width="1.2" />
<path d="M483.4,410.1 L485.4,409.4 L486.4,408.4 L484.9,407.2 L481.4,405.1 L478.9,402.9 L476.9,400.8 L474.4,398.4 L474.4,398.4 L471.9,400.8 L469.9,402.9 L467.4,405.1 L463.9,407.2 L462.4,408.4 L463.4,409.4 L465.4,410.1Z" fill="#ff61cc" stroke="#222" stroke-width="0.5" stroke-linejoin="round"/>
<line x1="446.4" y1="424.3" x2="446.4" y2="412.1" stroke="#6a6a6a" stroke-width="0.5"/>
<path d="M446.4,420.7 L449.4,419.3 L453.4,417.9 L457.4,416.5 L458.8,415.6 L456.4,414.6 L451.4,413.2 L446.4,411.3 L446.4,411.3 L441.4,413.2 L436.4,414.6 L434.0,415.6 L435.4,416.5 L439.4,417.9 L443.4,419.3 L446.4,420.7Z" fill="#ff68a1" stroke="#222" stroke-width="0.5" stroke-linejoin="round"/>
<line x1="474.4" y1="424.3" x2="474.4" y2="412.1" stroke="#6a6a6a" stroke-width="0.5"/>
<line x1="463.4" y1="424.1" x2="485.4" y2="424.1" stroke="#222" stroke-width="1.2" />
<path d="M481.9,424.3 L481.4,422.9 L479.4,420.0 L477.4,417.2 L474.4,413.9 L474.4,413.9 L471.4,417.2 L469.4,420.0 L467.4,422.9 L466.9,424.3Z" fill="#ff68a1" stroke="#222" stroke-width="0.5" stroke-linejoin="round"/>
<line x1="558.3" y1="424.3" x2="558.3" y2="412.1" stroke="#6a6a6a" stroke-width="0.5"/>
<line x1="554.3" y1="424.1" x2="562.3" y2="424.1" stroke="#222" stroke-width="1.2" />
<path d="M559.8,424.3 L559.8,422.9 L558.3,421.5 L558.3,421.5 L556.8,422.9 L556.8,424.3Z" fill="#ff68a1" stroke="#222" stroke-width="0.5" stroke-linejoin="round"/>
<line x1="446.4" y1="424.3" x2="446.4" y2="426.8" stroke="#444" stroke-width="0.7" />
<text transform="translate(450.6,429.2) rotate(-90)" font-size="10.4" text-anchor="end" fill="#000">LC</text>
<line x1="474.4" y1="424.3" x2="474.4" y2="426.8" stroke="#444" stroke-width="0.7" />
<text transform="translate(478.6,429.2) rotate(-90)" font-size="10.4" text-anchor="end" fill="#000">cDC1</text>
<line x1="502.4" y1="424.3" x2="502.4" y2="426.8" stroke="#444" stroke-width="0.7" />
<text transform="translate(506.6,429.2) rotate(-90)" font-size="10.4" text-anchor="end" fill="#000">Mono_Mac</text>
<line x1="530.3" y1="424.3" x2="530.3" y2="426.8" stroke="#444" stroke-width="0.7" />
<text transform="translate(534.5,429.2) rotate(-90)" font-size="10.4" text-anchor="end" fill="#000">Mac</text>
<line x1="558.3" y1="424.3" x2="558.3" y2="426.8" stroke="#444" stroke-width="0.7" />
<text transform="translate(562.5,429.2) rotate(-90)" font-size="10.4" text-anchor="end" fill="#000">DC3</text>
<line x1="586.3" y1="424.3" x2="586.3" y2="426.8" stroke="#444" stroke-width="0.7" />
<text transform="translate(590.5,429.2) rotate(-90)" font-size="10.4" text-anchor="end" fill="#000">cDC2</text>
<line x1="614.3" y1="424.3" x2="614.3" y2="426.8" stroke="#444" stroke-width="0.7" />
<text transform="translate(618.5,429.2) rotate(-90)" font-size="10.4" text-anchor="end" fill="#000">CCR7<tspan dy="-3" font-size="6">+</tspan><tspan dy="3"> DC</tspan></text>
<text transform="translate(413.3,306.5) rotate(-90)" font-size="12.4" text-anchor="middle" fill="#000">Expression Level</text>
<text x="2.5" y="425.5" font-size="24.7" fill="#000" >e</text>
<line x1="8.4" y1="446.0" x2="15.4" y2="446.0" stroke="#000" stroke-width="1.5" />
<rect x="15.4" y="437.4" width="44.2" height="16.5" fill="#fff" stroke="#222" stroke-width="0.9"/>
<line x1="59.6" y1="446.0" x2="63.0" y2="446.0" stroke="#000" stroke-width="1.5" />
<polygon points="63,437.4 101.6,437.4 110,445.65 101.6,453.9 63,453.9" fill="#a6a6a6" stroke="#222" stroke-width="0.9"/>
<line x1="110.0" y1="446.0" x2="117.0" y2="446.0" stroke="#000" stroke-width="1.5" />
<text x="37.6" y="449.4" font-size="10.4" text-anchor="middle" font-style="italic" fill="#000" >Il4i1</text>
<text x="84.5" y="449.5" font-size="10.4" text-anchor="middle" fill="#000" >Cre</text>
<text x="61.7" y="471.4" font-size="11.8" text-anchor="middle" fill="#000" >X</text>
<text x="79.7" y="472.8" font-size="8" fill="#000" >loxp</text>
<text x="129.8" y="473.2" font-size="8" fill="#000" >loxp</text>
<text x="34.2" y="483.0" font-size="10.4" font-style="italic" fill="#000" >ROSA26</text>
<line x1="10.2" y1="484.7" x2="84.0" y2="484.7" stroke="#000" stroke-width="1.5" />
<polygon points="83.7,476.8 91,484.4 83.7,492" fill="#8c8c8c" stroke="#222" stroke-width="0.7"/>
<rect x="92" y="477.3" width="42" height="14.2" fill="#4b7fc1" stroke="#222" stroke-width="0.8"/>
<text x="113.0" y="488.7" font-size="10.4" text-anchor="middle" fill="#fff" >Stop</text>
<polygon points="134,476.8 141.5,484.4 134,492" fill="#8c8c8c" stroke="#222" stroke-width="0.7"/>
<rect x="142.5" y="477.3" width="66.5" height="14.2" fill="#7030a0" stroke="#222" stroke-width="0.8"/>
<text x="176.0" y="488.7" font-size="10.4" text-anchor="middle" fill="#fff" >iDTR</text>
<line x1="209.0" y1="484.7" x2="219.6" y2="484.7" stroke="#000" stroke-width="1.5" />
<path d="M205,437.5 C206,432 208,431 210,437 C212,446 215,447 219.5,442" fill="none" stroke="#1b4f6e" stroke-width="1.8"/>
<ellipse cx="251" cy="442" rx="32" ry="17.6" fill="#fff" stroke="#1b4f6e" stroke-width="1.8"/>
<path d="M275.5,431 A8.5,8.5 0 1 1 283.5,436.5" fill="none" stroke="#1b4f6e" stroke-width="1.8"/>
<path d="M283.5,447.5 A8.5,8.5 0 1 1 275.5,453" fill="none" stroke="#1b4f6e" stroke-width="1.8"/>
<text x="226.8" y="446.3" font-size="10" fill="#000" ><tspan font-style="italic">Il4i1</tspan><tspan dy="-3.3" font-size="6.5">Cre</tspan><tspan dy="3.3">DTR</tspan></text>
<text x="228.0" y="471.0" font-size="9.8" fill="#000" >DT</text>
<text x="301.9" y="468.7" font-size="10" fill="#000" >IMQ</text>
<line x1="270.6" y1="472.9" x2="347.2" y2="472.9" stroke="#000" stroke-width="1.4" />
<line x1="232.5" y1="485.9" x2="364.0" y2="485.9" stroke="#000" stroke-width="1.4" />
<polygon points="370.5,485.9 363.0,489.5 363.0,482.3" fill="#000"/>
<line x1="233.2" y1="477.0" x2="233.2" y2="486.5" stroke="#000" stroke-width="1.4" />
<line x1="270.6" y1="477.0" x2="270.6" y2="486.5" stroke="#000" stroke-width="1.4" />
<line x1="308.9" y1="477.0" x2="308.9" y2="486.5" stroke="#000" stroke-width="1.4" />
<line x1="346.7" y1="477.0" x2="346.7" y2="486.5" stroke="#000" stroke-width="1.4" />
<text transform="translate(237.5,494.6) rotate(-32)" font-size="9.6" text-anchor="end" fill="#000">Day 0</text>
<text transform="translate(274.9,494.6) rotate(-32)" font-size="9.6" text-anchor="end" fill="#000">Day 1</text>
<text transform="translate(313.2,494.6) rotate(-32)" font-size="9.6" text-anchor="end" fill="#000">Day 2</text>
<text transform="translate(351.0,494.6) rotate(-32)" font-size="9.6" text-anchor="end" fill="#000">Day 3</text>
<text x="2.4" y="542.1" font-size="24.6" fill="#000" >f</text>
<text x="59.1" y="543.4" font-size="13.75" fill="#000" ><tspan font-style="italic">Il4i1</tspan><tspan dy="-4.6" font-size="8.8">cre</tspan><tspan dy="4.6">DTR+IMQ</tspan></text>
<text x="218.0" y="545.4" font-size="13.9" fill="#000" ><tspan font-style="italic">Il4i1</tspan><tspan dy="-4.6" font-size="8.8">cre</tspan><tspan dy="4.6">DTR+DT+IMQ</tspan></text>
<g transform="translate(0,0)">
<path d="M92.5,588.0 C92.7,587.1 93.2,585.8 94.0,585.2 C94.8,584.6 96.6,584.3 97.0,584.6 C97.4,584.9 96.9,586.0 96.5,587.0 C96.1,588.0 95.4,590.2 94.8,590.8 C94.2,591.4 93.1,591.1 92.7,590.6 C92.3,590.1 92.3,588.9 92.5,588.0Z" fill="#80d03c" />
<path d="M94.5,590.8h0.8" stroke="#80d03c" stroke-width="0.8" />
<path d="M74.7,623.3 C75.9,622.0 77.3,621.3 78.8,620.7 C80.3,620.1 81.9,620.0 83.9,619.7 C86.0,619.4 88.9,618.8 91.1,618.7 C93.3,618.6 95.8,618.6 97.2,619.0 C98.6,619.4 98.9,619.8 99.3,621.2 C99.7,622.6 100.0,625.5 99.8,627.4 C99.6,629.3 99.3,630.7 98.2,632.5 C97.1,634.3 94.8,636.9 93.1,638.1 C91.4,639.3 89.9,639.4 88.0,639.6 C86.1,639.8 83.6,639.4 81.9,639.1 C80.2,638.8 79.2,638.0 77.8,637.6 C76.4,637.2 75.1,636.8 73.7,636.8 C72.3,636.8 70.8,637.1 69.6,637.6 C68.4,638.1 67.4,639.4 66.6,639.6 C65.8,639.9 65.3,639.4 64.5,639.1 C63.6,638.9 62.5,638.3 61.5,638.1 C60.5,637.9 59.8,638.0 58.4,638.1 C57.0,638.2 54.4,638.4 53.3,638.6 C52.2,638.9 51.8,639.2 51.8,639.6 C51.8,640.0 53.7,640.1 53.3,640.7 C52.9,641.3 49.7,642.7 49.2,643.2 C48.7,643.7 49.0,644.0 50.2,643.7 C51.4,643.4 54.0,641.7 56.4,641.2 C58.8,640.7 63.0,641.5 64.5,640.7 C66.0,639.9 64.8,637.8 65.5,636.6 C66.2,635.4 67.6,634.9 68.6,633.5 C69.6,632.1 70.7,630.1 71.7,628.4 C72.7,626.7 73.5,624.6 74.7,623.3Z" fill="#1f5f96" />
<path d="M76.1,632.3h0.8M99.7,627.2h0.8M91.1,624.8h0.8M62.1,639.1h0.8M95.1,634.8h0.8M85.0,631.7h0.8M80.5,633.9h0.8M86.4,620.1h0.8M58.9,640.3h0.8M94.3,623.6h0.8M71.3,634.1h0.8M86.1,631.8h0.8M84.8,631.1h0.8M75.9,627.9h0.8M96.9,626.7h0.8M75.5,630.3h0.8M55.1,638.7h0.8M92.6,637.1h0.8M90.1,619.3h0.8M74.1,635.8h0.8M56.8,638.3h0.8M90.0,628.2h0.8M58.3,640.1h0.8M74.6,633.6h0.8M81.2,622.9h0.8M99.2,628.7h0.8M87.1,632.4h0.8M80.8,634.8h0.8M94.6,634.8h0.8M96.0,621.7h0.8M83.4,637.0h0.8M83.2,632.3h0.8M56.5,640.2h0.8M77.5,629.0h0.8M74.3,628.6h0.8M81.0,621.2h0.8M76.8,626.7h0.8M96.4,626.4h0.8M79.2,628.6h0.8M92.3,620.3h0.8M88.7,633.3h0.8M94.3,625.1h0.8M60.6,639.3h0.8M82.8,625.6h0.8M79.8,632.7h0.8M95.7,635.1h0.8M86.3,619.6h0.8M77.3,622.7h0.8M94.0,626.1h0.8M87.2,633.1h0.8M93.6,635.2h0.8M70.9,630.4h0.8M54.3,638.8h0.8M79.6,630.7h0.8M76.8,634.4h0.8M92.3,621.5h0.8M97.2,631.5h0.8M92.6,635.0h0.8M79.2,623.2h0.8M83.9,622.0h0.8M66.8,638.5h0.8M94.7,633.9h0.8M84.9,636.0h0.8M81.3,626.1h0.8M99.5,628.3h0.8M91.3,625.2h0.8M54.5,641.1h0.8M93.3,629.3h0.8M82.5,623.1h0.8M88.3,634.2h0.8M83.5,635.1h0.8M89.6,622.9h0.8M90.2,625.8h0.8M94.5,636.2h0.8M50.9,643.0h0.8M93.7,635.5h0.8M94.5,627.4h0.8M87.9,639.3h0.8M58.3,639.1h0.8M95.6,619.3h0.8M77.7,635.4h0.8M74.8,631.9h0.8M77.3,635.6h0.8M86.3,627.0h0.8M93.4,621.6h0.8M92.9,624.9h0.8M69.5,635.6h0.8M53.7,638.8h0.8M95.6,624.1h0.8M93.8,631.4h0.8M95.3,628.1h0.8M93.6,629.0h0.8M94.9,634.7h0.8M90.8,636.2h0.8M60.9,640.9h0.8M94.9,622.2h0.8M82.3,630.0h0.8M82.7,630.6h0.8M87.6,628.9h0.8M91.3,628.5h0.8M92.0,638.4h0.8M84.2,624.0h0.8M91.1,631.2h0.8M98.9,627.5h0.8M92.5,630.9h0.8M78.6,622.7h0.8M85.3,623.7h0.8M76.0,630.1h0.8M95.6,633.2h0.8M79.9,626.7h0.8M76.7,623.9h0.8M93.0,632.9h0.8M73.0,631.8h0.8M54.3,639.6h0.8M73.0,632.0h0.8M89.1,622.1h0.8M76.7,635.1h0.8M86.0,622.4h0.8M96.7,632.4h0.8M80.5,622.5h0.8M76.2,633.7h0.8M62.6,638.7h0.8M91.2,630.7h0.8M76.9,635.5h0.8M97.2,627.0h0.8M93.2,625.6h0.8M98.2,625.5h0.8M77.5,636.3h0.8M97.7,627.3h0.8M87.7,629.0h0.8M75.9,629.4h0.8M78.6,628.5h0.8M92.7,634.0h0.8M89.8,623.6h0.8M81.5,631.9h0.8M88.7,631.7h0.8M76.0,626.7h0.8M75.0,625.5h0.8M88.1,635.3h0.8M83.0,635.0h0.8" stroke="#bbcfdf" stroke-width="0.8" opacity="0.9" />
<path d="M63.7,637.7h0.8M64.9,638.9h0.8M88.7,640.2h0.8M71.3,637.5h0.8M51.2,644.7h0.8M47.5,644.3h0.8M60.4,636.0h0.8M73.4,626.2h0.8M67.6,639.4h0.8M47.6,643.2h0.8M97.7,619.8h0.8M99.2,629.0h0.8M82.7,622.5h0.8M47.6,641.6h0.8M72.4,638.2h0.8M74.5,626.7h0.8M52.1,641.5h0.8M53.5,637.2h0.8M96.3,618.0h0.8M81.9,621.1h0.8M48.0,645.2h0.8M53.3,637.8h0.8M56.8,640.8h0.8M73.0,623.8h0.8M85.8,617.4h0.8M97.3,619.2h0.8" stroke="#1f5f96" stroke-width="0.8" />
<path d="M65.5,640.1 C66.5,639.6 69.0,639.4 70.7,639.1 C72.4,638.8 75.1,637.8 75.8,638.1 C76.5,638.4 75.4,639.8 74.7,640.7 C74.0,641.6 72.6,642.5 71.7,643.7 C70.8,644.9 70.1,646.3 69.6,647.8 C69.1,649.3 68.8,651.0 68.6,652.9 C68.3,654.8 68.3,657.6 68.1,659.0 C67.8,660.4 67.9,660.9 67.1,661.1 C66.3,661.3 64.8,660.5 63.5,660.1 C62.2,659.8 60.8,658.4 59.4,659.0 C58.0,659.6 56.1,662.9 55.3,663.6 C54.4,664.3 53.8,664.0 54.3,663.1 C54.8,662.2 57.9,659.0 58.4,658.0 C58.9,657.0 56.9,657.3 57.4,657.0 C57.9,656.7 60.7,657.0 61.5,656.0 C62.3,655.0 61.8,652.6 62.0,650.9 C62.2,649.2 62.6,647.2 63.0,645.8 C63.4,644.3 64.1,643.2 64.5,642.2 C64.9,641.2 64.5,640.6 65.5,640.1Z" fill="#df655d" />
<path d="M58.3,660.2h0.8M67.1,654.9h0.8M67.1,660.7h0.8M66.5,652.8h0.8M60.0,657.8h0.8M73.9,639.9h0.8M63.4,655.3h0.8M64.6,659.2h0.8M68.7,651.7h0.8M66.4,659.4h0.8M66.0,660.1h0.8M58.8,656.8h0.8M67.2,659.8h0.8M70.9,641.2h0.8M62.4,650.4h0.8M65.5,645.6h0.8M62.8,653.2h0.8M64.9,656.4h0.8M58.7,659.3h0.8M67.3,650.4h0.8M63.5,645.0h0.8M63.3,655.5h0.8M63.6,651.1h0.8M59.5,656.9h0.8M66.5,660.1h0.8M63.7,657.1h0.8M68.0,654.4h0.8M61.0,658.3h0.8M62.1,654.5h0.8M66.4,656.3h0.8M63.5,655.1h0.8M63.4,659.4h0.8M69.4,640.9h0.8M68.8,650.1h0.8M63.5,650.0h0.8M69.0,646.8h0.8M64.1,653.5h0.8M66.5,652.7h0.8M68.5,644.1h0.8M63.0,657.6h0.8M62.3,655.3h0.8M65.6,658.8h0.8M68.6,646.5h0.8M66.9,647.3h0.8M67.3,651.9h0.8M70.5,643.1h0.8M64.2,650.7h0.8M66.6,645.0h0.8M65.6,644.5h0.8M55.6,663.0h0.8M66.3,660.9h0.8M74.7,640.4h0.8M59.6,658.2h0.8M67.8,658.5h0.8M59.2,657.8h0.8M58.7,657.9h0.8M62.8,653.8h0.8M69.9,642.0h0.8M59.9,657.4h0.8M67.9,658.5h0.8M66.3,656.9h0.8M64.0,646.6h0.8M66.1,657.7h0.8M73.1,638.8h0.8M64.8,659.1h0.8M74.7,640.1h0.8M69.7,642.8h0.8M66.6,651.9h0.8M63.5,651.5h0.8" stroke="#f5d0ce" stroke-width="0.8" opacity="0.9" />
<path d="M69.0,657.8h0.8M53.8,665.1h0.8M60.9,660.4h0.8M74.7,641.0h0.8M60.5,648.8h0.8M67.1,659.8h0.8M70.8,639.4h0.8M66.5,641.0h0.8M70.3,643.2h0.8M63.7,646.2h0.8M64.2,644.4h0.8M62.8,659.3h0.8M54.9,659.1h0.8M67.5,655.6h0.8M56.8,657.5h0.8M60.9,651.1h0.8M67.5,640.4h0.8M66.4,652.0h0.8M59.6,659.4h0.8M73.8,638.4h0.8M54.4,662.8h0.8M65.0,641.8h0.8M54.4,664.3h0.8" stroke="#df655d" stroke-width="0.8" />
<path d="M114.3,650.8 C114.4,650.2 115.8,649.1 116.9,649.3 C118.0,649.5 120.2,651.3 120.9,652.2 C121.6,653.1 121.5,654.5 121.2,654.8 C120.9,655.1 119.8,654.6 119.0,654.2 C118.2,653.8 117.3,653.2 116.5,652.6 C115.7,652.0 114.2,651.3 114.3,650.8Z" fill="#8b5a3a" />
<path d="M115.9,651.6h0.8" stroke="#8b5a3a" stroke-width="0.8" />
<path d="M131.4,606.6 C132.0,605.9 133.0,606.0 134.0,605.9 C135.0,605.8 136.4,605.9 137.5,606.2 C138.6,606.5 139.7,606.9 140.6,607.5 C141.5,608.1 142.0,609.5 142.8,609.7 C143.6,609.9 144.5,609.4 145.4,608.8 C146.3,608.1 147.1,606.8 148.0,605.8 C148.9,604.8 149.7,604.1 150.7,603.1 C151.7,602.1 153.1,600.3 154.2,599.6 C155.3,598.9 156.5,598.6 157.2,598.8 C157.8,599.0 158.4,600.4 158.1,601.0 C157.8,601.6 156.6,601.7 155.5,602.3 C154.4,602.9 152.6,603.6 151.5,604.5 C150.4,605.4 149.5,606.4 148.9,607.5 C148.3,608.6 147.8,610.0 148.0,611.0 C148.2,612.0 149.5,612.7 150.2,613.6 C150.9,614.5 152.0,615.1 152.4,616.3 C152.8,617.5 153.0,619.4 152.8,620.7 C152.6,622.0 152.3,623.4 151.1,624.2 C149.9,625.0 147.4,625.3 145.4,625.5 C143.4,625.7 141.4,625.6 139.3,625.5 C137.2,625.4 134.7,625.1 133.1,624.6 C131.5,624.1 130.2,623.4 129.6,622.4 C128.9,621.4 129.1,620.2 129.2,618.9 C129.3,617.6 129.9,616.0 130.1,614.5 C130.3,613.0 130.3,611.4 130.5,610.1 C130.7,608.8 130.8,607.3 131.4,606.6Z" fill="#edc598" />
<path d="M153.9,603.0h0.8M138.9,608.3h0.8M136.2,615.7h0.8M142.2,614.3h0.8M134.1,607.2h0.8M148.2,605.9h0.8M136.2,624.2h0.8M140.4,622.1h0.8M139.5,612.8h0.8M149.1,621.3h0.8M143.5,622.3h0.8M146.6,614.8h0.8M136.3,610.5h0.8M143.7,613.3h0.8M144.2,616.2h0.8M142.6,611.6h0.8M137.6,615.1h0.8M148.9,614.0h0.8M143.9,624.6h0.8M144.2,615.3h0.8M132.2,615.4h0.8M130.9,617.8h0.8M146.2,613.5h0.8M139.2,620.1h0.8M135.0,615.9h0.8M138.9,618.6h0.8M137.6,625.1h0.8M147.7,617.8h0.8M148.7,617.5h0.8M138.0,611.0h0.8M146.2,608.5h0.8M151.9,603.5h0.8M137.9,622.7h0.8M152.1,602.3h0.8M146.9,617.3h0.8M135.2,613.2h0.8M133.6,606.3h0.8M145.8,622.5h0.8M132.2,619.1h0.8M136.4,609.2h0.8M138.7,609.3h0.8M137.7,612.3h0.8M139.4,607.4h0.8M140.9,624.4h0.8M148.0,618.8h0.8M146.9,619.1h0.8M149.5,613.6h0.8M134.1,623.7h0.8M142.4,620.7h0.8M136.0,613.2h0.8M134.6,606.0h0.8M142.6,622.2h0.8M151.6,615.4h0.8M133.3,612.0h0.8M136.0,612.8h0.8M152.3,619.2h0.8M141.9,616.7h0.8M133.5,619.1h0.8M137.2,607.9h0.8M129.9,617.5h0.8M142.5,612.1h0.8M150.6,614.3h0.8M137.5,617.3h0.8M138.0,618.9h0.8M148.2,619.6h0.8M146.5,610.6h0.8M145.9,617.6h0.8M141.3,615.5h0.8M132.6,622.1h0.8M133.4,610.4h0.8M157.1,600.7h0.8M131.1,617.3h0.8M131.9,609.1h0.8M140.2,617.8h0.8M146.5,610.3h0.8M134.1,608.7h0.8M140.3,608.8h0.8M132.9,610.2h0.8M134.9,620.6h0.8M145.8,621.6h0.8M135.6,611.2h0.8M138.7,613.8h0.8M150.0,623.0h0.8M136.9,622.9h0.8M133.2,612.5h0.8M143.8,625.0h0.8M144.1,617.1h0.8M143.6,613.2h0.8M136.8,610.7h0.8M134.2,618.8h0.8M150.9,616.7h0.8M149.8,605.0h0.8M133.2,617.3h0.8M146.5,609.6h0.8M151.6,618.6h0.8M131.6,615.9h0.8M138.0,608.9h0.8M130.8,622.1h0.8M132.9,623.1h0.8M147.8,619.3h0.8M134.0,612.3h0.8M131.1,608.4h0.8M144.4,621.5h0.8M141.0,611.3h0.8M146.6,623.2h0.8M132.7,615.5h0.8M141.2,617.3h0.8M140.3,622.0h0.8M131.6,621.4h0.8M137.4,619.4h0.8M138.7,617.6h0.8M133.0,614.1h0.8M146.2,620.3h0.8M132.0,612.0h0.8M155.1,599.7h0.8M137.4,616.7h0.8M157.2,600.1h0.8M144.3,611.6h0.8M134.2,607.6h0.8M138.9,618.7h0.8M156.2,600.4h0.8M139.7,618.0h0.8M138.9,622.6h0.8M136.5,623.1h0.8M140.6,609.9h0.8M132.9,609.8h0.8M133.6,620.7h0.8M137.4,619.9h0.8M144.3,613.3h0.8M140.4,610.8h0.8M133.1,610.2h0.8M145.1,621.5h0.8M141.3,612.6h0.8M142.3,624.6h0.8M135.9,609.7h0.8M144.5,623.1h0.8M144.3,622.8h0.8" stroke="#f9ede0" stroke-width="0.8" opacity="0.9" />
<path d="M150.6,624.7h0.8M150.2,606.8h0.8M140.6,608.2h0.8M151.9,625.5h0.8M134.8,625.1h0.8M127.3,619.5h0.8M156.7,601.5h0.8M153.4,618.8h0.8M148.7,608.9h0.8M148.3,607.2h0.8M153.1,620.1h0.8M145.0,607.9h0.8M128.9,616.5h0.8M126.9,614.3h0.8M138.1,624.9h0.8" stroke="#edc598" stroke-width="0.8" />
<path d="M144.5,647.8 C144.6,646.8 145.1,646.6 146.3,646.1 C147.5,645.6 149.6,645.0 151.5,644.7 C153.4,644.4 155.6,644.1 157.7,644.1 C159.8,644.1 161.8,644.3 163.8,644.7 C165.8,645.1 168.3,645.5 169.9,646.5 C171.5,647.5 172.5,648.7 173.4,650.4 C174.3,652.1 175.4,655.0 175.6,656.6 C175.8,658.2 175.3,659.1 174.7,660.1 C174.0,661.1 172.9,661.8 171.7,662.7 C170.5,663.6 168.8,665.1 167.3,665.3 C165.8,665.4 164.4,664.5 162.9,663.6 C161.4,662.7 160.1,661.0 158.5,660.1 C156.9,659.2 154.9,659.0 153.3,658.3 C151.7,657.6 150.2,656.7 148.9,655.7 C147.7,654.7 146.5,653.5 145.8,652.2 C145.1,650.9 144.4,648.8 144.5,647.8Z" fill="#edc598" />
<path d="M156.1,649.3h0.8M173.0,660.8h0.8M148.4,654.3h0.8M169.3,650.1h0.8M162.2,655.4h0.8M164.9,661.2h0.8M162.2,660.5h0.8M150.7,651.9h0.8M160.1,654.9h0.8M146.7,651.4h0.8M157.3,653.6h0.8M157.4,646.9h0.8M150.9,646.7h0.8M172.2,661.9h0.8M161.8,655.3h0.8M162.0,653.0h0.8M152.4,652.2h0.8M154.0,658.2h0.8M164.0,651.4h0.8M147.9,651.9h0.8M152.6,656.1h0.8M168.2,660.9h0.8M163.8,656.8h0.8M171.6,659.8h0.8M156.5,658.7h0.8M170.9,648.9h0.8M170.7,652.0h0.8M158.0,655.0h0.8M161.8,648.1h0.8M152.9,656.2h0.8M163.9,660.6h0.8M169.3,659.6h0.8M159.9,657.0h0.8M153.3,653.4h0.8M164.6,649.9h0.8M169.3,653.5h0.8M168.1,655.8h0.8M161.6,648.6h0.8M154.4,655.8h0.8M160.8,652.9h0.8M157.7,647.4h0.8M170.0,653.8h0.8M157.1,651.7h0.8M166.3,660.1h0.8M167.0,653.6h0.8M153.3,653.8h0.8M155.0,654.2h0.8M170.2,654.9h0.8M167.5,664.7h0.8M156.8,657.7h0.8M162.3,658.9h0.8M148.3,654.3h0.8M146.6,648.3h0.8M163.3,650.4h0.8M153.9,644.8h0.8M169.0,654.8h0.8M170.0,655.2h0.8M166.1,656.4h0.8M165.8,653.6h0.8M157.5,653.3h0.8M164.8,655.4h0.8M162.2,661.8h0.8M153.2,657.0h0.8M156.2,644.5h0.8M152.1,647.7h0.8M156.2,645.2h0.8M161.5,651.4h0.8M149.2,652.9h0.8M153.2,653.1h0.8M155.9,649.9h0.8M172.9,655.0h0.8M171.6,649.7h0.8M159.4,645.6h0.8M164.1,650.7h0.8M160.2,652.9h0.8M152.5,650.9h0.8M164.6,660.6h0.8M165.7,651.2h0.8M151.7,653.8h0.8M171.7,653.1h0.8M170.9,648.5h0.8M146.1,652.4h0.8M146.5,648.5h0.8M159.2,660.5h0.8M166.0,664.7h0.8M152.9,650.6h0.8M150.2,652.7h0.8M163.7,657.4h0.8M155.1,645.4h0.8M155.4,648.6h0.8M170.8,647.8h0.8M156.8,654.3h0.8M169.8,648.3h0.8M167.9,662.4h0.8M167.0,654.1h0.8M155.1,646.7h0.8M156.3,647.1h0.8M159.3,650.2h0.8M159.4,659.4h0.8M166.4,648.9h0.8M155.0,646.0h0.8M158.1,648.9h0.8M153.8,650.7h0.8M153.2,651.5h0.8M166.0,648.9h0.8M162.4,652.7h0.8M163.8,660.4h0.8M173.1,652.8h0.8M171.4,656.8h0.8M168.4,651.8h0.8M157.2,653.6h0.8M164.6,650.4h0.8M165.4,660.4h0.8M166.0,664.6h0.8M169.3,652.6h0.8M160.3,654.4h0.8M160.5,646.3h0.8M163.1,654.2h0.8M171.6,653.6h0.8M167.9,650.2h0.8M170.8,654.8h0.8M154.9,657.4h0.8M170.2,661.1h0.8M160.8,645.8h0.8M170.4,655.8h0.8M156.0,652.9h0.8M165.4,662.5h0.8M168.9,650.3h0.8M166.7,651.1h0.8M166.1,647.2h0.8M151.6,656.3h0.8M156.0,648.2h0.8M167.1,647.5h0.8M172.3,659.9h0.8M152.1,651.6h0.8M152.4,656.0h0.8M162.0,658.1h0.8M171.3,649.5h0.8M155.3,654.0h0.8M164.5,650.2h0.8M154.5,651.7h0.8M146.6,647.2h0.8M163.5,654.2h0.8M152.2,651.3h0.8M173.5,656.7h0.8M159.5,656.4h0.8M164.5,650.5h0.8M172.2,655.7h0.8M162.0,649.4h0.8M170.2,648.2h0.8M153.0,650.0h0.8" stroke="#f9ede0" stroke-width="0.8" opacity="0.9" />
<path d="M167.7,647.0h0.8M160.0,661.9h0.8M173.5,651.9h0.8M153.2,645.0h0.8M175.3,656.4h0.8M167.5,666.2h0.8M144.8,648.6h0.8M144.4,652.7h0.8M145.5,648.3h0.8M154.6,659.2h0.8M165.3,662.1h0.8M152.1,657.1h0.8" stroke="#edc598" stroke-width="0.8" />
<path d="M63.0,680.7 C64.3,680.8 66.8,680.0 68.3,680.5 C69.8,681.0 71.2,682.1 72.3,683.4 C73.4,684.7 75.0,687.0 75.0,688.3 C75.0,689.6 73.9,690.9 72.6,691.2 C71.3,691.5 68.4,690.9 67.0,690.0 C65.6,689.1 65.6,687.3 64.4,686.0 C63.2,684.7 61.6,683.1 60.0,682.0 C58.4,680.9 55.7,679.9 55.0,679.3 C54.3,678.7 54.7,678.1 55.6,678.2 C56.5,678.4 59.3,679.8 60.5,680.2 C61.7,680.6 61.7,680.7 63.0,680.7Z" fill="#8e6a9c" />
<path d="M69.2,685.7h0.8M69.1,687.7h0.8M61.9,682.4h0.8M58.2,680.1h0.8M72.3,684.2h0.8M68.1,681.5h0.8M70.1,681.9h0.8M64.9,681.8h0.8M60.7,681.8h0.8M63.8,685.3h0.8M65.4,684.2h0.8M68.0,685.6h0.8M67.2,681.4h0.8M71.5,688.5h0.8M70.6,686.5h0.8M67.4,681.9h0.8M64.6,684.3h0.8M65.8,684.4h0.8M69.1,687.4h0.8M68.7,684.3h0.8" stroke="#ddd2e1" stroke-width="0.8" opacity="0.9" />
<path d="M68.3,680.3h0.8M57.6,679.3h0.8M70.3,683.3h0.8M63.1,678.5h0.8M69.7,682.3h0.8M65.7,688.7h0.8M56.0,679.9h0.8M65.9,685.9h0.8M62.4,684.4h0.8M70.5,684.9h0.8" stroke="#8e6a9c" stroke-width="0.8" />
<path d="M103.8,682.0 C104.5,680.0 105.7,678.0 107.7,676.8 C109.7,675.5 113.0,674.9 115.6,674.5 C118.2,674.1 121.2,674.3 123.5,674.4 C125.8,674.5 128.5,674.0 129.6,675.3 C130.7,676.6 130.3,679.1 130.2,682.0 C130.1,684.9 129.6,689.4 128.9,692.5 C128.2,695.6 127.9,698.6 126.3,700.4 C124.7,702.2 121.7,703.3 119.5,703.4 C117.3,703.5 115.2,702.1 113.0,700.8 C110.8,699.5 108.0,697.4 106.4,695.4 C104.8,693.4 104.0,690.8 103.6,688.6 C103.2,686.4 103.1,684.0 103.8,682.0Z" fill="#8f8f96" />
<path d="M111.1,687.4h0.8M124.3,693.6h0.8M121.6,680.9h0.8M114.8,687.1h0.8M105.2,692.0h0.8M106.8,687.5h0.8M118.7,695.2h0.8M114.1,696.5h0.8M105.6,689.7h0.8M111.6,678.4h0.8M116.0,678.9h0.8M123.2,681.4h0.8M111.3,697.6h0.8M122.9,691.3h0.8M124.8,674.7h0.8M126.2,680.2h0.8M122.9,687.0h0.8M120.2,690.3h0.8M107.7,677.6h0.8M122.9,698.3h0.8M118.4,699.6h0.8M105.2,691.1h0.8M128.8,679.9h0.8M112.8,677.2h0.8M122.5,691.7h0.8M128.4,683.5h0.8M117.0,693.5h0.8M114.2,677.3h0.8M124.7,678.1h0.8M125.0,699.8h0.8M121.1,689.7h0.8M114.1,682.5h0.8M122.9,701.8h0.8M123.6,692.2h0.8M117.2,679.9h0.8M116.5,694.3h0.8M111.9,680.7h0.8M121.5,694.7h0.8M116.5,686.2h0.8M109.2,683.0h0.8M118.4,675.1h0.8M110.9,678.7h0.8M126.3,698.6h0.8M123.6,691.9h0.8M120.4,688.2h0.8M119.2,694.3h0.8M113.0,698.7h0.8M126.6,683.8h0.8M107.4,691.0h0.8M117.0,684.2h0.8M120.1,700.6h0.8M109.2,694.7h0.8M108.9,685.5h0.8M122.7,675.7h0.8M106.6,688.0h0.8M106.0,685.7h0.8M113.9,689.5h0.8M108.1,682.2h0.8M112.1,679.3h0.8M118.7,684.8h0.8M128.5,688.8h0.8M112.8,693.0h0.8M115.1,678.8h0.8M114.1,688.5h0.8M107.8,692.9h0.8M105.5,680.2h0.8M128.1,676.5h0.8M121.4,699.1h0.8M122.5,685.4h0.8M106.1,687.6h0.8M123.8,680.1h0.8M122.3,675.0h0.8M110.3,698.3h0.8M119.1,692.6h0.8M117.4,680.6h0.8M124.7,678.4h0.8M111.3,693.2h0.8M113.1,689.4h0.8M104.3,688.4h0.8M125.5,699.4h0.8M104.8,681.0h0.8M111.2,691.6h0.8M109.4,686.4h0.8M121.4,694.1h0.8M105.4,684.8h0.8M111.9,698.2h0.8M111.9,684.3h0.8M127.7,694.5h0.8M116.0,679.5h0.8M115.5,697.6h0.8M107.7,693.8h0.8M119.4,701.7h0.8M119.8,691.8h0.8M109.8,697.8h0.8M122.4,700.8h0.8M117.2,699.2h0.8M113.6,687.1h0.8M114.2,685.5h0.8M123.2,675.1h0.8M128.4,691.4h0.8M121.8,698.6h0.8M109.0,680.1h0.8M108.6,689.1h0.8M128.4,689.5h0.8M120.4,674.7h0.8M108.3,688.8h0.8M124.3,680.6h0.8M115.3,689.5h0.8M115.5,690.1h0.8M107.9,690.8h0.8M126.5,689.3h0.8M120.2,694.3h0.8M128.9,691.0h0.8M110.0,686.7h0.8M119.3,687.0h0.8M113.7,690.8h0.8M107.0,687.8h0.8M122.9,691.7h0.8M126.0,675.0h0.8M121.1,677.5h0.8M121.1,683.5h0.8M127.5,692.7h0.8M125.9,698.1h0.8M117.4,676.9h0.8M112.2,680.3h0.8M115.7,675.2h0.8M114.5,694.6h0.8M104.5,682.2h0.8M114.7,694.6h0.8M128.1,693.9h0.8M117.0,685.3h0.8M125.5,696.1h0.8M122.7,697.0h0.8M120.3,687.6h0.8M123.7,688.4h0.8M110.6,677.2h0.8M118.4,682.2h0.8M120.5,680.6h0.8M111.6,687.8h0.8M121.9,700.8h0.8M126.9,698.4h0.8M126.1,688.5h0.8M106.3,682.8h0.8M108.1,680.4h0.8M122.6,697.4h0.8M122.8,696.1h0.8M120.9,684.5h0.8M115.2,689.7h0.8M118.9,700.1h0.8M122.7,674.9h0.8M121.8,677.1h0.8M125.0,693.1h0.8M112.7,686.4h0.8M110.9,697.2h0.8M115.6,684.2h0.8M126.9,679.4h0.8M121.9,687.2h0.8M124.9,687.8h0.8M117.2,697.4h0.8M111.1,697.9h0.8M122.2,681.7h0.8M121.3,680.7h0.8M109.6,696.6h0.8M112.8,682.1h0.8M109.9,676.7h0.8M107.8,694.3h0.8M116.9,691.7h0.8M128.4,686.6h0.8M126.8,675.1h0.8M113.9,688.1h0.8M120.0,693.1h0.8M106.9,690.0h0.8M122.9,692.0h0.8M110.8,682.7h0.8M116.2,692.7h0.8M116.2,694.1h0.8M117.4,699.3h0.8M115.8,674.9h0.8M126.1,692.9h0.8M121.9,676.6h0.8M125.8,677.3h0.8M124.9,687.6h0.8M119.7,689.8h0.8M109.7,685.8h0.8M110.3,688.2h0.8M120.4,675.3h0.8M113.3,698.5h0.8M110.3,676.3h0.8M103.9,686.7h0.8M117.9,684.4h0.8M113.0,675.4h0.8M106.0,685.0h0.8M112.3,677.1h0.8M122.7,690.3h0.8M119.6,687.0h0.8M124.2,691.1h0.8M107.2,684.7h0.8M122.9,680.2h0.8M121.6,685.9h0.8M114.0,679.6h0.8M111.4,679.2h0.8M115.1,701.5h0.8M113.2,696.6h0.8M126.3,692.2h0.8M129.8,679.2h0.8M121.3,684.8h0.8M127.7,680.0h0.8M115.3,686.9h0.8M116.9,680.5h0.8M117.4,696.7h0.8M120.4,696.0h0.8M112.0,680.2h0.8M121.1,675.7h0.8M111.0,698.7h0.8M129.2,677.9h0.8M120.8,696.9h0.8M112.5,678.2h0.8M127.4,677.0h0.8M122.7,694.2h0.8M115.7,684.7h0.8M123.7,695.4h0.8M118.2,687.2h0.8M107.4,691.4h0.8M113.8,680.2h0.8M118.4,683.9h0.8M106.6,688.6h0.8M118.3,692.0h0.8M115.0,700.2h0.8M122.5,694.0h0.8M113.1,676.2h0.8M121.7,676.8h0.8M117.9,702.1h0.8M114.7,677.9h0.8M120.7,679.9h0.8M108.3,693.7h0.8M121.4,697.7h0.8M105.3,690.3h0.8M120.8,699.8h0.8M123.3,682.7h0.8M111.3,678.4h0.8M121.4,691.5h0.8M114.5,686.8h0.8M124.4,677.0h0.8" stroke="#dddddf" stroke-width="0.8" opacity="0.9" />
<path d="M129.9,677.0h0.8M109.1,697.0h0.8M130.0,677.4h0.8M109.3,696.8h0.8M106.5,677.5h0.8M115.2,701.8h0.8M118.5,674.2h0.8M104.1,683.8h0.8M100.3,686.6h0.8M127.8,676.4h0.8M101.9,688.1h0.8M108.2,695.5h0.8M108.8,695.9h0.8" stroke="#8f8f96" stroke-width="0.8" />
</g>
<text x="46.0" y="581.6" font-size="12.7" fill="#000" >Granulocyte</text>
<text x="40.0" y="619.4" font-size="12.7" fill="#000" >Mac/mono</text>
<text x="141.4" y="637.7" font-size="12.7" fill="#000" >T cell</text>
<text x="70.4" y="661.4" font-size="12.7" fill="#000" >cDC</text>
<text x="108.2" y="649.0" font-size="12.7" fill="#000" >LC</text>
<text x="33.6" y="704.3" font-size="12.7" fill="#000" >CCR7<tspan dy="-4.6" font-size="9.2">+</tspan><tspan dy="4.6"> DC</tspan></text>
<text x="108.2" y="713.4" font-size="12.7" fill="#000" >Mast cell</text>
<g transform="translate(180.5,0)">
<path d="M92.5,588.0 C92.7,587.1 93.2,585.8 94.0,585.2 C94.8,584.6 96.6,584.3 97.0,584.6 C97.4,584.9 96.9,586.0 96.5,587.0 C96.1,588.0 95.4,590.2 94.8,590.8 C94.2,591.4 93.1,591.1 92.7,590.6 C92.3,590.1 92.3,588.9 92.5,588.0Z" fill="#80d03c" />
<path d="M94.1,590.9h0.8" stroke="#80d03c" stroke-width="0.8" />
<path d="M74.7,623.3 C75.9,622.0 77.3,621.3 78.8,620.7 C80.3,620.1 81.9,620.0 83.9,619.7 C86.0,619.4 88.9,618.8 91.1,618.7 C93.3,618.6 95.8,618.6 97.2,619.0 C98.6,619.4 98.9,619.8 99.3,621.2 C99.7,622.6 100.0,625.5 99.8,627.4 C99.6,629.3 99.3,630.7 98.2,632.5 C97.1,634.3 94.8,636.9 93.1,638.1 C91.4,639.3 89.9,639.4 88.0,639.6 C86.1,639.8 83.6,639.4 81.9,639.1 C80.2,638.8 79.2,638.0 77.8,637.6 C76.4,637.2 75.1,636.8 73.7,636.8 C72.3,636.8 70.8,637.1 69.6,637.6 C68.4,638.1 67.4,639.4 66.6,639.6 C65.8,639.9 65.3,639.4 64.5,639.1 C63.6,638.9 62.5,638.3 61.5,638.1 C60.5,637.9 59.8,638.0 58.4,638.1 C57.0,638.2 54.4,638.4 53.3,638.6 C52.2,638.9 51.8,639.2 51.8,639.6 C51.8,640.0 53.7,640.1 53.3,640.7 C52.9,641.3 49.7,642.7 49.2,643.2 C48.7,643.7 49.0,644.0 50.2,643.7 C51.4,643.4 54.0,641.7 56.4,641.2 C58.8,640.7 63.0,641.5 64.5,640.7 C66.0,639.9 64.8,637.8 65.5,636.6 C66.2,635.4 67.6,634.9 68.6,633.5 C69.6,632.1 70.7,630.1 71.7,628.4 C72.7,626.7 73.5,624.6 74.7,623.3Z" fill="#1f5f96" />
<path d="M73.4,626.0h0.8M91.7,622.7h0.8M56.4,638.9h0.8M92.7,621.8h0.8M66.1,636.9h0.8M69.7,634.9h0.8M74.1,636.4h0.8M84.7,624.5h0.8M81.3,622.1h0.8M87.9,637.4h0.8M80.3,635.5h0.8M94.4,622.8h0.8M60.2,638.8h0.8M71.5,632.7h0.8M97.6,630.4h0.8M75.1,635.0h0.8M88.6,623.0h0.8M94.6,626.4h0.8M74.3,635.1h0.8M66.8,639.0h0.8M76.8,628.2h0.8M93.0,626.1h0.8M92.5,634.7h0.8M49.9,643.0h0.8M79.1,630.7h0.8M52.3,639.5h0.8M85.7,628.5h0.8M78.4,636.0h0.8M92.7,636.5h0.8M82.5,626.5h0.8M70.2,631.1h0.8M89.3,619.3h0.8M82.7,621.1h0.8M87.4,625.2h0.8M74.9,623.4h0.8M91.9,625.9h0.8M89.2,625.7h0.8M94.5,623.7h0.8M95.9,622.6h0.8M93.5,619.5h0.8M90.2,626.4h0.8M70.8,631.0h0.8M98.8,622.3h0.8M87.6,619.6h0.8M94.3,624.8h0.8M76.4,627.9h0.8M72.3,632.7h0.8M66.7,636.5h0.8M90.4,630.7h0.8M82.0,620.8h0.8M78.3,624.0h0.8M83.3,627.0h0.8M98.1,620.9h0.8M97.8,630.5h0.8M75.4,630.7h0.8M89.3,632.1h0.8M90.1,633.7h0.8M86.3,633.6h0.8M93.4,626.5h0.8M96.6,627.9h0.8M88.0,630.9h0.8M91.5,619.9h0.8M60.1,640.0h0.8M64.9,639.1h0.8M78.7,636.9h0.8M54.8,639.0h0.8M83.7,624.3h0.8M82.4,621.5h0.8M91.5,631.9h0.8M86.4,621.2h0.8M73.7,631.8h0.8M91.7,631.9h0.8M85.0,629.4h0.8M76.8,628.4h0.8M86.3,626.9h0.8M90.1,631.4h0.8M73.5,631.3h0.8M89.5,625.5h0.8M91.7,625.6h0.8M80.8,621.4h0.8M75.1,628.0h0.8M87.1,636.1h0.8M80.6,635.1h0.8M84.8,634.2h0.8M77.5,626.7h0.8M76.7,636.1h0.8M95.8,623.0h0.8M83.1,631.8h0.8M90.7,633.6h0.8M88.2,629.5h0.8M88.1,621.5h0.8M75.7,628.4h0.8M81.6,624.1h0.8M86.3,639.2h0.8M97.3,622.3h0.8M95.4,635.5h0.8M76.5,633.3h0.8M75.9,625.1h0.8M88.4,628.4h0.8M87.2,625.1h0.8M69.2,636.0h0.8M76.4,622.2h0.8M78.4,633.9h0.8M83.0,636.2h0.8M88.8,633.3h0.8M84.1,635.1h0.8M72.4,636.8h0.8M71.9,635.9h0.8M50.1,643.6h0.8M78.0,634.5h0.8M82.5,631.5h0.8M71.1,632.9h0.8M87.1,620.9h0.8M56.1,639.7h0.8M86.6,630.2h0.8M81.4,637.4h0.8M85.5,620.9h0.8M80.5,632.6h0.8M79.8,622.7h0.8M79.2,623.0h0.8M76.7,623.0h0.8M95.7,629.3h0.8M56.2,639.1h0.8M68.2,634.7h0.8M89.6,631.5h0.8M80.0,623.7h0.8M91.4,630.2h0.8M67.3,637.6h0.8M98.7,630.3h0.8M83.0,638.0h0.8M87.5,634.4h0.8M93.8,620.5h0.8M83.1,620.0h0.8M93.9,632.1h0.8M87.2,624.5h0.8M90.4,636.3h0.8M81.4,636.5h0.8M81.8,633.4h0.8M94.7,622.6h0.8M93.7,634.8h0.8" stroke="#bbcfdf" stroke-width="0.8" opacity="0.9" />
<path d="M56.0,638.6h0.8M84.5,638.2h0.8M100.7,626.0h0.8M61.7,636.7h0.8M77.3,638.5h0.8M64.8,639.4h0.8M50.3,642.1h0.8M50.0,643.0h0.8M82.1,638.7h0.8M89.2,638.5h0.8M84.1,619.6h0.8M81.2,637.0h0.8M65.2,635.6h0.8M76.0,623.7h0.8M76.7,636.8h0.8M64.0,638.2h0.8M97.1,619.7h0.8M52.7,643.2h0.8M66.5,636.7h0.8M73.9,637.0h0.8M101.1,626.6h0.8M49.4,643.8h0.8M98.3,618.4h0.8M58.2,637.0h0.8M76.6,621.2h0.8M72.9,626.7h0.8" stroke="#1f5f96" stroke-width="0.8" />
<path d="M65.5,640.1 C66.5,639.6 69.0,639.4 70.7,639.1 C72.4,638.8 75.1,637.8 75.8,638.1 C76.5,638.4 75.4,639.8 74.7,640.7 C74.0,641.6 72.6,642.5 71.7,643.7 C70.8,644.9 69.7,646.3 69.6,647.8 C69.5,649.3 70.9,651.0 71.1,652.9 C71.3,654.8 70.8,657.6 70.6,659.0 C70.3,660.4 70.4,660.9 69.6,661.1 C68.8,661.3 67.3,660.5 66.0,660.1 C64.7,659.8 63.3,658.4 61.9,659.0 C60.5,659.6 58.6,662.9 57.8,663.6 C56.9,664.3 56.3,664.0 56.8,663.1 C57.3,662.2 60.4,659.0 60.9,658.0 C61.4,657.0 59.4,657.3 59.9,657.0 C60.4,656.7 63.2,657.0 64.0,656.0 C64.8,655.0 64.7,652.6 64.5,650.9 C64.3,649.2 63.0,647.2 63.0,645.8 C63.0,644.3 64.1,643.2 64.5,642.2 C64.9,641.2 64.5,640.6 65.5,640.1Z" fill="#df655d" />
<path d="M65.2,649.2h0.8M61.0,657.5h0.8M68.2,642.6h0.8M67.0,650.7h0.8M67.0,640.7h0.8M67.4,650.7h0.8M68.3,659.9h0.8M65.5,652.7h0.8M71.7,643.0h0.8M65.0,642.3h0.8M68.0,640.6h0.8M67.1,654.4h0.8M66.5,651.6h0.8M68.0,659.2h0.8M66.5,660.2h0.8M66.2,659.1h0.8M60.1,660.2h0.8M57.8,662.5h0.8M63.7,647.2h0.8M70.5,644.2h0.8M60.8,657.7h0.8M67.3,642.8h0.8M70.1,645.4h0.8M66.4,641.0h0.8M64.8,649.6h0.8M73.9,640.7h0.8M69.7,646.4h0.8M73.4,641.4h0.8M60.4,659.9h0.8M65.9,644.9h0.8M64.5,644.2h0.8M65.2,641.6h0.8M69.0,659.5h0.8M74.3,640.8h0.8M64.4,646.8h0.8M66.0,649.7h0.8M67.7,640.5h0.8M64.6,658.8h0.8M68.0,649.8h0.8M67.1,655.2h0.8M67.4,655.8h0.8M65.1,651.5h0.8M68.5,653.7h0.8M68.1,656.8h0.8M73.2,641.4h0.8M67.8,649.7h0.8M69.6,650.8h0.8M64.7,658.6h0.8M67.1,641.6h0.8M66.0,649.0h0.8M69.5,655.1h0.8M73.6,640.5h0.8M70.5,654.1h0.8M69.6,644.2h0.8M67.1,655.9h0.8M68.5,651.4h0.8M65.9,650.9h0.8M66.4,649.0h0.8M65.2,658.0h0.8M67.4,646.8h0.8M68.1,652.5h0.8M68.1,654.8h0.8M70.7,639.4h0.8M70.9,644.9h0.8M69.7,657.4h0.8M61.1,657.5h0.8M68.0,648.4h0.8" stroke="#f5d0ce" stroke-width="0.8" opacity="0.9" />
<path d="M67.9,652.5h0.8M72.8,641.0h0.8M58.9,659.8h0.8M71.6,643.3h0.8M62.3,652.2h0.8M76.1,639.8h0.8M73.2,641.7h0.8M61.7,646.6h0.8M60.0,656.3h0.8M63.9,642.6h0.8M74.9,640.2h0.8M64.1,657.5h0.8M71.1,655.7h0.8M59.0,661.6h0.8M63.2,642.9h0.8M69.3,657.3h0.8M70.1,644.5h0.8M65.3,638.8h0.8M67.1,638.4h0.8M63.9,655.1h0.8M74.5,640.7h0.8M60.9,657.4h0.8M77.2,637.3h0.8M63.1,647.8h0.8" stroke="#df655d" stroke-width="0.8" />
<path d="M114.3,650.8 C114.4,650.2 115.8,649.1 116.9,649.3 C118.0,649.5 120.2,651.3 120.9,652.2 C121.6,653.1 121.5,654.5 121.2,654.8 C120.9,655.1 119.8,654.6 119.0,654.2 C118.2,653.8 117.3,653.2 116.5,652.6 C115.7,652.0 114.2,651.3 114.3,650.8Z" fill="#8b5a3a" />
<path d="M117.9,655.0h0.8" stroke="#8b5a3a" stroke-width="0.8" />
<path d="M131.4,606.6 C132.0,605.9 133.0,606.0 134.0,605.9 C135.0,605.8 136.4,605.9 137.5,606.2 C138.6,606.5 139.7,606.9 140.6,607.5 C141.5,608.1 142.0,609.5 142.8,609.7 C143.6,609.9 144.5,609.4 145.4,608.8 C146.3,608.1 147.1,606.8 148.0,605.8 C148.9,604.8 149.7,604.1 150.7,603.1 C151.7,602.1 153.1,600.3 154.2,599.6 C155.3,598.9 156.5,598.6 157.2,598.8 C157.8,599.0 158.4,600.4 158.1,601.0 C157.8,601.6 156.6,601.7 155.5,602.3 C154.4,602.9 152.6,603.6 151.5,604.5 C150.4,605.4 149.5,606.4 148.9,607.5 C148.3,608.6 147.8,610.0 148.0,611.0 C148.2,612.0 149.5,612.7 150.2,613.6 C150.9,614.5 152.0,615.1 152.4,616.3 C152.8,617.5 153.0,619.4 152.8,620.7 C152.6,622.0 152.3,623.4 151.1,624.2 C149.9,625.0 147.4,625.3 145.4,625.5 C143.4,625.7 141.4,625.6 139.3,625.5 C137.2,625.4 134.7,625.1 133.1,624.6 C131.5,624.1 130.2,623.4 129.6,622.4 C128.9,621.4 129.1,620.2 129.2,618.9 C129.3,617.6 129.9,616.0 130.1,614.5 C130.3,613.0 130.3,611.4 130.5,610.1 C130.7,608.8 130.8,607.3 131.4,606.6Z" fill="#edc598" />
<path d="M135.8,611.9h0.8M139.0,620.3h0.8M148.7,620.4h0.8M153.6,602.0h0.8M137.5,624.7h0.8M143.7,613.6h0.8M150.7,623.3h0.8M138.9,624.5h0.8M150.4,621.2h0.8M143.6,616.7h0.8M133.0,609.9h0.8M137.4,620.0h0.8M148.5,605.7h0.8M144.1,616.7h0.8M144.2,609.4h0.8M131.6,614.6h0.8M150.2,617.7h0.8M132.1,621.5h0.8M140.2,612.3h0.8M141.4,608.5h0.8M138.6,609.8h0.8M137.4,618.7h0.8M140.0,620.0h0.8M144.4,618.5h0.8M132.4,622.5h0.8M141.1,614.5h0.8M147.3,609.4h0.8M137.3,612.9h0.8M130.7,618.8h0.8M135.1,617.3h0.8M137.3,616.7h0.8M134.2,606.0h0.8M137.6,610.2h0.8M142.2,624.9h0.8M137.5,609.5h0.8M136.5,617.4h0.8M136.2,624.0h0.8M156.3,599.4h0.8M149.4,620.9h0.8M148.5,607.0h0.8M137.5,621.8h0.8M143.3,616.4h0.8M143.7,616.3h0.8M145.2,613.3h0.8M139.6,607.2h0.8M149.6,622.6h0.8M134.7,618.0h0.8M144.9,620.4h0.8M152.4,620.8h0.8M137.2,618.2h0.8M134.8,616.2h0.8M150.7,621.1h0.8M139.2,622.6h0.8M152.4,618.0h0.8M143.0,624.1h0.8M150.0,622.1h0.8M146.8,614.4h0.8M131.4,608.1h0.8M142.5,624.6h0.8M144.9,609.8h0.8M150.9,617.7h0.8M145.2,609.5h0.8M147.5,620.4h0.8M138.3,623.1h0.8M147.6,609.4h0.8M138.4,610.5h0.8M132.8,620.2h0.8M130.6,611.6h0.8M143.6,621.5h0.8M145.8,613.7h0.8M138.3,614.1h0.8M130.9,610.5h0.8M144.3,617.5h0.8M132.2,619.0h0.8M138.8,606.8h0.8M144.3,625.4h0.8M142.5,619.4h0.8M149.9,616.2h0.8M146.2,625.0h0.8M134.6,623.5h0.8M150.6,614.5h0.8M154.1,599.9h0.8M135.2,607.7h0.8M141.1,619.6h0.8M151.1,617.0h0.8M151.8,620.8h0.8M139.5,614.9h0.8M134.5,612.6h0.8M133.7,613.1h0.8M135.1,623.1h0.8M131.8,608.4h0.8M147.9,616.0h0.8M142.0,616.8h0.8M132.2,622.1h0.8M141.9,619.9h0.8M131.3,617.6h0.8M135.6,616.1h0.8M144.3,624.1h0.8M145.6,616.6h0.8M146.0,620.9h0.8M143.0,614.1h0.8M132.7,619.2h0.8M146.3,622.8h0.8M133.2,611.3h0.8M147.8,620.5h0.8M146.7,608.1h0.8M136.7,612.7h0.8M138.7,617.0h0.8M154.7,602.2h0.8M139.7,615.7h0.8M141.9,611.7h0.8M146.6,612.3h0.8M138.7,615.7h0.8M149.3,613.1h0.8M149.8,614.6h0.8M151.1,622.4h0.8M143.8,610.3h0.8M139.8,618.8h0.8M137.7,608.4h0.8M147.0,613.6h0.8M137.5,611.0h0.8M149.9,617.9h0.8M137.9,606.6h0.8M137.2,620.5h0.8M132.5,620.9h0.8M148.3,608.4h0.8M142.1,609.6h0.8M149.1,612.7h0.8M135.6,611.1h0.8M146.8,607.9h0.8M137.9,620.5h0.8M140.6,616.3h0.8M145.5,622.8h0.8M136.8,612.8h0.8M148.8,617.4h0.8M130.4,616.3h0.8M141.9,612.3h0.8" stroke="#f9ede0" stroke-width="0.8" opacity="0.9" />
<path d="M148.3,611.4h0.8M131.8,606.3h0.8M158.0,600.5h0.8M149.3,604.4h0.8M151.2,606.1h0.8M129.7,621.4h0.8M157.8,598.7h0.8M130.2,622.0h0.8M141.7,609.7h0.8M141.2,627.0h0.8M154.8,602.9h0.8M157.2,599.8h0.8M152.3,613.5h0.8M148.1,606.9h0.8M156.6,599.0h0.8" stroke="#edc598" stroke-width="0.8" />
<path d="M144.5,647.8 C144.6,646.8 145.1,646.6 146.3,646.1 C147.5,645.6 149.6,645.0 151.5,644.7 C153.4,644.4 155.6,644.1 157.7,644.1 C159.8,644.1 161.8,644.3 163.8,644.7 C165.8,645.1 168.3,645.5 169.9,646.5 C171.5,647.5 172.5,648.7 173.4,650.4 C174.3,652.1 175.4,655.0 175.6,656.6 C175.8,658.2 175.3,659.1 174.7,660.1 C174.0,661.1 172.9,661.8 171.7,662.7 C170.5,663.6 168.8,665.1 167.3,665.3 C165.8,665.4 164.4,664.5 162.9,663.6 C161.4,662.7 160.1,661.0 158.5,660.1 C156.9,659.2 154.9,659.0 153.3,658.3 C151.7,657.6 150.2,656.7 148.9,655.7 C147.7,654.7 146.5,653.5 145.8,652.2 C145.1,650.9 144.4,648.8 144.5,647.8Z" fill="#edc598" />
<path d="M153.0,652.0h0.8M170.1,653.9h0.8M159.1,656.1h0.8M171.4,657.3h0.8M160.6,646.9h0.8M159.6,650.5h0.8M157.5,648.7h0.8M163.7,657.9h0.8M174.1,659.5h0.8M168.9,652.0h0.8M153.9,648.2h0.8M163.3,652.8h0.8M153.4,650.7h0.8M167.5,654.6h0.8M146.9,651.4h0.8M172.2,656.1h0.8M166.3,645.6h0.8M172.3,661.4h0.8M157.1,645.5h0.8M154.9,657.0h0.8M166.8,650.8h0.8M170.9,660.3h0.8M170.8,655.2h0.8M153.2,655.9h0.8M160.9,645.5h0.8M165.9,660.2h0.8M159.9,649.7h0.8M170.9,650.9h0.8M148.1,652.4h0.8M171.6,657.2h0.8M149.4,646.0h0.8M149.9,653.9h0.8M157.8,646.4h0.8M173.9,659.6h0.8M164.8,652.5h0.8M152.0,645.8h0.8M171.3,654.9h0.8M155.2,650.1h0.8M151.0,656.0h0.8M155.3,647.5h0.8M172.2,650.1h0.8M149.2,649.2h0.8M150.4,647.7h0.8M157.8,658.1h0.8M161.1,651.3h0.8M162.7,647.3h0.8M162.2,659.7h0.8M149.3,647.4h0.8M146.9,646.8h0.8M165.4,658.3h0.8M172.9,653.8h0.8M166.4,664.0h0.8M149.6,649.1h0.8M158.4,659.8h0.8M162.2,652.9h0.8M148.7,654.1h0.8M164.7,645.2h0.8M151.0,649.3h0.8M162.7,648.4h0.8M158.3,645.2h0.8M161.5,656.1h0.8M170.2,659.9h0.8M153.9,651.2h0.8M151.4,650.8h0.8M167.9,659.0h0.8M162.7,645.9h0.8M164.6,652.8h0.8M169.3,650.6h0.8M147.4,646.3h0.8M174.3,653.0h0.8M155.8,652.7h0.8M169.8,648.7h0.8M166.9,647.6h0.8M163.7,655.7h0.8M152.2,656.3h0.8M158.4,654.7h0.8M157.1,652.6h0.8M147.5,653.2h0.8M148.0,654.1h0.8M159.8,647.7h0.8M169.6,650.4h0.8M168.9,660.2h0.8M157.1,649.9h0.8M169.1,652.2h0.8M171.0,649.2h0.8M168.2,661.8h0.8M165.4,651.5h0.8M163.0,650.1h0.8M157.5,657.3h0.8M162.0,656.3h0.8M152.4,652.6h0.8M165.7,660.6h0.8M152.1,652.3h0.8M165.1,663.8h0.8M157.1,650.0h0.8M164.7,648.0h0.8M151.8,652.1h0.8M152.8,648.3h0.8M157.3,649.8h0.8M167.9,648.6h0.8M151.9,656.4h0.8M169.9,649.5h0.8M164.2,657.3h0.8M165.4,659.3h0.8M152.7,648.1h0.8M168.8,646.3h0.8M161.4,653.9h0.8M146.4,648.5h0.8M156.4,655.3h0.8M172.2,656.1h0.8M157.4,647.1h0.8M172.0,654.2h0.8M160.8,646.4h0.8M172.7,650.1h0.8M156.4,644.7h0.8M161.7,651.1h0.8M156.1,656.7h0.8M159.0,652.5h0.8M164.8,655.9h0.8M151.0,646.9h0.8M153.9,651.1h0.8M164.2,664.0h0.8M155.0,654.0h0.8M165.5,651.3h0.8M159.9,648.0h0.8M164.2,654.9h0.8M166.2,657.9h0.8M164.8,659.2h0.8M163.8,651.9h0.8M162.4,652.3h0.8M150.7,655.1h0.8M167.0,660.3h0.8M159.0,649.5h0.8M155.8,657.6h0.8M164.8,663.7h0.8M158.0,646.9h0.8M172.1,654.7h0.8M169.0,663.2h0.8M162.5,660.4h0.8M170.8,657.1h0.8M171.4,652.5h0.8M160.2,646.4h0.8M155.7,652.7h0.8M163.7,653.6h0.8M151.6,644.9h0.8M157.0,655.8h0.8M172.1,652.3h0.8M170.6,650.6h0.8M154.6,649.5h0.8M148.8,647.4h0.8M165.7,645.4h0.8" stroke="#f9ede0" stroke-width="0.8" opacity="0.9" />
<path d="M176.2,653.4h0.8M166.0,644.6h0.8M141.0,651.7h0.8M148.1,655.0h0.8M143.2,648.2h0.8M160.8,643.5h0.8M170.6,661.7h0.8M174.2,651.4h0.8M165.8,645.8h0.8M162.4,644.3h0.8M154.1,655.7h0.8M169.8,646.1h0.8" stroke="#edc598" stroke-width="0.8" />
<path d="M65.0,685.1h1.0M69.5,685.4h1.0M66.1,688.4h1.0M60.0,681.8h1.0M70.4,684.8h1.0M66.2,688.1h1.0M67.3,684.8h1.0M65.2,687.2h1.0M64.0,685.1h1.0M69.0,689.6h1.0M70.7,689.9h1.0M72.7,690.8h1.0M63.0,684.5h1.0M65.3,682.6h1.0M66.1,683.9h1.0M67.5,684.9h1.0M66.4,687.3h1.0M56.8,678.9h1.0M68.8,683.7h1.0M67.7,688.6h1.0M64.1,682.6h1.0M65.5,681.3h1.0M57.2,680.3h1.0M61.2,682.2h1.0M70.2,682.0h1.0" stroke="#8e6a9c" stroke-width="1.0" stroke-linecap="round" opacity="1.0"/>
<path d="M103.8,682.0 C104.5,680.0 105.7,678.0 107.7,676.8 C109.7,675.5 113.0,674.9 115.6,674.5 C118.2,674.1 121.2,674.3 123.5,674.4 C125.8,674.5 128.5,674.0 129.6,675.3 C130.7,676.6 130.3,679.1 130.2,682.0 C130.1,684.9 129.6,689.4 128.9,692.5 C128.2,695.6 127.9,698.6 126.3,700.4 C124.7,702.2 121.7,703.3 119.5,703.4 C117.3,703.5 115.2,702.1 113.0,700.8 C110.8,699.5 108.0,697.4 106.4,695.4 C104.8,693.4 104.0,690.8 103.6,688.6 C103.2,686.4 103.1,684.0 103.8,682.0Z" fill="#8f8f96" />
<path d="M126.3,683.3h0.8M106.9,682.9h0.8M124.0,676.7h0.8M122.3,690.4h0.8M121.7,695.2h0.8M117.2,680.8h0.8M116.9,678.5h0.8M127.8,695.0h0.8M116.4,691.5h0.8M117.1,686.9h0.8M114.2,697.6h0.8M116.3,675.9h0.8M116.0,681.0h0.8M109.9,694.1h0.8M116.6,684.4h0.8M108.8,692.4h0.8M111.9,696.4h0.8M119.2,691.9h0.8M114.5,676.9h0.8M109.0,677.6h0.8M113.8,699.6h0.8M103.7,686.9h0.8M110.8,695.4h0.8M116.8,677.4h0.8M114.9,700.9h0.8M126.1,678.5h0.8M107.4,685.2h0.8M122.3,690.7h0.8M115.4,696.8h0.8M111.9,683.1h0.8M122.6,685.9h0.8M117.3,702.3h0.8M116.5,682.1h0.8M126.7,685.3h0.8M128.0,686.7h0.8M119.1,698.3h0.8M119.4,680.4h0.8M119.5,701.2h0.8M117.5,690.3h0.8M125.1,691.5h0.8M128.5,687.4h0.8M119.5,681.1h0.8M124.4,681.9h0.8M104.6,682.9h0.8M110.4,679.9h0.8M107.4,680.7h0.8M114.8,698.9h0.8M113.1,685.8h0.8M114.9,694.2h0.8M116.3,688.2h0.8M125.9,680.1h0.8M109.0,689.4h0.8M110.7,692.0h0.8M128.8,675.2h0.8M110.5,678.5h0.8M110.1,683.5h0.8M105.7,691.0h0.8M118.3,685.7h0.8M129.4,688.2h0.8M106.9,687.3h0.8M111.6,697.7h0.8M119.0,680.8h0.8M114.6,677.2h0.8M115.5,686.0h0.8M107.7,678.4h0.8M110.7,692.7h0.8M117.4,682.0h0.8M108.2,679.4h0.8M127.0,685.4h0.8M115.9,691.7h0.8M119.6,699.6h0.8M123.2,687.0h0.8M108.7,695.5h0.8M121.5,692.6h0.8M111.3,693.8h0.8M120.8,680.4h0.8M122.7,682.5h0.8M109.1,691.4h0.8M121.0,694.4h0.8M109.3,693.7h0.8M121.5,686.9h0.8M129.7,680.2h0.8M112.6,680.1h0.8M106.8,680.3h0.8M118.8,692.3h0.8M128.1,684.9h0.8M124.0,676.9h0.8M109.3,687.8h0.8M120.9,688.3h0.8M110.0,681.4h0.8M118.1,690.3h0.8M123.5,681.8h0.8M107.7,677.3h0.8M104.3,683.3h0.8M112.9,689.3h0.8M115.6,682.0h0.8M116.7,692.3h0.8M107.4,690.0h0.8M124.0,691.3h0.8M110.9,687.4h0.8M125.5,696.7h0.8M122.4,675.1h0.8M121.7,698.3h0.8M127.6,696.3h0.8M113.8,682.9h0.8M123.1,689.9h0.8M115.5,700.8h0.8M120.2,683.3h0.8M114.1,693.8h0.8M128.3,679.6h0.8M123.1,690.5h0.8M123.7,677.9h0.8M125.2,692.7h0.8M121.4,685.9h0.8M126.1,688.7h0.8M119.0,701.4h0.8M106.4,679.0h0.8M125.4,693.7h0.8M114.1,695.9h0.8M123.2,685.3h0.8M103.8,686.2h0.8M122.8,681.2h0.8M122.4,695.1h0.8M106.5,694.8h0.8M115.0,699.4h0.8M111.3,687.1h0.8M111.9,698.1h0.8M118.6,701.6h0.8M121.7,676.0h0.8M113.4,677.5h0.8M120.5,698.5h0.8M111.3,678.8h0.8M125.4,678.6h0.8M107.9,683.5h0.8M116.3,691.8h0.8M114.9,677.9h0.8M125.8,686.8h0.8M115.2,684.9h0.8M108.5,686.3h0.8M112.3,695.1h0.8M123.6,677.9h0.8M107.6,691.4h0.8M105.5,691.0h0.8M121.7,701.4h0.8M118.4,695.7h0.8M125.3,698.8h0.8M106.3,688.2h0.8M113.3,676.6h0.8M115.1,697.8h0.8M107.4,680.4h0.8M117.8,699.2h0.8M128.7,685.5h0.8M125.7,688.3h0.8M123.2,688.6h0.8M104.0,681.8h0.8M117.1,691.3h0.8M112.2,682.1h0.8M109.5,696.2h0.8M116.9,695.9h0.8M111.5,685.3h0.8M124.7,680.7h0.8M118.5,691.3h0.8M123.8,680.2h0.8M126.0,691.3h0.8M128.0,695.3h0.8M112.9,676.8h0.8M110.9,697.2h0.8M121.9,676.4h0.8M116.5,675.6h0.8M118.5,702.6h0.8M105.6,687.2h0.8M108.8,684.6h0.8M122.9,675.5h0.8M125.7,694.8h0.8M113.5,691.9h0.8M112.7,697.6h0.8M103.7,688.6h0.8M112.0,678.8h0.8M119.8,699.0h0.8M111.8,697.0h0.8M120.3,678.6h0.8M108.5,694.2h0.8M109.3,694.3h0.8M104.7,681.9h0.8M127.4,675.1h0.8M113.2,681.3h0.8M107.8,682.9h0.8M115.7,690.5h0.8M108.3,695.4h0.8M127.1,693.0h0.8M114.3,682.0h0.8M119.1,694.4h0.8M112.4,690.5h0.8M127.2,679.6h0.8M117.0,691.1h0.8M108.1,682.9h0.8M109.4,684.4h0.8M117.5,702.3h0.8M122.8,690.2h0.8M112.1,690.6h0.8M120.7,676.5h0.8M108.8,688.4h0.8M127.5,690.3h0.8M114.9,682.4h0.8M119.9,679.6h0.8M109.9,676.5h0.8M104.2,685.8h0.8M111.7,678.3h0.8M126.9,697.3h0.8M118.2,683.4h0.8M116.6,677.7h0.8M113.9,681.4h0.8M104.0,683.0h0.8M120.3,687.0h0.8M112.8,700.3h0.8M116.7,697.5h0.8M113.6,692.6h0.8M113.9,684.8h0.8M111.0,687.1h0.8M119.4,688.0h0.8M104.0,684.0h0.8M125.1,689.3h0.8M119.6,679.8h0.8M129.5,679.8h0.8M112.3,697.5h0.8M113.9,681.2h0.8M123.3,688.4h0.8M111.1,692.9h0.8M127.2,697.1h0.8M115.4,699.8h0.8M121.3,677.2h0.8M122.8,687.5h0.8M121.4,682.4h0.8M106.8,691.8h0.8M124.4,698.2h0.8M127.8,679.8h0.8M117.8,700.7h0.8M124.3,692.3h0.8M122.1,695.0h0.8M119.2,685.9h0.8M108.0,687.9h0.8M104.9,689.2h0.8M111.4,678.9h0.8" stroke="#dddddf" stroke-width="0.8" opacity="0.9" />
<path d="M102.5,681.8h0.8M127.8,675.0h0.8M124.1,698.2h0.8M127.5,691.4h0.8M121.7,702.1h0.8M107.1,678.6h0.8M128.5,691.6h0.8M127.2,677.3h0.8M106.0,678.2h0.8M123.5,673.1h0.8M114.1,676.0h0.8M121.2,701.3h0.8M104.5,683.1h0.8" stroke="#8f8f96" stroke-width="0.8" />
</g>
<text x="226.5" y="581.6" font-size="12.7" fill="#000" >Granulocyte</text>
<text x="220.5" y="619.4" font-size="12.7" fill="#000" >Mac/mono</text>
<text x="321.9" y="637.7" font-size="12.7" fill="#000" >T cell</text>
<text x="250.9" y="661.4" font-size="12.7" fill="#000" >cDC</text>
<text x="288.7" y="649.0" font-size="12.7" fill="#000" >LC</text>
<text x="214.1" y="704.3" font-size="12.7" fill="#000" >CCR7<tspan dy="-4.6" font-size="9.2">+</tspan><tspan dy="4.6"> DC</tspan></text>
<text x="288.7" y="713.4" font-size="12.7" fill="#000" >Mast cell</text>
<line x1="17.1" y1="726.2" x2="17.1" y2="701.0" stroke="#000" stroke-width="1.8" />
<polygon points="17.1,694.8 20.5,702.8 13.7,702.8" fill="#000"/>
<line x1="16.2" y1="725.4" x2="47.0" y2="725.4" stroke="#000" stroke-width="1.8" />
<polygon points="53.2,725.4 45.2,728.8 45.2,722.0" fill="#000"/>
<text x="17.1" y="743.3" font-size="12.6" fill="#000" >UMAP</text>
<text transform="translate(9.8,726.7) rotate(-90)" font-size="12.6" fill="#000">UMAP</text>
<text x="381.6" y="508.6" font-size="24.5" fill="#000" >h</text>
<text x="407.6" y="512.6" font-size="13.3" fill="#000" ><tspan font-style="italic">Il4i1</tspan><tspan dy="-4.5" font-size="8.5">cre</tspan><tspan dy="4.5">DTR+IMQ</tspan></text>
<text x="542.9" y="513.2" font-size="13.3" fill="#000" ><tspan font-style="italic">Il4i1</tspan><tspan dy="-4.5" font-size="8.5">cre</tspan><tspan dy="4.5">DTR+DT+IMQ</tspan></text>
<text transform="translate(666.9,556.6) rotate(90)" font-size="12.8" fill="#000">Il23a</text>
<text transform="translate(666.9,670.6) rotate(90)" font-size="12.8" fill="#000">Il12b</text>
<line x1="398.5" y1="529.3" x2="398.5" y2="617.4" stroke="#444" stroke-width="0.7" />
<line x1="398.1" y1="617.0" x2="516.0" y2="617.0" stroke="#444" stroke-width="0.7" />
<line x1="396.5" y1="534.0" x2="398.5" y2="534.0" stroke="#333" stroke-width="0.7" />
<text x="395.5" y="535.8" font-size="5.3" text-anchor="end" fill="#333" >15</text>
<line x1="396.5" y1="548.0" x2="398.5" y2="548.0" stroke="#333" stroke-width="0.7" />
<text x="395.5" y="549.8" font-size="5.3" text-anchor="end" fill="#333" >10</text>
<line x1="396.5" y1="562.0" x2="398.5" y2="562.0" stroke="#333" stroke-width="0.7" />
<text x="395.5" y="563.8" font-size="5.3" text-anchor="end" fill="#333" >5</text>
<line x1="396.5" y1="576.3" x2="398.5" y2="576.3" stroke="#333" stroke-width="0.7" />
<text x="395.5" y="578.1" font-size="5.3" text-anchor="end" fill="#333" >0</text>
<line x1="396.5" y1="590.5" x2="398.5" y2="590.5" stroke="#333" stroke-width="0.7" />
<text x="395.5" y="592.3" font-size="5.3" text-anchor="end" fill="#333" >-5</text>
<line x1="396.5" y1="604.8" x2="398.5" y2="604.8" stroke="#333" stroke-width="0.7" />
<text x="395.5" y="606.6" font-size="5.3" text-anchor="end" fill="#333" >-10</text>
<line x1="417.2" y1="617.0" x2="417.2" y2="618.8" stroke="#333" stroke-width="0.7" />
<text x="417.2" y="624.4" font-size="5.3" text-anchor="middle" fill="#333" >-10</text>
<line x1="451.6" y1="617.0" x2="451.6" y2="618.8" stroke="#333" stroke-width="0.7" />
<text x="451.6" y="624.4" font-size="5.3" text-anchor="middle" fill="#333" >0</text>
<line x1="486.1" y1="617.0" x2="486.1" y2="618.8" stroke="#333" stroke-width="0.7" />
<text x="486.1" y="624.4" font-size="5.3" text-anchor="middle" fill="#333" >10</text>
<text x="457.2" y="630.7" font-size="5.8" text-anchor="middle" fill="#333" >UMAP_1</text>
<text transform="translate(387.7,574.0) rotate(-90)" font-size="5.9" text-anchor="middle" fill="#333">UMAP_2</text>
<g transform="translate(376.18,136.01) scale(0.652,0.676)">
<path d="M92.5,588.0 C92.7,587.1 93.2,585.8 94.0,585.2 C94.8,584.6 96.6,584.3 97.0,584.6 C97.4,584.9 96.9,586.0 96.5,587.0 C96.1,588.0 95.4,590.2 94.8,590.8 C94.2,591.4 93.1,591.1 92.7,590.6 C92.3,590.1 92.3,588.9 92.5,588.0Z" fill="#e6e6e6" />
<path d="M95.4,585.8h1.2M96.3,586.8h1.2M94.6,588.9h1.2M95.0,585.1h1.2" stroke="#f7f7f7" stroke-width="1.2" opacity="0.9" />
<path d="M95.0,588.2h1.2M92.1,590.5h1.2" stroke="#e6e6e6" stroke-width="1.2" />
<path d="M74.7,623.3 C75.9,622.0 77.3,621.3 78.8,620.7 C80.3,620.1 81.9,620.0 83.9,619.7 C86.0,619.4 88.9,618.8 91.1,618.7 C93.3,618.6 95.8,618.6 97.2,619.0 C98.6,619.4 98.9,619.8 99.3,621.2 C99.7,622.6 100.0,625.5 99.8,627.4 C99.6,629.3 99.3,630.7 98.2,632.5 C97.1,634.3 94.8,636.9 93.1,638.1 C91.4,639.3 89.9,639.4 88.0,639.6 C86.1,639.8 83.6,639.4 81.9,639.1 C80.2,638.8 79.2,638.0 77.8,637.6 C76.4,637.2 75.1,636.8 73.7,636.8 C72.3,636.8 70.8,637.1 69.6,637.6 C68.4,638.1 67.4,639.4 66.6,639.6 C65.8,639.9 65.3,639.4 64.5,639.1 C63.6,638.9 62.5,638.3 61.5,638.1 C60.5,637.9 59.8,638.0 58.4,638.1 C57.0,638.2 54.4,638.4 53.3,638.6 C52.2,638.9 51.8,639.2 51.8,639.6 C51.8,640.0 53.7,640.1 53.3,640.7 C52.9,641.3 49.7,642.7 49.2,643.2 C48.7,643.7 49.0,644.0 50.2,643.7 C51.4,643.4 54.0,641.7 56.4,641.2 C58.8,640.7 63.0,641.5 64.5,640.7 C66.0,639.9 64.8,637.8 65.5,636.6 C66.2,635.4 67.6,634.9 68.6,633.5 C69.6,632.1 70.7,630.1 71.7,628.4 C72.7,626.7 73.5,624.6 74.7,623.3Z" fill="#e6e6e6" />
<path d="M78.6,630.6h1.2M75.2,623.6h1.2M96.0,625.8h1.2M83.8,637.5h1.2M86.1,624.0h1.2M74.5,629.7h1.2M90.0,630.9h1.2M90.2,620.3h1.2M52.6,642.1h1.2M92.4,627.3h1.2M72.4,632.7h1.2M89.6,637.3h1.2M80.3,628.3h1.2M72.8,633.8h1.2M73.4,626.9h1.2M87.8,622.6h1.2M81.1,638.8h1.2M91.4,633.0h1.2M59.3,638.5h1.2M80.0,626.5h1.2M93.1,627.2h1.2M88.5,621.3h1.2M92.3,619.7h1.2M74.1,632.1h1.2M82.3,620.1h1.2M91.6,625.0h1.2M75.4,635.9h1.2M90.8,629.3h1.2M91.9,633.8h1.2M60.9,640.3h1.2M54.0,641.5h1.2M67.9,638.5h1.2M87.6,624.4h1.2M85.0,637.5h1.2M91.0,620.9h1.2M94.2,632.0h1.2M93.8,620.2h1.2M92.2,629.9h1.2M91.8,625.9h1.2M94.7,627.8h1.2M80.6,620.5h1.2M91.1,622.5h1.2M94.6,625.8h1.2M98.3,623.6h1.2M90.2,630.9h1.2M88.0,629.0h1.2M83.4,627.7h1.2M78.6,630.1h1.2M73.2,632.2h1.2M56.4,639.4h1.2M88.9,633.8h1.2M98.2,627.5h1.2M84.1,636.8h1.2M84.8,631.1h1.2M92.0,630.9h1.2M83.1,627.0h1.2M73.4,633.9h1.2M79.1,625.0h1.2M80.2,629.2h1.2M78.4,622.0h1.2M74.2,629.8h1.2M77.2,630.1h1.2M73.8,627.4h1.2M95.2,626.6h1.2M93.3,626.8h1.2M90.3,634.6h1.2M53.1,642.3h1.2M91.9,636.9h1.2M80.3,627.3h1.2M81.1,620.8h1.2M57.8,640.9h1.2M88.3,638.9h1.2M75.7,629.0h1.2M85.9,622.0h1.2M95.7,630.6h1.2M94.6,619.5h1.2M72.2,636.0h1.2M86.4,626.9h1.2M98.3,621.0h1.2M82.4,628.2h1.2M90.3,628.6h1.2M76.4,634.5h1.2M84.5,636.6h1.2M84.4,634.4h1.2M87.5,625.3h1.2M89.1,636.7h1.2M86.8,619.8h1.2M61.0,639.7h1.2M73.6,627.8h1.2M82.5,631.8h1.2M89.6,629.3h1.2M81.0,630.9h1.2M58.5,638.4h1.2M86.7,634.7h1.2M84.3,622.8h1.2M98.0,629.4h1.2M95.8,633.0h1.2M77.4,630.6h1.2M81.0,628.0h1.2M85.5,631.0h1.2M89.3,637.4h1.2M72.9,632.0h1.2M82.0,627.8h1.2M88.6,635.7h1.2M77.1,625.1h1.2M91.2,634.9h1.2M75.2,624.2h1.2M89.1,622.6h1.2M86.2,619.7h1.2M78.0,622.9h1.2M79.4,636.2h1.2M83.6,630.2h1.2M94.8,632.4h1.2M94.5,621.2h1.2M84.5,632.0h1.2M95.0,632.1h1.2" stroke="#f7f7f7" stroke-width="1.2" opacity="0.9" />
<path d="M64.7,638.7h1.2M61.5,636.5h1.2M90.1,617.6h1.2M85.2,641.5h1.2M84.2,620.2h1.2M65.4,639.6h1.2M91.0,617.9h1.2M49.7,639.1h1.2M92.7,638.2h1.2M64.5,638.6h1.2M76.5,620.3h1.2M52.6,640.4h1.2M82.0,619.5h1.2M93.9,635.8h1.2M51.1,640.8h1.2" stroke="#e6e6e6" stroke-width="1.2" />
<path d="M65.5,640.1 C66.5,639.6 69.0,639.4 70.7,639.1 C72.4,638.8 75.1,637.8 75.8,638.1 C76.5,638.4 75.4,639.8 74.7,640.7 C74.0,641.6 72.6,642.5 71.7,643.7 C70.8,644.9 70.1,646.3 69.6,647.8 C69.1,649.3 68.8,651.0 68.6,652.9 C68.3,654.8 68.3,657.6 68.1,659.0 C67.8,660.4 67.9,660.9 67.1,661.1 C66.3,661.3 64.8,660.5 63.5,660.1 C62.2,659.8 60.8,658.4 59.4,659.0 C58.0,659.6 56.1,662.9 55.3,663.6 C54.4,664.3 53.8,664.0 54.3,663.1 C54.8,662.2 57.9,659.0 58.4,658.0 C58.9,657.0 56.9,657.3 57.4,657.0 C57.9,656.7 60.7,657.0 61.5,656.0 C62.3,655.0 61.8,652.6 62.0,650.9 C62.2,649.2 62.6,647.2 63.0,645.8 C63.4,644.3 64.1,643.2 64.5,642.2 C64.9,641.2 64.5,640.6 65.5,640.1Z" fill="#e6e6e6" />
<path d="M63.5,655.9h1.2M59.1,656.9h1.2M65.2,652.9h1.2M66.4,648.1h1.2M65.9,658.1h1.2M66.2,645.4h1.2M60.8,657.7h1.2M67.6,641.6h1.2M63.7,654.1h1.2M67.9,655.0h1.2M63.0,647.1h1.2M63.9,645.7h1.2M67.0,640.4h1.2M62.7,659.4h1.2M67.2,656.7h1.2M66.4,654.8h1.2M63.4,659.5h1.2M62.3,655.5h1.2M66.4,644.3h1.2M69.1,639.7h1.2M66.6,648.3h1.2M69.2,641.5h1.2M63.4,648.8h1.2M65.3,656.7h1.2M57.5,660.8h1.2M66.0,641.7h1.2M66.7,646.8h1.2M66.1,652.3h1.2M68.5,641.7h1.2M66.1,658.3h1.2M70.3,642.8h1.2M68.6,641.6h1.2M68.1,658.1h1.2M62.8,652.2h1.2M68.7,648.4h1.2M64.0,653.3h1.2M66.5,642.0h1.2M65.1,659.3h1.2M61.5,656.7h1.2M67.0,648.9h1.2M70.6,640.3h1.2M57.6,660.2h1.2M74.0,639.0h1.2" stroke="#f7f7f7" stroke-width="1.2" opacity="0.9" />
<path d="M61.4,654.0h1.2M64.7,643.5h1.2M66.5,657.0h1.2M57.1,658.9h1.2M55.5,662.4h1.2M58.5,656.4h1.2M66.2,658.6h1.2M56.7,656.8h1.2M61.7,655.2h1.2" stroke="#e6e6e6" stroke-width="1.2" />
<path d="M114.3,650.8 C114.4,650.2 115.8,649.1 116.9,649.3 C118.0,649.5 120.2,651.3 120.9,652.2 C121.6,653.1 121.5,654.5 121.2,654.8 C120.9,655.1 119.8,654.6 119.0,654.2 C118.2,653.8 117.3,653.2 116.5,652.6 C115.7,652.0 114.2,651.3 114.3,650.8Z" fill="#e6e6e6" />
<path d="M119.3,652.7h1.2M117.8,650.0h1.2M117.1,652.1h1.2M114.7,650.7h1.2" stroke="#f7f7f7" stroke-width="1.2" opacity="0.9" />
<path d="M115.3,649.5h1.2M121.5,655.6h1.2" stroke="#e6e6e6" stroke-width="1.2" />
<path d="M131.4,606.6 C132.0,605.9 133.0,606.0 134.0,605.9 C135.0,605.8 136.4,605.9 137.5,606.2 C138.6,606.5 139.7,606.9 140.6,607.5 C141.5,608.1 142.0,609.5 142.8,609.7 C143.6,609.9 144.5,609.4 145.4,608.8 C146.3,608.1 147.1,606.8 148.0,605.8 C148.9,604.8 149.7,604.1 150.7,603.1 C151.7,602.1 153.1,600.3 154.2,599.6 C155.3,598.9 156.5,598.6 157.2,598.8 C157.8,599.0 158.4,600.4 158.1,601.0 C157.8,601.6 156.6,601.7 155.5,602.3 C154.4,602.9 152.6,603.6 151.5,604.5 C150.4,605.4 149.5,606.4 148.9,607.5 C148.3,608.6 147.8,610.0 148.0,611.0 C148.2,612.0 149.5,612.7 150.2,613.6 C150.9,614.5 152.0,615.1 152.4,616.3 C152.8,617.5 153.0,619.4 152.8,620.7 C152.6,622.0 152.3,623.4 151.1,624.2 C149.9,625.0 147.4,625.3 145.4,625.5 C143.4,625.7 141.4,625.6 139.3,625.5 C137.2,625.4 134.7,625.1 133.1,624.6 C131.5,624.1 130.2,623.4 129.6,622.4 C128.9,621.4 129.1,620.2 129.2,618.9 C129.3,617.6 129.9,616.0 130.1,614.5 C130.3,613.0 130.3,611.4 130.5,610.1 C130.7,608.8 130.8,607.3 131.4,606.6Z" fill="#e6e6e6" />
<path d="M144.4,611.1h1.2M146.1,616.5h1.2M137.6,609.5h1.2M147.1,608.0h1.2M135.4,618.2h1.2M148.4,616.4h1.2M147.4,616.0h1.2M143.2,623.4h1.2M151.5,619.8h1.2M146.8,614.4h1.2M137.4,616.4h1.2M144.6,624.5h1.2M137.1,622.7h1.2M149.2,613.2h1.2M148.3,614.2h1.2M141.3,609.9h1.2M151.1,604.3h1.2M133.0,621.3h1.2M132.4,621.8h1.2M148.5,614.1h1.2M151.0,615.8h1.2M147.9,617.9h1.2M142.3,615.8h1.2M147.5,615.7h1.2M133.2,613.7h1.2M140.3,615.8h1.2M132.9,610.6h1.2M145.8,619.1h1.2M140.8,608.6h1.2M145.3,612.7h1.2M147.0,615.8h1.2M151.8,603.9h1.2M139.2,623.7h1.2M137.6,612.1h1.2M142.1,611.1h1.2M143.0,625.3h1.2M146.5,610.9h1.2M147.4,618.7h1.2M142.5,619.2h1.2M145.2,622.8h1.2M145.8,617.7h1.2M145.9,618.4h1.2M138.4,610.2h1.2M151.8,620.5h1.2M153.1,601.4h1.2M142.9,621.7h1.2M134.5,614.7h1.2M136.9,618.5h1.2M136.0,611.1h1.2M144.3,614.3h1.2M144.0,611.9h1.2M140.1,617.4h1.2M145.7,614.9h1.2M144.4,617.4h1.2M143.6,612.4h1.2M132.7,615.4h1.2M144.0,615.6h1.2M147.9,609.1h1.2M138.8,614.2h1.2M132.1,611.4h1.2M131.3,614.3h1.2M129.5,618.4h1.2M141.2,609.0h1.2M133.4,621.0h1.2M147.4,616.2h1.2M145.7,613.1h1.2M138.8,609.6h1.2M137.7,624.2h1.2M134.0,616.9h1.2M146.5,611.7h1.2M141.9,621.1h1.2M142.4,621.7h1.2M139.8,613.7h1.2M144.7,609.3h1.2M143.9,621.4h1.2M135.9,612.7h1.2M137.6,608.8h1.2M131.4,610.4h1.2M131.6,611.8h1.2M141.2,608.4h1.2M137.0,612.6h1.2M129.9,615.7h1.2M133.5,616.6h1.2M147.0,619.6h1.2M136.2,607.7h1.2M150.9,619.2h1.2M156.0,601.6h1.2M132.9,611.9h1.2M151.9,620.0h1.2M144.9,625.4h1.2M148.2,618.9h1.2M146.5,616.2h1.2M131.0,620.6h1.2M141.6,615.5h1.2M137.9,609.4h1.2M130.2,620.7h1.2M147.5,617.1h1.2M136.7,623.6h1.2" stroke="#f7f7f7" stroke-width="1.2" opacity="0.9" />
<path d="M148.5,607.5h1.2M142.0,608.3h1.2M156.7,603.5h1.2M136.6,624.7h1.2M155.3,599.5h1.2M129.9,612.1h1.2M132.3,606.9h1.2M152.6,618.7h1.2M139.8,607.8h1.2M131.2,606.5h1.2M130.2,620.4h1.2M129.6,611.9h1.2" stroke="#e6e6e6" stroke-width="1.2" />
<path d="M144.5,647.8 C144.6,646.8 145.1,646.6 146.3,646.1 C147.5,645.6 149.6,645.0 151.5,644.7 C153.4,644.4 155.6,644.1 157.7,644.1 C159.8,644.1 161.8,644.3 163.8,644.7 C165.8,645.1 168.3,645.5 169.9,646.5 C171.5,647.5 172.5,648.7 173.4,650.4 C174.3,652.1 175.4,655.0 175.6,656.6 C175.8,658.2 175.3,659.1 174.7,660.1 C174.0,661.1 172.9,661.8 171.7,662.7 C170.5,663.6 168.8,665.1 167.3,665.3 C165.8,665.4 164.4,664.5 162.9,663.6 C161.4,662.7 160.1,661.0 158.5,660.1 C156.9,659.2 154.9,659.0 153.3,658.3 C151.7,657.6 150.2,656.7 148.9,655.7 C147.7,654.7 146.5,653.5 145.8,652.2 C145.1,650.9 144.4,648.8 144.5,647.8Z" fill="#e6e6e6" />
<path d="M149.9,652.2h1.2M167.2,660.4h1.2M152.3,651.1h1.2M162.1,653.3h1.2M172.0,661.0h1.2M149.2,651.3h1.2M173.8,658.1h1.2M173.9,657.2h1.2M156.0,655.5h1.2M150.5,650.4h1.2M156.8,656.6h1.2M157.8,651.0h1.2M160.1,649.4h1.2M172.7,651.8h1.2M170.9,655.5h1.2M157.8,647.6h1.2M158.0,650.1h1.2M170.6,656.9h1.2M157.6,647.4h1.2M162.0,662.8h1.2M169.9,661.5h1.2M168.4,662.1h1.2M159.8,654.5h1.2M167.4,661.7h1.2M166.9,649.9h1.2M169.4,661.0h1.2M168.3,649.6h1.2M156.3,645.2h1.2M149.6,647.1h1.2M157.5,658.4h1.2M168.3,655.4h1.2M154.0,657.8h1.2M162.7,647.0h1.2M162.1,648.2h1.2M168.4,656.9h1.2M154.0,653.7h1.2M154.2,648.1h1.2M158.3,657.4h1.2M162.6,650.0h1.2M158.2,645.1h1.2M157.1,652.9h1.2M170.2,657.1h1.2M168.2,655.5h1.2M169.8,662.4h1.2M169.5,657.2h1.2M161.0,645.6h1.2M169.3,652.0h1.2M150.3,656.0h1.2M162.4,661.6h1.2M170.4,660.2h1.2M157.0,658.4h1.2M151.4,648.9h1.2M148.6,653.3h1.2M161.2,645.0h1.2M155.6,655.2h1.2M166.4,651.7h1.2M162.6,647.1h1.2M158.3,646.3h1.2M169.7,662.9h1.2M160.7,658.6h1.2M165.6,663.4h1.2M153.5,647.5h1.2M156.2,653.3h1.2M150.9,645.0h1.2M169.6,658.9h1.2M167.1,652.3h1.2M168.6,652.7h1.2M163.9,650.1h1.2M158.2,659.2h1.2M155.5,654.9h1.2M146.5,650.8h1.2M172.9,658.1h1.2M162.0,647.4h1.2M163.1,659.6h1.2M167.2,651.1h1.2M169.3,660.9h1.2M156.4,651.2h1.2M154.7,648.6h1.2M159.0,659.5h1.2M145.8,647.0h1.2M150.5,651.2h1.2M168.9,646.6h1.2M166.4,658.5h1.2M160.2,660.4h1.2M147.6,652.4h1.2M169.6,662.1h1.2M172.7,658.3h1.2M165.6,646.3h1.2M148.6,649.8h1.2M161.5,649.4h1.2M160.8,648.6h1.2M169.9,662.5h1.2M161.3,659.7h1.2M173.8,652.4h1.2M169.2,650.6h1.2M173.5,652.8h1.2M157.5,647.1h1.2M170.5,655.6h1.2M170.3,650.3h1.2M147.1,647.2h1.2M167.0,654.8h1.2M169.1,651.9h1.2M164.6,656.2h1.2M166.3,648.2h1.2M163.1,663.6h1.2M156.5,647.3h1.2M168.6,651.5h1.2M154.7,648.9h1.2" stroke="#f7f7f7" stroke-width="1.2" opacity="0.9" />
<path d="M174.1,657.0h1.2M163.5,643.6h1.2M149.2,654.3h1.2M159.8,662.5h1.2M154.3,645.9h1.2M152.0,645.5h1.2M173.2,653.4h1.2M147.2,642.1h1.2M175.7,655.6h1.2" stroke="#e6e6e6" stroke-width="1.2" />
<path d="M63.0,680.7 C64.3,680.8 66.8,680.0 68.3,680.5 C69.8,681.0 71.2,682.1 72.3,683.4 C73.4,684.7 75.0,687.0 75.0,688.3 C75.0,689.6 73.9,690.9 72.6,691.2 C71.3,691.5 68.4,690.9 67.0,690.0 C65.6,689.1 65.6,687.3 64.4,686.0 C63.2,684.7 61.6,683.1 60.0,682.0 C58.4,680.9 55.7,679.9 55.0,679.3 C54.3,678.7 54.7,678.1 55.6,678.2 C56.5,678.4 59.3,679.8 60.5,680.2 C61.7,680.6 61.7,680.7 63.0,680.7Z" fill="#e6e6e6" />
<path d="M69.6,688.2h1.2M69.7,682.7h1.2M72.2,684.8h1.2M66.4,683.0h1.2M57.3,679.9h1.2M74.4,688.6h1.2M67.5,687.6h1.2M68.4,686.5h1.2M68.6,687.3h1.2M73.8,689.3h1.2M64.6,681.5h1.2M61.4,680.5h1.2M59.1,679.8h1.2M64.3,684.0h1.2M65.2,686.5h1.2M72.7,686.5h1.2M59.9,680.9h1.2M65.1,680.8h1.2M70.0,684.8h1.2M71.1,683.3h1.2M70.4,687.4h1.2M69.3,686.5h1.2M60.4,681.4h1.2M65.6,685.9h1.2M71.9,685.5h1.2" stroke="#f7f7f7" stroke-width="1.2" opacity="0.9" />
<path d="M56.8,679.8h1.2M66.7,688.5h1.2M56.6,677.8h1.2M62.8,682.8h1.2M58.8,681.7h1.2M64.7,680.1h1.2" stroke="#e6e6e6" stroke-width="1.2" />
<path d="M103.8,682.0 C104.5,680.0 105.7,678.0 107.7,676.8 C109.7,675.5 113.0,674.9 115.6,674.5 C118.2,674.1 121.2,674.3 123.5,674.4 C125.8,674.5 128.5,674.0 129.6,675.3 C130.7,676.6 130.3,679.1 130.2,682.0 C130.1,684.9 129.6,689.4 128.9,692.5 C128.2,695.6 127.9,698.6 126.3,700.4 C124.7,702.2 121.7,703.3 119.5,703.4 C117.3,703.5 115.2,702.1 113.0,700.8 C110.8,699.5 108.0,697.4 106.4,695.4 C104.8,693.4 104.0,690.8 103.6,688.6 C103.2,686.4 103.1,684.0 103.8,682.0Z" fill="#e6e6e6" />
<path d="M108.2,696.5h1.2M128.6,678.0h1.2M114.9,690.7h1.2M110.7,693.9h1.2M125.4,688.5h1.2M119.9,675.0h1.2M127.0,678.2h1.2M110.9,698.5h1.2M108.3,680.0h1.2M113.0,696.5h1.2M125.9,699.6h1.2M107.0,695.9h1.2M121.2,700.9h1.2M117.2,694.7h1.2M105.3,684.3h1.2M126.7,687.7h1.2M116.4,688.5h1.2M117.2,689.0h1.2M122.5,688.1h1.2M118.5,681.5h1.2M110.0,682.7h1.2M115.8,687.6h1.2M108.5,681.9h1.2M109.9,694.6h1.2M109.8,692.8h1.2M123.7,695.7h1.2M127.5,689.4h1.2M125.8,695.4h1.2M123.0,693.8h1.2M123.6,683.8h1.2M115.9,682.6h1.2M123.7,696.1h1.2M112.9,689.0h1.2M117.0,700.7h1.2M122.6,700.8h1.2M120.7,701.1h1.2M124.6,693.9h1.2M103.7,684.8h1.2M105.5,691.3h1.2M122.9,688.4h1.2M113.7,694.0h1.2M127.3,695.9h1.2M105.6,681.7h1.2M121.4,692.5h1.2M121.6,681.8h1.2M119.6,676.6h1.2M121.7,678.9h1.2M113.3,697.7h1.2M117.9,694.9h1.2M114.1,689.8h1.2M107.3,695.6h1.2M118.8,681.0h1.2M110.3,681.6h1.2M120.1,683.1h1.2M115.1,691.0h1.2M115.9,695.2h1.2M107.2,677.8h1.2M124.3,677.4h1.2M127.2,684.2h1.2M128.7,682.8h1.2M123.8,686.9h1.2M128.9,683.4h1.2M126.2,694.2h1.2M109.4,697.2h1.2M119.8,682.2h1.2M121.9,680.9h1.2M125.4,699.3h1.2M128.1,681.4h1.2M123.0,689.7h1.2M128.2,675.7h1.2M110.8,693.6h1.2M112.3,684.9h1.2M125.1,681.7h1.2M119.9,698.2h1.2M120.2,699.0h1.2M112.8,700.2h1.2M108.7,687.2h1.2M124.2,688.1h1.2M120.4,690.2h1.2M123.8,687.6h1.2M113.1,696.1h1.2M113.6,678.0h1.2M109.9,686.3h1.2M110.3,697.7h1.2M126.2,698.4h1.2M113.2,689.6h1.2M119.1,698.2h1.2M118.2,698.5h1.2M109.6,678.0h1.2M121.0,689.6h1.2M110.0,682.8h1.2M119.5,691.4h1.2M107.3,694.8h1.2M126.6,697.3h1.2M128.6,691.7h1.2M127.4,690.3h1.2M109.6,689.0h1.2M113.2,696.1h1.2M115.1,679.3h1.2M115.8,679.3h1.2M116.9,692.8h1.2M111.2,688.4h1.2M113.6,696.6h1.2M118.1,682.0h1.2M115.5,697.6h1.2M110.8,692.7h1.2M118.8,684.4h1.2M116.7,701.8h1.2M127.6,683.7h1.2M115.7,675.8h1.2M110.1,690.3h1.2M117.3,694.1h1.2M109.1,680.1h1.2M114.1,688.3h1.2M127.2,697.0h1.2M121.5,689.0h1.2M121.1,688.9h1.2M119.1,699.1h1.2M119.6,697.1h1.2M123.7,680.7h1.2M116.2,692.6h1.2M129.1,680.8h1.2M104.4,687.0h1.2M121.6,683.9h1.2M116.0,684.7h1.2M106.6,684.2h1.2M111.2,679.8h1.2M124.1,687.9h1.2M126.1,674.8h1.2M122.0,693.1h1.2M111.1,681.8h1.2M118.7,701.4h1.2M127.0,682.9h1.2M117.7,693.8h1.2M117.7,701.8h1.2M121.9,685.1h1.2M117.5,687.8h1.2M126.6,691.1h1.2M111.3,697.3h1.2M122.3,698.4h1.2M128.6,684.6h1.2M126.5,675.9h1.2M112.9,686.4h1.2M129.4,679.7h1.2M108.5,683.2h1.2M125.4,689.3h1.2M110.5,697.3h1.2M117.8,679.0h1.2M129.5,684.0h1.2M119.4,678.5h1.2M107.0,678.9h1.2M122.3,692.9h1.2" stroke="#f7f7f7" stroke-width="1.2" opacity="0.9" />
<path d="M113.0,701.9h1.2M121.4,704.5h1.2M123.8,703.2h1.2M118.5,672.3h1.2M102.2,683.7h1.2M123.7,673.2h1.2M125.5,697.6h1.2M117.2,673.6h1.2M104.6,678.1h1.2M123.8,700.5h1.2" stroke="#e6e6e6" stroke-width="1.2" />
</g>
<circle cx="437.6" cy="535.9" r="1.04" fill="#f03a2a" opacity="0.8"/>
<circle cx="437.0" cy="537.2" r="0.88" fill="#f03a2a" opacity="0.8"/>
<circle cx="426.6" cy="558.5" r="0.64" fill="#f03a2a" opacity="0.8"/>
<circle cx="427.7" cy="564.4" r="0.56" fill="#f03a2a" opacity="0.8"/>
<circle cx="430.0" cy="561.6" r="0.56" fill="#f03a2a" opacity="0.8"/>
<circle cx="434.7" cy="557.4" r="0.64" fill="#f03a2a" opacity="0.8"/>
<circle cx="438.3" cy="555.0" r="0.56" fill="#f03a2a" opacity="0.8"/>
<circle cx="420.3" cy="577.9" r="0.64" fill="#f03a2a" opacity="0.8"/>
<circle cx="421.2" cy="577.2" r="0.48" fill="#f03a2a" opacity="0.8"/>
<circle cx="409.0" cy="569.0" r="0.48" fill="#f03a2a" opacity="0.8"/>
<circle cx="413.7" cy="567.9" r="0.48" fill="#f03a2a" opacity="0.8"/>
<circle cx="462.1" cy="553.4" r="0.64" fill="#f03a2a" opacity="0.8"/>
<circle cx="469.8" cy="557.8" r="0.48" fill="#f03a2a" opacity="0.8"/>
<circle cx="472.1" cy="578.4" r="0.56" fill="#f03a2a" opacity="0.8"/>
<circle cx="482.6" cy="581.9" r="0.48" fill="#f03a2a" opacity="0.8"/>
<circle cx="452.3" cy="576.5" r="0.56" fill="#f03a2a" opacity="0.8"/>
<circle cx="454.6" cy="577.2" r="0.48" fill="#f03a2a" opacity="0.8"/>
<circle cx="418.4" cy="599.4" r="0.72" fill="#f03a2a" opacity="0.8"/>
<circle cx="421.2" cy="600.6" r="0.72" fill="#f03a2a" opacity="0.8"/>
<circle cx="423.1" cy="602.2" r="0.64" fill="#f03a2a" opacity="0.8"/>
<circle cx="419.6" cy="597.1" r="0.64" fill="#f03a2a" opacity="0.8"/>
<circle cx="451.6" cy="594.3" r="0.40" fill="#f03a2a" opacity="0.8"/>
<circle cx="451.1" cy="607.6" r="0.40" fill="#f03a2a" opacity="0.8"/>
<ellipse cx="418.4" cy="598.7" rx="16.6" ry="10.6" transform="rotate(14 418.4 598.7)" fill="none" stroke="#555" stroke-width="1.4" stroke-dasharray="3.8,2.2"/>
<line x1="545.0" y1="529.3" x2="545.0" y2="617.4" stroke="#444" stroke-width="0.7" />
<line x1="544.6" y1="617.0" x2="662.5" y2="617.0" stroke="#444" stroke-width="0.7" />
<line x1="543.0" y1="534.0" x2="545.0" y2="534.0" stroke="#333" stroke-width="0.7" />
<text x="542.0" y="535.8" font-size="5.3" text-anchor="end" fill="#333" >15</text>
<line x1="543.0" y1="548.0" x2="545.0" y2="548.0" stroke="#333" stroke-width="0.7" />
<text x="542.0" y="549.8" font-size="5.3" text-anchor="end" fill="#333" >10</text>
<line x1="543.0" y1="562.0" x2="545.0" y2="562.0" stroke="#333" stroke-width="0.7" />
<text x="542.0" y="563.8" font-size="5.3" text-anchor="end" fill="#333" >5</text>
<line x1="543.0" y1="576.3" x2="545.0" y2="576.3" stroke="#333" stroke-width="0.7" />
<text x="542.0" y="578.1" font-size="5.3" text-anchor="end" fill="#333" >0</text>
<line x1="543.0" y1="590.5" x2="545.0" y2="590.5" stroke="#333" stroke-width="0.7" />
<text x="542.0" y="592.3" font-size="5.3" text-anchor="end" fill="#333" >-5</text>
<line x1="543.0" y1="604.8" x2="545.0" y2="604.8" stroke="#333" stroke-width="0.7" />
<text x="542.0" y="606.6" font-size="5.3" text-anchor="end" fill="#333" >-10</text>
<line x1="563.7" y1="617.0" x2="563.7" y2="618.8" stroke="#333" stroke-width="0.7" />
<text x="563.7" y="624.4" font-size="5.3" text-anchor="middle" fill="#333" >-10</text>
<line x1="598.1" y1="617.0" x2="598.1" y2="618.8" stroke="#333" stroke-width="0.7" />
<text x="598.1" y="624.4" font-size="5.3" text-anchor="middle" fill="#333" >0</text>
<line x1="632.6" y1="617.0" x2="632.6" y2="618.8" stroke="#333" stroke-width="0.7" />
<text x="632.6" y="624.4" font-size="5.3" text-anchor="middle" fill="#333" >10</text>
<text x="603.7" y="630.7" font-size="5.8" text-anchor="middle" fill="#333" >UMAP_1</text>
<text transform="translate(534.2,574.0) rotate(-90)" font-size="5.9" text-anchor="middle" fill="#333">UMAP_2</text>
<g transform="translate(522.68,136.01) scale(0.652,0.676)">
<path d="M92.5,588.0 C92.7,587.1 93.2,585.8 94.0,585.2 C94.8,584.6 96.6,584.3 97.0,584.6 C97.4,584.9 96.9,586.0 96.5,587.0 C96.1,588.0 95.4,590.2 94.8,590.8 C94.2,591.4 93.1,591.1 92.7,590.6 C92.3,590.1 92.3,588.9 92.5,588.0Z" fill="#e6e6e6" />
<path d="M96.5,586.7h1.2M93.8,590.6h1.2M95.7,585.8h1.2M93.8,589.4h1.2" stroke="#f7f7f7" stroke-width="1.2" opacity="0.9" />
<path d="M92.0,591.5h1.2M97.6,586.2h1.2" stroke="#e6e6e6" stroke-width="1.2" />
<path d="M74.7,623.3 C75.9,622.0 77.3,621.3 78.8,620.7 C80.3,620.1 81.9,620.0 83.9,619.7 C86.0,619.4 88.9,618.8 91.1,618.7 C93.3,618.6 95.8,618.6 97.2,619.0 C98.6,619.4 98.9,619.8 99.3,621.2 C99.7,622.6 100.0,625.5 99.8,627.4 C99.6,629.3 99.3,630.7 98.2,632.5 C97.1,634.3 94.8,636.9 93.1,638.1 C91.4,639.3 89.9,639.4 88.0,639.6 C86.1,639.8 83.6,639.4 81.9,639.1 C80.2,638.8 79.2,638.0 77.8,637.6 C76.4,637.2 75.1,636.8 73.7,636.8 C72.3,636.8 70.8,637.1 69.6,637.6 C68.4,638.1 67.4,639.4 66.6,639.6 C65.8,639.9 65.3,639.4 64.5,639.1 C63.6,638.9 62.5,638.3 61.5,638.1 C60.5,637.9 59.8,638.0 58.4,638.1 C57.0,638.2 54.4,638.4 53.3,638.6 C52.2,638.9 51.8,639.2 51.8,639.6 C51.8,640.0 53.7,640.1 53.3,640.7 C52.9,641.3 49.7,642.7 49.2,643.2 C48.7,643.7 49.0,644.0 50.2,643.7 C51.4,643.4 54.0,641.7 56.4,641.2 C58.8,640.7 63.0,641.5 64.5,640.7 C66.0,639.9 64.8,637.8 65.5,636.6 C66.2,635.4 67.6,634.9 68.6,633.5 C69.6,632.1 70.7,630.1 71.7,628.4 C72.7,626.7 73.5,624.6 74.7,623.3Z" fill="#e6e6e6" />
<path d="M73.0,633.0h1.2M92.7,620.2h1.2M91.9,638.2h1.2M82.7,636.9h1.2M97.9,628.1h1.2M55.2,641.3h1.2M52.9,641.5h1.2M76.4,628.8h1.2M83.3,622.3h1.2M74.7,636.1h1.2M89.1,621.3h1.2M99.6,626.1h1.2M83.4,631.0h1.2M99.3,626.0h1.2M95.0,620.4h1.2M82.3,625.4h1.2M94.3,624.5h1.2M95.4,619.0h1.2M96.0,631.5h1.2M91.6,624.6h1.2M79.3,622.5h1.2M51.9,639.6h1.2M94.8,627.2h1.2M69.6,636.0h1.2M95.8,631.2h1.2M84.2,638.1h1.2M97.5,631.3h1.2M83.3,622.2h1.2M82.6,629.3h1.2M84.8,622.8h1.2M79.9,626.6h1.2M88.4,621.7h1.2M70.5,630.4h1.2M86.2,634.1h1.2M84.2,621.5h1.2M69.8,635.1h1.2M80.9,623.8h1.2M91.3,620.1h1.2M79.3,621.8h1.2M90.5,629.4h1.2M89.0,635.0h1.2M76.0,632.6h1.2M88.3,638.2h1.2M90.7,635.7h1.2M95.1,631.4h1.2M96.7,619.4h1.2M77.8,624.7h1.2M54.5,641.3h1.2M84.0,636.1h1.2M70.3,633.2h1.2M65.3,638.8h1.2M83.6,623.0h1.2M89.5,627.0h1.2M93.2,637.3h1.2M96.8,630.5h1.2M75.5,629.1h1.2M91.4,625.9h1.2M77.0,623.0h1.2M98.3,622.1h1.2M98.9,626.1h1.2M75.7,632.2h1.2M85.6,626.1h1.2M93.1,619.4h1.2M80.7,626.4h1.2M71.4,635.0h1.2M89.7,625.6h1.2M78.5,628.1h1.2M73.7,628.4h1.2M99.2,624.5h1.2M67.7,637.7h1.2M91.1,622.9h1.2M98.4,626.2h1.2M78.0,625.2h1.2M87.8,632.2h1.2M92.3,636.1h1.2M89.2,631.5h1.2M83.6,621.2h1.2M72.3,628.8h1.2M79.3,633.2h1.2M80.3,632.2h1.2M82.0,634.6h1.2M74.8,636.2h1.2M83.0,631.8h1.2M99.3,624.5h1.2M93.2,619.2h1.2M84.5,638.5h1.2M88.7,634.7h1.2M96.7,623.6h1.2M74.7,634.9h1.2M76.9,628.0h1.2M93.7,619.9h1.2M81.2,628.1h1.2M90.8,624.8h1.2M93.6,627.0h1.2M55.9,639.3h1.2M80.6,623.9h1.2M89.9,620.2h1.2M86.7,626.3h1.2M54.3,639.8h1.2M88.3,638.3h1.2M98.3,631.6h1.2M84.0,638.5h1.2M74.8,625.4h1.2M79.9,623.2h1.2M95.0,635.2h1.2M93.2,631.4h1.2M98.2,631.8h1.2M95.1,627.4h1.2M91.8,622.7h1.2M76.8,622.6h1.2M97.3,623.5h1.2M81.5,632.3h1.2M77.4,633.0h1.2M78.8,634.2h1.2M93.0,629.3h1.2M82.6,626.1h1.2" stroke="#f7f7f7" stroke-width="1.2" opacity="0.9" />
<path d="M56.6,641.7h1.2M66.7,637.9h1.2M67.9,632.9h1.2M93.2,635.8h1.2M50.7,641.0h1.2M99.6,631.1h1.2M99.3,626.7h1.2M53.2,640.9h1.2M96.7,621.0h1.2M101.4,625.6h1.2M69.4,634.2h1.2M96.6,632.8h1.2M58.8,638.2h1.2M53.9,640.3h1.2M65.0,638.5h1.2" stroke="#e6e6e6" stroke-width="1.2" />
<path d="M65.5,640.1 C66.5,639.6 69.0,639.4 70.7,639.1 C72.4,638.8 75.1,637.8 75.8,638.1 C76.5,638.4 75.4,639.8 74.7,640.7 C74.0,641.6 72.6,642.5 71.7,643.7 C70.8,644.9 70.1,646.3 69.6,647.8 C69.1,649.3 68.8,651.0 68.6,652.9 C68.3,654.8 68.3,657.6 68.1,659.0 C67.8,660.4 67.9,660.9 67.1,661.1 C66.3,661.3 64.8,660.5 63.5,660.1 C62.2,659.8 60.8,658.4 59.4,659.0 C58.0,659.6 56.1,662.9 55.3,663.6 C54.4,664.3 53.8,664.0 54.3,663.1 C54.8,662.2 57.9,659.0 58.4,658.0 C58.9,657.0 56.9,657.3 57.4,657.0 C57.9,656.7 60.7,657.0 61.5,656.0 C62.3,655.0 61.8,652.6 62.0,650.9 C62.2,649.2 62.6,647.2 63.0,645.8 C63.4,644.3 64.1,643.2 64.5,642.2 C64.9,641.2 64.5,640.6 65.5,640.1Z" fill="#e6e6e6" />
<path d="M69.9,641.7h1.2M58.2,658.8h1.2M70.5,644.5h1.2M64.2,659.0h1.2M74.3,641.0h1.2M63.4,651.9h1.2M65.6,647.6h1.2M67.7,649.4h1.2M62.4,654.6h1.2M60.8,659.0h1.2M69.4,642.7h1.2M63.6,659.6h1.2M70.6,642.7h1.2M67.6,641.9h1.2M75.3,638.7h1.2M67.9,643.2h1.2M58.9,659.1h1.2M64.7,647.7h1.2M73.2,639.2h1.2M64.3,653.5h1.2M63.7,650.3h1.2M71.3,640.2h1.2M65.5,643.0h1.2M65.7,650.4h1.2M65.2,648.7h1.2M58.3,657.1h1.2M69.3,648.3h1.2M64.9,643.7h1.2M65.9,659.0h1.2M55.2,662.0h1.2M59.0,657.0h1.2M67.0,650.0h1.2M67.4,651.2h1.2M65.5,642.1h1.2M64.7,658.2h1.2M67.4,658.2h1.2M60.9,658.7h1.2M69.8,642.6h1.2M68.2,652.6h1.2M67.6,641.0h1.2M69.6,639.8h1.2M67.3,642.1h1.2M56.7,661.1h1.2" stroke="#f7f7f7" stroke-width="1.2" opacity="0.9" />
<path d="M65.9,641.1h1.2M69.0,659.1h1.2M63.0,658.8h1.2M59.4,658.2h1.2M64.2,643.7h1.2M70.7,654.7h1.2M58.9,653.4h1.2M72.0,643.4h1.2M62.2,642.7h1.2" stroke="#e6e6e6" stroke-width="1.2" />
<path d="M114.3,650.8 C114.4,650.2 115.8,649.1 116.9,649.3 C118.0,649.5 120.2,651.3 120.9,652.2 C121.6,653.1 121.5,654.5 121.2,654.8 C120.9,655.1 119.8,654.6 119.0,654.2 C118.2,653.8 117.3,653.2 116.5,652.6 C115.7,652.0 114.2,651.3 114.3,650.8Z" fill="#e6e6e6" />
<path d="M119.3,653.3h1.2M119.5,653.0h1.2M116.2,651.9h1.2M115.5,650.9h1.2" stroke="#f7f7f7" stroke-width="1.2" opacity="0.9" />
<path d="M119.1,651.0h1.2M120.2,654.8h1.2" stroke="#e6e6e6" stroke-width="1.2" />
<path d="M131.4,606.6 C132.0,605.9 133.0,606.0 134.0,605.9 C135.0,605.8 136.4,605.9 137.5,606.2 C138.6,606.5 139.7,606.9 140.6,607.5 C141.5,608.1 142.0,609.5 142.8,609.7 C143.6,609.9 144.5,609.4 145.4,608.8 C146.3,608.1 147.1,606.8 148.0,605.8 C148.9,604.8 149.7,604.1 150.7,603.1 C151.7,602.1 153.1,600.3 154.2,599.6 C155.3,598.9 156.5,598.6 157.2,598.8 C157.8,599.0 158.4,600.4 158.1,601.0 C157.8,601.6 156.6,601.7 155.5,602.3 C154.4,602.9 152.6,603.6 151.5,604.5 C150.4,605.4 149.5,606.4 148.9,607.5 C148.3,608.6 147.8,610.0 148.0,611.0 C148.2,612.0 149.5,612.7 150.2,613.6 C150.9,614.5 152.0,615.1 152.4,616.3 C152.8,617.5 153.0,619.4 152.8,620.7 C152.6,622.0 152.3,623.4 151.1,624.2 C149.9,625.0 147.4,625.3 145.4,625.5 C143.4,625.7 141.4,625.6 139.3,625.5 C137.2,625.4 134.7,625.1 133.1,624.6 C131.5,624.1 130.2,623.4 129.6,622.4 C128.9,621.4 129.1,620.2 129.2,618.9 C129.3,617.6 129.9,616.0 130.1,614.5 C130.3,613.0 130.3,611.4 130.5,610.1 C130.7,608.8 130.8,607.3 131.4,606.6Z" fill="#e6e6e6" />
<path d="M144.5,620.2h1.2M133.8,610.8h1.2M147.9,609.2h1.2M132.6,609.3h1.2M135.1,618.1h1.2M138.6,615.5h1.2M149.4,619.2h1.2M131.4,608.8h1.2M144.0,623.6h1.2M132.4,611.8h1.2M131.2,613.4h1.2M134.4,616.5h1.2M140.9,613.3h1.2M146.6,614.9h1.2M143.6,609.8h1.2M147.3,615.2h1.2M135.5,612.7h1.2M132.0,609.0h1.2M143.5,611.8h1.2M134.4,616.5h1.2M135.5,606.2h1.2M132.0,622.5h1.2M150.5,618.3h1.2M133.3,613.2h1.2M134.2,618.4h1.2M140.3,616.8h1.2M130.4,613.5h1.2M131.7,613.5h1.2M143.1,609.7h1.2M153.1,603.0h1.2M137.6,617.9h1.2M136.8,618.4h1.2M133.4,610.3h1.2M135.5,615.2h1.2M148.4,609.0h1.2M146.0,614.0h1.2M142.3,620.8h1.2M151.8,621.5h1.2M131.5,607.2h1.2M132.3,615.9h1.2M148.2,609.7h1.2M137.6,609.0h1.2M142.9,617.1h1.2M131.9,619.7h1.2M153.7,603.2h1.2M143.1,614.7h1.2M135.1,615.5h1.2M150.4,605.2h1.2M148.7,622.9h1.2M147.7,609.1h1.2M138.6,616.7h1.2M131.1,616.6h1.2M151.4,621.7h1.2M138.8,614.9h1.2M145.0,624.2h1.2M133.1,622.5h1.2M142.6,618.0h1.2M153.8,601.3h1.2M144.5,609.5h1.2M148.4,618.6h1.2M133.5,620.8h1.2M144.9,615.2h1.2M148.3,619.3h1.2M133.4,618.4h1.2M130.1,615.6h1.2M133.3,623.7h1.2M140.3,621.9h1.2M135.3,616.7h1.2M149.7,621.8h1.2M133.9,613.9h1.2M133.9,622.7h1.2M143.6,611.5h1.2M140.6,614.9h1.2M131.5,621.8h1.2M136.4,609.4h1.2M145.5,612.8h1.2M130.1,619.9h1.2M145.6,610.0h1.2M145.1,619.7h1.2M143.1,616.3h1.2M140.0,617.9h1.2M141.3,608.7h1.2M144.7,618.1h1.2M132.4,606.8h1.2M143.7,619.2h1.2M137.9,623.5h1.2M149.3,623.3h1.2M147.0,607.9h1.2M133.1,621.3h1.2M131.0,622.3h1.2M142.5,610.0h1.2M144.7,621.3h1.2M148.5,615.0h1.2M134.2,609.9h1.2M135.3,621.8h1.2M147.4,609.6h1.2M145.7,621.7h1.2M131.2,618.3h1.2" stroke="#f7f7f7" stroke-width="1.2" opacity="0.9" />
<path d="M133.1,620.0h1.2M130.5,612.8h1.2M151.1,622.0h1.2M151.0,602.6h1.2M146.7,623.2h1.2M154.7,597.4h1.2M131.5,622.6h1.2M148.4,624.9h1.2M129.4,613.7h1.2M130.0,614.5h1.2M157.8,600.4h1.2M138.5,609.1h1.2" stroke="#e6e6e6" stroke-width="1.2" />
<path d="M144.5,647.8 C144.6,646.8 145.1,646.6 146.3,646.1 C147.5,645.6 149.6,645.0 151.5,644.7 C153.4,644.4 155.6,644.1 157.7,644.1 C159.8,644.1 161.8,644.3 163.8,644.7 C165.8,645.1 168.3,645.5 169.9,646.5 C171.5,647.5 172.5,648.7 173.4,650.4 C174.3,652.1 175.4,655.0 175.6,656.6 C175.8,658.2 175.3,659.1 174.7,660.1 C174.0,661.1 172.9,661.8 171.7,662.7 C170.5,663.6 168.8,665.1 167.3,665.3 C165.8,665.4 164.4,664.5 162.9,663.6 C161.4,662.7 160.1,661.0 158.5,660.1 C156.9,659.2 154.9,659.0 153.3,658.3 C151.7,657.6 150.2,656.7 148.9,655.7 C147.7,654.7 146.5,653.5 145.8,652.2 C145.1,650.9 144.4,648.8 144.5,647.8Z" fill="#e6e6e6" />
<path d="M160.6,660.3h1.2M163.9,652.7h1.2M155.6,654.8h1.2M164.4,649.1h1.2M151.1,654.7h1.2M157.4,644.6h1.2M170.6,658.3h1.2M166.3,647.3h1.2M169.7,650.6h1.2M161.5,660.0h1.2M166.7,650.7h1.2M159.2,660.4h1.2M159.2,648.9h1.2M167.5,663.5h1.2M158.7,658.8h1.2M154.9,646.5h1.2M174.8,659.4h1.2M163.4,651.5h1.2M157.0,644.7h1.2M173.5,651.9h1.2M170.9,653.4h1.2M152.0,651.8h1.2M152.5,646.8h1.2M168.0,651.4h1.2M168.6,651.6h1.2M157.0,648.2h1.2M162.2,651.2h1.2M157.5,653.3h1.2M165.1,656.0h1.2M158.8,653.3h1.2M160.1,660.4h1.2M149.2,655.0h1.2M165.6,646.1h1.2M150.3,656.0h1.2M167.5,664.7h1.2M162.8,652.9h1.2M144.7,648.0h1.2M153.9,653.8h1.2M170.8,652.9h1.2M168.7,664.0h1.2M165.3,650.3h1.2M150.8,646.8h1.2M171.0,653.1h1.2M160.9,661.2h1.2M158.1,659.4h1.2M149.3,653.9h1.2M147.8,648.3h1.2M169.9,657.7h1.2M166.3,648.8h1.2M159.6,656.5h1.2M172.0,658.1h1.2M145.6,650.7h1.2M147.7,650.2h1.2M147.4,648.4h1.2M170.6,656.7h1.2M174.3,658.4h1.2M168.8,648.1h1.2M163.0,663.3h1.2M168.3,647.9h1.2M159.2,644.8h1.2M171.2,659.1h1.2M167.6,657.0h1.2M171.9,653.7h1.2M162.5,645.5h1.2M175.2,656.5h1.2M154.4,649.2h1.2M165.0,656.0h1.2M166.9,647.1h1.2M159.6,644.4h1.2M146.8,651.0h1.2M169.0,654.9h1.2M165.6,650.1h1.2M165.9,647.8h1.2M154.6,646.7h1.2M152.7,646.8h1.2M167.8,647.7h1.2M164.9,653.2h1.2M155.6,655.3h1.2M149.2,646.8h1.2M159.6,650.7h1.2M158.3,659.2h1.2M159.2,659.8h1.2M166.5,646.0h1.2M157.1,645.8h1.2M169.7,657.4h1.2M163.0,657.0h1.2M154.8,645.0h1.2M170.4,650.2h1.2M148.7,650.4h1.2M169.1,651.0h1.2M170.4,659.0h1.2M166.7,664.2h1.2M171.9,660.1h1.2M170.0,660.5h1.2M165.7,652.9h1.2M162.6,660.0h1.2M168.0,648.7h1.2M173.5,657.1h1.2M171.4,662.4h1.2M162.4,659.6h1.2M170.1,653.8h1.2M162.9,646.0h1.2M166.4,664.3h1.2M171.3,651.3h1.2M167.8,656.0h1.2M163.8,649.8h1.2M163.6,655.1h1.2M152.0,646.1h1.2" stroke="#f7f7f7" stroke-width="1.2" opacity="0.9" />
<path d="M171.8,663.0h1.2M154.4,659.1h1.2M169.9,647.1h1.2M167.8,662.7h1.2M158.7,662.2h1.2M151.6,645.0h1.2M163.7,664.1h1.2M175.9,654.6h1.2M146.3,646.3h1.2" stroke="#e6e6e6" stroke-width="1.2" />
<path d="M103.8,682.0 C104.5,680.0 105.7,678.0 107.7,676.8 C109.7,675.5 113.0,674.9 115.6,674.5 C118.2,674.1 121.2,674.3 123.5,674.4 C125.8,674.5 128.5,674.0 129.6,675.3 C130.7,676.6 130.3,679.1 130.2,682.0 C130.1,684.9 129.6,689.4 128.9,692.5 C128.2,695.6 127.9,698.6 126.3,700.4 C124.7,702.2 121.7,703.3 119.5,703.4 C117.3,703.5 115.2,702.1 113.0,700.8 C110.8,699.5 108.0,697.4 106.4,695.4 C104.8,693.4 104.0,690.8 103.6,688.6 C103.2,686.4 103.1,684.0 103.8,682.0Z" fill="#e6e6e6" />
<path d="M108.8,692.8h1.2M122.2,690.1h1.2M115.2,681.7h1.2M123.8,690.9h1.2M123.6,694.9h1.2M125.5,690.1h1.2M117.8,678.4h1.2M110.4,694.2h1.2M109.6,677.5h1.2M120.4,682.0h1.2M121.0,683.1h1.2M122.9,690.5h1.2M114.9,674.8h1.2M113.7,688.8h1.2M122.9,682.0h1.2M122.3,682.6h1.2M115.3,677.9h1.2M119.5,677.7h1.2M122.1,691.2h1.2M106.8,685.1h1.2M119.8,700.8h1.2M118.7,698.0h1.2M126.9,683.7h1.2M115.6,700.0h1.2M126.1,685.2h1.2M125.6,693.0h1.2M112.8,688.8h1.2M126.5,692.8h1.2M113.7,678.1h1.2M114.0,683.6h1.2M106.4,690.4h1.2M126.0,692.9h1.2M105.2,686.6h1.2M124.8,698.1h1.2M110.7,698.6h1.2M116.1,687.4h1.2M105.3,686.4h1.2M126.3,699.0h1.2M125.9,679.4h1.2M121.3,684.7h1.2M123.8,683.2h1.2M112.9,693.6h1.2M105.6,682.5h1.2M129.2,676.1h1.2M128.2,693.9h1.2M106.3,687.2h1.2M124.2,687.7h1.2M107.6,693.3h1.2M113.1,686.4h1.2M110.0,680.6h1.2M110.2,696.7h1.2M122.8,678.1h1.2M107.2,689.3h1.2M119.4,693.0h1.2M115.1,696.2h1.2M127.2,688.8h1.2M121.0,685.0h1.2M127.8,679.2h1.2M107.8,689.7h1.2M110.1,694.3h1.2M117.6,697.8h1.2M120.7,678.9h1.2M128.4,684.6h1.2M127.3,693.8h1.2M118.4,699.3h1.2M107.9,692.5h1.2M119.1,692.4h1.2M117.8,678.8h1.2M125.4,675.0h1.2M115.3,699.6h1.2M121.8,691.6h1.2M116.8,699.3h1.2M117.9,684.3h1.2M104.3,684.3h1.2M106.9,679.2h1.2M116.8,680.9h1.2M107.9,686.2h1.2M113.4,681.9h1.2M127.8,685.1h1.2M114.4,676.6h1.2M126.7,693.7h1.2M111.1,688.1h1.2M119.3,678.8h1.2M111.1,684.5h1.2M108.7,691.2h1.2M115.9,695.1h1.2M127.8,681.8h1.2M121.6,679.7h1.2M105.6,692.7h1.2M126.6,694.9h1.2M111.8,678.9h1.2M110.4,697.3h1.2M118.0,694.9h1.2M112.9,689.6h1.2M125.5,696.5h1.2M126.9,682.5h1.2M107.2,678.2h1.2M119.3,676.1h1.2M120.0,698.4h1.2M110.1,697.0h1.2M121.2,686.4h1.2M113.4,689.9h1.2M104.9,691.3h1.2M104.9,689.6h1.2M107.9,689.6h1.2M125.1,685.2h1.2M126.0,688.6h1.2M118.4,694.6h1.2M111.0,676.4h1.2M126.0,697.2h1.2M106.0,692.2h1.2M119.3,683.9h1.2M108.5,696.5h1.2M126.8,676.3h1.2M114.9,690.8h1.2M125.4,690.0h1.2M118.0,691.0h1.2M122.9,685.7h1.2M112.2,689.9h1.2M110.1,677.1h1.2M110.8,678.3h1.2M116.1,694.6h1.2M114.4,701.0h1.2M118.0,700.0h1.2M121.3,674.5h1.2M119.2,699.3h1.2M114.6,689.3h1.2M112.0,689.7h1.2M120.9,693.9h1.2M110.6,683.4h1.2M104.5,688.4h1.2M117.3,696.7h1.2M120.0,677.1h1.2M107.1,685.1h1.2M112.5,694.7h1.2M121.7,674.9h1.2M109.1,681.6h1.2M120.2,699.2h1.2M117.9,693.0h1.2M114.4,675.7h1.2M109.5,687.7h1.2M108.7,683.6h1.2M110.8,676.4h1.2M106.7,695.0h1.2M110.6,687.5h1.2M115.3,677.8h1.2M104.9,682.4h1.2M112.9,679.3h1.2M127.7,694.2h1.2M105.7,692.5h1.2M122.0,681.6h1.2M119.5,677.6h1.2" stroke="#f7f7f7" stroke-width="1.2" opacity="0.9" />
<path d="M129.8,694.4h1.2M114.0,701.7h1.2M115.4,702.0h1.2M118.8,673.4h1.2M102.1,687.3h1.2M131.3,693.5h1.2M122.3,703.4h1.2M123.5,675.1h1.2M105.8,687.2h1.2M122.3,675.0h1.2" stroke="#e6e6e6" stroke-width="1.2" />
</g>
<circle cx="583.8" cy="534.9" r="0.96" fill="#f03a2a" opacity="0.8"/>
<circle cx="584.0" cy="536.4" r="0.88" fill="#f03a2a" opacity="0.8"/>
<circle cx="575.4" cy="557.8" r="0.64" fill="#f03a2a" opacity="0.8"/>
<circle cx="579.0" cy="559.0" r="0.64" fill="#f03a2a" opacity="0.8"/>
<circle cx="583.1" cy="557.3" r="0.64" fill="#f03a2a" opacity="0.8"/>
<circle cx="585.0" cy="560.2" r="0.56" fill="#f03a2a" opacity="0.8"/>
<circle cx="568.2" cy="566.2" r="0.64" fill="#f03a2a" opacity="0.8"/>
<circle cx="563.4" cy="577.1" r="0.64" fill="#f03a2a" opacity="0.8"/>
<circle cx="562.1" cy="578.3" r="0.56" fill="#f03a2a" opacity="0.8"/>
<circle cx="577.1" cy="561.4" r="0.56" fill="#f03a2a" opacity="0.8"/>
<circle cx="598.3" cy="576.6" r="0.56" fill="#f03a2a" opacity="0.8"/>
<circle cx="599.5" cy="577.6" r="0.48" fill="#f03a2a" opacity="0.8"/>
<circle cx="614.4" cy="559.0" r="0.56" fill="#f03a2a" opacity="0.8"/>
<circle cx="617.5" cy="544.6" r="0.48" fill="#f03a2a" opacity="0.8"/>
<circle cx="626.7" cy="583.1" r="0.48" fill="#f03a2a" opacity="0.8"/>
<circle cx="633.2" cy="576.6" r="0.48" fill="#f03a2a" opacity="0.8"/>
<circle cx="604.3" cy="595.1" r="0.48" fill="#f03a2a" opacity="0.8"/>
<circle cx="591.0" cy="601.2" r="0.48" fill="#f03a2a" opacity="0.8"/>
<circle cx="565.8" cy="598.7" r="0.48" fill="#f03a2a" opacity="0.8"/>
<circle cx="568.2" cy="601.2" r="0.48" fill="#f03a2a" opacity="0.8"/>
<ellipse cx="564.9" cy="598.7" rx="16.6" ry="10.6" transform="rotate(14 564.9 598.7)" fill="none" stroke="#555" stroke-width="1.4" stroke-dasharray="3.8,2.2"/>
<line x1="398.5" y1="639.3" x2="398.5" y2="727.4" stroke="#444" stroke-width="0.7" />
<line x1="398.1" y1="727.0" x2="516.0" y2="727.0" stroke="#444" stroke-width="0.7" />
<line x1="396.5" y1="644.0" x2="398.5" y2="644.0" stroke="#333" stroke-width="0.7" />
<text x="395.5" y="645.8" font-size="5.3" text-anchor="end" fill="#333" >15</text>
<line x1="396.5" y1="658.0" x2="398.5" y2="658.0" stroke="#333" stroke-width="0.7" />
<text x="395.5" y="659.8" font-size="5.3" text-anchor="end" fill="#333" >10</text>
<line x1="396.5" y1="672.0" x2="398.5" y2="672.0" stroke="#333" stroke-width="0.7" />
<text x="395.5" y="673.8" font-size="5.3" text-anchor="end" fill="#333" >5</text>
<line x1="396.5" y1="686.3" x2="398.5" y2="686.3" stroke="#333" stroke-width="0.7" />
<text x="395.5" y="688.1" font-size="5.3" text-anchor="end" fill="#333" >0</text>
<line x1="396.5" y1="700.5" x2="398.5" y2="700.5" stroke="#333" stroke-width="0.7" />
<text x="395.5" y="702.3" font-size="5.3" text-anchor="end" fill="#333" >-5</text>
<line x1="396.5" y1="714.8" x2="398.5" y2="714.8" stroke="#333" stroke-width="0.7" />
<text x="395.5" y="716.6" font-size="5.3" text-anchor="end" fill="#333" >-10</text>
<line x1="417.2" y1="727.0" x2="417.2" y2="728.8" stroke="#333" stroke-width="0.7" />
<text x="417.2" y="734.4" font-size="5.3" text-anchor="middle" fill="#333" >-10</text>
<line x1="451.6" y1="727.0" x2="451.6" y2="728.8" stroke="#333" stroke-width="0.7" />
<text x="451.6" y="734.4" font-size="5.3" text-anchor="middle" fill="#333" >0</text>
<line x1="486.1" y1="727.0" x2="486.1" y2="728.8" stroke="#333" stroke-width="0.7" />
<text x="486.1" y="734.4" font-size="5.3" text-anchor="middle" fill="#333" >10</text>
<text x="457.2" y="740.7" font-size="5.8" text-anchor="middle" fill="#333" >UMAP_1</text>
<text transform="translate(387.7,684.0) rotate(-90)" font-size="5.9" text-anchor="middle" fill="#333">UMAP_2</text>
<g transform="translate(376.18,246.01) scale(0.652,0.676)">
<path d="M92.5,588.0 C92.7,587.1 93.2,585.8 94.0,585.2 C94.8,584.6 96.6,584.3 97.0,584.6 C97.4,584.9 96.9,586.0 96.5,587.0 C96.1,588.0 95.4,590.2 94.8,590.8 C94.2,591.4 93.1,591.1 92.7,590.6 C92.3,590.1 92.3,588.9 92.5,588.0Z" fill="#e6e6e6" />
<path d="M93.5,588.2h1.2M95.7,586.1h1.2M96.4,586.4h1.2M95.0,587.2h1.2" stroke="#f7f7f7" stroke-width="1.2" opacity="0.9" />
<path d="M94.8,585.3h1.2M93.2,584.6h1.2" stroke="#e6e6e6" stroke-width="1.2" />
<path d="M74.7,623.3 C75.9,622.0 77.3,621.3 78.8,620.7 C80.3,620.1 81.9,620.0 83.9,619.7 C86.0,619.4 88.9,618.8 91.1,618.7 C93.3,618.6 95.8,618.6 97.2,619.0 C98.6,619.4 98.9,619.8 99.3,621.2 C99.7,622.6 100.0,625.5 99.8,627.4 C99.6,629.3 99.3,630.7 98.2,632.5 C97.1,634.3 94.8,636.9 93.1,638.1 C91.4,639.3 89.9,639.4 88.0,639.6 C86.1,639.8 83.6,639.4 81.9,639.1 C80.2,638.8 79.2,638.0 77.8,637.6 C76.4,637.2 75.1,636.8 73.7,636.8 C72.3,636.8 70.8,637.1 69.6,637.6 C68.4,638.1 67.4,639.4 66.6,639.6 C65.8,639.9 65.3,639.4 64.5,639.1 C63.6,638.9 62.5,638.3 61.5,638.1 C60.5,637.9 59.8,638.0 58.4,638.1 C57.0,638.2 54.4,638.4 53.3,638.6 C52.2,638.9 51.8,639.2 51.8,639.6 C51.8,640.0 53.7,640.1 53.3,640.7 C52.9,641.3 49.7,642.7 49.2,643.2 C48.7,643.7 49.0,644.0 50.2,643.7 C51.4,643.4 54.0,641.7 56.4,641.2 C58.8,640.7 63.0,641.5 64.5,640.7 C66.0,639.9 64.8,637.8 65.5,636.6 C66.2,635.4 67.6,634.9 68.6,633.5 C69.6,632.1 70.7,630.1 71.7,628.4 C72.7,626.7 73.5,624.6 74.7,623.3Z" fill="#e6e6e6" />
<path d="M91.2,630.7h1.2M87.3,639.3h1.2M69.2,635.6h1.2M80.2,623.5h1.2M78.5,637.4h1.2M87.4,634.3h1.2M77.7,627.0h1.2M80.1,628.5h1.2M92.4,632.0h1.2M75.6,624.3h1.2M78.2,623.1h1.2M74.6,627.5h1.2M62.6,639.5h1.2M85.7,624.9h1.2M60.1,638.6h1.2M74.4,636.7h1.2M82.2,628.9h1.2M73.6,636.1h1.2M87.0,625.2h1.2M78.4,634.0h1.2M96.9,624.2h1.2M88.6,633.3h1.2M83.8,636.9h1.2M77.0,633.0h1.2M92.0,633.6h1.2M74.9,623.8h1.2M91.7,620.5h1.2M84.7,621.0h1.2M94.2,621.1h1.2M69.0,635.1h1.2M84.4,625.3h1.2M86.9,627.5h1.2M89.4,638.2h1.2M54.7,641.5h1.2M80.2,630.4h1.2M81.2,624.8h1.2M96.5,632.3h1.2M96.4,625.1h1.2M59.6,638.5h1.2M87.6,638.9h1.2M90.4,636.0h1.2M95.4,634.8h1.2M80.2,622.3h1.2M84.3,633.2h1.2M92.9,625.4h1.2M83.3,633.6h1.2M89.8,627.3h1.2M87.4,621.3h1.2M84.1,627.8h1.2M85.8,639.1h1.2M75.2,626.6h1.2M87.5,625.0h1.2M69.5,632.7h1.2M56.6,638.4h1.2M80.9,635.7h1.2M70.0,633.3h1.2M83.8,627.5h1.2M90.0,630.2h1.2M88.4,627.1h1.2M98.1,622.1h1.2M82.2,626.8h1.2M96.9,625.2h1.2M78.6,626.4h1.2M88.0,624.2h1.2M74.2,633.3h1.2M80.5,623.4h1.2M68.2,636.3h1.2M93.4,625.0h1.2M78.7,630.7h1.2M76.6,627.6h1.2M91.0,636.4h1.2M78.1,629.1h1.2M54.5,639.6h1.2M70.3,637.1h1.2M86.7,622.7h1.2M91.3,633.2h1.2M81.8,635.7h1.2M73.1,626.1h1.2M84.0,634.2h1.2M85.5,622.1h1.2M68.6,634.6h1.2M94.8,634.8h1.2M88.6,629.6h1.2M77.9,625.5h1.2M92.4,633.4h1.2M68.8,636.4h1.2M85.9,635.9h1.2M93.0,632.6h1.2M73.6,630.5h1.2M86.3,627.6h1.2M89.2,631.4h1.2M88.1,621.8h1.2M95.8,623.2h1.2M91.5,629.0h1.2M81.7,620.9h1.2M74.1,633.8h1.2M85.2,625.0h1.2M87.9,635.7h1.2M61.3,640.2h1.2M68.4,637.5h1.2M92.5,636.0h1.2M86.4,627.0h1.2M95.9,623.7h1.2M92.9,628.3h1.2M79.3,637.1h1.2M82.6,624.6h1.2M94.3,630.3h1.2M81.4,622.5h1.2M78.6,623.9h1.2M81.6,627.8h1.2M68.2,636.7h1.2M81.2,631.6h1.2M81.5,630.9h1.2M98.2,626.5h1.2M80.5,623.0h1.2M85.0,623.5h1.2" stroke="#f7f7f7" stroke-width="1.2" opacity="0.9" />
<path d="M70.2,633.1h1.2M53.6,642.1h1.2M49.0,642.9h1.2M50.8,636.2h1.2M78.0,637.9h1.2M66.1,636.3h1.2M51.9,640.9h1.2M90.5,638.2h1.2M85.8,619.8h1.2M101.0,624.5h1.2M67.0,637.5h1.2M75.0,621.7h1.2M61.0,640.0h1.2M97.4,620.1h1.2M53.6,639.2h1.2" stroke="#e6e6e6" stroke-width="1.2" />
<path d="M65.5,640.1 C66.5,639.6 69.0,639.4 70.7,639.1 C72.4,638.8 75.1,637.8 75.8,638.1 C76.5,638.4 75.4,639.8 74.7,640.7 C74.0,641.6 72.6,642.5 71.7,643.7 C70.8,644.9 70.1,646.3 69.6,647.8 C69.1,649.3 68.8,651.0 68.6,652.9 C68.3,654.8 68.3,657.6 68.1,659.0 C67.8,660.4 67.9,660.9 67.1,661.1 C66.3,661.3 64.8,660.5 63.5,660.1 C62.2,659.8 60.8,658.4 59.4,659.0 C58.0,659.6 56.1,662.9 55.3,663.6 C54.4,664.3 53.8,664.0 54.3,663.1 C54.8,662.2 57.9,659.0 58.4,658.0 C58.9,657.0 56.9,657.3 57.4,657.0 C57.9,656.7 60.7,657.0 61.5,656.0 C62.3,655.0 61.8,652.6 62.0,650.9 C62.2,649.2 62.6,647.2 63.0,645.8 C63.4,644.3 64.1,643.2 64.5,642.2 C64.9,641.2 64.5,640.6 65.5,640.1Z" fill="#e6e6e6" />
<path d="M63.1,651.2h1.2M61.6,658.8h1.2M71.4,639.1h1.2M62.9,653.6h1.2M64.3,652.5h1.2M62.8,650.5h1.2M66.7,660.6h1.2M68.7,640.0h1.2M68.1,653.0h1.2M70.2,645.4h1.2M58.7,659.1h1.2M63.8,658.9h1.2M62.3,649.7h1.2M69.1,641.3h1.2M65.8,657.2h1.2M63.3,658.0h1.2M62.8,656.5h1.2M66.4,644.9h1.2M64.7,654.1h1.2M67.1,647.9h1.2M64.9,653.2h1.2M67.5,643.0h1.2M62.5,650.2h1.2M69.6,640.9h1.2M67.4,646.2h1.2M70.9,639.2h1.2M63.8,644.1h1.2M67.7,656.8h1.2M64.7,655.1h1.2M62.2,650.2h1.2M68.7,651.6h1.2M64.4,660.0h1.2M66.0,654.0h1.2M67.7,649.2h1.2M57.8,659.0h1.2M59.8,657.7h1.2M64.3,646.9h1.2M69.6,642.7h1.2M62.8,650.0h1.2M68.6,646.3h1.2M62.9,653.4h1.2M63.7,652.4h1.2M67.0,655.1h1.2" stroke="#f7f7f7" stroke-width="1.2" opacity="0.9" />
<path d="M67.5,660.9h1.2M72.6,640.1h1.2M60.5,647.7h1.2M66.4,640.8h1.2M61.6,646.5h1.2M56.8,658.8h1.2M54.9,663.4h1.2M65.7,659.9h1.2M69.8,650.3h1.2" stroke="#e6e6e6" stroke-width="1.2" />
<path d="M114.3,650.8 C114.4,650.2 115.8,649.1 116.9,649.3 C118.0,649.5 120.2,651.3 120.9,652.2 C121.6,653.1 121.5,654.5 121.2,654.8 C120.9,655.1 119.8,654.6 119.0,654.2 C118.2,653.8 117.3,653.2 116.5,652.6 C115.7,652.0 114.2,651.3 114.3,650.8Z" fill="#e6e6e6" />
<path d="M116.1,650.6h1.2M118.0,653.4h1.2M119.5,652.4h1.2M119.9,652.2h1.2" stroke="#f7f7f7" stroke-width="1.2" opacity="0.9" />
<path d="M116.8,652.5h1.2M115.6,650.7h1.2" stroke="#e6e6e6" stroke-width="1.2" />
<path d="M131.4,606.6 C132.0,605.9 133.0,606.0 134.0,605.9 C135.0,605.8 136.4,605.9 137.5,606.2 C138.6,606.5 139.7,606.9 140.6,607.5 C141.5,608.1 142.0,609.5 142.8,609.7 C143.6,609.9 144.5,609.4 145.4,608.8 C146.3,608.1 147.1,606.8 148.0,605.8 C148.9,604.8 149.7,604.1 150.7,603.1 C151.7,602.1 153.1,600.3 154.2,599.6 C155.3,598.9 156.5,598.6 157.2,598.8 C157.8,599.0 158.4,600.4 158.1,601.0 C157.8,601.6 156.6,601.7 155.5,602.3 C154.4,602.9 152.6,603.6 151.5,604.5 C150.4,605.4 149.5,606.4 148.9,607.5 C148.3,608.6 147.8,610.0 148.0,611.0 C148.2,612.0 149.5,612.7 150.2,613.6 C150.9,614.5 152.0,615.1 152.4,616.3 C152.8,617.5 153.0,619.4 152.8,620.7 C152.6,622.0 152.3,623.4 151.1,624.2 C149.9,625.0 147.4,625.3 145.4,625.5 C143.4,625.7 141.4,625.6 139.3,625.5 C137.2,625.4 134.7,625.1 133.1,624.6 C131.5,624.1 130.2,623.4 129.6,622.4 C128.9,621.4 129.1,620.2 129.2,618.9 C129.3,617.6 129.9,616.0 130.1,614.5 C130.3,613.0 130.3,611.4 130.5,610.1 C130.7,608.8 130.8,607.3 131.4,606.6Z" fill="#e6e6e6" />
<path d="M136.0,613.2h1.2M140.7,608.8h1.2M144.4,623.6h1.2M149.3,613.6h1.2M132.9,614.8h1.2M140.7,616.1h1.2M145.3,625.3h1.2M157.1,599.8h1.2M150.4,604.7h1.2M143.6,610.0h1.2M132.1,616.6h1.2M145.9,620.3h1.2M137.8,611.4h1.2M152.7,620.4h1.2M139.4,619.3h1.2M130.0,616.6h1.2M141.2,620.3h1.2M136.6,617.6h1.2M153.9,600.7h1.2M142.8,615.6h1.2M140.8,624.5h1.2M148.3,621.0h1.2M140.6,613.5h1.2M144.3,610.9h1.2M130.9,621.9h1.2M149.8,614.2h1.2M147.6,622.4h1.2M138.4,607.2h1.2M147.6,612.5h1.2M139.1,620.9h1.2M140.9,616.1h1.2M139.6,613.7h1.2M138.1,616.9h1.2M137.2,615.4h1.2M146.5,620.5h1.2M131.4,618.6h1.2M142.4,618.9h1.2M130.5,612.7h1.2M130.5,612.2h1.2M139.1,607.2h1.2M147.7,608.8h1.2M136.8,609.6h1.2M145.0,614.8h1.2M144.1,616.4h1.2M133.2,612.9h1.2M147.4,622.5h1.2M133.9,618.9h1.2M130.4,613.7h1.2M139.2,618.0h1.2M152.1,620.7h1.2M133.8,606.6h1.2M136.8,616.8h1.2M135.8,617.3h1.2M132.0,621.1h1.2M148.7,607.5h1.2M152.7,620.1h1.2M150.4,615.4h1.2M133.2,619.0h1.2M138.5,619.4h1.2M144.2,616.1h1.2M136.6,607.3h1.2M153.6,602.7h1.2M132.7,613.0h1.2M139.9,611.8h1.2M143.6,623.7h1.2M141.7,619.5h1.2M143.4,610.3h1.2M134.1,611.6h1.2M130.5,620.5h1.2M137.2,607.9h1.2M151.2,616.1h1.2M131.8,623.7h1.2M156.7,601.6h1.2M135.5,613.4h1.2M137.3,611.1h1.2M142.1,614.2h1.2M137.9,610.0h1.2M154.6,602.1h1.2M143.8,611.4h1.2M147.8,612.4h1.2M142.5,611.9h1.2M142.7,610.8h1.2M130.4,616.2h1.2M133.3,613.9h1.2M153.7,601.0h1.2M129.6,619.8h1.2M146.4,622.5h1.2M148.3,606.7h1.2M132.5,609.9h1.2M143.7,615.8h1.2M141.9,619.2h1.2M146.3,618.0h1.2M135.8,610.0h1.2M149.0,615.1h1.2M139.5,620.8h1.2M143.7,619.7h1.2M135.8,606.8h1.2M140.3,619.8h1.2" stroke="#f7f7f7" stroke-width="1.2" opacity="0.9" />
<path d="M142.8,611.7h1.2M131.3,615.9h1.2M136.3,607.6h1.2M156.9,601.5h1.2M129.0,619.3h1.2M132.8,605.5h1.2M158.2,599.3h1.2M145.2,624.8h1.2M156.5,599.4h1.2M147.3,609.5h1.2M134.8,605.9h1.2M128.0,617.4h1.2" stroke="#e6e6e6" stroke-width="1.2" />
<path d="M144.5,647.8 C144.6,646.8 145.1,646.6 146.3,646.1 C147.5,645.6 149.6,645.0 151.5,644.7 C153.4,644.4 155.6,644.1 157.7,644.1 C159.8,644.1 161.8,644.3 163.8,644.7 C165.8,645.1 168.3,645.5 169.9,646.5 C171.5,647.5 172.5,648.7 173.4,650.4 C174.3,652.1 175.4,655.0 175.6,656.6 C175.8,658.2 175.3,659.1 174.7,660.1 C174.0,661.1 172.9,661.8 171.7,662.7 C170.5,663.6 168.8,665.1 167.3,665.3 C165.8,665.4 164.4,664.5 162.9,663.6 C161.4,662.7 160.1,661.0 158.5,660.1 C156.9,659.2 154.9,659.0 153.3,658.3 C151.7,657.6 150.2,656.7 148.9,655.7 C147.7,654.7 146.5,653.5 145.8,652.2 C145.1,650.9 144.4,648.8 144.5,647.8Z" fill="#e6e6e6" />
<path d="M160.9,653.8h1.2M145.1,647.9h1.2M150.9,650.7h1.2M168.5,659.8h1.2M170.1,647.9h1.2M170.9,656.1h1.2M167.9,649.2h1.2M159.0,656.7h1.2M174.2,653.8h1.2M155.5,652.2h1.2M160.9,653.3h1.2M155.4,652.9h1.2M166.4,658.6h1.2M156.7,644.9h1.2M156.0,654.2h1.2M159.1,647.4h1.2M154.3,645.8h1.2M156.5,657.9h1.2M166.9,661.1h1.2M164.6,655.2h1.2M174.1,657.9h1.2M167.5,662.6h1.2M159.6,646.4h1.2M170.0,654.5h1.2M152.8,657.4h1.2M148.3,647.8h1.2M147.7,648.5h1.2M158.9,649.4h1.2M160.6,654.3h1.2M155.4,645.7h1.2M167.6,646.9h1.2M147.5,653.9h1.2M148.2,646.3h1.2M169.1,655.8h1.2M164.8,646.1h1.2M168.6,657.8h1.2M159.0,656.4h1.2M167.4,653.7h1.2M156.0,652.2h1.2M169.7,661.1h1.2M158.3,653.5h1.2M158.9,659.6h1.2M171.5,649.7h1.2M164.7,662.7h1.2M163.3,652.0h1.2M147.9,652.0h1.2M173.7,656.0h1.2M150.2,649.6h1.2M159.2,650.0h1.2M170.6,648.5h1.2M157.1,658.7h1.2M149.7,654.5h1.2M152.5,646.5h1.2M167.7,662.9h1.2M161.3,653.8h1.2M168.0,657.0h1.2M165.9,645.8h1.2M154.3,653.6h1.2M163.1,662.2h1.2M163.2,647.7h1.2M164.6,647.4h1.2M163.7,652.8h1.2M159.9,649.5h1.2M165.0,648.2h1.2M151.6,651.7h1.2M158.3,645.6h1.2M172.7,654.6h1.2M151.7,653.1h1.2M172.6,660.5h1.2M167.1,660.0h1.2M157.8,651.8h1.2M168.3,662.6h1.2M150.2,648.2h1.2M168.1,662.7h1.2M155.5,647.7h1.2M170.0,654.4h1.2M151.8,654.6h1.2M151.3,652.6h1.2M161.5,654.7h1.2M165.6,649.2h1.2M154.4,653.3h1.2M169.7,656.4h1.2M165.7,650.7h1.2M167.0,657.3h1.2M152.1,648.6h1.2M149.2,649.2h1.2M170.8,662.9h1.2M164.2,653.8h1.2M171.1,662.0h1.2M155.5,651.7h1.2M158.5,650.8h1.2M153.5,645.3h1.2M151.9,655.1h1.2M170.2,663.2h1.2M173.1,656.9h1.2M167.7,656.8h1.2M162.3,652.4h1.2M160.7,654.9h1.2M160.3,659.8h1.2M154.3,646.1h1.2M159.7,655.8h1.2M151.2,644.9h1.2M158.4,651.7h1.2M171.2,662.7h1.2M158.3,645.1h1.2M153.5,648.9h1.2M169.9,655.7h1.2M157.0,651.7h1.2" stroke="#f7f7f7" stroke-width="1.2" opacity="0.9" />
<path d="M174.9,656.1h1.2M155.1,644.1h1.2M161.9,660.8h1.2M170.5,649.0h1.2M171.4,661.2h1.2M160.7,664.0h1.2M148.6,653.1h1.2M166.4,646.9h1.2M164.4,664.8h1.2" stroke="#e6e6e6" stroke-width="1.2" />
<path d="M63.0,680.7 C64.3,680.8 66.8,680.0 68.3,680.5 C69.8,681.0 71.2,682.1 72.3,683.4 C73.4,684.7 75.0,687.0 75.0,688.3 C75.0,689.6 73.9,690.9 72.6,691.2 C71.3,691.5 68.4,690.9 67.0,690.0 C65.6,689.1 65.6,687.3 64.4,686.0 C63.2,684.7 61.6,683.1 60.0,682.0 C58.4,680.9 55.7,679.9 55.0,679.3 C54.3,678.7 54.7,678.1 55.6,678.2 C56.5,678.4 59.3,679.8 60.5,680.2 C61.7,680.6 61.7,680.7 63.0,680.7Z" fill="#e6e6e6" />
<path d="M69.0,687.2h1.2M64.8,685.9h1.2M73.7,686.5h1.2M65.1,686.5h1.2M72.4,687.3h1.2M58.3,680.1h1.2M65.9,687.7h1.2M66.8,686.1h1.2M65.5,685.3h1.2M56.2,679.0h1.2M65.7,681.5h1.2M66.6,686.6h1.2M68.7,682.4h1.2M65.4,686.5h1.2M66.8,685.5h1.2M63.7,682.6h1.2M70.2,690.0h1.2M59.5,681.5h1.2M67.8,685.7h1.2M73.2,686.1h1.2M72.1,684.1h1.2M73.0,690.7h1.2M70.8,682.3h1.2M68.2,683.8h1.2M68.1,685.5h1.2" stroke="#f7f7f7" stroke-width="1.2" opacity="0.9" />
<path d="M60.2,684.1h1.2M54.1,678.6h1.2M61.2,681.0h1.2M64.6,689.4h1.2M61.6,680.1h1.2M61.0,681.4h1.2" stroke="#e6e6e6" stroke-width="1.2" />
<path d="M103.8,682.0 C104.5,680.0 105.7,678.0 107.7,676.8 C109.7,675.5 113.0,674.9 115.6,674.5 C118.2,674.1 121.2,674.3 123.5,674.4 C125.8,674.5 128.5,674.0 129.6,675.3 C130.7,676.6 130.3,679.1 130.2,682.0 C130.1,684.9 129.6,689.4 128.9,692.5 C128.2,695.6 127.9,698.6 126.3,700.4 C124.7,702.2 121.7,703.3 119.5,703.4 C117.3,703.5 115.2,702.1 113.0,700.8 C110.8,699.5 108.0,697.4 106.4,695.4 C104.8,693.4 104.0,690.8 103.6,688.6 C103.2,686.4 103.1,684.0 103.8,682.0Z" fill="#e6e6e6" />
<path d="M111.2,692.0h1.2M114.4,687.7h1.2M117.3,694.6h1.2M109.1,685.0h1.2M117.1,702.3h1.2M119.7,682.8h1.2M129.4,681.2h1.2M108.2,694.6h1.2M112.8,692.7h1.2M115.0,700.5h1.2M109.5,685.8h1.2M120.8,680.9h1.2M108.8,685.7h1.2M113.5,695.4h1.2M129.4,679.1h1.2M122.6,700.0h1.2M119.2,687.8h1.2M108.6,682.5h1.2M126.5,692.0h1.2M109.2,689.3h1.2M116.7,684.5h1.2M119.7,675.6h1.2M103.8,687.6h1.2M114.8,696.0h1.2M114.0,690.6h1.2M125.0,695.7h1.2M104.9,681.5h1.2M125.9,678.3h1.2M120.3,697.5h1.2M121.3,692.1h1.2M111.2,698.9h1.2M110.0,693.0h1.2M114.3,680.3h1.2M109.4,684.5h1.2M119.8,696.1h1.2M124.4,694.9h1.2M124.8,678.5h1.2M111.1,685.4h1.2M117.4,676.9h1.2M115.7,695.8h1.2M110.3,688.5h1.2M115.3,692.6h1.2M116.7,675.2h1.2M125.4,680.7h1.2M115.9,680.5h1.2M125.7,676.2h1.2M119.1,700.3h1.2M127.3,693.2h1.2M113.4,692.3h1.2M114.4,693.1h1.2M126.6,680.8h1.2M121.1,679.9h1.2M123.8,699.7h1.2M107.5,689.2h1.2M128.0,687.5h1.2M125.3,674.8h1.2M112.2,692.5h1.2M111.2,689.6h1.2M128.8,686.3h1.2M110.4,690.4h1.2M114.8,683.0h1.2M118.7,685.6h1.2M111.7,692.9h1.2M120.7,697.8h1.2M117.1,688.8h1.2M126.5,678.7h1.2M120.3,682.1h1.2M126.8,687.5h1.2M129.0,686.7h1.2M121.8,678.9h1.2M118.4,700.7h1.2M121.9,699.5h1.2M121.0,682.4h1.2M117.9,683.8h1.2M121.3,680.6h1.2M117.8,690.5h1.2M128.1,687.0h1.2M105.6,682.6h1.2M116.2,699.9h1.2M103.9,684.4h1.2M124.7,684.5h1.2M110.0,681.1h1.2M117.9,680.5h1.2M110.9,699.0h1.2M121.5,696.2h1.2M123.6,679.7h1.2M121.2,695.1h1.2M128.5,679.2h1.2M106.1,682.6h1.2M120.0,690.9h1.2M113.4,694.7h1.2M107.4,690.9h1.2M110.9,683.2h1.2M109.5,677.0h1.2M112.4,699.8h1.2M108.8,684.3h1.2M117.2,698.6h1.2M124.5,699.1h1.2M110.8,686.5h1.2M109.6,687.4h1.2M124.1,694.6h1.2M113.3,680.4h1.2M113.5,690.7h1.2M116.6,680.2h1.2M124.5,691.9h1.2M114.6,699.4h1.2M118.2,693.8h1.2M127.0,684.3h1.2M116.3,688.3h1.2M123.0,697.3h1.2M120.9,692.3h1.2M120.8,701.2h1.2M119.8,674.7h1.2M106.2,685.0h1.2M127.8,690.3h1.2M122.7,687.0h1.2M120.6,675.2h1.2M107.8,684.4h1.2M126.3,678.0h1.2M115.1,691.6h1.2M119.6,689.1h1.2M106.8,683.3h1.2M116.2,693.4h1.2M105.9,692.0h1.2M105.5,691.7h1.2M125.5,690.5h1.2M104.4,684.8h1.2M110.6,683.3h1.2M113.4,676.0h1.2M116.2,691.3h1.2M120.4,677.5h1.2M121.1,696.6h1.2M121.8,699.1h1.2M118.7,680.7h1.2M120.8,687.9h1.2M111.4,689.9h1.2M124.5,698.1h1.2M129.6,679.0h1.2M108.5,696.8h1.2M127.9,694.5h1.2M111.8,683.6h1.2M106.8,684.3h1.2M122.8,700.4h1.2M126.5,690.6h1.2M127.4,681.8h1.2M114.5,687.8h1.2M116.0,701.4h1.2M119.5,679.1h1.2M128.2,690.6h1.2M116.8,701.7h1.2M111.3,679.9h1.2M120.4,682.2h1.2" stroke="#f7f7f7" stroke-width="1.2" opacity="0.9" />
<path d="M111.0,678.5h1.2M126.8,675.7h1.2M109.4,696.0h1.2M105.5,692.1h1.2M101.9,684.3h1.2M107.6,694.8h1.2M105.9,684.8h1.2M126.2,688.7h1.2M122.7,674.8h1.2M108.2,678.4h1.2" stroke="#e6e6e6" stroke-width="1.2" />
</g>
<circle cx="432.0" cy="671.0" r="0.56" fill="#f03a2a" opacity="0.8"/>
<circle cx="435.0" cy="678.0" r="0.48" fill="#f03a2a" opacity="0.8"/>
<circle cx="438.0" cy="667.0" r="0.48" fill="#f03a2a" opacity="0.8"/>
<circle cx="446.0" cy="664.0" r="0.48" fill="#f03a2a" opacity="0.8"/>
<circle cx="424.0" cy="682.0" r="0.48" fill="#f03a2a" opacity="0.8"/>
<circle cx="466.0" cy="667.0" r="0.40" fill="#f03a2a" opacity="0.8"/>
<circle cx="480.0" cy="690.0" r="0.40" fill="#f03a2a" opacity="0.8"/>
<circle cx="416.0" cy="706.0" r="0.88" fill="#f03a2a" opacity="0.8"/>
<circle cx="418.0" cy="708.0" r="0.96" fill="#f03a2a" opacity="0.8"/>
<circle cx="420.0" cy="710.0" r="0.96" fill="#f03a2a" opacity="0.8"/>
<circle cx="422.0" cy="711.0" r="0.88" fill="#f03a2a" opacity="0.8"/>
<circle cx="419.0" cy="711.0" r="0.80" fill="#f03a2a" opacity="0.8"/>
<circle cx="421.0" cy="707.0" r="0.80" fill="#f03a2a" opacity="0.8"/>
<circle cx="424.0" cy="712.0" r="0.80" fill="#f03a2a" opacity="0.8"/>
<circle cx="422.0" cy="713.0" r="0.64" fill="#f03a2a" opacity="0.8"/>
<circle cx="414.0" cy="704.0" r="0.64" fill="#f03a2a" opacity="0.8"/>
<circle cx="455.0" cy="720.0" r="0.40" fill="#f03a2a" opacity="0.8"/>
<ellipse cx="418.4" cy="708.7" rx="16.6" ry="10.6" transform="rotate(14 418.4 708.7)" fill="none" stroke="#555" stroke-width="1.4" stroke-dasharray="3.8,2.2"/>
<line x1="545.0" y1="639.3" x2="545.0" y2="727.4" stroke="#444" stroke-width="0.7" />
<line x1="544.6" y1="727.0" x2="662.5" y2="727.0" stroke="#444" stroke-width="0.7" />
<line x1="543.0" y1="644.0" x2="545.0" y2="644.0" stroke="#333" stroke-width="0.7" />
<text x="542.0" y="645.8" font-size="5.3" text-anchor="end" fill="#333" >15</text>
<line x1="543.0" y1="658.0" x2="545.0" y2="658.0" stroke="#333" stroke-width="0.7" />
<text x="542.0" y="659.8" font-size="5.3" text-anchor="end" fill="#333" >10</text>
<line x1="543.0" y1="672.0" x2="545.0" y2="672.0" stroke="#333" stroke-width="0.7" />
<text x="542.0" y="673.8" font-size="5.3" text-anchor="end" fill="#333" >5</text>
<line x1="543.0" y1="686.3" x2="545.0" y2="686.3" stroke="#333" stroke-width="0.7" />
<text x="542.0" y="688.1" font-size="5.3" text-anchor="end" fill="#333" >0</text>
<line x1="543.0" y1="700.5" x2="545.0" y2="700.5" stroke="#333" stroke-width="0.7" />
<text x="542.0" y="702.3" font-size="5.3" text-anchor="end" fill="#333" >-5</text>
<line x1="543.0" y1="714.8" x2="545.0" y2="714.8" stroke="#333" stroke-width="0.7" />
<text x="542.0" y="716.6" font-size="5.3" text-anchor="end" fill="#333" >-10</text>
<line x1="563.7" y1="727.0" x2="563.7" y2="728.8" stroke="#333" stroke-width="0.7" />
<text x="563.7" y="734.4" font-size="5.3" text-anchor="middle" fill="#333" >-10</text>
<line x1="598.1" y1="727.0" x2="598.1" y2="728.8" stroke="#333" stroke-width="0.7" />
<text x="598.1" y="734.4" font-size="5.3" text-anchor="middle" fill="#333" >0</text>
<line x1="632.6" y1="727.0" x2="632.6" y2="728.8" stroke="#333" stroke-width="0.7" />
<text x="632.6" y="734.4" font-size="5.3" text-anchor="middle" fill="#333" >10</text>
<text x="603.7" y="740.7" font-size="5.8" text-anchor="middle" fill="#333" >UMAP_1</text>
<text transform="translate(534.2,684.0) rotate(-90)" font-size="5.9" text-anchor="middle" fill="#333">UMAP_2</text>
<g transform="translate(522.68,246.01) scale(0.652,0.676)">
<path d="M92.5,588.0 C92.7,587.1 93.2,585.8 94.0,585.2 C94.8,584.6 96.6,584.3 97.0,584.6 C97.4,584.9 96.9,586.0 96.5,587.0 C96.1,588.0 95.4,590.2 94.8,590.8 C94.2,591.4 93.1,591.1 92.7,590.6 C92.3,590.1 92.3,588.9 92.5,588.0Z" fill="#e6e6e6" />
<path d="M94.1,587.6h1.2M95.1,589.5h1.2M94.4,586.9h1.2M94.4,589.9h1.2" stroke="#f7f7f7" stroke-width="1.2" opacity="0.9" />
<path d="M98.4,583.6h1.2M94.9,592.5h1.2" stroke="#e6e6e6" stroke-width="1.2" />
<path d="M74.7,623.3 C75.9,622.0 77.3,621.3 78.8,620.7 C80.3,620.1 81.9,620.0 83.9,619.7 C86.0,619.4 88.9,618.8 91.1,618.7 C93.3,618.6 95.8,618.6 97.2,619.0 C98.6,619.4 98.9,619.8 99.3,621.2 C99.7,622.6 100.0,625.5 99.8,627.4 C99.6,629.3 99.3,630.7 98.2,632.5 C97.1,634.3 94.8,636.9 93.1,638.1 C91.4,639.3 89.9,639.4 88.0,639.6 C86.1,639.8 83.6,639.4 81.9,639.1 C80.2,638.8 79.2,638.0 77.8,637.6 C76.4,637.2 75.1,636.8 73.7,636.8 C72.3,636.8 70.8,637.1 69.6,637.6 C68.4,638.1 67.4,639.4 66.6,639.6 C65.8,639.9 65.3,639.4 64.5,639.1 C63.6,638.9 62.5,638.3 61.5,638.1 C60.5,637.9 59.8,638.0 58.4,638.1 C57.0,638.2 54.4,638.4 53.3,638.6 C52.2,638.9 51.8,639.2 51.8,639.6 C51.8,640.0 53.7,640.1 53.3,640.7 C52.9,641.3 49.7,642.7 49.2,643.2 C48.7,643.7 49.0,644.0 50.2,643.7 C51.4,643.4 54.0,641.7 56.4,641.2 C58.8,640.7 63.0,641.5 64.5,640.7 C66.0,639.9 64.8,637.8 65.5,636.6 C66.2,635.4 67.6,634.9 68.6,633.5 C69.6,632.1 70.7,630.1 71.7,628.4 C72.7,626.7 73.5,624.6 74.7,623.3Z" fill="#e6e6e6" />
<path d="M86.9,627.5h1.2M80.1,621.3h1.2M85.1,636.6h1.2M56.0,638.5h1.2M82.0,634.5h1.2M92.8,636.8h1.2M78.7,630.0h1.2M89.3,637.0h1.2M91.2,623.0h1.2M91.0,636.0h1.2M79.8,627.9h1.2M91.0,629.7h1.2M81.7,621.3h1.2M92.3,634.2h1.2M93.4,625.7h1.2M62.0,639.3h1.2M72.4,629.0h1.2M82.2,626.1h1.2M85.7,637.2h1.2M91.1,625.3h1.2M76.1,624.3h1.2M66.3,636.6h1.2M94.0,626.3h1.2M57.9,639.4h1.2M92.1,626.6h1.2M54.8,638.6h1.2M83.1,628.6h1.2M85.4,632.6h1.2M89.3,620.8h1.2M89.4,619.8h1.2M95.7,620.2h1.2M91.3,623.6h1.2M74.1,631.7h1.2M83.7,623.1h1.2M87.1,635.3h1.2M99.2,622.2h1.2M97.0,625.0h1.2M86.0,637.3h1.2M87.2,628.6h1.2M84.5,632.8h1.2M85.1,639.1h1.2M55.7,640.7h1.2M97.0,629.8h1.2M72.4,627.4h1.2M97.3,620.1h1.2M71.6,630.7h1.2M85.6,623.2h1.2M89.8,620.9h1.2M83.0,638.8h1.2M53.9,640.3h1.2M86.8,628.8h1.2M53.2,642.4h1.2M84.2,625.9h1.2M90.7,624.5h1.2M76.9,635.5h1.2M89.1,628.3h1.2M72.8,634.4h1.2M98.2,620.1h1.2M91.0,632.0h1.2M73.9,631.2h1.2M89.1,638.6h1.2M76.2,630.1h1.2M79.8,631.0h1.2M95.9,622.7h1.2M79.2,625.0h1.2M96.8,623.4h1.2M85.5,621.4h1.2M81.2,623.0h1.2M76.4,635.4h1.2M72.0,632.6h1.2M98.9,627.7h1.2M89.3,624.8h1.2M82.1,625.5h1.2M84.4,625.7h1.2M67.6,635.9h1.2M86.5,638.5h1.2M81.9,633.0h1.2M98.9,629.3h1.2M95.3,629.7h1.2M84.4,627.9h1.2M55.6,640.4h1.2M99.2,623.4h1.2M99.7,626.7h1.2M71.4,631.9h1.2M83.7,624.4h1.2M95.9,622.5h1.2M85.3,623.9h1.2M83.5,635.2h1.2M77.6,622.5h1.2M67.7,636.0h1.2M77.8,630.0h1.2M80.9,631.8h1.2M58.4,640.2h1.2M80.3,630.5h1.2M73.4,636.8h1.2M78.5,624.8h1.2M99.3,625.8h1.2M68.7,637.8h1.2M96.5,628.2h1.2M91.5,631.3h1.2M56.4,641.1h1.2M89.7,631.7h1.2M98.0,625.2h1.2M81.6,629.3h1.2M95.7,621.8h1.2M80.2,629.0h1.2M89.8,620.8h1.2M59.7,639.6h1.2M94.0,628.6h1.2M81.4,629.7h1.2M95.4,624.6h1.2M93.6,631.4h1.2M86.5,627.4h1.2M95.8,633.6h1.2M76.1,626.3h1.2M54.0,639.4h1.2" stroke="#f7f7f7" stroke-width="1.2" opacity="0.9" />
<path d="M66.1,636.5h1.2M81.9,640.7h1.2M100.6,628.2h1.2M53.6,637.1h1.2M88.5,639.2h1.2M53.9,640.8h1.2M64.7,638.6h1.2M57.6,641.6h1.2M52.5,641.5h1.2M59.5,639.9h1.2M67.8,641.5h1.2M78.4,621.5h1.2M52.4,638.6h1.2M62.9,637.2h1.2M79.4,620.7h1.2" stroke="#e6e6e6" stroke-width="1.2" />
<path d="M65.5,640.1 C66.5,639.6 69.0,639.4 70.7,639.1 C72.4,638.8 75.1,637.8 75.8,638.1 C76.5,638.4 75.4,639.8 74.7,640.7 C74.0,641.6 72.6,642.5 71.7,643.7 C70.8,644.9 70.1,646.3 69.6,647.8 C69.1,649.3 68.8,651.0 68.6,652.9 C68.3,654.8 68.3,657.6 68.1,659.0 C67.8,660.4 67.9,660.9 67.1,661.1 C66.3,661.3 64.8,660.5 63.5,660.1 C62.2,659.8 60.8,658.4 59.4,659.0 C58.0,659.6 56.1,662.9 55.3,663.6 C54.4,664.3 53.8,664.0 54.3,663.1 C54.8,662.2 57.9,659.0 58.4,658.0 C58.9,657.0 56.9,657.3 57.4,657.0 C57.9,656.7 60.7,657.0 61.5,656.0 C62.3,655.0 61.8,652.6 62.0,650.9 C62.2,649.2 62.6,647.2 63.0,645.8 C63.4,644.3 64.1,643.2 64.5,642.2 C64.9,641.2 64.5,640.6 65.5,640.1Z" fill="#e6e6e6" />
<path d="M63.2,650.5h1.2M69.3,640.5h1.2M74.6,640.7h1.2M66.8,649.2h1.2M68.0,653.9h1.2M65.3,654.9h1.2M63.4,651.3h1.2M64.8,658.0h1.2M62.1,656.1h1.2M65.5,646.2h1.2M67.7,643.3h1.2M64.8,658.8h1.2M63.1,659.7h1.2M69.2,644.3h1.2M61.7,656.1h1.2M67.9,651.9h1.2M67.3,659.2h1.2M62.6,654.9h1.2M57.6,659.6h1.2M71.5,642.8h1.2M71.0,639.9h1.2M63.2,652.6h1.2M64.0,655.4h1.2M66.2,658.4h1.2M64.3,643.4h1.2M71.3,639.5h1.2M66.9,657.6h1.2M63.3,657.7h1.2M74.2,639.8h1.2M70.5,640.7h1.2M68.3,641.8h1.2M68.1,642.9h1.2M66.1,647.8h1.2M73.3,639.2h1.2M72.3,641.2h1.2M64.2,657.8h1.2M68.2,653.0h1.2M64.8,657.6h1.2M66.7,641.4h1.2M67.7,657.5h1.2M69.4,644.2h1.2M66.1,645.6h1.2M65.9,647.5h1.2" stroke="#f7f7f7" stroke-width="1.2" opacity="0.9" />
<path d="M61.8,657.3h1.2M58.2,658.4h1.2M71.2,645.5h1.2M61.0,652.8h1.2M67.6,661.6h1.2M78.1,639.8h1.2M58.9,659.8h1.2M69.6,656.8h1.2M60.4,659.7h1.2" stroke="#e6e6e6" stroke-width="1.2" />
<path d="M114.3,650.8 C114.4,650.2 115.8,649.1 116.9,649.3 C118.0,649.5 120.2,651.3 120.9,652.2 C121.6,653.1 121.5,654.5 121.2,654.8 C120.9,655.1 119.8,654.6 119.0,654.2 C118.2,653.8 117.3,653.2 116.5,652.6 C115.7,652.0 114.2,651.3 114.3,650.8Z" fill="#e6e6e6" />
<path d="M117.9,652.5h1.2M115.4,651.1h1.2M119.4,653.4h1.2M119.8,653.9h1.2" stroke="#f7f7f7" stroke-width="1.2" opacity="0.9" />
<path d="M118.7,649.3h1.2M116.9,649.5h1.2" stroke="#e6e6e6" stroke-width="1.2" />
<path d="M131.4,606.6 C132.0,605.9 133.0,606.0 134.0,605.9 C135.0,605.8 136.4,605.9 137.5,606.2 C138.6,606.5 139.7,606.9 140.6,607.5 C141.5,608.1 142.0,609.5 142.8,609.7 C143.6,609.9 144.5,609.4 145.4,608.8 C146.3,608.1 147.1,606.8 148.0,605.8 C148.9,604.8 149.7,604.1 150.7,603.1 C151.7,602.1 153.1,600.3 154.2,599.6 C155.3,598.9 156.5,598.6 157.2,598.8 C157.8,599.0 158.4,600.4 158.1,601.0 C157.8,601.6 156.6,601.7 155.5,602.3 C154.4,602.9 152.6,603.6 151.5,604.5 C150.4,605.4 149.5,606.4 148.9,607.5 C148.3,608.6 147.8,610.0 148.0,611.0 C148.2,612.0 149.5,612.7 150.2,613.6 C150.9,614.5 152.0,615.1 152.4,616.3 C152.8,617.5 153.0,619.4 152.8,620.7 C152.6,622.0 152.3,623.4 151.1,624.2 C149.9,625.0 147.4,625.3 145.4,625.5 C143.4,625.7 141.4,625.6 139.3,625.5 C137.2,625.4 134.7,625.1 133.1,624.6 C131.5,624.1 130.2,623.4 129.6,622.4 C128.9,621.4 129.1,620.2 129.2,618.9 C129.3,617.6 129.9,616.0 130.1,614.5 C130.3,613.0 130.3,611.4 130.5,610.1 C130.7,608.8 130.8,607.3 131.4,606.6Z" fill="#e6e6e6" />
<path d="M148.6,612.8h1.2M152.4,620.6h1.2M150.7,616.3h1.2M149.7,613.3h1.2M152.3,618.1h1.2M130.1,617.1h1.2M131.0,615.5h1.2M143.1,618.9h1.2M150.1,614.7h1.2M142.3,611.4h1.2M145.2,624.1h1.2M144.7,618.6h1.2M143.5,615.2h1.2M141.8,623.2h1.2M147.3,613.3h1.2M134.2,611.9h1.2M148.5,624.5h1.2M139.7,608.3h1.2M131.7,606.6h1.2M153.9,600.3h1.2M134.3,612.6h1.2M135.2,615.1h1.2M139.2,621.5h1.2M142.9,620.0h1.2M132.3,608.4h1.2M146.4,611.0h1.2M142.8,616.8h1.2M139.9,624.3h1.2M150.2,605.4h1.2M135.0,607.2h1.2M130.4,617.1h1.2M137.7,622.0h1.2M139.3,624.2h1.2M136.0,622.7h1.2M150.3,604.6h1.2M142.8,614.4h1.2M149.3,621.4h1.2M142.9,624.8h1.2M139.9,620.8h1.2M140.2,608.1h1.2M145.4,613.7h1.2M131.8,612.8h1.2M136.6,617.3h1.2M131.5,618.2h1.2M148.8,620.9h1.2M129.5,620.2h1.2M149.2,619.4h1.2M150.5,604.9h1.2M139.7,608.8h1.2M141.3,624.5h1.2M143.5,615.1h1.2M137.9,622.4h1.2M135.4,608.4h1.2M139.1,612.8h1.2M147.5,621.5h1.2M150.3,614.9h1.2M133.0,606.4h1.2M147.4,623.1h1.2M140.3,623.1h1.2M143.5,617.1h1.2M130.6,610.8h1.2M141.4,610.0h1.2M133.6,620.0h1.2M150.8,619.3h1.2M142.5,612.8h1.2M140.2,616.1h1.2M134.2,612.7h1.2M135.5,622.9h1.2M131.4,618.7h1.2M138.6,616.7h1.2M145.3,623.5h1.2M146.9,610.9h1.2M151.0,615.0h1.2M133.8,608.1h1.2M130.3,616.2h1.2M150.1,605.8h1.2M156.0,599.9h1.2M144.8,624.5h1.2M133.0,614.8h1.2M138.3,616.1h1.2M131.1,618.4h1.2M142.5,616.3h1.2M136.0,624.2h1.2M148.0,623.9h1.2M137.8,609.0h1.2M157.4,601.0h1.2M150.7,614.7h1.2M146.9,620.3h1.2M138.0,615.7h1.2M142.7,623.0h1.2M134.7,622.2h1.2M136.3,608.4h1.2M136.1,611.8h1.2M143.8,620.1h1.2M137.2,619.7h1.2M133.3,610.7h1.2M132.9,609.7h1.2M138.9,624.4h1.2" stroke="#f7f7f7" stroke-width="1.2" opacity="0.9" />
<path d="M152.0,603.0h1.2M148.1,605.0h1.2M154.9,601.7h1.2M155.4,601.3h1.2M152.8,620.7h1.2M152.3,600.8h1.2M141.3,626.6h1.2M156.4,598.3h1.2M138.3,626.2h1.2M131.3,616.7h1.2M153.5,604.1h1.2M147.4,610.4h1.2" stroke="#e6e6e6" stroke-width="1.2" />
<path d="M144.5,647.8 C144.6,646.8 145.1,646.6 146.3,646.1 C147.5,645.6 149.6,645.0 151.5,644.7 C153.4,644.4 155.6,644.1 157.7,644.1 C159.8,644.1 161.8,644.3 163.8,644.7 C165.8,645.1 168.3,645.5 169.9,646.5 C171.5,647.5 172.5,648.7 173.4,650.4 C174.3,652.1 175.4,655.0 175.6,656.6 C175.8,658.2 175.3,659.1 174.7,660.1 C174.0,661.1 172.9,661.8 171.7,662.7 C170.5,663.6 168.8,665.1 167.3,665.3 C165.8,665.4 164.4,664.5 162.9,663.6 C161.4,662.7 160.1,661.0 158.5,660.1 C156.9,659.2 154.9,659.0 153.3,658.3 C151.7,657.6 150.2,656.7 148.9,655.7 C147.7,654.7 146.5,653.5 145.8,652.2 C145.1,650.9 144.4,648.8 144.5,647.8Z" fill="#e6e6e6" />
<path d="M171.2,650.3h1.2M147.4,646.5h1.2M165.7,646.3h1.2M165.4,647.3h1.2M153.7,653.5h1.2M159.6,650.2h1.2M166.8,649.1h1.2M155.7,646.2h1.2M149.9,656.0h1.2M152.4,654.7h1.2M149.6,653.8h1.2M159.4,645.7h1.2M173.1,650.6h1.2M166.4,654.7h1.2M170.3,656.8h1.2M151.9,648.4h1.2M154.3,654.3h1.2M167.8,664.0h1.2M169.5,649.3h1.2M161.2,656.1h1.2M165.3,646.4h1.2M173.4,650.7h1.2M154.0,652.4h1.2M159.2,644.4h1.2M168.7,658.0h1.2M164.5,664.0h1.2M158.5,649.5h1.2M170.9,658.0h1.2M166.9,652.1h1.2M158.5,650.1h1.2M149.8,646.9h1.2M155.8,656.1h1.2M160.9,655.1h1.2M169.2,656.6h1.2M152.9,648.1h1.2M156.3,652.4h1.2M161.0,645.6h1.2M165.3,653.1h1.2M163.4,661.6h1.2M160.8,655.4h1.2M165.2,646.9h1.2M161.7,657.5h1.2M159.2,654.6h1.2M165.4,663.2h1.2M156.7,646.1h1.2M154.6,651.9h1.2M169.7,661.3h1.2M159.5,657.3h1.2M170.1,647.5h1.2M146.8,652.5h1.2M162.4,663.0h1.2M170.7,655.1h1.2M157.1,645.8h1.2M170.3,650.8h1.2M164.6,646.5h1.2M165.7,654.2h1.2M166.7,661.8h1.2M165.2,658.4h1.2M157.6,656.0h1.2M158.0,658.9h1.2M154.8,645.4h1.2M151.0,645.3h1.2M152.5,652.7h1.2M153.9,654.3h1.2M163.4,652.6h1.2M171.0,659.6h1.2M162.6,650.9h1.2M149.7,653.1h1.2M170.5,660.4h1.2M162.5,649.6h1.2M167.0,662.1h1.2M152.1,644.8h1.2M161.1,653.7h1.2M169.0,648.7h1.2M165.9,649.4h1.2M150.1,648.8h1.2M146.4,647.2h1.2M154.0,648.6h1.2M155.7,655.0h1.2M168.0,660.4h1.2M153.2,645.5h1.2M161.1,652.2h1.2M167.4,653.4h1.2M161.1,646.7h1.2M164.7,663.6h1.2M152.7,654.1h1.2M172.0,660.6h1.2M158.5,650.7h1.2M150.5,648.1h1.2M161.6,658.5h1.2M163.6,651.4h1.2M168.3,651.2h1.2M148.0,654.0h1.2M150.5,646.0h1.2M157.7,658.4h1.2M164.6,658.9h1.2M166.7,658.4h1.2M158.5,650.5h1.2M163.3,645.1h1.2M168.2,662.6h1.2M156.7,652.0h1.2M153.0,652.8h1.2M168.7,648.0h1.2M159.6,655.8h1.2M164.1,656.2h1.2M155.8,649.2h1.2M165.9,658.6h1.2M147.5,649.1h1.2" stroke="#f7f7f7" stroke-width="1.2" opacity="0.9" />
<path d="M156.7,643.2h1.2M172.7,649.5h1.2M157.1,644.4h1.2M176.1,660.3h1.2M160.1,659.0h1.2M146.4,652.0h1.2M146.0,648.8h1.2M149.5,655.8h1.2M167.8,664.5h1.2" stroke="#e6e6e6" stroke-width="1.2" />
<path d="M103.8,682.0 C104.5,680.0 105.7,678.0 107.7,676.8 C109.7,675.5 113.0,674.9 115.6,674.5 C118.2,674.1 121.2,674.3 123.5,674.4 C125.8,674.5 128.5,674.0 129.6,675.3 C130.7,676.6 130.3,679.1 130.2,682.0 C130.1,684.9 129.6,689.4 128.9,692.5 C128.2,695.6 127.9,698.6 126.3,700.4 C124.7,702.2 121.7,703.3 119.5,703.4 C117.3,703.5 115.2,702.1 113.0,700.8 C110.8,699.5 108.0,697.4 106.4,695.4 C104.8,693.4 104.0,690.8 103.6,688.6 C103.2,686.4 103.1,684.0 103.8,682.0Z" fill="#e6e6e6" />
<path d="M116.9,692.4h1.2M128.5,693.3h1.2M123.1,684.6h1.2M111.4,691.2h1.2M115.8,682.1h1.2M105.6,682.7h1.2M128.8,685.4h1.2M121.3,687.1h1.2M108.1,680.1h1.2M124.8,694.5h1.2M107.0,690.6h1.2M116.8,682.7h1.2M113.9,696.5h1.2M117.2,697.3h1.2M118.6,678.3h1.2M111.4,692.8h1.2M107.9,682.4h1.2M111.4,694.3h1.2M110.9,692.6h1.2M121.0,679.8h1.2M127.2,679.9h1.2M112.9,688.2h1.2M119.2,674.5h1.2M114.7,683.8h1.2M112.5,684.4h1.2M124.4,674.9h1.2M118.0,680.9h1.2M110.8,694.6h1.2M113.4,696.7h1.2M121.4,684.1h1.2M123.0,676.1h1.2M114.1,684.8h1.2M129.3,680.6h1.2M128.0,680.3h1.2M128.6,690.3h1.2M121.9,680.7h1.2M127.9,677.0h1.2M125.1,693.0h1.2M120.0,677.9h1.2M125.6,696.2h1.2M112.0,679.1h1.2M124.9,681.0h1.2M113.6,682.3h1.2M127.0,687.7h1.2M122.4,684.0h1.2M118.6,698.0h1.2M119.9,682.1h1.2M128.2,690.1h1.2M128.0,681.8h1.2M116.1,675.0h1.2M109.1,688.2h1.2M129.0,687.2h1.2M113.6,681.8h1.2M117.7,691.2h1.2M121.7,689.4h1.2M120.9,680.8h1.2M127.2,696.9h1.2M127.0,683.5h1.2M116.0,700.5h1.2M118.1,699.8h1.2M112.2,689.3h1.2M107.7,679.8h1.2M123.8,676.4h1.2M128.9,687.7h1.2M119.5,683.7h1.2M112.7,683.8h1.2M104.3,686.6h1.2M127.3,676.9h1.2M103.7,687.1h1.2M129.0,688.1h1.2M129.6,682.2h1.2M105.0,684.3h1.2M110.2,680.5h1.2M129.7,683.4h1.2M128.5,691.2h1.2M122.7,694.1h1.2M126.2,695.5h1.2M116.9,681.8h1.2M112.0,697.3h1.2M123.3,680.1h1.2M129.4,686.2h1.2M128.4,691.9h1.2M129.0,677.8h1.2M126.9,683.8h1.2M115.8,685.9h1.2M112.1,691.0h1.2M127.1,682.1h1.2M127.7,688.5h1.2M113.7,690.1h1.2M129.6,683.6h1.2M123.7,678.9h1.2M118.4,677.0h1.2M106.8,688.6h1.2M108.9,693.3h1.2M112.8,696.8h1.2M118.9,695.0h1.2M116.7,698.8h1.2M112.1,683.5h1.2M127.3,687.2h1.2M122.9,685.8h1.2M114.2,701.0h1.2M119.5,693.2h1.2M120.8,692.4h1.2M116.8,695.4h1.2M115.9,691.8h1.2M127.2,696.9h1.2M109.7,692.1h1.2M118.3,678.0h1.2M120.2,698.6h1.2M106.9,684.9h1.2M107.1,679.5h1.2M122.3,693.2h1.2M113.2,698.0h1.2M122.5,695.5h1.2M121.8,679.4h1.2M120.4,691.1h1.2M118.3,694.8h1.2M103.9,686.6h1.2M107.1,680.3h1.2M123.7,692.6h1.2M112.6,686.1h1.2M115.3,700.7h1.2M121.9,692.7h1.2M118.5,688.3h1.2M105.9,693.0h1.2M118.8,686.8h1.2M108.8,688.5h1.2M126.5,681.5h1.2M128.4,676.3h1.2M118.6,676.6h1.2M105.9,680.9h1.2M110.8,693.3h1.2M123.3,687.0h1.2M122.7,701.3h1.2M111.5,682.7h1.2M126.3,698.8h1.2M118.5,677.7h1.2M116.4,677.9h1.2M116.5,679.5h1.2M121.6,693.2h1.2M119.6,685.2h1.2M121.3,701.7h1.2M127.7,689.1h1.2M116.6,700.7h1.2M111.4,680.8h1.2M123.3,699.0h1.2M127.4,693.7h1.2M119.1,677.6h1.2M108.1,686.2h1.2M124.3,689.2h1.2M124.4,683.1h1.2M110.5,695.9h1.2" stroke="#f7f7f7" stroke-width="1.2" opacity="0.9" />
<path d="M112.5,700.8h1.2M127.3,684.2h1.2M109.0,700.1h1.2M130.7,683.2h1.2M123.7,703.3h1.2M117.2,675.6h1.2M129.2,695.0h1.2M124.8,701.6h1.2M108.0,679.9h1.2M127.5,687.4h1.2" stroke="#e6e6e6" stroke-width="1.2" />
</g>
<circle cx="578.5" cy="674.0" r="0.56" fill="#f03a2a" opacity="0.8"/>
<circle cx="583.5" cy="678.0" r="0.48" fill="#f03a2a" opacity="0.8"/>
<circle cx="571.5" cy="683.0" r="0.40" fill="#f03a2a" opacity="0.8"/>
<circle cx="565.5" cy="709.0" r="0.56" fill="#f03a2a" opacity="0.8"/>
<circle cx="567.5" cy="712.0" r="0.48" fill="#f03a2a" opacity="0.8"/>
<circle cx="563.5" cy="706.0" r="0.40" fill="#f03a2a" opacity="0.8"/>
<circle cx="606.5" cy="715.0" r="0.32" fill="#f03a2a" opacity="0.8"/>
<ellipse cx="564.9" cy="708.7" rx="16.6" ry="10.6" transform="rotate(14 564.9 708.7)" fill="none" stroke="#555" stroke-width="1.4" stroke-dasharray="3.8,2.2"/>
<text x="2.5" y="785.7" font-size="25" fill="#000" >g</text>
<rect x="67" y="782.7" width="13.6" height="7" fill="#d9d9d9" stroke="#000" stroke-width="1"/>
<text x="90.0" y="790.6" font-size="11.4" fill="#000" ><tspan font-style="italic">Il4i1</tspan><tspan dy="-4.2" font-size="7.8">cre</tspan><tspan dy="4.2">DTR+IMQ</tspan></text>
<rect x="184" y="782.7" width="15.7" height="7" fill="#b00000" stroke="#000" stroke-width="1"/>
<text x="206.0" y="790.6" font-size="11.6" fill="#000" ><tspan font-style="italic">Il4i1</tspan><tspan dy="-4.2" font-size="7.8">cre</tspan><tspan dy="4.2">DTR+DT+IMQ</tspan></text>
<rect x="68.2" y="810.0" width="64.3" height="9.2" fill="#d9d9d9" stroke="#000" stroke-width="1"/>
<rect x="132.5" y="810.0" width="91.8" height="9.2" fill="#b00000" stroke="#000" stroke-width="1"/>
<line x1="62.6" y1="814.6" x2="68.2" y2="814.6" stroke="#000" stroke-width="1.2" />
<text x="60.5" y="818.6" font-size="11.3" text-anchor="end" fill="#000" >Mast cell</text>
<rect x="68.2" y="825.2" width="124.2" height="9.2" fill="#d9d9d9" stroke="#000" stroke-width="1"/>
<rect x="192.4" y="825.2" width="92.4" height="9.2" fill="#b00000" stroke="#000" stroke-width="1"/>
<line x1="62.6" y1="829.9" x2="68.2" y2="829.9" stroke="#000" stroke-width="1.2" />
<text x="60.5" y="833.9" font-size="11.3" text-anchor="end" fill="#000" >T cell</text>
<rect x="68.2" y="840.5" width="6.1" height="9.2" fill="#d9d9d9" stroke="#000" stroke-width="1"/>
<rect x="74.3" y="840.5" width="3.7" height="9.2" fill="#b00000" stroke="#000" stroke-width="1"/>
<line x1="62.6" y1="845.1" x2="68.2" y2="845.1" stroke="#000" stroke-width="1.2" />
<text x="60.5" y="849.1" font-size="11.3" text-anchor="end" fill="#000" >Granulocyte</text>
<rect x="68.2" y="855.8" width="4.0" height="9.2" fill="#d9d9d9" stroke="#000" stroke-width="1"/>
<rect x="72.2" y="855.8" width="5.2" height="9.2" fill="#b00000" stroke="#000" stroke-width="1"/>
<line x1="62.6" y1="860.4" x2="68.2" y2="860.4" stroke="#000" stroke-width="1.2" />
<text x="60.5" y="864.4" font-size="11.3" text-anchor="end" fill="#000" >LC</text>
<rect x="68.2" y="871.0" width="16.2" height="9.2" fill="#d9d9d9" stroke="#000" stroke-width="1"/>
<rect x="84.4" y="871.0" width="4.3" height="9.2" fill="#b00000" stroke="#000" stroke-width="1"/>
<line x1="62.6" y1="875.6" x2="68.2" y2="875.6" stroke="#000" stroke-width="1.2" />
<text x="60.5" y="879.6" font-size="11.3" text-anchor="end" fill="#000" >CCR7<tspan dy="-4" font-size="7.5">+</tspan><tspan dy="4"> DC</tspan></text>
<rect x="68.2" y="886.2" width="15.0" height="9.2" fill="#d9d9d9" stroke="#000" stroke-width="1"/>
<rect x="83.2" y="886.2" width="26.0" height="9.2" fill="#b00000" stroke="#000" stroke-width="1"/>
<line x1="62.6" y1="890.9" x2="68.2" y2="890.9" stroke="#000" stroke-width="1.2" />
<text x="60.5" y="894.9" font-size="11.3" text-anchor="end" fill="#000" >cDC</text>
<rect x="68.2" y="901.5" width="69.2" height="9.2" fill="#d9d9d9" stroke="#000" stroke-width="1"/>
<rect x="137.4" y="901.5" width="85.4" height="9.2" fill="#b00000" stroke="#000" stroke-width="1"/>
<line x1="62.6" y1="906.1" x2="68.2" y2="906.1" stroke="#000" stroke-width="1.2" />
<text x="60.5" y="910.1" font-size="11.3" text-anchor="end" fill="#000" >Mac/mono</text>
<line x1="68.2" y1="804.0" x2="68.2" y2="917.3" stroke="#000" stroke-width="1.6" />
<line x1="67.4" y1="916.6" x2="312.7" y2="916.6" stroke="#000" stroke-width="1.6" />
<line x1="68.2" y1="916.0" x2="68.2" y2="921.5" stroke="#000" stroke-width="1.4" />
<text x="68.2" y="935.0" font-size="11" text-anchor="middle" fill="#000" >0</text>
<line x1="129.4" y1="916.0" x2="129.4" y2="921.5" stroke="#000" stroke-width="1.4" />
<text x="129.4" y="935.0" font-size="11" text-anchor="middle" fill="#000" >20</text>
<line x1="190.6" y1="916.0" x2="190.6" y2="921.5" stroke="#000" stroke-width="1.4" />
<text x="190.6" y="935.0" font-size="11" text-anchor="middle" fill="#000" >40</text>
<line x1="251.8" y1="916.0" x2="251.8" y2="921.5" stroke="#000" stroke-width="1.4" />
<text x="251.8" y="935.0" font-size="11" text-anchor="middle" fill="#000" >60</text>
<line x1="313.0" y1="916.0" x2="313.0" y2="921.5" stroke="#000" stroke-width="1.4" />
<text x="313.0" y="935.0" font-size="11" text-anchor="middle" fill="#000" >80</text>
<text x="166.5" y="949.5" font-size="11" text-anchor="middle" fill="#000" >% CD45<tspan dy="-4" font-size="7.5">+</tspan><tspan dy="4"> cells</tspan></text>
<text x="328.4" y="785.7" font-size="25.2" fill="#000" >i</text>
<line x1="372.0" y1="785.2" x2="372.0" y2="917.1" stroke="#000" stroke-width="1.6" />
<line x1="371.2" y1="916.3" x2="504.0" y2="916.3" stroke="#000" stroke-width="1.6" />
<line x1="367.0" y1="916.3" x2="372.0" y2="916.3" stroke="#000" stroke-width="1.4" />
<text x="366.5" y="920.1" font-size="10.8" text-anchor="end" fill="#000" >0</text>
<line x1="367.0" y1="890.2" x2="372.0" y2="890.2" stroke="#000" stroke-width="1.4" />
<text x="366.5" y="894.0" font-size="10.8" text-anchor="end" fill="#000" >10</text>
<line x1="367.0" y1="864.1" x2="372.0" y2="864.1" stroke="#000" stroke-width="1.4" />
<text x="366.5" y="867.9" font-size="10.8" text-anchor="end" fill="#000" >20</text>
<line x1="367.0" y1="837.9" x2="372.0" y2="837.9" stroke="#000" stroke-width="1.4" />
<text x="366.5" y="841.7" font-size="10.8" text-anchor="end" fill="#000" >30</text>
<line x1="367.0" y1="811.8" x2="372.0" y2="811.8" stroke="#000" stroke-width="1.4" />
<text x="366.5" y="815.6" font-size="10.8" text-anchor="end" fill="#000" >40</text>
<line x1="367.0" y1="785.7" x2="372.0" y2="785.7" stroke="#000" stroke-width="1.4" />
<text x="366.5" y="789.5" font-size="10.8" text-anchor="end" fill="#000" >50</text>
<line x1="391.7" y1="916.3" x2="391.7" y2="921.3" stroke="#000" stroke-width="1.4" />
<line x1="422.0" y1="916.3" x2="422.0" y2="921.3" stroke="#000" stroke-width="1.4" />
<line x1="452.2" y1="916.3" x2="452.2" y2="921.3" stroke="#000" stroke-width="1.4" />
<line x1="482.4" y1="916.3" x2="482.4" y2="921.3" stroke="#000" stroke-width="1.4" />
<text transform="translate(346.8,851.0) rotate(-90)" font-size="10.4" text-anchor="middle" fill="#000">CD200<tspan dy="-3.5" font-size="7">+</tspan><tspan dy="3.5"> DC % cDC2 Cells</tspan></text>
<line x1="391.7" y1="854.9" x2="391.7" y2="882.3" stroke="#1f3fe0" stroke-width="1.2" />
<line x1="391.7" y1="884.2" x2="391.7" y2="886.8" stroke="#1f3fe0" stroke-width="1.2" />
<line x1="386.7" y1="854.9" x2="396.7" y2="854.9" stroke="#1f3fe0" stroke-width="1.2" />
<line x1="386.7" y1="886.8" x2="396.7" y2="886.8" stroke="#1f3fe0" stroke-width="1.2" />
<rect x="381.7" y="882.3" width="20.0" height="1.8" fill="none" stroke="#1f3fe0" stroke-width="1.2"/>
<line x1="381.7" y1="883.4" x2="401.7" y2="883.4" stroke="#1f3fe0" stroke-width="1.2" />
<line x1="422.0" y1="875.8" x2="422.0" y2="885.5" stroke="#f39019" stroke-width="1.2" />
<line x1="422.0" y1="887.0" x2="422.0" y2="890.7" stroke="#f39019" stroke-width="1.2" />
<line x1="417.0" y1="875.8" x2="427.0" y2="875.8" stroke="#f39019" stroke-width="1.2" />
<line x1="417.0" y1="890.7" x2="427.0" y2="890.7" stroke="#f39019" stroke-width="1.2" />
<rect x="412.0" y="885.5" width="20.0" height="1.6" fill="none" stroke="#f39019" stroke-width="1.2"/>
<line x1="412.0" y1="886.3" x2="432.0" y2="886.3" stroke="#f39019" stroke-width="1.2" />
<line x1="452.2" y1="820.2" x2="452.2" y2="828.5" stroke="#000" stroke-width="1.2" />
<line x1="452.2" y1="856.2" x2="452.2" y2="862.8" stroke="#000" stroke-width="1.2" />
<line x1="447.4" y1="820.2" x2="457.0" y2="820.2" stroke="#000" stroke-width="1.2" />
<line x1="447.4" y1="862.8" x2="457.0" y2="862.8" stroke="#000" stroke-width="1.2" />
<rect x="442.6" y="828.5" width="19.2" height="27.7" fill="#d9d9d9" stroke="#000" stroke-width="1.2"/>
<line x1="442.6" y1="842.6" x2="461.8" y2="842.6" stroke="#000" stroke-width="1.2" />
<line x1="482.4" y1="856.7" x2="482.4" y2="860.1" stroke="#000" stroke-width="1.2" />
<line x1="482.4" y1="878.9" x2="482.4" y2="880.8" stroke="#000" stroke-width="1.2" />
<line x1="477.6" y1="856.7" x2="487.2" y2="856.7" stroke="#000" stroke-width="1.2" />
<line x1="477.6" y1="880.8" x2="487.2" y2="880.8" stroke="#000" stroke-width="1.2" />
<rect x="472.8" y="860.1" width="19.2" height="18.8" fill="#b00000" stroke="#000" stroke-width="1.2"/>
<line x1="472.8" y1="863.3" x2="492.0" y2="863.3" stroke="#000" stroke-width="1.2" />
<line x1="452.2" y1="803.4" x2="482.4" y2="803.4" stroke="#000" stroke-width="1.3" />
<line x1="452.2" y1="798.9" x2="452.2" y2="808.9" stroke="#000" stroke-width="1.3" />
<line x1="482.4" y1="798.9" x2="482.4" y2="808.9" stroke="#000" stroke-width="1.3" />
<text x="467.3" y="794.8" font-size="10.5" text-anchor="middle" fill="#000" >0.0179</text>
<text x="391.7" y="932.3" font-size="10.5" text-anchor="middle" fill="#000" >-</text>
<text x="391.7" y="948.0" font-size="10.5" text-anchor="middle" fill="#000" >-</text>
<text x="422.0" y="932.3" font-size="10.5" text-anchor="middle" fill="#000" >+</text>
<text x="422.0" y="948.0" font-size="10.5" text-anchor="middle" fill="#000" >-</text>
<text x="452.2" y="932.3" font-size="10.5" text-anchor="middle" fill="#000" >-</text>
<text x="452.2" y="948.0" font-size="10.5" text-anchor="middle" fill="#000" >+</text>
<text x="482.4" y="932.3" font-size="10.5" text-anchor="middle" fill="#000" >+</text>
<text x="482.4" y="948.0" font-size="10.5" text-anchor="middle" fill="#000" >+</text>
<text x="356.3" y="934.0" font-size="10.8" fill="#000" >DT</text>
<text x="355.5" y="949.2" font-size="10.8" fill="#000" >IMQ</text>
<text x="501.6" y="786.7" font-size="25.2" fill="#000" >j</text>
<line x1="555.4" y1="786.5" x2="555.4" y2="916.3" stroke="#000" stroke-width="1.6" />
<line x1="554.6" y1="915.5" x2="687.4" y2="915.5" stroke="#000" stroke-width="1.6" />
<line x1="550.4" y1="915.5" x2="555.4" y2="915.5" stroke="#000" stroke-width="1.4" />
<text x="549.9" y="919.3" font-size="10.8" text-anchor="end" fill="#000" >0</text>
<line x1="550.4" y1="883.4" x2="555.4" y2="883.4" stroke="#000" stroke-width="1.4" />
<text x="549.9" y="887.2" font-size="10.8" text-anchor="end" fill="#000" >30</text>
<line x1="550.4" y1="851.2" x2="555.4" y2="851.2" stroke="#000" stroke-width="1.4" />
<text x="549.9" y="855.0" font-size="10.8" text-anchor="end" fill="#000" >60</text>
<line x1="550.4" y1="819.1" x2="555.4" y2="819.1" stroke="#000" stroke-width="1.4" />
<text x="549.9" y="822.9" font-size="10.8" text-anchor="end" fill="#000" >90</text>
<line x1="550.4" y1="787.0" x2="555.4" y2="787.0" stroke="#000" stroke-width="1.4" />
<text x="549.9" y="790.8" font-size="10.8" text-anchor="end" fill="#000" >120</text>
<line x1="575.2" y1="915.5" x2="575.2" y2="920.5" stroke="#000" stroke-width="1.4" />
<line x1="604.8" y1="915.5" x2="604.8" y2="920.5" stroke="#000" stroke-width="1.4" />
<line x1="634.5" y1="915.5" x2="634.5" y2="920.5" stroke="#000" stroke-width="1.4" />
<line x1="664.5" y1="915.5" x2="664.5" y2="920.5" stroke="#000" stroke-width="1.4" />
<text transform="translate(525.8,851.2) rotate(-90)" font-size="10.4" text-anchor="middle" fill="#000">IL-23 heterodimer (pg/ml)</text>
<line x1="575.2" y1="877.7" x2="575.2" y2="877.7" stroke="#1f3fe0" stroke-width="1.2" />
<line x1="575.2" y1="879.9" x2="575.2" y2="880.2" stroke="#1f3fe0" stroke-width="1.2" />
<line x1="570.5" y1="877.7" x2="580.0" y2="877.7" stroke="#1f3fe0" stroke-width="1.2" />
<line x1="570.5" y1="880.2" x2="580.0" y2="880.2" stroke="#1f3fe0" stroke-width="1.2" />
<rect x="565.7" y="877.7" width="19.0" height="2.2" fill="#1f3fe0" stroke="#1f3fe0" stroke-width="1.2"/>
<line x1="565.7" y1="879.1" x2="584.7" y2="879.1" stroke="#1f3fe0" stroke-width="1.2" />
<line x1="604.8" y1="883.4" x2="604.8" y2="883.4" stroke="#f39019" stroke-width="1.2" />
<line x1="604.8" y1="885.1" x2="604.8" y2="887.3" stroke="#f39019" stroke-width="1.2" />
<line x1="600.0" y1="883.4" x2="609.6" y2="883.4" stroke="#f39019" stroke-width="1.2" />
<line x1="600.0" y1="887.3" x2="609.6" y2="887.3" stroke="#f39019" stroke-width="1.2" />
<rect x="595.2" y="883.4" width="19.2" height="1.7" fill="#f39019" stroke="#f39019" stroke-width="1.2"/>
<line x1="595.2" y1="884.4" x2="614.4" y2="884.4" stroke="#f39019" stroke-width="1.2" />
<line x1="634.5" y1="797.7" x2="634.5" y2="807.9" stroke="#000" stroke-width="1.2" />
<line x1="634.5" y1="836.8" x2="634.5" y2="851.2" stroke="#000" stroke-width="1.2" />
<line x1="629.7" y1="797.7" x2="639.3" y2="797.7" stroke="#000" stroke-width="1.2" />
<line x1="629.7" y1="851.2" x2="639.3" y2="851.2" stroke="#000" stroke-width="1.2" />
<rect x="624.9" y="807.9" width="19.2" height="28.9" fill="#d9d9d9" stroke="#000" stroke-width="1.2"/>
<line x1="624.9" y1="823.4" x2="644.1" y2="823.4" stroke="#000" stroke-width="1.2" />
<line x1="664.5" y1="869.4" x2="664.5" y2="872.7" stroke="#000" stroke-width="1.2" />
<line x1="664.5" y1="882.0" x2="664.5" y2="883.9" stroke="#000" stroke-width="1.2" />
<line x1="659.8" y1="869.4" x2="669.2" y2="869.4" stroke="#000" stroke-width="1.2" />
<line x1="659.8" y1="883.9" x2="669.2" y2="883.9" stroke="#000" stroke-width="1.2" />
<rect x="655.0" y="872.7" width="19.0" height="9.3" fill="#b00000" stroke="#000" stroke-width="1.2"/>
<line x1="655.0" y1="879.6" x2="674.0" y2="879.6" stroke="#000" stroke-width="1.2" />
<line x1="634.5" y1="787.6" x2="664.5" y2="787.6" stroke="#000" stroke-width="1.3" />
<line x1="634.5" y1="783.1" x2="634.5" y2="793.1" stroke="#000" stroke-width="1.3" />
<line x1="664.5" y1="783.1" x2="664.5" y2="793.1" stroke="#000" stroke-width="1.3" />
<text x="649.5" y="779.0" font-size="10.5" text-anchor="middle" fill="#000" >0.0002</text>
<text x="575.2" y="931.3" font-size="10.5" text-anchor="middle" fill="#000" >-</text>
<text x="575.2" y="946.3" font-size="10.5" text-anchor="middle" fill="#000" >-</text>
<text x="604.8" y="931.3" font-size="10.5" text-anchor="middle" fill="#000" >+</text>
<text x="604.8" y="946.3" font-size="10.5" text-anchor="middle" fill="#000" >-</text>
<text x="634.5" y="931.3" font-size="10.5" text-anchor="middle" fill="#000" >-</text>
<text x="634.5" y="946.3" font-size="10.5" text-anchor="middle" fill="#000" >+</text>
<text x="664.5" y="931.3" font-size="10.5" text-anchor="middle" fill="#000" >+</text>
<text x="664.5" y="946.3" font-size="10.5" text-anchor="middle" fill="#000" >+</text>
<text x="540.5" y="932.1" font-size="10.8" fill="#000" >DT</text>
<text x="537.0" y="946.0" font-size="10.8" fill="#000" >IMQ</text>
</svg></body></html>
